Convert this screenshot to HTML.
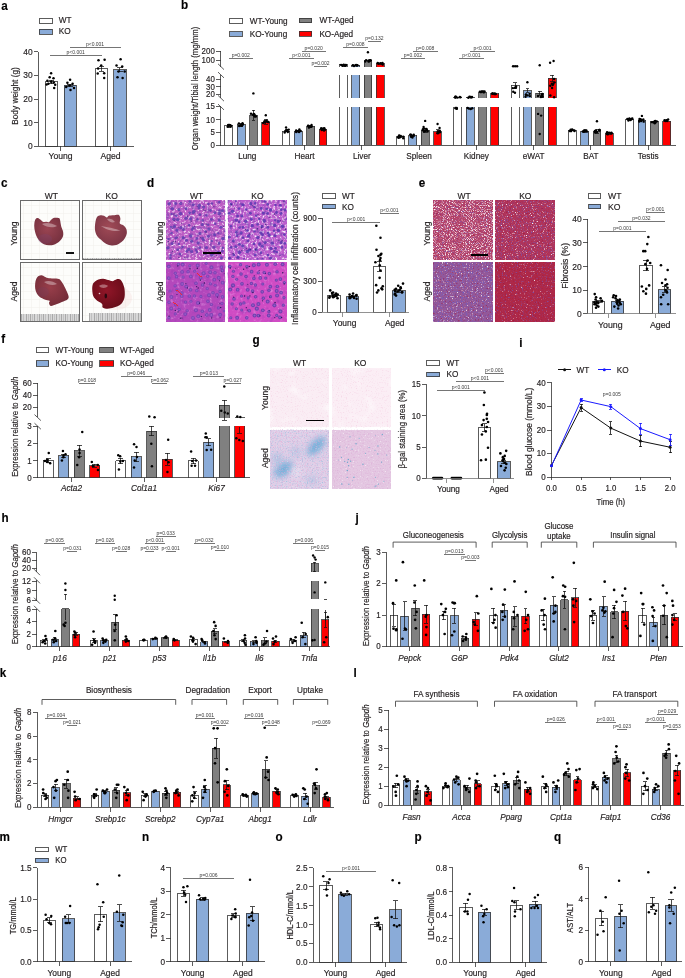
<!DOCTYPE html>
<html><head><meta charset="utf-8"><style>
html,body{margin:0;padding:0;background:#fff;}
svg{display:block;will-change:transform;}
rect,line{shape-rendering:crispEdges;}
line.s{shape-rendering:auto;}
text{font-family:"Liberation Sans", sans-serif;stroke:currentColor;stroke-width:0.18px;}
</style></head><body>
<svg width="685" height="978" viewBox="0 0 685 978">
<defs><radialGradient id="lg1" cx="0.45" cy="0.4" r="0.65"><stop offset="0" stop-color="#9a4452"/><stop offset="1" stop-color="#74303e"/></radialGradient><radialGradient id="lg2" cx="0.45" cy="0.4" r="0.65"><stop offset="0" stop-color="#a04a56"/><stop offset="1" stop-color="#7a3444"/></radialGradient><radialGradient id="lg3" cx="0.45" cy="0.4" r="0.65"><stop offset="0" stop-color="#983e4a"/><stop offset="1" stop-color="#722c38"/></radialGradient><radialGradient id="lg4" cx="0.45" cy="0.4" r="0.65"><stop offset="0" stop-color="#901628"/><stop offset="1" stop-color="#660c18"/></radialGradient><filter id="n1" filterUnits="userSpaceOnUse" x="166.2" y="200.2" width="59" height="59.5" color-interpolation-filters="sRGB"><feTurbulence type="fractalNoise" baseFrequency="0.45" numOctaves="2" seed="11"/><feColorMatrix type="matrix" values="0 0 0 0 0.98 0 0 0 0 0.91 0 0 0 0 0.98 3.32 0 0 0 -1.66"/></filter><filter id="n2" filterUnits="userSpaceOnUse" x="166.2" y="200.2" width="59" height="59.5" color-interpolation-filters="sRGB"><feTurbulence type="fractalNoise" baseFrequency="0.3" numOctaves="2" seed="51"/><feColorMatrix type="matrix" values="0 0 0 0 0.44 0 0 0 0 0.25 0 0 0 0 0.69 0 2.1 0 0 -1.09"/></filter><filter id="n3" filterUnits="userSpaceOnUse" x="227.9" y="200.2" width="59" height="59.5" color-interpolation-filters="sRGB"><feTurbulence type="fractalNoise" baseFrequency="0.45" numOctaves="2" seed="12"/><feColorMatrix type="matrix" values="0 0 0 0 0.98 0 0 0 0 0.91 0 0 0 0 0.98 3.32 0 0 0 -1.6"/></filter><filter id="n4" filterUnits="userSpaceOnUse" x="227.9" y="200.2" width="59" height="59.5" color-interpolation-filters="sRGB"><feTurbulence type="fractalNoise" baseFrequency="0.3" numOctaves="2" seed="52"/><feColorMatrix type="matrix" values="0 0 0 0 0.44 0 0 0 0 0.25 0 0 0 0 0.69 0 2.1 0 0 -1.09"/></filter><filter id="n5" filterUnits="userSpaceOnUse" x="166.2" y="262.1" width="59" height="59.4" color-interpolation-filters="sRGB"><feTurbulence type="fractalNoise" baseFrequency="0.3" numOctaves="2" seed="13"/><feColorMatrix type="matrix" values="0 0 0 0 0.91 0 0 0 0 0.63 0 0 0 0 0.91 1.65 0 0 0 -0.91"/></filter><filter id="n6" filterUnits="userSpaceOnUse" x="166.2" y="262.1" width="59" height="59.4" color-interpolation-filters="sRGB"><feTurbulence type="fractalNoise" baseFrequency="0.2" numOctaves="2" seed="63"/><feColorMatrix type="matrix" values="0 0 0 0 0.54 0 0 0 0 0.19 0 0 0 0 0.69 0 1.2 0 0 -0.66"/></filter><filter id="n7" filterUnits="userSpaceOnUse" x="166.2" y="262.1" width="59" height="59.4" color-interpolation-filters="sRGB"><feTurbulence type="fractalNoise" baseFrequency="0.6" numOctaves="2" seed="83"/><feColorMatrix type="matrix" values="0 0 0 0 1 0 0 0 0 1 0 0 0 0 1 0 0 2.4 0 -1.73"/></filter><filter id="n8" filterUnits="userSpaceOnUse" x="227.9" y="262.1" width="59" height="59.4" color-interpolation-filters="sRGB"><feTurbulence type="fractalNoise" baseFrequency="0.3" numOctaves="2" seed="14"/><feColorMatrix type="matrix" values="0 0 0 0 0.91 0 0 0 0 0.63 0 0 0 0 0.91 1.65 0 0 0 -0.91"/></filter><filter id="n9" filterUnits="userSpaceOnUse" x="227.9" y="262.1" width="59" height="59.4" color-interpolation-filters="sRGB"><feTurbulence type="fractalNoise" baseFrequency="0.2" numOctaves="2" seed="64"/><feColorMatrix type="matrix" values="0 0 0 0 0.54 0 0 0 0 0.19 0 0 0 0 0.69 0 1.2 0 0 -0.66"/></filter><filter id="n10" filterUnits="userSpaceOnUse" x="227.9" y="262.1" width="59" height="59.4" color-interpolation-filters="sRGB"><feTurbulence type="fractalNoise" baseFrequency="0.6" numOctaves="2" seed="84"/><feColorMatrix type="matrix" values="0 0 0 0 1 0 0 0 0 1 0 0 0 0 1 0 0 2.4 0 -1.73"/></filter><filter id="n11" filterUnits="userSpaceOnUse" x="433.4" y="200.2" width="59.4" height="59.5" color-interpolation-filters="sRGB"><feTurbulence type="fractalNoise" baseFrequency="0.8" numOctaves="2" seed="51"/><feColorMatrix type="matrix" values="0 0 0 0 0.42 0 0 0 0 0.36 0 0 0 0 0.78 0 2.8 0 0 -1.57"/></filter><filter id="n12" filterUnits="userSpaceOnUse" x="433.4" y="200.2" width="59.4" height="59.5" color-interpolation-filters="sRGB"><feTurbulence type="fractalNoise" baseFrequency="0.95" numOctaves="2" seed="21"/><feColorMatrix type="matrix" values="0 0 0 0 1 0 0 0 0 0.96 0 0 0 0 0.97 3.8 0 0 0 -1.86"/></filter><filter id="n13" filterUnits="userSpaceOnUse" x="433.4" y="200.2" width="59.4" height="59.5" color-interpolation-filters="sRGB"><feTurbulence type="fractalNoise" baseFrequency="0.6" numOctaves="2" seed="81"/><feColorMatrix type="matrix" values="0 0 0 0 0.63 0 0 0 0 0.06 0 0 0 0 0.19 0 0 2 0 -1.12"/></filter><filter id="n14" filterUnits="userSpaceOnUse" x="495" y="200.2" width="59.5" height="59.5" color-interpolation-filters="sRGB"><feTurbulence type="fractalNoise" baseFrequency="0.8" numOctaves="2" seed="52"/><feColorMatrix type="matrix" values="0 0 0 0 0.42 0 0 0 0 0.36 0 0 0 0 0.78 0 2.8 0 0 -1.51"/></filter><filter id="n15" filterUnits="userSpaceOnUse" x="495" y="200.2" width="59.5" height="59.5" color-interpolation-filters="sRGB"><feTurbulence type="fractalNoise" baseFrequency="0.9" numOctaves="2" seed="22"/><feColorMatrix type="matrix" values="0 0 0 0 1 0 0 0 0 0.96 0 0 0 0 0.97 3.8 0 0 0 -2.28"/></filter><filter id="n16" filterUnits="userSpaceOnUse" x="495" y="200.2" width="59.5" height="59.5" color-interpolation-filters="sRGB"><feTurbulence type="fractalNoise" baseFrequency="0.6" numOctaves="2" seed="82"/><feColorMatrix type="matrix" values="0 0 0 0 0.63 0 0 0 0 0.06 0 0 0 0 0.19 0 0 2 0 -1.12"/></filter><filter id="n17" filterUnits="userSpaceOnUse" x="433.4" y="262.1" width="59.4" height="59.4" color-interpolation-filters="sRGB"><feTurbulence type="fractalNoise" baseFrequency="0.8" numOctaves="2" seed="53"/><feColorMatrix type="matrix" values="0 0 0 0 0.42 0 0 0 0 0.36 0 0 0 0 0.78 0 2.8 0 0 -1.4"/></filter><filter id="n18" filterUnits="userSpaceOnUse" x="433.4" y="262.1" width="59.4" height="59.4" color-interpolation-filters="sRGB"><feTurbulence type="fractalNoise" baseFrequency="0.8" numOctaves="2" seed="23"/><feColorMatrix type="matrix" values="0 0 0 0 1 0 0 0 0 0.96 0 0 0 0 0.97 3.8 0 0 0 -2.36"/></filter><filter id="n19" filterUnits="userSpaceOnUse" x="433.4" y="262.1" width="59.4" height="59.4" color-interpolation-filters="sRGB"><feTurbulence type="fractalNoise" baseFrequency="0.6" numOctaves="2" seed="83"/><feColorMatrix type="matrix" values="0 0 0 0 0.63 0 0 0 0 0.06 0 0 0 0 0.19 0 0 2 0 -1.12"/></filter><filter id="n20" filterUnits="userSpaceOnUse" x="495" y="262.1" width="59.5" height="59.4" color-interpolation-filters="sRGB"><feTurbulence type="fractalNoise" baseFrequency="0.8" numOctaves="2" seed="54"/><feColorMatrix type="matrix" values="0 0 0 0 0.42 0 0 0 0 0.36 0 0 0 0 0.78 0 2.8 0 0 -1.62"/></filter><filter id="n21" filterUnits="userSpaceOnUse" x="495" y="262.1" width="59.5" height="59.4" color-interpolation-filters="sRGB"><feTurbulence type="fractalNoise" baseFrequency="0.7" numOctaves="2" seed="24"/><feColorMatrix type="matrix" values="0 0 0 0 1 0 0 0 0 0.96 0 0 0 0 0.97 3.8 0 0 0 -2.51"/></filter><filter id="n22" filterUnits="userSpaceOnUse" x="495" y="262.1" width="59.5" height="59.4" color-interpolation-filters="sRGB"><feTurbulence type="fractalNoise" baseFrequency="0.6" numOctaves="2" seed="84"/><feColorMatrix type="matrix" values="0 0 0 0 0.63 0 0 0 0 0.06 0 0 0 0 0.19 0 0 2 0 -1.12"/></filter><filter id="n23" filterUnits="userSpaceOnUse" x="270.4" y="368" width="58.4" height="59.1" color-interpolation-filters="sRGB"><feTurbulence type="fractalNoise" baseFrequency="0.8" numOctaves="2" seed="31"/><feColorMatrix type="matrix" values="0 0 0 0 0.94 0 0 0 0 0.72 0 0 0 0 0.83 1.26 0 0 0 -0.69"/></filter><filter id="n24" filterUnits="userSpaceOnUse" x="270.4" y="368" width="58.4" height="59.1" color-interpolation-filters="sRGB"><feTurbulence type="fractalNoise" baseFrequency="0.08" numOctaves="2" seed="36"/><feColorMatrix type="matrix" values="0 0 0 0 1 0 0 0 0 1 0 0 0 0 1 0 1.5 0 0 -0.83"/></filter><filter id="n25" filterUnits="userSpaceOnUse" x="332.1" y="368" width="58.5" height="59.1" color-interpolation-filters="sRGB"><feTurbulence type="fractalNoise" baseFrequency="0.8" numOctaves="2" seed="32"/><feColorMatrix type="matrix" values="0 0 0 0 0.94 0 0 0 0 0.72 0 0 0 0 0.83 1.26 0 0 0 -0.69"/></filter><filter id="n26" filterUnits="userSpaceOnUse" x="332.1" y="368" width="58.5" height="59.1" color-interpolation-filters="sRGB"><feTurbulence type="fractalNoise" baseFrequency="0.08" numOctaves="2" seed="37"/><feColorMatrix type="matrix" values="0 0 0 0 1 0 0 0 0 1 0 0 0 0 1 0 1.5 0 0 -0.83"/></filter><filter id="gb1" filterUnits="userSpaceOnUse" x="270.4" y="429.8" width="58.4" height="59.1"><feGaussianBlur stdDeviation="3.2"/></filter><filter id="n27" filterUnits="userSpaceOnUse" x="270.4" y="429.8" width="58.4" height="59.1" color-interpolation-filters="sRGB"><feTurbulence type="fractalNoise" baseFrequency="0.8" numOctaves="2" seed="33"/><feColorMatrix type="matrix" values="0 0 0 0 0.89 0 0 0 0 0.66 0 0 0 0 0.83 2.1 0 0 0 -1.05"/></filter><filter id="n28" filterUnits="userSpaceOnUse" x="270.4" y="429.8" width="58.4" height="59.1" color-interpolation-filters="sRGB"><feTurbulence type="fractalNoise" baseFrequency="0.8" numOctaves="2" seed="40"/><feColorMatrix type="matrix" values="0 0 0 0 0.55 0 0 0 0 0.75 0 0 0 0 0.88 0 1.95 0 0 -1.05"/></filter><filter id="n29" filterUnits="userSpaceOnUse" x="270.4" y="429.8" width="58.4" height="59.1" color-interpolation-filters="sRGB"><feTurbulence type="fractalNoise" baseFrequency="0.8" numOctaves="2" seed="42"/><feColorMatrix type="matrix" values="0 0 0 0 1 0 0 0 0 1 0 0 0 0 1 0 0 1.35 0 -0.84"/></filter><filter id="n30" filterUnits="userSpaceOnUse" x="332.1" y="429.8" width="58.5" height="59.1" color-interpolation-filters="sRGB"><feTurbulence type="fractalNoise" baseFrequency="0.7" numOctaves="2" seed="34"/><feColorMatrix type="matrix" values="0 0 0 0 0.85 0 0 0 0 0.63 0 0 0 0 0.82 1.5 0 0 0 -0.75"/></filter><filter id="n31" filterUnits="userSpaceOnUse" x="332.1" y="429.8" width="58.5" height="59.1" color-interpolation-filters="sRGB"><feTurbulence type="fractalNoise" baseFrequency="0.6" numOctaves="2" seed="37"/><feColorMatrix type="matrix" values="0 0 0 0 1 0 0 0 0 1 0 0 0 0 1 0 3.5 0 0 -2.31"/></filter></defs>
<rect width="685" height="978" fill="#fff"/><g fill="#231f20" color="#231f20">
<text x="0" y="0" font-size="13" font-weight="bold" fill="#000" transform="translate(1.3 9.6) scale(0.9 1)">a</text>
<rect x="39" y="18" width="13" height="5" fill="#ffffff" stroke="#333333" stroke-width="0.8"/>
<text x="0" y="0" font-size="9.02" transform="translate(58.7 23.45) scale(0.91 1)">WT</text>
<rect x="39" y="29" width="13" height="5" fill="#8aabd8" stroke="#333333" stroke-width="0.8"/>
<text x="0" y="0" font-size="9.02" transform="translate(58.7 34.45) scale(0.91 1)">KO</text>
<line x1="38.4" y1="51.6" x2="38.4" y2="146.3" stroke="#333333" stroke-width="0.8"/>
<line x1="34" y1="146.3" x2="38.4" y2="146.3" stroke="#333333" stroke-width="0.8"/>
<text x="0" y="0" font-size="9.24" text-anchor="end" transform="translate(32.6 149.32) scale(0.91 1)">0</text>
<line x1="34" y1="122.65" x2="38.4" y2="122.65" stroke="#333333" stroke-width="0.8"/>
<text x="0" y="0" font-size="9.24" text-anchor="end" transform="translate(32.6 125.67) scale(0.91 1)">10</text>
<line x1="34" y1="99" x2="38.4" y2="99" stroke="#333333" stroke-width="0.8"/>
<text x="0" y="0" font-size="9.24" text-anchor="end" transform="translate(32.6 102.02) scale(0.91 1)">20</text>
<line x1="34" y1="75.35" x2="38.4" y2="75.35" stroke="#333333" stroke-width="0.8"/>
<text x="0" y="0" font-size="9.24" text-anchor="end" transform="translate(32.6 78.37) scale(0.91 1)">30</text>
<line x1="34" y1="51.7" x2="38.4" y2="51.7" stroke="#333333" stroke-width="0.8"/>
<text x="0" y="0" font-size="9.24" text-anchor="end" transform="translate(32.6 54.72) scale(0.91 1)">40</text>
<rect x="45.4" y="81.97" width="12.2" height="64.33" fill="#ffffff" stroke="#333333" stroke-width="0.8"/>
<rect x="64" y="85.28" width="12.2" height="61.02" fill="#8aabd8" stroke="#333333" stroke-width="0.8"/>
<rect x="95" y="68.96" width="12.7" height="77.34" fill="#ffffff" stroke="#333333" stroke-width="0.8"/>
<rect x="113.8" y="69.67" width="12.3" height="76.63" fill="#8aabd8" stroke="#333333" stroke-width="0.8"/>
<line x1="51.5" y1="80.08" x2="51.5" y2="83.86" stroke="#111" stroke-width="0.75"/>
<line x1="48.82" y1="80.08" x2="54.18" y2="80.08" stroke="#111" stroke-width="0.75"/>
<line x1="48.82" y1="83.86" x2="54.18" y2="83.86" stroke="#111" stroke-width="0.75"/>
<circle cx="51.1" cy="73.2" r="1.25" fill="#000"/>
<circle cx="49.7" cy="77.3" r="1.25" fill="#000"/>
<circle cx="53.5" cy="78.3" r="1.25" fill="#000"/>
<circle cx="47.4" cy="80.7" r="1.25" fill="#000"/>
<circle cx="51.1" cy="81.7" r="1.25" fill="#000"/>
<circle cx="53.8" cy="82.4" r="1.25" fill="#000"/>
<circle cx="48.4" cy="83.8" r="1.25" fill="#000"/>
<circle cx="55.2" cy="84.8" r="1.25" fill="#000"/>
<circle cx="54.2" cy="87.9" r="1.25" fill="#000"/>
<circle cx="46.6" cy="84.6" r="1.25" fill="#000"/>
<line x1="70.1" y1="84.1" x2="70.1" y2="86.47" stroke="#111" stroke-width="0.75"/>
<line x1="67.42" y1="84.1" x2="72.78" y2="84.1" stroke="#111" stroke-width="0.75"/>
<line x1="67.42" y1="86.47" x2="72.78" y2="86.47" stroke="#111" stroke-width="0.75"/>
<circle cx="70.1" cy="79.7" r="1.25" fill="#000"/>
<circle cx="67.4" cy="82.8" r="1.25" fill="#000"/>
<circle cx="72.6" cy="83.8" r="1.25" fill="#000"/>
<circle cx="69.5" cy="85.6" r="1.25" fill="#000"/>
<circle cx="74" cy="87.9" r="1.25" fill="#000"/>
<circle cx="70.5" cy="89.9" r="1.25" fill="#000"/>
<circle cx="66.2" cy="87" r="1.25" fill="#000"/>
<line x1="101.35" y1="66.6" x2="101.35" y2="71.33" stroke="#111" stroke-width="0.75"/>
<line x1="98.56" y1="66.6" x2="104.14" y2="66.6" stroke="#111" stroke-width="0.75"/>
<line x1="98.56" y1="71.33" x2="104.14" y2="71.33" stroke="#111" stroke-width="0.75"/>
<circle cx="98.5" cy="60.3" r="1.25" fill="#000"/>
<circle cx="104.6" cy="59.7" r="1.25" fill="#000"/>
<circle cx="98.1" cy="68.5" r="1.25" fill="#000"/>
<circle cx="101.2" cy="65.4" r="1.25" fill="#000"/>
<circle cx="97.7" cy="73.6" r="1.25" fill="#000"/>
<circle cx="104.2" cy="73.2" r="1.25" fill="#000"/>
<circle cx="104.2" cy="78.1" r="1.25" fill="#000"/>
<line x1="119.95" y1="67.55" x2="119.95" y2="71.8" stroke="#111" stroke-width="0.75"/>
<line x1="117.24" y1="67.55" x2="122.66" y2="67.55" stroke="#111" stroke-width="0.75"/>
<line x1="117.24" y1="71.8" x2="122.66" y2="71.8" stroke="#111" stroke-width="0.75"/>
<circle cx="120.6" cy="59.3" r="1.25" fill="#000"/>
<circle cx="116.5" cy="65.4" r="1.25" fill="#000"/>
<circle cx="122.2" cy="66.4" r="1.25" fill="#000"/>
<circle cx="118.5" cy="71.5" r="1.25" fill="#000"/>
<circle cx="124.7" cy="71.5" r="1.25" fill="#000"/>
<circle cx="117.5" cy="77.3" r="1.25" fill="#000"/>
<circle cx="122.6" cy="78.1" r="1.25" fill="#000"/>
<line x1="38" y1="146.3" x2="134" y2="146.3" stroke="#333333" stroke-width="0.8"/>
<line x1="60.5" y1="146.3" x2="60.5" y2="150.9" stroke="#333333" stroke-width="0.8"/>
<line x1="110.6" y1="146.3" x2="110.6" y2="150.9" stroke="#333333" stroke-width="0.8"/>
<text x="0" y="0" font-size="9.46" text-anchor="middle" transform="translate(60.5 159.4) scale(0.91 1)">Young</text>
<text x="0" y="0" font-size="9.46" text-anchor="middle" transform="translate(110.6 159.4) scale(0.91 1)">Aged</text>
<text x="0" y="0" font-size="9.13" text-anchor="middle" transform="translate(18.2 96) rotate(-90) scale(0.91 1)">Body weight (g)</text>
<line x1="49.7" y1="55.3" x2="101.6" y2="55.3" stroke="#666" stroke-width="0.9"/>
<text x="75.65" y="53.8" font-size="5" text-anchor="middle" fill="#3a3a3a" style="stroke:none">p&lt;0.001</text>
<line x1="69.5" y1="47.6" x2="120.6" y2="47.6" stroke="#666" stroke-width="0.9"/>
<text x="95.05" y="46.1" font-size="5" text-anchor="middle" fill="#3a3a3a" style="stroke:none">p&lt;0.001</text>
<text x="0" y="0" font-size="13" font-weight="bold" fill="#000" transform="translate(-0.4 841) scale(0.9 1)">m</text>
<rect x="35.4" y="847.4" width="13" height="4.5" fill="#ffffff" stroke="#333333" stroke-width="0.8"/>
<text x="0" y="0" font-size="8.58" transform="translate(55.2 852.46) scale(0.91 1)">WT</text>
<rect x="35.4" y="858" width="13" height="4.1" fill="#8aabd8" stroke="#333333" stroke-width="0.8"/>
<text x="0" y="0" font-size="8.58" transform="translate(55.2 862.86) scale(0.91 1)">KO</text>
<line x1="37.4" y1="867.8" x2="37.4" y2="961.8" stroke="#333333" stroke-width="0.8"/>
<line x1="33" y1="961.8" x2="37.4" y2="961.8" stroke="#333333" stroke-width="0.8"/>
<text x="0" y="0" font-size="9.02" text-anchor="end" transform="translate(31.6 964.75) scale(0.91 1)">0.0</text>
<line x1="33" y1="930.5" x2="37.4" y2="930.5" stroke="#333333" stroke-width="0.8"/>
<text x="0" y="0" font-size="9.02" text-anchor="end" transform="translate(31.6 933.45) scale(0.91 1)">0.5</text>
<line x1="33" y1="899.2" x2="37.4" y2="899.2" stroke="#333333" stroke-width="0.8"/>
<text x="0" y="0" font-size="9.02" text-anchor="end" transform="translate(31.6 902.15) scale(0.91 1)">1.0</text>
<line x1="33" y1="867.9" x2="37.4" y2="867.9" stroke="#333333" stroke-width="0.8"/>
<text x="0" y="0" font-size="9.02" text-anchor="end" transform="translate(31.6 870.85) scale(0.91 1)">1.5</text>
<rect x="43.3" y="920.48" width="12.5" height="41.32" fill="#ffffff" stroke="#333333" stroke-width="0.8"/>
<rect x="62.3" y="918.61" width="12.5" height="43.19" fill="#8aabd8" stroke="#333333" stroke-width="0.8"/>
<rect x="94.4" y="914.22" width="12.3" height="47.58" fill="#ffffff" stroke="#333333" stroke-width="0.8"/>
<rect x="113.4" y="912.97" width="11.9" height="48.83" fill="#8aabd8" stroke="#333333" stroke-width="0.8"/>
<line x1="49.55" y1="917.98" x2="49.55" y2="922.99" stroke="#111" stroke-width="0.75"/>
<line x1="46.8" y1="917.98" x2="52.3" y2="917.98" stroke="#111" stroke-width="0.75"/>
<line x1="46.8" y1="922.99" x2="52.3" y2="922.99" stroke="#111" stroke-width="0.75"/>
<circle cx="45.63" cy="914.85" r="1.25" fill="#000"/>
<circle cx="51.22" cy="916.1" r="1.25" fill="#000"/>
<circle cx="46.52" cy="919.23" r="1.25" fill="#000"/>
<circle cx="49.23" cy="922.99" r="1.25" fill="#000"/>
<circle cx="51.01" cy="924.24" r="1.25" fill="#000"/>
<line x1="68.55" y1="914.85" x2="68.55" y2="922.36" stroke="#111" stroke-width="0.75"/>
<line x1="65.8" y1="914.85" x2="71.3" y2="914.85" stroke="#111" stroke-width="0.75"/>
<line x1="65.8" y1="922.36" x2="71.3" y2="922.36" stroke="#111" stroke-width="0.75"/>
<circle cx="70.12" cy="906.09" r="1.25" fill="#000"/>
<circle cx="65.11" cy="916.73" r="1.25" fill="#000"/>
<circle cx="65.72" cy="922.99" r="1.25" fill="#000"/>
<circle cx="69.44" cy="922.99" r="1.25" fill="#000"/>
<circle cx="67.09" cy="922.99" r="1.25" fill="#000"/>
<line x1="100.55" y1="906.71" x2="100.55" y2="921.74" stroke="#111" stroke-width="0.75"/>
<line x1="97.84" y1="906.71" x2="103.26" y2="906.71" stroke="#111" stroke-width="0.75"/>
<line x1="97.84" y1="921.74" x2="103.26" y2="921.74" stroke="#111" stroke-width="0.75"/>
<circle cx="97.46" cy="884.18" r="1.25" fill="#000"/>
<circle cx="103.19" cy="902.33" r="1.25" fill="#000"/>
<circle cx="103.73" cy="916.73" r="1.25" fill="#000"/>
<circle cx="99.59" cy="924.87" r="1.25" fill="#000"/>
<circle cx="98.68" cy="927.37" r="1.25" fill="#000"/>
<circle cx="98.01" cy="929.25" r="1.25" fill="#000"/>
<line x1="119.35" y1="904.83" x2="119.35" y2="921.11" stroke="#111" stroke-width="0.75"/>
<line x1="116.73" y1="904.83" x2="121.97" y2="904.83" stroke="#111" stroke-width="0.75"/>
<line x1="116.73" y1="921.11" x2="121.97" y2="921.11" stroke="#111" stroke-width="0.75"/>
<circle cx="119.22" cy="875.41" r="1.25" fill="#000"/>
<circle cx="116.91" cy="911.72" r="1.25" fill="#000"/>
<circle cx="123.27" cy="914.85" r="1.25" fill="#000"/>
<circle cx="122.68" cy="922.36" r="1.25" fill="#000"/>
<circle cx="121.34" cy="925.49" r="1.25" fill="#000"/>
<circle cx="122.07" cy="926.12" r="1.25" fill="#000"/>
<line x1="37" y1="961.8" x2="131.8" y2="961.8" stroke="#333333" stroke-width="0.8"/>
<line x1="59.3" y1="961.8" x2="59.3" y2="966.4" stroke="#333333" stroke-width="0.8"/>
<line x1="110" y1="961.8" x2="110" y2="966.4" stroke="#333333" stroke-width="0.8"/>
<text x="0" y="0" font-size="9.24" text-anchor="middle" transform="translate(59.3 975.5) scale(0.91 1)">Young</text>
<text x="0" y="0" font-size="9.24" text-anchor="middle" transform="translate(110 975.5) scale(0.91 1)">Aged</text>
<text x="0" y="0" font-size="8.25" text-anchor="middle" transform="translate(16.1 915.8) rotate(-90) scale(0.91 1)">TG/mmol/L</text>
<text x="0" y="0" font-size="13" font-weight="bold" fill="#000" transform="translate(142 841) scale(0.9 1)">n</text>
<line x1="170.8" y1="867.8" x2="170.8" y2="961.8" stroke="#333333" stroke-width="0.8"/>
<line x1="166.4" y1="961.8" x2="170.8" y2="961.8" stroke="#333333" stroke-width="0.8"/>
<text x="0" y="0" font-size="9.02" text-anchor="end" transform="translate(165 964.75) scale(0.91 1)">0</text>
<line x1="166.4" y1="938.3" x2="170.8" y2="938.3" stroke="#333333" stroke-width="0.8"/>
<text x="0" y="0" font-size="9.02" text-anchor="end" transform="translate(165 941.25) scale(0.91 1)">1</text>
<line x1="166.4" y1="914.8" x2="170.8" y2="914.8" stroke="#333333" stroke-width="0.8"/>
<text x="0" y="0" font-size="9.02" text-anchor="end" transform="translate(165 917.75) scale(0.91 1)">2</text>
<line x1="166.4" y1="891.3" x2="170.8" y2="891.3" stroke="#333333" stroke-width="0.8"/>
<text x="0" y="0" font-size="9.02" text-anchor="end" transform="translate(165 894.25) scale(0.91 1)">3</text>
<line x1="166.4" y1="867.8" x2="170.8" y2="867.8" stroke="#333333" stroke-width="0.8"/>
<text x="0" y="0" font-size="9.02" text-anchor="end" transform="translate(165 870.75) scale(0.91 1)">4</text>
<rect x="177.3" y="893.41" width="12.3" height="68.38" fill="#ffffff" stroke="#333333" stroke-width="0.8"/>
<rect x="196.3" y="899.05" width="12.3" height="62.75" fill="#8aabd8" stroke="#333333" stroke-width="0.8"/>
<rect x="227.4" y="915.5" width="12.4" height="46.29" fill="#ffffff" stroke="#333333" stroke-width="0.8"/>
<rect x="246.4" y="913.39" width="12.2" height="48.41" fill="#8aabd8" stroke="#333333" stroke-width="0.8"/>
<line x1="183.45" y1="890.36" x2="183.45" y2="896.47" stroke="#111" stroke-width="0.75"/>
<line x1="180.74" y1="890.36" x2="186.16" y2="890.36" stroke="#111" stroke-width="0.75"/>
<line x1="180.74" y1="896.47" x2="186.16" y2="896.47" stroke="#111" stroke-width="0.75"/>
<circle cx="187.36" cy="886.13" r="1.25" fill="#000"/>
<circle cx="183.44" cy="887.3" r="1.25" fill="#000"/>
<circle cx="184.14" cy="892.47" r="1.25" fill="#000"/>
<circle cx="185.2" cy="894.82" r="1.25" fill="#000"/>
<circle cx="186.03" cy="901.88" r="1.25" fill="#000"/>
<line x1="202.45" y1="897.88" x2="202.45" y2="900.23" stroke="#111" stroke-width="0.75"/>
<line x1="199.74" y1="897.88" x2="205.16" y2="897.88" stroke="#111" stroke-width="0.75"/>
<line x1="199.74" y1="900.23" x2="205.16" y2="900.23" stroke="#111" stroke-width="0.75"/>
<circle cx="199.03" cy="895.29" r="1.25" fill="#000"/>
<circle cx="205.31" cy="897.88" r="1.25" fill="#000"/>
<circle cx="203.29" cy="898.82" r="1.25" fill="#000"/>
<circle cx="200.05" cy="899.29" r="1.25" fill="#000"/>
<circle cx="204.79" cy="899.52" r="1.25" fill="#000"/>
<line x1="233.6" y1="913.62" x2="233.6" y2="917.38" stroke="#111" stroke-width="0.75"/>
<line x1="230.87" y1="913.62" x2="236.33" y2="913.62" stroke="#111" stroke-width="0.75"/>
<line x1="230.87" y1="917.38" x2="236.33" y2="917.38" stroke="#111" stroke-width="0.75"/>
<circle cx="235.19" cy="909.16" r="1.25" fill="#000"/>
<circle cx="235.74" cy="913.62" r="1.25" fill="#000"/>
<circle cx="232.37" cy="915.5" r="1.25" fill="#000"/>
<circle cx="235.3" cy="916.44" r="1.25" fill="#000"/>
<circle cx="235.38" cy="917.15" r="1.25" fill="#000"/>
<circle cx="231.37" cy="919.03" r="1.25" fill="#000"/>
<line x1="252.5" y1="906.57" x2="252.5" y2="920.2" stroke="#111" stroke-width="0.75"/>
<line x1="249.82" y1="906.57" x2="255.18" y2="906.57" stroke="#111" stroke-width="0.75"/>
<line x1="249.82" y1="920.2" x2="255.18" y2="920.2" stroke="#111" stroke-width="0.75"/>
<circle cx="249.99" cy="879.78" r="1.25" fill="#000"/>
<circle cx="252.04" cy="912.45" r="1.25" fill="#000"/>
<circle cx="251.2" cy="915.97" r="1.25" fill="#000"/>
<circle cx="249.21" cy="917.15" r="1.25" fill="#000"/>
<circle cx="252.95" cy="920.67" r="1.25" fill="#000"/>
<circle cx="248.66" cy="925.38" r="1.25" fill="#000"/>
<line x1="170.4" y1="961.8" x2="265.4" y2="961.8" stroke="#333333" stroke-width="0.8"/>
<line x1="192.6" y1="961.8" x2="192.6" y2="966.4" stroke="#333333" stroke-width="0.8"/>
<line x1="242.9" y1="961.8" x2="242.9" y2="966.4" stroke="#333333" stroke-width="0.8"/>
<text x="0" y="0" font-size="9.24" text-anchor="middle" transform="translate(192.6 975.5) scale(0.91 1)">Young</text>
<text x="0" y="0" font-size="9.24" text-anchor="middle" transform="translate(242.9 975.5) scale(0.91 1)">Aged</text>
<line x1="183.4" y1="878.4" x2="233.7" y2="878.4" stroke="#666" stroke-width="0.9"/>
<text x="208.55" y="876.9" font-size="5" text-anchor="middle" fill="#3a3a3a" style="stroke:none">p=0.006</text>
<text x="0" y="0" font-size="8.25" text-anchor="middle" transform="translate(156.6 917.9) rotate(-90) scale(0.91 1)">TCh/mmol/L</text>
<text x="0" y="0" font-size="13" font-weight="bold" fill="#000" transform="translate(275.5 841) scale(0.9 1)">o</text>
<line x1="313.3" y1="867.8" x2="313.3" y2="962.4" stroke="#333333" stroke-width="0.8"/>
<line x1="308.9" y1="962.4" x2="313.3" y2="962.4" stroke="#333333" stroke-width="0.8"/>
<text x="0" y="0" font-size="9.02" text-anchor="end" transform="translate(307.5 965.35) scale(0.91 1)">0.0</text>
<line x1="308.9" y1="943.5" x2="313.3" y2="943.5" stroke="#333333" stroke-width="0.8"/>
<text x="0" y="0" font-size="9.02" text-anchor="end" transform="translate(307.5 946.45) scale(0.91 1)">0.5</text>
<line x1="308.9" y1="924.6" x2="313.3" y2="924.6" stroke="#333333" stroke-width="0.8"/>
<text x="0" y="0" font-size="9.02" text-anchor="end" transform="translate(307.5 927.55) scale(0.91 1)">1.0</text>
<line x1="308.9" y1="905.7" x2="313.3" y2="905.7" stroke="#333333" stroke-width="0.8"/>
<text x="0" y="0" font-size="9.02" text-anchor="end" transform="translate(307.5 908.65) scale(0.91 1)">1.5</text>
<line x1="308.9" y1="886.8" x2="313.3" y2="886.8" stroke="#333333" stroke-width="0.8"/>
<text x="0" y="0" font-size="9.02" text-anchor="end" transform="translate(307.5 889.75) scale(0.91 1)">2.0</text>
<line x1="308.9" y1="867.9" x2="313.3" y2="867.9" stroke="#333333" stroke-width="0.8"/>
<text x="0" y="0" font-size="9.02" text-anchor="end" transform="translate(307.5 870.85) scale(0.91 1)">2.5</text>
<rect x="319.7" y="885.29" width="12.6" height="77.11" fill="#ffffff" stroke="#333333" stroke-width="0.8"/>
<rect x="338.9" y="894.36" width="12.2" height="68.04" fill="#8aabd8" stroke="#333333" stroke-width="0.8"/>
<rect x="370.1" y="924.6" width="12.3" height="37.8" fill="#ffffff" stroke="#333333" stroke-width="0.8"/>
<rect x="389.6" y="909.86" width="11.8" height="52.54" fill="#8aabd8" stroke="#333333" stroke-width="0.8"/>
<line x1="326" y1="881.51" x2="326" y2="889.07" stroke="#111" stroke-width="0.75"/>
<line x1="323.23" y1="881.51" x2="328.77" y2="881.51" stroke="#111" stroke-width="0.75"/>
<line x1="323.23" y1="889.07" x2="328.77" y2="889.07" stroke="#111" stroke-width="0.75"/>
<circle cx="323.24" cy="876.22" r="1.25" fill="#000"/>
<circle cx="329.59" cy="879.24" r="1.25" fill="#000"/>
<circle cx="328.47" cy="883.02" r="1.25" fill="#000"/>
<circle cx="326.33" cy="889.45" r="1.25" fill="#000"/>
<circle cx="326.95" cy="895.49" r="1.25" fill="#000"/>
<line x1="345" y1="893.23" x2="345" y2="895.49" stroke="#111" stroke-width="0.75"/>
<line x1="342.32" y1="893.23" x2="347.68" y2="893.23" stroke="#111" stroke-width="0.75"/>
<line x1="342.32" y1="895.49" x2="347.68" y2="895.49" stroke="#111" stroke-width="0.75"/>
<circle cx="347.25" cy="891.34" r="1.25" fill="#000"/>
<circle cx="340.9" cy="892.85" r="1.25" fill="#000"/>
<circle cx="349.14" cy="894.36" r="1.25" fill="#000"/>
<circle cx="341.7" cy="895.12" r="1.25" fill="#000"/>
<circle cx="343.9" cy="895.87" r="1.25" fill="#000"/>
<line x1="376.25" y1="922.33" x2="376.25" y2="926.87" stroke="#111" stroke-width="0.75"/>
<line x1="373.54" y1="922.33" x2="378.96" y2="922.33" stroke="#111" stroke-width="0.75"/>
<line x1="373.54" y1="926.87" x2="378.96" y2="926.87" stroke="#111" stroke-width="0.75"/>
<circle cx="377.46" cy="917.8" r="1.25" fill="#000"/>
<circle cx="375.28" cy="918.17" r="1.25" fill="#000"/>
<circle cx="378.61" cy="922.71" r="1.25" fill="#000"/>
<circle cx="378.27" cy="925.36" r="1.25" fill="#000"/>
<circle cx="379.9" cy="927.62" r="1.25" fill="#000"/>
<circle cx="380.08" cy="929.14" r="1.25" fill="#000"/>
<line x1="395.5" y1="900.79" x2="395.5" y2="918.93" stroke="#111" stroke-width="0.75"/>
<line x1="392.9" y1="900.79" x2="398.1" y2="900.79" stroke="#111" stroke-width="0.75"/>
<line x1="392.9" y1="918.93" x2="398.1" y2="918.93" stroke="#111" stroke-width="0.75"/>
<circle cx="392.67" cy="880.37" r="1.25" fill="#000"/>
<circle cx="399.16" cy="883.02" r="1.25" fill="#000"/>
<circle cx="391.63" cy="917.04" r="1.25" fill="#000"/>
<circle cx="394.12" cy="925.36" r="1.25" fill="#000"/>
<circle cx="399.42" cy="925.36" r="1.25" fill="#000"/>
<circle cx="396.88" cy="926.49" r="1.25" fill="#000"/>
<line x1="312.9" y1="962.4" x2="407.3" y2="962.4" stroke="#333333" stroke-width="0.8"/>
<line x1="335.4" y1="962.4" x2="335.4" y2="967" stroke="#333333" stroke-width="0.8"/>
<line x1="385.5" y1="962.4" x2="385.5" y2="967" stroke="#333333" stroke-width="0.8"/>
<text x="0" y="0" font-size="9.24" text-anchor="middle" transform="translate(335.4 975.5) scale(0.91 1)">Young</text>
<text x="0" y="0" font-size="9.24" text-anchor="middle" transform="translate(385.5 975.5) scale(0.91 1)">Aged</text>
<line x1="326.2" y1="871.3" x2="375.9" y2="871.3" stroke="#666" stroke-width="0.9"/>
<text x="351.05" y="869.8" font-size="5" text-anchor="middle" fill="#3a3a3a" style="stroke:none">p&lt;0.001</text>
<text x="0" y="0" font-size="8.25" text-anchor="middle" transform="translate(293.2 914.8) rotate(-90) scale(0.91 1)">HDL-C/mmol/L</text>
<text x="0" y="0" font-size="13" font-weight="bold" fill="#000" transform="translate(414.6 841.2) scale(0.9 1)">p</text>
<line x1="452.9" y1="868.1" x2="452.9" y2="962.3" stroke="#333333" stroke-width="0.8"/>
<line x1="448.5" y1="962.3" x2="452.9" y2="962.3" stroke="#333333" stroke-width="0.8"/>
<text x="0" y="0" font-size="9.02" text-anchor="end" transform="translate(447.1 965.25) scale(0.91 1)">0.0</text>
<line x1="448.5" y1="938.72" x2="452.9" y2="938.72" stroke="#333333" stroke-width="0.8"/>
<text x="0" y="0" font-size="9.02" text-anchor="end" transform="translate(447.1 941.67) scale(0.91 1)">0.2</text>
<line x1="448.5" y1="915.14" x2="452.9" y2="915.14" stroke="#333333" stroke-width="0.8"/>
<text x="0" y="0" font-size="9.02" text-anchor="end" transform="translate(447.1 918.09) scale(0.91 1)">0.4</text>
<line x1="448.5" y1="891.56" x2="452.9" y2="891.56" stroke="#333333" stroke-width="0.8"/>
<text x="0" y="0" font-size="9.02" text-anchor="end" transform="translate(447.1 894.51) scale(0.91 1)">0.6</text>
<line x1="448.5" y1="867.98" x2="452.9" y2="867.98" stroke="#333333" stroke-width="0.8"/>
<text x="0" y="0" font-size="9.02" text-anchor="end" transform="translate(447.1 870.93) scale(0.91 1)">0.8</text>
<rect x="459.3" y="907.48" width="12.7" height="54.82" fill="#ffffff" stroke="#333333" stroke-width="0.8"/>
<rect x="478.3" y="912.19" width="12.3" height="50.11" fill="#8aabd8" stroke="#333333" stroke-width="0.8"/>
<rect x="510.1" y="905.12" width="12.7" height="57.18" fill="#ffffff" stroke="#333333" stroke-width="0.8"/>
<rect x="529.1" y="904.06" width="12.1" height="58.24" fill="#8aabd8" stroke="#333333" stroke-width="0.8"/>
<line x1="465.65" y1="903.35" x2="465.65" y2="911.6" stroke="#111" stroke-width="0.75"/>
<line x1="462.86" y1="903.35" x2="468.44" y2="903.35" stroke="#111" stroke-width="0.75"/>
<line x1="462.86" y1="911.6" x2="468.44" y2="911.6" stroke="#111" stroke-width="0.75"/>
<circle cx="469.62" cy="893.92" r="1.25" fill="#000"/>
<circle cx="467.97" cy="899.81" r="1.25" fill="#000"/>
<circle cx="467.39" cy="911.6" r="1.25" fill="#000"/>
<circle cx="464.79" cy="911.6" r="1.25" fill="#000"/>
<circle cx="467.76" cy="913.96" r="1.25" fill="#000"/>
<line x1="484.45" y1="909.24" x2="484.45" y2="915.14" stroke="#111" stroke-width="0.75"/>
<line x1="481.74" y1="909.24" x2="487.16" y2="909.24" stroke="#111" stroke-width="0.75"/>
<line x1="481.74" y1="915.14" x2="487.16" y2="915.14" stroke="#111" stroke-width="0.75"/>
<circle cx="481.44" cy="905.71" r="1.25" fill="#000"/>
<circle cx="486.63" cy="909.24" r="1.25" fill="#000"/>
<circle cx="484.31" cy="913.96" r="1.25" fill="#000"/>
<circle cx="483.13" cy="916.32" r="1.25" fill="#000"/>
<circle cx="483.52" cy="922.21" r="1.25" fill="#000"/>
<line x1="516.45" y1="900.99" x2="516.45" y2="909.25" stroke="#111" stroke-width="0.75"/>
<line x1="513.66" y1="900.99" x2="519.24" y2="900.99" stroke="#111" stroke-width="0.75"/>
<line x1="513.66" y1="909.25" x2="519.24" y2="909.25" stroke="#111" stroke-width="0.75"/>
<circle cx="514.08" cy="888.02" r="1.25" fill="#000"/>
<circle cx="512.23" cy="900.99" r="1.25" fill="#000"/>
<circle cx="514.46" cy="902.17" r="1.25" fill="#000"/>
<circle cx="515.04" cy="911.6" r="1.25" fill="#000"/>
<circle cx="520.48" cy="909.24" r="1.25" fill="#000"/>
<circle cx="514.79" cy="916.32" r="1.25" fill="#000"/>
<line x1="535.15" y1="901.46" x2="535.15" y2="906.65" stroke="#111" stroke-width="0.75"/>
<line x1="532.49" y1="901.46" x2="537.81" y2="901.46" stroke="#111" stroke-width="0.75"/>
<line x1="532.49" y1="906.65" x2="537.81" y2="906.65" stroke="#111" stroke-width="0.75"/>
<circle cx="537.95" cy="895.1" r="1.25" fill="#000"/>
<circle cx="534.91" cy="897.45" r="1.25" fill="#000"/>
<circle cx="536.84" cy="905.71" r="1.25" fill="#000"/>
<circle cx="531.36" cy="908.07" r="1.25" fill="#000"/>
<circle cx="537.97" cy="908.07" r="1.25" fill="#000"/>
<circle cx="534.57" cy="908.07" r="1.25" fill="#000"/>
<line x1="452.5" y1="962.3" x2="546.5" y2="962.3" stroke="#333333" stroke-width="0.8"/>
<line x1="475.1" y1="962.3" x2="475.1" y2="966.9" stroke="#333333" stroke-width="0.8"/>
<line x1="525.5" y1="962.3" x2="525.5" y2="966.9" stroke="#333333" stroke-width="0.8"/>
<text x="0" y="0" font-size="9.24" text-anchor="middle" transform="translate(475.1 975.5) scale(0.91 1)">Young</text>
<text x="0" y="0" font-size="9.24" text-anchor="middle" transform="translate(525.5 975.5) scale(0.91 1)">Aged</text>
<text x="0" y="0" font-size="8.25" text-anchor="middle" transform="translate(433.5 915.7) rotate(-90) scale(0.91 1)">LDL-C/mmol/L</text>
<text x="0" y="0" font-size="13" font-weight="bold" fill="#000" transform="translate(554 841.2) scale(0.9 1)">q</text>
<line x1="588.9" y1="867.4" x2="588.9" y2="961.8" stroke="#333333" stroke-width="0.8"/>
<line x1="584.5" y1="961.8" x2="588.9" y2="961.8" stroke="#333333" stroke-width="0.8"/>
<text x="0" y="0" font-size="9.02" text-anchor="end" transform="translate(583.1 964.75) scale(0.91 1)">0</text>
<line x1="584.5" y1="930.34" x2="588.9" y2="930.34" stroke="#333333" stroke-width="0.8"/>
<text x="0" y="0" font-size="9.02" text-anchor="end" transform="translate(583.1 933.29) scale(0.91 1)">2</text>
<line x1="584.5" y1="898.88" x2="588.9" y2="898.88" stroke="#333333" stroke-width="0.8"/>
<text x="0" y="0" font-size="9.02" text-anchor="end" transform="translate(583.1 901.83) scale(0.91 1)">4</text>
<line x1="584.5" y1="867.42" x2="588.9" y2="867.42" stroke="#333333" stroke-width="0.8"/>
<text x="0" y="0" font-size="9.02" text-anchor="end" transform="translate(583.1 870.37) scale(0.91 1)">6</text>
<rect x="595.5" y="918.86" width="12.2" height="42.94" fill="#ffffff" stroke="#333333" stroke-width="0.8"/>
<rect x="614.5" y="916.18" width="12.2" height="45.62" fill="#8aabd8" stroke="#333333" stroke-width="0.8"/>
<rect x="646.2" y="903.28" width="12.2" height="58.52" fill="#ffffff" stroke="#333333" stroke-width="0.8"/>
<rect x="665.2" y="905.64" width="11.6" height="56.16" fill="#8aabd8" stroke="#333333" stroke-width="0.8"/>
<line x1="601.6" y1="911.78" x2="601.6" y2="925.94" stroke="#111" stroke-width="0.75"/>
<line x1="598.92" y1="911.78" x2="604.28" y2="911.78" stroke="#111" stroke-width="0.75"/>
<line x1="598.92" y1="925.94" x2="604.28" y2="925.94" stroke="#111" stroke-width="0.75"/>
<circle cx="605.7" cy="897.31" r="1.25" fill="#000"/>
<circle cx="600.4" cy="910.68" r="1.25" fill="#000"/>
<circle cx="602.79" cy="921.69" r="1.25" fill="#000"/>
<circle cx="603.52" cy="931.13" r="1.25" fill="#000"/>
<circle cx="597.53" cy="934.74" r="1.25" fill="#000"/>
<line x1="620.6" y1="904.7" x2="620.6" y2="927.67" stroke="#111" stroke-width="0.75"/>
<line x1="617.92" y1="904.7" x2="623.28" y2="904.7" stroke="#111" stroke-width="0.75"/>
<line x1="617.92" y1="927.67" x2="623.28" y2="927.67" stroke="#111" stroke-width="0.75"/>
<circle cx="619.06" cy="880.79" r="1.25" fill="#000"/>
<circle cx="621.63" cy="910.68" r="1.25" fill="#000"/>
<circle cx="619.42" cy="913.82" r="1.25" fill="#000"/>
<circle cx="623.68" cy="923.26" r="1.25" fill="#000"/>
<circle cx="619.71" cy="950.47" r="1.25" fill="#000"/>
<line x1="652.3" y1="897.31" x2="652.3" y2="909.26" stroke="#111" stroke-width="0.75"/>
<line x1="649.62" y1="897.31" x2="654.98" y2="897.31" stroke="#111" stroke-width="0.75"/>
<line x1="649.62" y1="909.26" x2="654.98" y2="909.26" stroke="#111" stroke-width="0.75"/>
<circle cx="648.29" cy="872.14" r="1.25" fill="#000"/>
<circle cx="653.47" cy="905.17" r="1.25" fill="#000"/>
<circle cx="651.3" cy="906.75" r="1.25" fill="#000"/>
<circle cx="656.13" cy="910.68" r="1.25" fill="#000"/>
<circle cx="648.83" cy="912.25" r="1.25" fill="#000"/>
<circle cx="655" cy="913.82" r="1.25" fill="#000"/>
<line x1="671" y1="899.98" x2="671" y2="911.31" stroke="#111" stroke-width="0.75"/>
<line x1="668.45" y1="899.98" x2="673.55" y2="899.98" stroke="#111" stroke-width="0.75"/>
<line x1="668.45" y1="911.31" x2="673.55" y2="911.31" stroke="#111" stroke-width="0.75"/>
<circle cx="674.83" cy="887.87" r="1.25" fill="#000"/>
<circle cx="671.2" cy="892.59" r="1.25" fill="#000"/>
<circle cx="669.37" cy="905.17" r="1.25" fill="#000"/>
<circle cx="669.37" cy="907.53" r="1.25" fill="#000"/>
<circle cx="673.68" cy="913.82" r="1.25" fill="#000"/>
<circle cx="670.07" cy="923.26" r="1.25" fill="#000"/>
<line x1="588.5" y1="961.8" x2="682.3" y2="961.8" stroke="#333333" stroke-width="0.8"/>
<line x1="610.8" y1="961.8" x2="610.8" y2="966.4" stroke="#333333" stroke-width="0.8"/>
<line x1="661.5" y1="961.8" x2="661.5" y2="966.4" stroke="#333333" stroke-width="0.8"/>
<text x="0" y="0" font-size="9.24" text-anchor="middle" transform="translate(610.8 975.5) scale(0.91 1)">Young</text>
<text x="0" y="0" font-size="9.24" text-anchor="middle" transform="translate(661.5 975.5) scale(0.91 1)">Aged</text>
<text x="0" y="0" font-size="8.25" text-anchor="middle" transform="translate(573.3 917.9) rotate(-90) scale(0.91 1)">AST/ALT</text>
<text x="0" y="0" font-size="13" font-weight="bold" fill="#000" transform="translate(181 9.3) scale(0.9 1)">b</text>
<rect x="229.6" y="18.7" width="12.8" height="4.6" fill="#ffffff" stroke="#333333" stroke-width="0.8"/>
<text x="0" y="0" font-size="9.02" transform="translate(249.7 23.95) scale(0.91 1)">WT-Young</text>
<rect x="229.6" y="31.5" width="12.8" height="4.9" fill="#8aabd8" stroke="#333333" stroke-width="0.8"/>
<text x="0" y="0" font-size="9.02" transform="translate(249.7 36.9) scale(0.91 1)">KO-Young</text>
<rect x="299.4" y="18" width="12.3" height="4.8" fill="#808080" stroke="#333333" stroke-width="0.8"/>
<text x="0" y="0" font-size="9.02" transform="translate(319.4 23.35) scale(0.91 1)">WT-Aged</text>
<rect x="299.4" y="31.2" width="12.3" height="5.2" fill="#ff0000" stroke="#333333" stroke-width="0.8"/>
<text x="0" y="0" font-size="9.02" transform="translate(319.4 36.75) scale(0.91 1)">KO-Aged</text>
<line x1="220.6" y1="51.1" x2="220.6" y2="66.7" stroke="#333333" stroke-width="0.8"/>
<line x1="220.6" y1="75" x2="220.6" y2="98.3" stroke="#333333" stroke-width="0.8"/>
<line x1="220.6" y1="107" x2="220.6" y2="145.3" stroke="#333333" stroke-width="0.8"/>
<line x1="216.2" y1="51.1" x2="220.6" y2="51.1" stroke="#333333" stroke-width="0.8"/>
<text x="0" y="0" font-size="8.69" text-anchor="end" transform="translate(214.8 53.9) scale(0.91 1)">200</text>
<line x1="216.2" y1="60.4" x2="220.6" y2="60.4" stroke="#333333" stroke-width="0.8"/>
<text x="0" y="0" font-size="8.69" text-anchor="end" transform="translate(214.8 63.2) scale(0.91 1)">100</text>
<line x1="216.2" y1="79.4" x2="220.6" y2="79.4" stroke="#333333" stroke-width="0.8"/>
<text x="0" y="0" font-size="8.69" text-anchor="end" transform="translate(214.8 82.2) scale(0.91 1)">40</text>
<line x1="216.2" y1="86.9" x2="220.6" y2="86.9" stroke="#333333" stroke-width="0.8"/>
<text x="0" y="0" font-size="8.69" text-anchor="end" transform="translate(214.8 89.7) scale(0.91 1)">30</text>
<line x1="216.2" y1="94.4" x2="220.6" y2="94.4" stroke="#333333" stroke-width="0.8"/>
<text x="0" y="0" font-size="8.69" text-anchor="end" transform="translate(214.8 97.2) scale(0.91 1)">20</text>
<line x1="216.2" y1="106.6" x2="220.6" y2="106.6" stroke="#333333" stroke-width="0.8"/>
<text x="0" y="0" font-size="8.69" text-anchor="end" transform="translate(214.8 109.4) scale(0.91 1)">15</text>
<line x1="216.2" y1="119.7" x2="220.6" y2="119.7" stroke="#333333" stroke-width="0.8"/>
<text x="0" y="0" font-size="8.69" text-anchor="end" transform="translate(214.8 122.5) scale(0.91 1)">10</text>
<line x1="216.2" y1="132.5" x2="220.6" y2="132.5" stroke="#333333" stroke-width="0.8"/>
<text x="0" y="0" font-size="8.69" text-anchor="end" transform="translate(214.8 135.3) scale(0.91 1)">5</text>
<line x1="216.2" y1="145.3" x2="220.6" y2="145.3" stroke="#333333" stroke-width="0.8"/>
<text x="0" y="0" font-size="8.69" text-anchor="end" transform="translate(214.8 148.1) scale(0.91 1)">0</text>
<line x1="218" y1="63.8" x2="224" y2="69.6" stroke="#333333" stroke-width="0.8" class="s"/>
<line x1="218" y1="72.1" x2="224" y2="77.9" stroke="#333333" stroke-width="0.8" class="s"/>
<line x1="218" y1="95.4" x2="224" y2="101.2" stroke="#333333" stroke-width="0.8" class="s"/>
<line x1="218" y1="104.1" x2="224" y2="109.9" stroke="#333333" stroke-width="0.8" class="s"/>
<text x="0" y="0" font-size="8.58" text-anchor="middle" transform="translate(197.8 88.4) rotate(-90) scale(0.91 1)">Organ weight/Tibial length (mg/mm)</text>
<rect x="224.9" y="125.8" width="7.8" height="19.5" fill="#ffffff"/>
<line x1="224.9" y1="125.4" x2="224.9" y2="145.3" stroke="#333333" stroke-width="0.8"/>
<line x1="232.7" y1="125.4" x2="232.7" y2="145.3" stroke="#333333" stroke-width="0.8"/>
<line x1="224.9" y1="125.8" x2="232.7" y2="125.8" stroke="#333333" stroke-width="0.8"/>
<rect x="237.2" y="124.8" width="7.8" height="20.5" fill="#8aabd8"/>
<line x1="237.2" y1="124.4" x2="237.2" y2="145.3" stroke="#333333" stroke-width="0.8"/>
<line x1="245" y1="124.4" x2="245" y2="145.3" stroke="#333333" stroke-width="0.8"/>
<line x1="237.2" y1="124.8" x2="245" y2="124.8" stroke="#333333" stroke-width="0.8"/>
<rect x="249.5" y="115" width="7.8" height="30.3" fill="#808080"/>
<line x1="249.5" y1="114.6" x2="249.5" y2="145.3" stroke="#333333" stroke-width="0.8"/>
<line x1="257.3" y1="114.6" x2="257.3" y2="145.3" stroke="#333333" stroke-width="0.8"/>
<line x1="249.5" y1="115" x2="257.3" y2="115" stroke="#333333" stroke-width="0.8"/>
<rect x="261.9" y="122" width="7.8" height="23.3" fill="#ff0000"/>
<line x1="261.9" y1="121.6" x2="261.9" y2="145.3" stroke="#333333" stroke-width="0.8"/>
<line x1="269.7" y1="121.6" x2="269.7" y2="145.3" stroke="#333333" stroke-width="0.8"/>
<line x1="261.9" y1="122" x2="269.7" y2="122" stroke="#333333" stroke-width="0.8"/>
<rect x="282.16" y="131" width="7.8" height="14.3" fill="#ffffff"/>
<line x1="282.16" y1="130.6" x2="282.16" y2="145.3" stroke="#333333" stroke-width="0.8"/>
<line x1="289.96" y1="130.6" x2="289.96" y2="145.3" stroke="#333333" stroke-width="0.8"/>
<line x1="282.16" y1="131" x2="289.96" y2="131" stroke="#333333" stroke-width="0.8"/>
<rect x="294.46" y="131" width="7.8" height="14.3" fill="#8aabd8"/>
<line x1="294.46" y1="130.6" x2="294.46" y2="145.3" stroke="#333333" stroke-width="0.8"/>
<line x1="302.26" y1="130.6" x2="302.26" y2="145.3" stroke="#333333" stroke-width="0.8"/>
<line x1="294.46" y1="131" x2="302.26" y2="131" stroke="#333333" stroke-width="0.8"/>
<rect x="306.76" y="126.1" width="7.8" height="19.2" fill="#808080"/>
<line x1="306.76" y1="125.7" x2="306.76" y2="145.3" stroke="#333333" stroke-width="0.8"/>
<line x1="314.56" y1="125.7" x2="314.56" y2="145.3" stroke="#333333" stroke-width="0.8"/>
<line x1="306.76" y1="126.1" x2="314.56" y2="126.1" stroke="#333333" stroke-width="0.8"/>
<rect x="319.16" y="129.3" width="7.8" height="16" fill="#ff0000"/>
<line x1="319.16" y1="128.9" x2="319.16" y2="145.3" stroke="#333333" stroke-width="0.8"/>
<line x1="326.96" y1="128.9" x2="326.96" y2="145.3" stroke="#333333" stroke-width="0.8"/>
<line x1="319.16" y1="129.3" x2="326.96" y2="129.3" stroke="#333333" stroke-width="0.8"/>
<rect x="339.42" y="107.2" width="7.8" height="38.1" fill="#ffffff"/>
<line x1="339.42" y1="107.2" x2="339.42" y2="145.3" stroke="#333333" stroke-width="0.8"/>
<line x1="347.22" y1="107.2" x2="347.22" y2="145.3" stroke="#333333" stroke-width="0.8"/>
<rect x="339.42" y="75" width="7.8" height="23.1" fill="#ffffff"/>
<line x1="339.42" y1="75" x2="339.42" y2="98.1" stroke="#333333" stroke-width="0.8"/>
<line x1="347.22" y1="75" x2="347.22" y2="98.1" stroke="#333333" stroke-width="0.8"/>
<rect x="339.42" y="64.8" width="7.8" height="1.9" fill="#ffffff"/>
<line x1="339.42" y1="64.4" x2="339.42" y2="66.7" stroke="#333333" stroke-width="0.8"/>
<line x1="347.22" y1="64.4" x2="347.22" y2="66.7" stroke="#333333" stroke-width="0.8"/>
<line x1="339.42" y1="64.8" x2="347.22" y2="64.8" stroke="#333333" stroke-width="0.8"/>
<rect x="351.72" y="107.2" width="7.8" height="38.1" fill="#8aabd8"/>
<line x1="351.72" y1="107.2" x2="351.72" y2="145.3" stroke="#333333" stroke-width="0.8"/>
<line x1="359.52" y1="107.2" x2="359.52" y2="145.3" stroke="#333333" stroke-width="0.8"/>
<rect x="351.72" y="75" width="7.8" height="23.1" fill="#8aabd8"/>
<line x1="351.72" y1="75" x2="351.72" y2="98.1" stroke="#333333" stroke-width="0.8"/>
<line x1="359.52" y1="75" x2="359.52" y2="98.1" stroke="#333333" stroke-width="0.8"/>
<rect x="351.72" y="65.2" width="7.8" height="1.5" fill="#8aabd8"/>
<line x1="351.72" y1="64.8" x2="351.72" y2="66.7" stroke="#333333" stroke-width="0.8"/>
<line x1="359.52" y1="64.8" x2="359.52" y2="66.7" stroke="#333333" stroke-width="0.8"/>
<line x1="351.72" y1="65.2" x2="359.52" y2="65.2" stroke="#333333" stroke-width="0.8"/>
<rect x="364.02" y="107.2" width="7.8" height="38.1" fill="#808080"/>
<line x1="364.02" y1="107.2" x2="364.02" y2="145.3" stroke="#333333" stroke-width="0.8"/>
<line x1="371.82" y1="107.2" x2="371.82" y2="145.3" stroke="#333333" stroke-width="0.8"/>
<rect x="364.02" y="75" width="7.8" height="23.1" fill="#808080"/>
<line x1="364.02" y1="75" x2="364.02" y2="98.1" stroke="#333333" stroke-width="0.8"/>
<line x1="371.82" y1="75" x2="371.82" y2="98.1" stroke="#333333" stroke-width="0.8"/>
<rect x="364.02" y="60.4" width="7.8" height="6.3" fill="#808080"/>
<line x1="364.02" y1="60" x2="364.02" y2="66.7" stroke="#333333" stroke-width="0.8"/>
<line x1="371.82" y1="60" x2="371.82" y2="66.7" stroke="#333333" stroke-width="0.8"/>
<line x1="364.02" y1="60.4" x2="371.82" y2="60.4" stroke="#333333" stroke-width="0.8"/>
<rect x="376.42" y="107.2" width="7.8" height="38.1" fill="#ff0000"/>
<line x1="376.42" y1="107.2" x2="376.42" y2="145.3" stroke="#333333" stroke-width="0.8"/>
<line x1="384.22" y1="107.2" x2="384.22" y2="145.3" stroke="#333333" stroke-width="0.8"/>
<rect x="376.42" y="75" width="7.8" height="23.1" fill="#ff0000"/>
<line x1="376.42" y1="75" x2="376.42" y2="98.1" stroke="#333333" stroke-width="0.8"/>
<line x1="384.22" y1="75" x2="384.22" y2="98.1" stroke="#333333" stroke-width="0.8"/>
<rect x="376.42" y="63.4" width="7.8" height="3.3" fill="#ff0000"/>
<line x1="376.42" y1="63" x2="376.42" y2="66.7" stroke="#333333" stroke-width="0.8"/>
<line x1="384.22" y1="63" x2="384.22" y2="66.7" stroke="#333333" stroke-width="0.8"/>
<line x1="376.42" y1="63.4" x2="384.22" y2="63.4" stroke="#333333" stroke-width="0.8"/>
<rect x="396.68" y="136.7" width="7.8" height="8.6" fill="#ffffff"/>
<line x1="396.68" y1="136.3" x2="396.68" y2="145.3" stroke="#333333" stroke-width="0.8"/>
<line x1="404.48" y1="136.3" x2="404.48" y2="145.3" stroke="#333333" stroke-width="0.8"/>
<line x1="396.68" y1="136.7" x2="404.48" y2="136.7" stroke="#333333" stroke-width="0.8"/>
<rect x="408.98" y="135.8" width="7.8" height="9.5" fill="#8aabd8"/>
<line x1="408.98" y1="135.4" x2="408.98" y2="145.3" stroke="#333333" stroke-width="0.8"/>
<line x1="416.78" y1="135.4" x2="416.78" y2="145.3" stroke="#333333" stroke-width="0.8"/>
<line x1="408.98" y1="135.8" x2="416.78" y2="135.8" stroke="#333333" stroke-width="0.8"/>
<rect x="421.28" y="130.2" width="7.8" height="15.1" fill="#808080"/>
<line x1="421.28" y1="129.8" x2="421.28" y2="145.3" stroke="#333333" stroke-width="0.8"/>
<line x1="429.08" y1="129.8" x2="429.08" y2="145.3" stroke="#333333" stroke-width="0.8"/>
<line x1="421.28" y1="130.2" x2="429.08" y2="130.2" stroke="#333333" stroke-width="0.8"/>
<rect x="433.68" y="131.7" width="7.8" height="13.6" fill="#ff0000"/>
<line x1="433.68" y1="131.3" x2="433.68" y2="145.3" stroke="#333333" stroke-width="0.8"/>
<line x1="441.48" y1="131.3" x2="441.48" y2="145.3" stroke="#333333" stroke-width="0.8"/>
<line x1="433.68" y1="131.7" x2="441.48" y2="131.7" stroke="#333333" stroke-width="0.8"/>
<rect x="453.94" y="107.2" width="7.8" height="38.1" fill="#ffffff"/>
<line x1="453.94" y1="107.2" x2="453.94" y2="145.3" stroke="#333333" stroke-width="0.8"/>
<line x1="461.74" y1="107.2" x2="461.74" y2="145.3" stroke="#333333" stroke-width="0.8"/>
<rect x="453.94" y="97.2" width="7.8" height="0.9" fill="#ffffff"/>
<line x1="453.94" y1="96.8" x2="453.94" y2="98.1" stroke="#333333" stroke-width="0.8"/>
<line x1="461.74" y1="96.8" x2="461.74" y2="98.1" stroke="#333333" stroke-width="0.8"/>
<line x1="453.94" y1="97.2" x2="461.74" y2="97.2" stroke="#333333" stroke-width="0.8"/>
<rect x="466.24" y="107.2" width="7.8" height="38.1" fill="#8aabd8"/>
<line x1="466.24" y1="107.2" x2="466.24" y2="145.3" stroke="#333333" stroke-width="0.8"/>
<line x1="474.04" y1="107.2" x2="474.04" y2="145.3" stroke="#333333" stroke-width="0.8"/>
<rect x="466.24" y="97.2" width="7.8" height="0.9" fill="#8aabd8"/>
<line x1="466.24" y1="96.8" x2="466.24" y2="98.1" stroke="#333333" stroke-width="0.8"/>
<line x1="474.04" y1="96.8" x2="474.04" y2="98.1" stroke="#333333" stroke-width="0.8"/>
<line x1="466.24" y1="97.2" x2="474.04" y2="97.2" stroke="#333333" stroke-width="0.8"/>
<rect x="478.54" y="107.2" width="7.8" height="38.1" fill="#808080"/>
<line x1="478.54" y1="107.2" x2="478.54" y2="145.3" stroke="#333333" stroke-width="0.8"/>
<line x1="486.34" y1="107.2" x2="486.34" y2="145.3" stroke="#333333" stroke-width="0.8"/>
<rect x="478.54" y="92.3" width="7.8" height="5.8" fill="#808080"/>
<line x1="478.54" y1="91.9" x2="478.54" y2="98.1" stroke="#333333" stroke-width="0.8"/>
<line x1="486.34" y1="91.9" x2="486.34" y2="98.1" stroke="#333333" stroke-width="0.8"/>
<line x1="478.54" y1="92.3" x2="486.34" y2="92.3" stroke="#333333" stroke-width="0.8"/>
<rect x="490.94" y="107.2" width="7.8" height="38.1" fill="#ff0000"/>
<line x1="490.94" y1="107.2" x2="490.94" y2="145.3" stroke="#333333" stroke-width="0.8"/>
<line x1="498.74" y1="107.2" x2="498.74" y2="145.3" stroke="#333333" stroke-width="0.8"/>
<rect x="490.94" y="93.7" width="7.8" height="4.4" fill="#ff0000"/>
<line x1="490.94" y1="93.3" x2="490.94" y2="98.1" stroke="#333333" stroke-width="0.8"/>
<line x1="498.74" y1="93.3" x2="498.74" y2="98.1" stroke="#333333" stroke-width="0.8"/>
<line x1="490.94" y1="93.7" x2="498.74" y2="93.7" stroke="#333333" stroke-width="0.8"/>
<rect x="511.2" y="107.2" width="7.8" height="38.1" fill="#ffffff"/>
<line x1="511.2" y1="107.2" x2="511.2" y2="145.3" stroke="#333333" stroke-width="0.8"/>
<line x1="519" y1="107.2" x2="519" y2="145.3" stroke="#333333" stroke-width="0.8"/>
<rect x="511.2" y="85.5" width="7.8" height="12.6" fill="#ffffff"/>
<line x1="511.2" y1="85.1" x2="511.2" y2="98.1" stroke="#333333" stroke-width="0.8"/>
<line x1="519" y1="85.1" x2="519" y2="98.1" stroke="#333333" stroke-width="0.8"/>
<line x1="511.2" y1="85.5" x2="519" y2="85.5" stroke="#333333" stroke-width="0.8"/>
<rect x="523.5" y="107.2" width="7.8" height="38.1" fill="#8aabd8"/>
<line x1="523.5" y1="107.2" x2="523.5" y2="145.3" stroke="#333333" stroke-width="0.8"/>
<line x1="531.3" y1="107.2" x2="531.3" y2="145.3" stroke="#333333" stroke-width="0.8"/>
<rect x="523.5" y="90.6" width="7.8" height="7.5" fill="#8aabd8"/>
<line x1="523.5" y1="90.2" x2="523.5" y2="98.1" stroke="#333333" stroke-width="0.8"/>
<line x1="531.3" y1="90.2" x2="531.3" y2="98.1" stroke="#333333" stroke-width="0.8"/>
<line x1="523.5" y1="90.6" x2="531.3" y2="90.6" stroke="#333333" stroke-width="0.8"/>
<rect x="535.8" y="107.2" width="7.8" height="38.1" fill="#808080"/>
<line x1="535.8" y1="107.2" x2="535.8" y2="145.3" stroke="#333333" stroke-width="0.8"/>
<line x1="543.6" y1="107.2" x2="543.6" y2="145.3" stroke="#333333" stroke-width="0.8"/>
<rect x="535.8" y="93.2" width="7.8" height="4.9" fill="#808080"/>
<line x1="535.8" y1="92.8" x2="535.8" y2="98.1" stroke="#333333" stroke-width="0.8"/>
<line x1="543.6" y1="92.8" x2="543.6" y2="98.1" stroke="#333333" stroke-width="0.8"/>
<line x1="535.8" y1="93.2" x2="543.6" y2="93.2" stroke="#333333" stroke-width="0.8"/>
<rect x="548.2" y="107.2" width="7.8" height="38.1" fill="#ff0000"/>
<line x1="548.2" y1="107.2" x2="548.2" y2="145.3" stroke="#333333" stroke-width="0.8"/>
<line x1="556" y1="107.2" x2="556" y2="145.3" stroke="#333333" stroke-width="0.8"/>
<rect x="548.2" y="78.3" width="7.8" height="19.8" fill="#ff0000"/>
<line x1="548.2" y1="77.9" x2="548.2" y2="98.1" stroke="#333333" stroke-width="0.8"/>
<line x1="556" y1="77.9" x2="556" y2="98.1" stroke="#333333" stroke-width="0.8"/>
<line x1="548.2" y1="78.3" x2="556" y2="78.3" stroke="#333333" stroke-width="0.8"/>
<rect x="568.46" y="130" width="7.8" height="15.3" fill="#ffffff"/>
<line x1="568.46" y1="129.6" x2="568.46" y2="145.3" stroke="#333333" stroke-width="0.8"/>
<line x1="576.26" y1="129.6" x2="576.26" y2="145.3" stroke="#333333" stroke-width="0.8"/>
<line x1="568.46" y1="130" x2="576.26" y2="130" stroke="#333333" stroke-width="0.8"/>
<rect x="580.76" y="131" width="7.8" height="14.3" fill="#8aabd8"/>
<line x1="580.76" y1="130.6" x2="580.76" y2="145.3" stroke="#333333" stroke-width="0.8"/>
<line x1="588.56" y1="130.6" x2="588.56" y2="145.3" stroke="#333333" stroke-width="0.8"/>
<line x1="580.76" y1="131" x2="588.56" y2="131" stroke="#333333" stroke-width="0.8"/>
<rect x="593.06" y="131" width="7.8" height="14.3" fill="#808080"/>
<line x1="593.06" y1="130.6" x2="593.06" y2="145.3" stroke="#333333" stroke-width="0.8"/>
<line x1="600.86" y1="130.6" x2="600.86" y2="145.3" stroke="#333333" stroke-width="0.8"/>
<line x1="593.06" y1="131" x2="600.86" y2="131" stroke="#333333" stroke-width="0.8"/>
<rect x="605.46" y="133.2" width="7.8" height="12.1" fill="#ff0000"/>
<line x1="605.46" y1="132.8" x2="605.46" y2="145.3" stroke="#333333" stroke-width="0.8"/>
<line x1="613.26" y1="132.8" x2="613.26" y2="145.3" stroke="#333333" stroke-width="0.8"/>
<line x1="605.46" y1="133.2" x2="613.26" y2="133.2" stroke="#333333" stroke-width="0.8"/>
<rect x="625.72" y="119.6" width="7.8" height="25.7" fill="#ffffff"/>
<line x1="625.72" y1="119.2" x2="625.72" y2="145.3" stroke="#333333" stroke-width="0.8"/>
<line x1="633.52" y1="119.2" x2="633.52" y2="145.3" stroke="#333333" stroke-width="0.8"/>
<line x1="625.72" y1="119.6" x2="633.52" y2="119.6" stroke="#333333" stroke-width="0.8"/>
<rect x="638.02" y="120" width="7.8" height="25.3" fill="#8aabd8"/>
<line x1="638.02" y1="119.6" x2="638.02" y2="145.3" stroke="#333333" stroke-width="0.8"/>
<line x1="645.82" y1="119.6" x2="645.82" y2="145.3" stroke="#333333" stroke-width="0.8"/>
<line x1="638.02" y1="120" x2="645.82" y2="120" stroke="#333333" stroke-width="0.8"/>
<rect x="650.32" y="121.8" width="7.8" height="23.5" fill="#808080"/>
<line x1="650.32" y1="121.4" x2="650.32" y2="145.3" stroke="#333333" stroke-width="0.8"/>
<line x1="658.12" y1="121.4" x2="658.12" y2="145.3" stroke="#333333" stroke-width="0.8"/>
<line x1="650.32" y1="121.8" x2="658.12" y2="121.8" stroke="#333333" stroke-width="0.8"/>
<rect x="662.72" y="121" width="7.8" height="24.3" fill="#ff0000"/>
<line x1="662.72" y1="120.6" x2="662.72" y2="145.3" stroke="#333333" stroke-width="0.8"/>
<line x1="670.52" y1="120.6" x2="670.52" y2="145.3" stroke="#333333" stroke-width="0.8"/>
<line x1="662.72" y1="121" x2="670.52" y2="121" stroke="#333333" stroke-width="0.8"/>
<line x1="228.8" y1="124.6" x2="228.8" y2="127" stroke="#111" stroke-width="0.75"/>
<line x1="227" y1="124.6" x2="230.6" y2="124.6" stroke="#111" stroke-width="0.75"/>
<line x1="227" y1="127" x2="230.6" y2="127" stroke="#111" stroke-width="0.75"/>
<circle cx="230.66" cy="126.67" r="1.2" fill="#000"/>
<circle cx="228.37" cy="125.07" r="1.2" fill="#000"/>
<circle cx="228.86" cy="125.54" r="1.2" fill="#000"/>
<circle cx="230.33" cy="125.21" r="1.2" fill="#000"/>
<circle cx="228.67" cy="126.11" r="1.2" fill="#000"/>
<circle cx="231" cy="125.85" r="1.2" fill="#000"/>
<circle cx="227.62" cy="126.66" r="1.2" fill="#000"/>
<circle cx="229.44" cy="125.04" r="1.2" fill="#000"/>
<line x1="241.1" y1="123.6" x2="241.1" y2="126" stroke="#111" stroke-width="0.75"/>
<line x1="239.3" y1="123.6" x2="242.9" y2="123.6" stroke="#111" stroke-width="0.75"/>
<line x1="239.3" y1="126" x2="242.9" y2="126" stroke="#111" stroke-width="0.75"/>
<circle cx="239.13" cy="125.95" r="1.2" fill="#000"/>
<circle cx="242.52" cy="124.06" r="1.2" fill="#000"/>
<circle cx="241.08" cy="124.68" r="1.2" fill="#000"/>
<circle cx="241.92" cy="125.76" r="1.2" fill="#000"/>
<circle cx="238.91" cy="123.33" r="1.2" fill="#000"/>
<circle cx="242.91" cy="124.62" r="1.2" fill="#000"/>
<circle cx="242.52" cy="123.25" r="1.2" fill="#000"/>
<circle cx="240.81" cy="125.55" r="1.2" fill="#000"/>
<line x1="253.4" y1="110" x2="253.4" y2="120" stroke="#111" stroke-width="0.75"/>
<line x1="251.6" y1="110" x2="255.2" y2="110" stroke="#111" stroke-width="0.75"/>
<line x1="251.6" y1="120" x2="255.2" y2="120" stroke="#111" stroke-width="0.75"/>
<circle cx="255.86" cy="116.47" r="1.2" fill="#000"/>
<circle cx="251.01" cy="113.71" r="1.2" fill="#000"/>
<circle cx="255.21" cy="115.8" r="1.2" fill="#000"/>
<circle cx="254.32" cy="114.43" r="1.2" fill="#000"/>
<circle cx="253.97" cy="115.38" r="1.2" fill="#000"/>
<circle cx="253.84" cy="113.95" r="1.2" fill="#000"/>
<circle cx="253.03" cy="114.7" r="1.2" fill="#000"/>
<circle cx="254.6" cy="116.62" r="1.2" fill="#000"/>
<line x1="265.8" y1="119.8" x2="265.8" y2="124.2" stroke="#111" stroke-width="0.75"/>
<line x1="264" y1="119.8" x2="267.6" y2="119.8" stroke="#111" stroke-width="0.75"/>
<line x1="264" y1="124.2" x2="267.6" y2="124.2" stroke="#111" stroke-width="0.75"/>
<circle cx="264.39" cy="122.18" r="1.2" fill="#000"/>
<circle cx="265.1" cy="122.37" r="1.2" fill="#000"/>
<circle cx="266.48" cy="120.65" r="1.2" fill="#000"/>
<circle cx="263.17" cy="123.12" r="1.2" fill="#000"/>
<circle cx="264.5" cy="121.19" r="1.2" fill="#000"/>
<circle cx="268.48" cy="121.94" r="1.2" fill="#000"/>
<circle cx="267.62" cy="121.96" r="1.2" fill="#000"/>
<circle cx="266.55" cy="120.92" r="1.2" fill="#000"/>
<line x1="286.06" y1="130.2" x2="286.06" y2="131.8" stroke="#111" stroke-width="0.75"/>
<line x1="284.26" y1="130.2" x2="287.86" y2="130.2" stroke="#111" stroke-width="0.75"/>
<line x1="284.26" y1="131.8" x2="287.86" y2="131.8" stroke="#111" stroke-width="0.75"/>
<circle cx="286.45" cy="130.81" r="1.2" fill="#000"/>
<circle cx="286.48" cy="130.1" r="1.2" fill="#000"/>
<circle cx="287.75" cy="132.08" r="1.2" fill="#000"/>
<circle cx="286.89" cy="129.95" r="1.2" fill="#000"/>
<circle cx="286.17" cy="130.49" r="1.2" fill="#000"/>
<circle cx="284.71" cy="132.49" r="1.2" fill="#000"/>
<circle cx="288.74" cy="129.58" r="1.2" fill="#000"/>
<circle cx="288" cy="131.37" r="1.2" fill="#000"/>
<line x1="298.36" y1="130.4" x2="298.36" y2="131.6" stroke="#111" stroke-width="0.75"/>
<line x1="296.56" y1="130.4" x2="300.16" y2="130.4" stroke="#111" stroke-width="0.75"/>
<line x1="296.56" y1="131.6" x2="300.16" y2="131.6" stroke="#111" stroke-width="0.75"/>
<circle cx="298.1" cy="131.23" r="1.2" fill="#000"/>
<circle cx="300.65" cy="130.93" r="1.2" fill="#000"/>
<circle cx="298.4" cy="131.32" r="1.2" fill="#000"/>
<circle cx="296.66" cy="131.08" r="1.2" fill="#000"/>
<circle cx="299.06" cy="131.98" r="1.2" fill="#000"/>
<circle cx="296.17" cy="130.41" r="1.2" fill="#000"/>
<circle cx="296.15" cy="132.03" r="1.2" fill="#000"/>
<circle cx="299.4" cy="129.57" r="1.2" fill="#000"/>
<line x1="310.66" y1="125.1" x2="310.66" y2="127.1" stroke="#111" stroke-width="0.75"/>
<line x1="308.86" y1="125.1" x2="312.46" y2="125.1" stroke="#111" stroke-width="0.75"/>
<line x1="308.86" y1="127.1" x2="312.46" y2="127.1" stroke="#111" stroke-width="0.75"/>
<circle cx="310.52" cy="126.64" r="1.2" fill="#000"/>
<circle cx="311.56" cy="125" r="1.2" fill="#000"/>
<circle cx="308.02" cy="125.74" r="1.2" fill="#000"/>
<circle cx="309.44" cy="127.13" r="1.2" fill="#000"/>
<circle cx="311.69" cy="126.46" r="1.2" fill="#000"/>
<circle cx="310.97" cy="126.66" r="1.2" fill="#000"/>
<circle cx="308.74" cy="125.95" r="1.2" fill="#000"/>
<circle cx="308.84" cy="127.44" r="1.2" fill="#000"/>
<line x1="323.06" y1="128.3" x2="323.06" y2="130.3" stroke="#111" stroke-width="0.75"/>
<line x1="321.26" y1="128.3" x2="324.86" y2="128.3" stroke="#111" stroke-width="0.75"/>
<line x1="321.26" y1="130.3" x2="324.86" y2="130.3" stroke="#111" stroke-width="0.75"/>
<circle cx="321.76" cy="129.93" r="1.2" fill="#000"/>
<circle cx="324.05" cy="130.46" r="1.2" fill="#000"/>
<circle cx="321.36" cy="128.48" r="1.2" fill="#000"/>
<circle cx="321.15" cy="128.46" r="1.2" fill="#000"/>
<circle cx="324.32" cy="128.16" r="1.2" fill="#000"/>
<circle cx="323.23" cy="128.42" r="1.2" fill="#000"/>
<circle cx="321.95" cy="129.12" r="1.2" fill="#000"/>
<circle cx="324.88" cy="129.69" r="1.2" fill="#000"/>
<circle cx="345.59" cy="65.42" r="1.2" fill="#000"/>
<circle cx="344.81" cy="65.77" r="1.2" fill="#000"/>
<circle cx="341.98" cy="65.34" r="1.2" fill="#000"/>
<circle cx="345.59" cy="65.72" r="1.2" fill="#000"/>
<circle cx="343.73" cy="64.59" r="1.2" fill="#000"/>
<circle cx="342.82" cy="65.91" r="1.2" fill="#000"/>
<circle cx="341.1" cy="64.83" r="1.2" fill="#000"/>
<circle cx="345.84" cy="65.04" r="1.2" fill="#000"/>
<circle cx="353.74" cy="65.82" r="1.2" fill="#000"/>
<circle cx="356.38" cy="65.49" r="1.2" fill="#000"/>
<circle cx="354.03" cy="65.99" r="1.2" fill="#000"/>
<circle cx="357.34" cy="65.54" r="1.2" fill="#000"/>
<circle cx="355.65" cy="65.1" r="1.2" fill="#000"/>
<circle cx="352.84" cy="65.31" r="1.2" fill="#000"/>
<circle cx="356.1" cy="64.83" r="1.2" fill="#000"/>
<circle cx="357.27" cy="65.09" r="1.2" fill="#000"/>
<circle cx="370.49" cy="60.14" r="1.2" fill="#000"/>
<circle cx="365.25" cy="61.52" r="1.2" fill="#000"/>
<circle cx="366.15" cy="60.11" r="1.2" fill="#000"/>
<circle cx="368.77" cy="60.47" r="1.2" fill="#000"/>
<circle cx="370.1" cy="60.29" r="1.2" fill="#000"/>
<circle cx="370.49" cy="60.43" r="1.2" fill="#000"/>
<circle cx="368.49" cy="61.41" r="1.2" fill="#000"/>
<circle cx="368.96" cy="61.4" r="1.2" fill="#000"/>
<circle cx="382.7" cy="64.44" r="1.2" fill="#000"/>
<circle cx="382.52" cy="63.05" r="1.2" fill="#000"/>
<circle cx="380.84" cy="63.6" r="1.2" fill="#000"/>
<circle cx="380.49" cy="63.13" r="1.2" fill="#000"/>
<circle cx="378.6" cy="63.63" r="1.2" fill="#000"/>
<circle cx="378.76" cy="63.65" r="1.2" fill="#000"/>
<circle cx="377.66" cy="63.06" r="1.2" fill="#000"/>
<circle cx="381.5" cy="63.59" r="1.2" fill="#000"/>
<line x1="400.58" y1="136.1" x2="400.58" y2="137.3" stroke="#111" stroke-width="0.75"/>
<line x1="398.78" y1="136.1" x2="402.38" y2="136.1" stroke="#111" stroke-width="0.75"/>
<line x1="398.78" y1="137.3" x2="402.38" y2="137.3" stroke="#111" stroke-width="0.75"/>
<circle cx="400.79" cy="136.07" r="1.2" fill="#000"/>
<circle cx="398.04" cy="137.23" r="1.2" fill="#000"/>
<circle cx="399.01" cy="135.96" r="1.2" fill="#000"/>
<circle cx="400.02" cy="137.19" r="1.2" fill="#000"/>
<circle cx="403.22" cy="136.62" r="1.2" fill="#000"/>
<circle cx="403.24" cy="138.32" r="1.2" fill="#000"/>
<circle cx="399.19" cy="135.37" r="1.2" fill="#000"/>
<circle cx="398.74" cy="137.83" r="1.2" fill="#000"/>
<line x1="412.88" y1="135.2" x2="412.88" y2="136.4" stroke="#111" stroke-width="0.75"/>
<line x1="411.08" y1="135.2" x2="414.68" y2="135.2" stroke="#111" stroke-width="0.75"/>
<line x1="411.08" y1="136.4" x2="414.68" y2="136.4" stroke="#111" stroke-width="0.75"/>
<circle cx="410.25" cy="134.6" r="1.2" fill="#000"/>
<circle cx="412.3" cy="136.43" r="1.2" fill="#000"/>
<circle cx="410.93" cy="134.6" r="1.2" fill="#000"/>
<circle cx="411.43" cy="136.66" r="1.2" fill="#000"/>
<circle cx="410.98" cy="136.61" r="1.2" fill="#000"/>
<circle cx="413.76" cy="134.68" r="1.2" fill="#000"/>
<circle cx="413.07" cy="135.67" r="1.2" fill="#000"/>
<circle cx="412.41" cy="137.43" r="1.2" fill="#000"/>
<line x1="425.18" y1="128" x2="425.18" y2="132.4" stroke="#111" stroke-width="0.75"/>
<line x1="423.38" y1="128" x2="426.98" y2="128" stroke="#111" stroke-width="0.75"/>
<line x1="423.38" y1="132.4" x2="426.98" y2="132.4" stroke="#111" stroke-width="0.75"/>
<circle cx="422.9" cy="129.32" r="1.2" fill="#000"/>
<circle cx="424.12" cy="131.52" r="1.2" fill="#000"/>
<circle cx="425.16" cy="130.94" r="1.2" fill="#000"/>
<circle cx="423.02" cy="130.27" r="1.2" fill="#000"/>
<circle cx="427.03" cy="130.31" r="1.2" fill="#000"/>
<circle cx="427.58" cy="131.46" r="1.2" fill="#000"/>
<circle cx="424.48" cy="128.64" r="1.2" fill="#000"/>
<circle cx="426.56" cy="129.04" r="1.2" fill="#000"/>
<line x1="437.58" y1="129.9" x2="437.58" y2="133.5" stroke="#111" stroke-width="0.75"/>
<line x1="435.78" y1="129.9" x2="439.38" y2="129.9" stroke="#111" stroke-width="0.75"/>
<line x1="435.78" y1="133.5" x2="439.38" y2="133.5" stroke="#111" stroke-width="0.75"/>
<circle cx="437.96" cy="132.16" r="1.2" fill="#000"/>
<circle cx="439.29" cy="131.03" r="1.2" fill="#000"/>
<circle cx="438.4" cy="132.99" r="1.2" fill="#000"/>
<circle cx="439.79" cy="130.74" r="1.2" fill="#000"/>
<circle cx="438.4" cy="132.11" r="1.2" fill="#000"/>
<circle cx="437.6" cy="133.23" r="1.2" fill="#000"/>
<circle cx="437.73" cy="131.56" r="1.2" fill="#000"/>
<circle cx="439.98" cy="132.17" r="1.2" fill="#000"/>
<circle cx="457.62" cy="97.62" r="1.2" fill="#000"/>
<circle cx="455.31" cy="96.67" r="1.2" fill="#000"/>
<circle cx="460.33" cy="97.28" r="1.2" fill="#000"/>
<circle cx="455.83" cy="96.78" r="1.2" fill="#000"/>
<circle cx="459.89" cy="96.93" r="1.2" fill="#000"/>
<circle cx="455.29" cy="97.65" r="1.2" fill="#000"/>
<circle cx="455.84" cy="97.25" r="1.2" fill="#000"/>
<circle cx="456.61" cy="108.43" r="1.2" fill="#000"/>
<circle cx="455.58" cy="108.25" r="1.2" fill="#000"/>
<circle cx="455.53" cy="107.85" r="1.2" fill="#000"/>
<circle cx="456.67" cy="107.98" r="1.2" fill="#000"/>
<circle cx="456.82" cy="108.73" r="1.2" fill="#000"/>
<circle cx="469.5" cy="96.59" r="1.2" fill="#000"/>
<circle cx="468.34" cy="97.68" r="1.2" fill="#000"/>
<circle cx="470.56" cy="97.32" r="1.2" fill="#000"/>
<circle cx="470.43" cy="96.83" r="1.2" fill="#000"/>
<circle cx="471.39" cy="97.14" r="1.2" fill="#000"/>
<circle cx="471.66" cy="97.28" r="1.2" fill="#000"/>
<circle cx="471.97" cy="96.92" r="1.2" fill="#000"/>
<circle cx="472.24" cy="108.32" r="1.2" fill="#000"/>
<circle cx="470.62" cy="108.87" r="1.2" fill="#000"/>
<circle cx="468.67" cy="108.46" r="1.2" fill="#000"/>
<circle cx="470.59" cy="108.98" r="1.2" fill="#000"/>
<circle cx="467.61" cy="107.92" r="1.2" fill="#000"/>
<circle cx="483.19" cy="91.36" r="1.2" fill="#000"/>
<circle cx="481.23" cy="91.68" r="1.2" fill="#000"/>
<circle cx="483.72" cy="92.4" r="1.2" fill="#000"/>
<circle cx="484.56" cy="91.46" r="1.2" fill="#000"/>
<circle cx="482.02" cy="91.37" r="1.2" fill="#000"/>
<circle cx="480.92" cy="92.13" r="1.2" fill="#000"/>
<circle cx="479.88" cy="91.64" r="1.2" fill="#000"/>
<circle cx="492.35" cy="93.83" r="1.2" fill="#000"/>
<circle cx="492.92" cy="93.46" r="1.2" fill="#000"/>
<circle cx="495.77" cy="93.99" r="1.2" fill="#000"/>
<circle cx="494.59" cy="93.52" r="1.2" fill="#000"/>
<circle cx="492.24" cy="93.41" r="1.2" fill="#000"/>
<circle cx="494.15" cy="94.08" r="1.2" fill="#000"/>
<circle cx="495.09" cy="93.93" r="1.2" fill="#000"/>
<line x1="515.1" y1="82.5" x2="515.1" y2="88.5" stroke="#111" stroke-width="0.75"/>
<line x1="513.3" y1="82.5" x2="516.9" y2="82.5" stroke="#111" stroke-width="0.75"/>
<line x1="513.3" y1="88.5" x2="516.9" y2="88.5" stroke="#111" stroke-width="0.75"/>
<circle cx="515.09" cy="87.76" r="1.2" fill="#000"/>
<circle cx="515.84" cy="87.6" r="1.2" fill="#000"/>
<circle cx="514.96" cy="92.69" r="1.2" fill="#000"/>
<circle cx="512.86" cy="88.12" r="1.2" fill="#000"/>
<circle cx="516.05" cy="86.5" r="1.2" fill="#000"/>
<circle cx="513.23" cy="91.68" r="1.2" fill="#000"/>
<line x1="527.4" y1="88.8" x2="527.4" y2="92.4" stroke="#111" stroke-width="0.75"/>
<line x1="525.6" y1="88.8" x2="529.2" y2="88.8" stroke="#111" stroke-width="0.75"/>
<line x1="525.6" y1="92.4" x2="529.2" y2="92.4" stroke="#111" stroke-width="0.75"/>
<circle cx="526.01" cy="94.52" r="1.2" fill="#000"/>
<circle cx="525.57" cy="96.75" r="1.2" fill="#000"/>
<circle cx="525.95" cy="94.87" r="1.2" fill="#000"/>
<circle cx="529.7" cy="93.78" r="1.2" fill="#000"/>
<circle cx="529.93" cy="96.12" r="1.2" fill="#000"/>
<circle cx="527.66" cy="95.4" r="1.2" fill="#000"/>
<line x1="539.7" y1="91.2" x2="539.7" y2="95.2" stroke="#111" stroke-width="0.75"/>
<line x1="537.9" y1="91.2" x2="541.5" y2="91.2" stroke="#111" stroke-width="0.75"/>
<line x1="537.9" y1="95.2" x2="541.5" y2="95.2" stroke="#111" stroke-width="0.75"/>
<circle cx="542.28" cy="93.98" r="1.2" fill="#000"/>
<circle cx="540.92" cy="96.99" r="1.2" fill="#000"/>
<circle cx="542.09" cy="96.45" r="1.2" fill="#000"/>
<circle cx="541.96" cy="94.71" r="1.2" fill="#000"/>
<circle cx="542.37" cy="96.49" r="1.2" fill="#000"/>
<circle cx="537.99" cy="96.02" r="1.2" fill="#000"/>
<line x1="552.1" y1="75" x2="552.1" y2="81.6" stroke="#111" stroke-width="0.75"/>
<line x1="550.3" y1="75" x2="553.9" y2="75" stroke="#111" stroke-width="0.75"/>
<line x1="550.3" y1="81.6" x2="553.9" y2="81.6" stroke="#111" stroke-width="0.75"/>
<circle cx="552.73" cy="84.93" r="1.2" fill="#000"/>
<circle cx="551.87" cy="83.68" r="1.2" fill="#000"/>
<circle cx="554.46" cy="82.34" r="1.2" fill="#000"/>
<circle cx="553.36" cy="83.8" r="1.2" fill="#000"/>
<circle cx="554.03" cy="78.96" r="1.2" fill="#000"/>
<circle cx="550.31" cy="85.68" r="1.2" fill="#000"/>
<line x1="572.36" y1="129.2" x2="572.36" y2="130.8" stroke="#111" stroke-width="0.75"/>
<line x1="570.56" y1="129.2" x2="574.16" y2="129.2" stroke="#111" stroke-width="0.75"/>
<line x1="570.56" y1="130.8" x2="574.16" y2="130.8" stroke="#111" stroke-width="0.75"/>
<circle cx="571.32" cy="130.29" r="1.2" fill="#000"/>
<circle cx="571.09" cy="131.03" r="1.2" fill="#000"/>
<circle cx="572.18" cy="129.5" r="1.2" fill="#000"/>
<circle cx="574.5" cy="130.98" r="1.2" fill="#000"/>
<circle cx="574.3" cy="130.57" r="1.2" fill="#000"/>
<circle cx="570.66" cy="129.69" r="1.2" fill="#000"/>
<circle cx="570.95" cy="130.98" r="1.2" fill="#000"/>
<circle cx="569.71" cy="130.97" r="1.2" fill="#000"/>
<line x1="584.66" y1="130" x2="584.66" y2="132" stroke="#111" stroke-width="0.75"/>
<line x1="582.86" y1="130" x2="586.46" y2="130" stroke="#111" stroke-width="0.75"/>
<line x1="582.86" y1="132" x2="586.46" y2="132" stroke="#111" stroke-width="0.75"/>
<circle cx="584.63" cy="131.22" r="1.2" fill="#000"/>
<circle cx="586.33" cy="130.47" r="1.2" fill="#000"/>
<circle cx="583.69" cy="131.66" r="1.2" fill="#000"/>
<circle cx="584.59" cy="130.59" r="1.2" fill="#000"/>
<circle cx="584.15" cy="130.5" r="1.2" fill="#000"/>
<circle cx="582.86" cy="131.46" r="1.2" fill="#000"/>
<circle cx="586.79" cy="131.64" r="1.2" fill="#000"/>
<circle cx="585.39" cy="130.52" r="1.2" fill="#000"/>
<line x1="596.96" y1="129" x2="596.96" y2="133" stroke="#111" stroke-width="0.75"/>
<line x1="595.16" y1="129" x2="598.76" y2="129" stroke="#111" stroke-width="0.75"/>
<line x1="595.16" y1="133" x2="598.76" y2="133" stroke="#111" stroke-width="0.75"/>
<circle cx="599.27" cy="129.99" r="1.2" fill="#000"/>
<circle cx="599.5" cy="130.2" r="1.2" fill="#000"/>
<circle cx="596.77" cy="132.31" r="1.2" fill="#000"/>
<circle cx="596.18" cy="131.07" r="1.2" fill="#000"/>
<circle cx="595.13" cy="132.52" r="1.2" fill="#000"/>
<circle cx="599.58" cy="129.99" r="1.2" fill="#000"/>
<circle cx="594.92" cy="130.95" r="1.2" fill="#000"/>
<circle cx="597.06" cy="131.92" r="1.2" fill="#000"/>
<line x1="609.36" y1="132" x2="609.36" y2="134.4" stroke="#111" stroke-width="0.75"/>
<line x1="607.56" y1="132" x2="611.16" y2="132" stroke="#111" stroke-width="0.75"/>
<line x1="607.56" y1="134.4" x2="611.16" y2="134.4" stroke="#111" stroke-width="0.75"/>
<circle cx="609.06" cy="132.58" r="1.2" fill="#000"/>
<circle cx="611.57" cy="133.19" r="1.2" fill="#000"/>
<circle cx="607.13" cy="134.04" r="1.2" fill="#000"/>
<circle cx="607.07" cy="132.29" r="1.2" fill="#000"/>
<circle cx="607.06" cy="133.65" r="1.2" fill="#000"/>
<circle cx="611.21" cy="133.6" r="1.2" fill="#000"/>
<circle cx="607.86" cy="134.34" r="1.2" fill="#000"/>
<circle cx="611.37" cy="132.69" r="1.2" fill="#000"/>
<line x1="629.62" y1="118.8" x2="629.62" y2="120.4" stroke="#111" stroke-width="0.75"/>
<line x1="627.82" y1="118.8" x2="631.42" y2="118.8" stroke="#111" stroke-width="0.75"/>
<line x1="627.82" y1="120.4" x2="631.42" y2="120.4" stroke="#111" stroke-width="0.75"/>
<circle cx="631.83" cy="118.98" r="1.2" fill="#000"/>
<circle cx="629.4" cy="118.48" r="1.2" fill="#000"/>
<circle cx="632.29" cy="118.53" r="1.2" fill="#000"/>
<circle cx="630.56" cy="119.95" r="1.2" fill="#000"/>
<circle cx="630.78" cy="119.35" r="1.2" fill="#000"/>
<circle cx="628.97" cy="119.32" r="1.2" fill="#000"/>
<circle cx="627.31" cy="119.06" r="1.2" fill="#000"/>
<circle cx="628.41" cy="120.54" r="1.2" fill="#000"/>
<line x1="641.92" y1="119.2" x2="641.92" y2="120.8" stroke="#111" stroke-width="0.75"/>
<line x1="640.12" y1="119.2" x2="643.72" y2="119.2" stroke="#111" stroke-width="0.75"/>
<line x1="640.12" y1="120.8" x2="643.72" y2="120.8" stroke="#111" stroke-width="0.75"/>
<circle cx="640.97" cy="120.42" r="1.2" fill="#000"/>
<circle cx="639.27" cy="121.59" r="1.2" fill="#000"/>
<circle cx="643.66" cy="121.64" r="1.2" fill="#000"/>
<circle cx="640.64" cy="119.08" r="1.2" fill="#000"/>
<circle cx="639.52" cy="119.06" r="1.2" fill="#000"/>
<circle cx="639.35" cy="120.65" r="1.2" fill="#000"/>
<circle cx="641.19" cy="121.05" r="1.2" fill="#000"/>
<circle cx="643.33" cy="119.56" r="1.2" fill="#000"/>
<line x1="654.22" y1="121" x2="654.22" y2="122.6" stroke="#111" stroke-width="0.75"/>
<line x1="652.42" y1="121" x2="656.02" y2="121" stroke="#111" stroke-width="0.75"/>
<line x1="652.42" y1="122.6" x2="656.02" y2="122.6" stroke="#111" stroke-width="0.75"/>
<circle cx="651.92" cy="122.14" r="1.2" fill="#000"/>
<circle cx="656.86" cy="121.34" r="1.2" fill="#000"/>
<circle cx="654.46" cy="121.44" r="1.2" fill="#000"/>
<circle cx="655.51" cy="122.43" r="1.2" fill="#000"/>
<circle cx="654.75" cy="123.36" r="1.2" fill="#000"/>
<circle cx="655.32" cy="121.34" r="1.2" fill="#000"/>
<circle cx="653.57" cy="122.27" r="1.2" fill="#000"/>
<circle cx="655.26" cy="120.95" r="1.2" fill="#000"/>
<line x1="666.62" y1="120.2" x2="666.62" y2="121.8" stroke="#111" stroke-width="0.75"/>
<line x1="664.82" y1="120.2" x2="668.42" y2="120.2" stroke="#111" stroke-width="0.75"/>
<line x1="664.82" y1="121.8" x2="668.42" y2="121.8" stroke="#111" stroke-width="0.75"/>
<circle cx="665.43" cy="121.05" r="1.2" fill="#000"/>
<circle cx="666.97" cy="120.92" r="1.2" fill="#000"/>
<circle cx="667.09" cy="121" r="1.2" fill="#000"/>
<circle cx="666.72" cy="120.09" r="1.2" fill="#000"/>
<circle cx="664.52" cy="120.26" r="1.2" fill="#000"/>
<circle cx="668.13" cy="119.52" r="1.2" fill="#000"/>
<circle cx="665.82" cy="120.79" r="1.2" fill="#000"/>
<circle cx="666.91" cy="120.83" r="1.2" fill="#000"/>
<circle cx="253.4" cy="93.4" r="1.2" fill="#000"/>
<circle cx="265.8" cy="115.3" r="1.2" fill="#000"/>
<circle cx="286.06" cy="127.5" r="1.2" fill="#000"/>
<circle cx="367.92" cy="52.2" r="1.2" fill="#000"/>
<circle cx="425.18" cy="120.9" r="1.2" fill="#000"/>
<circle cx="423.58" cy="127" r="1.2" fill="#000"/>
<circle cx="437.58" cy="124" r="1.2" fill="#000"/>
<circle cx="439.58" cy="127.9" r="1.2" fill="#000"/>
<circle cx="513.1" cy="66.2" r="1.2" fill="#000"/>
<circle cx="515.1" cy="66.2" r="1.2" fill="#000"/>
<circle cx="517.1" cy="66.2" r="1.2" fill="#000"/>
<circle cx="527.4" cy="82.3" r="1.2" fill="#000"/>
<circle cx="539.7" cy="65.3" r="1.2" fill="#000"/>
<circle cx="538.1" cy="113.9" r="1.2" fill="#000"/>
<circle cx="541.1" cy="115.6" r="1.2" fill="#000"/>
<circle cx="539.7" cy="134" r="1.2" fill="#000"/>
<circle cx="550.1" cy="62.7" r="1.2" fill="#000"/>
<circle cx="553.6" cy="61" r="1.2" fill="#000"/>
<circle cx="552.1" cy="88" r="1.2" fill="#000"/>
<circle cx="550.4" cy="95.5" r="1.2" fill="#000"/>
<circle cx="554.1" cy="97.3" r="1.2" fill="#000"/>
<circle cx="596.96" cy="121.2" r="1.2" fill="#000"/>
<circle cx="641.92" cy="115.9" r="1.2" fill="#000"/>
<line x1="220.2" y1="145.3" x2="675.8" y2="145.3" stroke="#333333" stroke-width="0.8"/>
<line x1="247.3" y1="145.3" x2="247.3" y2="149.7" stroke="#333333" stroke-width="0.8"/>
<text x="0" y="0" font-size="9.02" text-anchor="middle" transform="translate(247.3 159) scale(0.91 1)">Lung</text>
<line x1="304.56" y1="145.3" x2="304.56" y2="149.7" stroke="#333333" stroke-width="0.8"/>
<text x="0" y="0" font-size="9.02" text-anchor="middle" transform="translate(304.56 159) scale(0.91 1)">Heart</text>
<line x1="361.82" y1="145.3" x2="361.82" y2="149.7" stroke="#333333" stroke-width="0.8"/>
<text x="0" y="0" font-size="9.02" text-anchor="middle" transform="translate(361.82 159) scale(0.91 1)">Liver</text>
<line x1="419.08" y1="145.3" x2="419.08" y2="149.7" stroke="#333333" stroke-width="0.8"/>
<text x="0" y="0" font-size="9.02" text-anchor="middle" transform="translate(419.08 159) scale(0.91 1)">Spleen</text>
<line x1="476.34" y1="145.3" x2="476.34" y2="149.7" stroke="#333333" stroke-width="0.8"/>
<text x="0" y="0" font-size="9.02" text-anchor="middle" transform="translate(476.34 159) scale(0.91 1)">Kidney</text>
<line x1="533.6" y1="145.3" x2="533.6" y2="149.7" stroke="#333333" stroke-width="0.8"/>
<text x="0" y="0" font-size="9.02" text-anchor="middle" transform="translate(533.6 159) scale(0.91 1)">eWAT</text>
<line x1="590.86" y1="145.3" x2="590.86" y2="149.7" stroke="#333333" stroke-width="0.8"/>
<text x="0" y="0" font-size="9.02" text-anchor="middle" transform="translate(590.86 159) scale(0.91 1)">BAT</text>
<line x1="648.12" y1="145.3" x2="648.12" y2="149.7" stroke="#333333" stroke-width="0.8"/>
<text x="0" y="0" font-size="9.02" text-anchor="middle" transform="translate(648.12 159) scale(0.91 1)">Testis</text>
<line x1="228.5" y1="58.4" x2="253" y2="58.4" stroke="#666" stroke-width="0.9"/>
<text x="240.75" y="56.9" font-size="5" text-anchor="middle" fill="#3a3a3a" style="stroke:none">p=0.002</text>
<line x1="288.9" y1="58.7" x2="313.8" y2="58.7" stroke="#666" stroke-width="0.9"/>
<text x="301.35" y="57.2" font-size="5" text-anchor="middle" fill="#3a3a3a" style="stroke:none">p&lt;0.001</text>
<line x1="301.5" y1="51.3" x2="325.7" y2="51.3" stroke="#666" stroke-width="0.9"/>
<text x="313.6" y="49.8" font-size="5" text-anchor="middle" fill="#3a3a3a" style="stroke:none">p=0.020</text>
<line x1="314.1" y1="66.2" x2="327" y2="66.2" stroke="#666" stroke-width="0.9"/>
<text x="320.55" y="64.7" font-size="5" text-anchor="middle" fill="#3a3a3a" style="stroke:none">p=0.002</text>
<line x1="343.2" y1="47.3" x2="367.6" y2="47.3" stroke="#666" stroke-width="0.9"/>
<text x="355.4" y="45.8" font-size="5" text-anchor="middle" fill="#3a3a3a" style="stroke:none">p=0.008</text>
<line x1="368" y1="41.5" x2="380.7" y2="41.5" stroke="#666" stroke-width="0.9"/>
<text x="374.35" y="40" font-size="5" text-anchor="middle" fill="#3a3a3a" style="stroke:none">p=0.132</text>
<line x1="400.7" y1="58.7" x2="425.2" y2="58.7" stroke="#666" stroke-width="0.9"/>
<text x="412.95" y="57.2" font-size="5" text-anchor="middle" fill="#3a3a3a" style="stroke:none">p=0.002</text>
<line x1="412.8" y1="51.3" x2="437.5" y2="51.3" stroke="#666" stroke-width="0.9"/>
<text x="425.15" y="49.8" font-size="5" text-anchor="middle" fill="#3a3a3a" style="stroke:none">p=0.008</text>
<line x1="459.2" y1="58.7" x2="483.7" y2="58.7" stroke="#666" stroke-width="0.9"/>
<text x="471.45" y="57.2" font-size="5" text-anchor="middle" fill="#3a3a3a" style="stroke:none">p&lt;0.001</text>
<line x1="470.2" y1="51.3" x2="494.8" y2="51.3" stroke="#666" stroke-width="0.9"/>
<text x="482.5" y="49.8" font-size="5" text-anchor="middle" fill="#3a3a3a" style="stroke:none">p&lt;0.001</text>
<text x="0" y="0" font-size="13" font-weight="bold" fill="#000" transform="translate(1 187.2) scale(0.9 1)">c</text>
<rect x="20.4" y="200.2" width="59.2" height="59.4" fill="#fdfdfb"/>
<line x1="23.4" y1="200.2" x2="23.4" y2="259.6" stroke="#f1f0ec" stroke-width="0.5"/>
<line x1="31.4" y1="200.2" x2="31.4" y2="259.6" stroke="#f1f0ec" stroke-width="0.5"/>
<line x1="39.4" y1="200.2" x2="39.4" y2="259.6" stroke="#f1f0ec" stroke-width="0.5"/>
<line x1="47.4" y1="200.2" x2="47.4" y2="259.6" stroke="#f1f0ec" stroke-width="0.5"/>
<line x1="55.4" y1="200.2" x2="55.4" y2="259.6" stroke="#f1f0ec" stroke-width="0.5"/>
<line x1="63.4" y1="200.2" x2="63.4" y2="259.6" stroke="#f1f0ec" stroke-width="0.5"/>
<line x1="71.4" y1="200.2" x2="71.4" y2="259.6" stroke="#f1f0ec" stroke-width="0.5"/>
<line x1="79.4" y1="200.2" x2="79.4" y2="259.6" stroke="#f1f0ec" stroke-width="0.5"/>
<line x1="20.4" y1="205.2" x2="79.6" y2="205.2" stroke="#f1f0ec" stroke-width="0.5"/>
<line x1="20.4" y1="213.2" x2="79.6" y2="213.2" stroke="#f1f0ec" stroke-width="0.5"/>
<line x1="20.4" y1="221.2" x2="79.6" y2="221.2" stroke="#f1f0ec" stroke-width="0.5"/>
<line x1="20.4" y1="229.2" x2="79.6" y2="229.2" stroke="#f1f0ec" stroke-width="0.5"/>
<line x1="20.4" y1="237.2" x2="79.6" y2="237.2" stroke="#f1f0ec" stroke-width="0.5"/>
<line x1="20.4" y1="245.2" x2="79.6" y2="245.2" stroke="#f1f0ec" stroke-width="0.5"/>
<line x1="20.4" y1="253.2" x2="79.6" y2="253.2" stroke="#f1f0ec" stroke-width="0.5"/>
<rect x="82.2" y="200.2" width="59.5" height="59.4" fill="#fdfdfb"/>
<line x1="85.2" y1="200.2" x2="85.2" y2="259.6" stroke="#f1f0ec" stroke-width="0.5"/>
<line x1="93.2" y1="200.2" x2="93.2" y2="259.6" stroke="#f1f0ec" stroke-width="0.5"/>
<line x1="101.2" y1="200.2" x2="101.2" y2="259.6" stroke="#f1f0ec" stroke-width="0.5"/>
<line x1="109.2" y1="200.2" x2="109.2" y2="259.6" stroke="#f1f0ec" stroke-width="0.5"/>
<line x1="117.2" y1="200.2" x2="117.2" y2="259.6" stroke="#f1f0ec" stroke-width="0.5"/>
<line x1="125.2" y1="200.2" x2="125.2" y2="259.6" stroke="#f1f0ec" stroke-width="0.5"/>
<line x1="133.2" y1="200.2" x2="133.2" y2="259.6" stroke="#f1f0ec" stroke-width="0.5"/>
<line x1="141.2" y1="200.2" x2="141.2" y2="259.6" stroke="#f1f0ec" stroke-width="0.5"/>
<line x1="82.2" y1="205.2" x2="141.7" y2="205.2" stroke="#f1f0ec" stroke-width="0.5"/>
<line x1="82.2" y1="213.2" x2="141.7" y2="213.2" stroke="#f1f0ec" stroke-width="0.5"/>
<line x1="82.2" y1="221.2" x2="141.7" y2="221.2" stroke="#f1f0ec" stroke-width="0.5"/>
<line x1="82.2" y1="229.2" x2="141.7" y2="229.2" stroke="#f1f0ec" stroke-width="0.5"/>
<line x1="82.2" y1="237.2" x2="141.7" y2="237.2" stroke="#f1f0ec" stroke-width="0.5"/>
<line x1="82.2" y1="245.2" x2="141.7" y2="245.2" stroke="#f1f0ec" stroke-width="0.5"/>
<line x1="82.2" y1="253.2" x2="141.7" y2="253.2" stroke="#f1f0ec" stroke-width="0.5"/>
<rect x="20.4" y="262.2" width="59.2" height="59.1" fill="#fdfdfb"/>
<line x1="23.4" y1="262.2" x2="23.4" y2="321.3" stroke="#f1f0ec" stroke-width="0.5"/>
<line x1="31.4" y1="262.2" x2="31.4" y2="321.3" stroke="#f1f0ec" stroke-width="0.5"/>
<line x1="39.4" y1="262.2" x2="39.4" y2="321.3" stroke="#f1f0ec" stroke-width="0.5"/>
<line x1="47.4" y1="262.2" x2="47.4" y2="321.3" stroke="#f1f0ec" stroke-width="0.5"/>
<line x1="55.4" y1="262.2" x2="55.4" y2="321.3" stroke="#f1f0ec" stroke-width="0.5"/>
<line x1="63.4" y1="262.2" x2="63.4" y2="321.3" stroke="#f1f0ec" stroke-width="0.5"/>
<line x1="71.4" y1="262.2" x2="71.4" y2="321.3" stroke="#f1f0ec" stroke-width="0.5"/>
<line x1="79.4" y1="262.2" x2="79.4" y2="321.3" stroke="#f1f0ec" stroke-width="0.5"/>
<line x1="20.4" y1="267.2" x2="79.6" y2="267.2" stroke="#f1f0ec" stroke-width="0.5"/>
<line x1="20.4" y1="275.2" x2="79.6" y2="275.2" stroke="#f1f0ec" stroke-width="0.5"/>
<line x1="20.4" y1="283.2" x2="79.6" y2="283.2" stroke="#f1f0ec" stroke-width="0.5"/>
<line x1="20.4" y1="291.2" x2="79.6" y2="291.2" stroke="#f1f0ec" stroke-width="0.5"/>
<line x1="20.4" y1="299.2" x2="79.6" y2="299.2" stroke="#f1f0ec" stroke-width="0.5"/>
<line x1="20.4" y1="307.2" x2="79.6" y2="307.2" stroke="#f1f0ec" stroke-width="0.5"/>
<line x1="20.4" y1="315.2" x2="79.6" y2="315.2" stroke="#f1f0ec" stroke-width="0.5"/>
<rect x="82.2" y="262.2" width="59.5" height="59.1" fill="#fdfdfb"/>
<line x1="85.2" y1="262.2" x2="85.2" y2="321.3" stroke="#f1f0ec" stroke-width="0.5"/>
<line x1="93.2" y1="262.2" x2="93.2" y2="321.3" stroke="#f1f0ec" stroke-width="0.5"/>
<line x1="101.2" y1="262.2" x2="101.2" y2="321.3" stroke="#f1f0ec" stroke-width="0.5"/>
<line x1="109.2" y1="262.2" x2="109.2" y2="321.3" stroke="#f1f0ec" stroke-width="0.5"/>
<line x1="117.2" y1="262.2" x2="117.2" y2="321.3" stroke="#f1f0ec" stroke-width="0.5"/>
<line x1="125.2" y1="262.2" x2="125.2" y2="321.3" stroke="#f1f0ec" stroke-width="0.5"/>
<line x1="133.2" y1="262.2" x2="133.2" y2="321.3" stroke="#f1f0ec" stroke-width="0.5"/>
<line x1="141.2" y1="262.2" x2="141.2" y2="321.3" stroke="#f1f0ec" stroke-width="0.5"/>
<line x1="82.2" y1="267.2" x2="141.7" y2="267.2" stroke="#f1f0ec" stroke-width="0.5"/>
<line x1="82.2" y1="275.2" x2="141.7" y2="275.2" stroke="#f1f0ec" stroke-width="0.5"/>
<line x1="82.2" y1="283.2" x2="141.7" y2="283.2" stroke="#f1f0ec" stroke-width="0.5"/>
<line x1="82.2" y1="291.2" x2="141.7" y2="291.2" stroke="#f1f0ec" stroke-width="0.5"/>
<line x1="82.2" y1="299.2" x2="141.7" y2="299.2" stroke="#f1f0ec" stroke-width="0.5"/>
<line x1="82.2" y1="307.2" x2="141.7" y2="307.2" stroke="#f1f0ec" stroke-width="0.5"/>
<line x1="82.2" y1="315.2" x2="141.7" y2="315.2" stroke="#f1f0ec" stroke-width="0.5"/>
<rect x="20.9" y="314.2" width="58.2" height="6.6" fill="#d8d8d8"/>
<line x1="21.7" y1="314.2" x2="21.7" y2="320.8" stroke="#8a8a8a" stroke-width="0.6"/>
<line x1="23.9" y1="314.2" x2="23.9" y2="320.8" stroke="#b0b0b0" stroke-width="0.6"/>
<line x1="26.1" y1="314.2" x2="26.1" y2="320.8" stroke="#8a8a8a" stroke-width="0.6"/>
<line x1="28.3" y1="314.2" x2="28.3" y2="320.8" stroke="#b0b0b0" stroke-width="0.6"/>
<line x1="30.5" y1="314.2" x2="30.5" y2="320.8" stroke="#8a8a8a" stroke-width="0.6"/>
<line x1="32.7" y1="314.2" x2="32.7" y2="320.8" stroke="#b0b0b0" stroke-width="0.6"/>
<line x1="34.9" y1="314.2" x2="34.9" y2="320.8" stroke="#8a8a8a" stroke-width="0.6"/>
<line x1="37.1" y1="314.2" x2="37.1" y2="320.8" stroke="#b0b0b0" stroke-width="0.6"/>
<line x1="39.3" y1="314.2" x2="39.3" y2="320.8" stroke="#8a8a8a" stroke-width="0.6"/>
<line x1="41.5" y1="314.2" x2="41.5" y2="320.8" stroke="#b0b0b0" stroke-width="0.6"/>
<line x1="43.7" y1="314.2" x2="43.7" y2="320.8" stroke="#8a8a8a" stroke-width="0.6"/>
<line x1="45.9" y1="314.2" x2="45.9" y2="320.8" stroke="#b0b0b0" stroke-width="0.6"/>
<line x1="48.1" y1="314.2" x2="48.1" y2="320.8" stroke="#8a8a8a" stroke-width="0.6"/>
<line x1="50.3" y1="314.2" x2="50.3" y2="320.8" stroke="#b0b0b0" stroke-width="0.6"/>
<line x1="52.5" y1="314.2" x2="52.5" y2="320.8" stroke="#8a8a8a" stroke-width="0.6"/>
<line x1="54.7" y1="314.2" x2="54.7" y2="320.8" stroke="#b0b0b0" stroke-width="0.6"/>
<line x1="56.9" y1="314.2" x2="56.9" y2="320.8" stroke="#8a8a8a" stroke-width="0.6"/>
<line x1="59.1" y1="314.2" x2="59.1" y2="320.8" stroke="#b0b0b0" stroke-width="0.6"/>
<line x1="61.3" y1="314.2" x2="61.3" y2="320.8" stroke="#8a8a8a" stroke-width="0.6"/>
<line x1="63.5" y1="314.2" x2="63.5" y2="320.8" stroke="#b0b0b0" stroke-width="0.6"/>
<line x1="65.7" y1="314.2" x2="65.7" y2="320.8" stroke="#8a8a8a" stroke-width="0.6"/>
<line x1="67.9" y1="314.2" x2="67.9" y2="320.8" stroke="#b0b0b0" stroke-width="0.6"/>
<line x1="70.1" y1="314.2" x2="70.1" y2="320.8" stroke="#8a8a8a" stroke-width="0.6"/>
<line x1="72.3" y1="314.2" x2="72.3" y2="320.8" stroke="#b0b0b0" stroke-width="0.6"/>
<line x1="74.5" y1="314.2" x2="74.5" y2="320.8" stroke="#8a8a8a" stroke-width="0.6"/>
<line x1="76.7" y1="314.2" x2="76.7" y2="320.8" stroke="#b0b0b0" stroke-width="0.6"/>
<line x1="78.9" y1="314.2" x2="78.9" y2="320.8" stroke="#8a8a8a" stroke-width="0.6"/>
<rect x="88.9" y="313.4" width="52.3" height="7.4" fill="#d8d8d8"/>
<line x1="89.7" y1="313.4" x2="89.7" y2="320.8" stroke="#8a8a8a" stroke-width="0.6"/>
<line x1="91.9" y1="313.4" x2="91.9" y2="320.8" stroke="#b0b0b0" stroke-width="0.6"/>
<line x1="94.1" y1="313.4" x2="94.1" y2="320.8" stroke="#8a8a8a" stroke-width="0.6"/>
<line x1="96.3" y1="313.4" x2="96.3" y2="320.8" stroke="#b0b0b0" stroke-width="0.6"/>
<line x1="98.5" y1="313.4" x2="98.5" y2="320.8" stroke="#8a8a8a" stroke-width="0.6"/>
<line x1="100.7" y1="313.4" x2="100.7" y2="320.8" stroke="#b0b0b0" stroke-width="0.6"/>
<line x1="102.9" y1="313.4" x2="102.9" y2="320.8" stroke="#8a8a8a" stroke-width="0.6"/>
<line x1="105.1" y1="313.4" x2="105.1" y2="320.8" stroke="#b0b0b0" stroke-width="0.6"/>
<line x1="107.3" y1="313.4" x2="107.3" y2="320.8" stroke="#8a8a8a" stroke-width="0.6"/>
<line x1="109.5" y1="313.4" x2="109.5" y2="320.8" stroke="#b0b0b0" stroke-width="0.6"/>
<line x1="111.7" y1="313.4" x2="111.7" y2="320.8" stroke="#8a8a8a" stroke-width="0.6"/>
<line x1="113.9" y1="313.4" x2="113.9" y2="320.8" stroke="#b0b0b0" stroke-width="0.6"/>
<line x1="116.1" y1="313.4" x2="116.1" y2="320.8" stroke="#8a8a8a" stroke-width="0.6"/>
<line x1="118.3" y1="313.4" x2="118.3" y2="320.8" stroke="#b0b0b0" stroke-width="0.6"/>
<line x1="120.5" y1="313.4" x2="120.5" y2="320.8" stroke="#8a8a8a" stroke-width="0.6"/>
<line x1="122.7" y1="313.4" x2="122.7" y2="320.8" stroke="#b0b0b0" stroke-width="0.6"/>
<line x1="124.9" y1="313.4" x2="124.9" y2="320.8" stroke="#8a8a8a" stroke-width="0.6"/>
<line x1="127.1" y1="313.4" x2="127.1" y2="320.8" stroke="#b0b0b0" stroke-width="0.6"/>
<line x1="129.3" y1="313.4" x2="129.3" y2="320.8" stroke="#8a8a8a" stroke-width="0.6"/>
<line x1="131.5" y1="313.4" x2="131.5" y2="320.8" stroke="#b0b0b0" stroke-width="0.6"/>
<line x1="133.7" y1="313.4" x2="133.7" y2="320.8" stroke="#8a8a8a" stroke-width="0.6"/>
<line x1="135.9" y1="313.4" x2="135.9" y2="320.8" stroke="#b0b0b0" stroke-width="0.6"/>
<line x1="138.1" y1="313.4" x2="138.1" y2="320.8" stroke="#8a8a8a" stroke-width="0.6"/>
<line x1="140.3" y1="313.4" x2="140.3" y2="320.8" stroke="#b0b0b0" stroke-width="0.6"/>
<rect x="82.7" y="258" width="58.5" height="1.2" fill="#d8d8d8"/>
<line x1="83.5" y1="258" x2="83.5" y2="259.2" stroke="#8a8a8a" stroke-width="0.6"/>
<line x1="85.7" y1="258" x2="85.7" y2="259.2" stroke="#b0b0b0" stroke-width="0.6"/>
<line x1="87.9" y1="258" x2="87.9" y2="259.2" stroke="#8a8a8a" stroke-width="0.6"/>
<line x1="90.1" y1="258" x2="90.1" y2="259.2" stroke="#b0b0b0" stroke-width="0.6"/>
<line x1="92.3" y1="258" x2="92.3" y2="259.2" stroke="#8a8a8a" stroke-width="0.6"/>
<line x1="94.5" y1="258" x2="94.5" y2="259.2" stroke="#b0b0b0" stroke-width="0.6"/>
<line x1="96.7" y1="258" x2="96.7" y2="259.2" stroke="#8a8a8a" stroke-width="0.6"/>
<line x1="98.9" y1="258" x2="98.9" y2="259.2" stroke="#b0b0b0" stroke-width="0.6"/>
<line x1="101.1" y1="258" x2="101.1" y2="259.2" stroke="#8a8a8a" stroke-width="0.6"/>
<line x1="103.3" y1="258" x2="103.3" y2="259.2" stroke="#b0b0b0" stroke-width="0.6"/>
<line x1="105.5" y1="258" x2="105.5" y2="259.2" stroke="#8a8a8a" stroke-width="0.6"/>
<line x1="107.7" y1="258" x2="107.7" y2="259.2" stroke="#b0b0b0" stroke-width="0.6"/>
<line x1="109.9" y1="258" x2="109.9" y2="259.2" stroke="#8a8a8a" stroke-width="0.6"/>
<line x1="112.1" y1="258" x2="112.1" y2="259.2" stroke="#b0b0b0" stroke-width="0.6"/>
<line x1="114.3" y1="258" x2="114.3" y2="259.2" stroke="#8a8a8a" stroke-width="0.6"/>
<line x1="116.5" y1="258" x2="116.5" y2="259.2" stroke="#b0b0b0" stroke-width="0.6"/>
<line x1="118.7" y1="258" x2="118.7" y2="259.2" stroke="#8a8a8a" stroke-width="0.6"/>
<line x1="120.9" y1="258" x2="120.9" y2="259.2" stroke="#b0b0b0" stroke-width="0.6"/>
<line x1="123.1" y1="258" x2="123.1" y2="259.2" stroke="#8a8a8a" stroke-width="0.6"/>
<line x1="125.3" y1="258" x2="125.3" y2="259.2" stroke="#b0b0b0" stroke-width="0.6"/>
<line x1="127.5" y1="258" x2="127.5" y2="259.2" stroke="#8a8a8a" stroke-width="0.6"/>
<line x1="129.7" y1="258" x2="129.7" y2="259.2" stroke="#b0b0b0" stroke-width="0.6"/>
<line x1="131.9" y1="258" x2="131.9" y2="259.2" stroke="#8a8a8a" stroke-width="0.6"/>
<line x1="134.1" y1="258" x2="134.1" y2="259.2" stroke="#b0b0b0" stroke-width="0.6"/>
<line x1="136.3" y1="258" x2="136.3" y2="259.2" stroke="#8a8a8a" stroke-width="0.6"/>
<line x1="138.5" y1="258" x2="138.5" y2="259.2" stroke="#b0b0b0" stroke-width="0.6"/>
<line x1="140.7" y1="258" x2="140.7" y2="259.2" stroke="#8a8a8a" stroke-width="0.6"/>
<ellipse cx="116" cy="298" rx="16" ry="12" fill="#e8b0b0" fill-opacity="0.15"/>
<path d="M35.5,219.2 C36.07,218.37 36.87,217.92 37.8,218.1 C38.73,218.28 40.18,219.65 41.1,220.3 C42.02,220.95 42.47,221.77 43.3,222 C44.13,222.23 45.17,221.65 46.1,221.7 C47.03,221.75 48.07,222.62 48.9,222.3 C49.73,221.98 50.18,220.55 51.1,219.8 C52.02,219.05 53.12,218.08 54.4,217.8 C55.68,217.52 57.87,217.77 58.8,218.1 C59.73,218.43 59.62,218.5 60,219.8 C60.38,221.1 60.65,224.15 61.1,225.9 C61.55,227.65 62.33,228.92 62.7,230.3 C63.07,231.68 63.38,232.9 63.3,234.2 C63.22,235.5 62.95,236.8 62.2,238.1 C61.45,239.4 60.2,240.9 58.8,242 C57.4,243.1 55.45,244.15 53.8,244.7 C52.15,245.25 50.55,245.38 48.9,245.3 C47.25,245.22 45.48,244.95 43.9,244.2 C42.32,243.45 40.7,242.28 39.4,240.8 C38.1,239.32 36.93,237.33 36.1,235.3 C35.27,233.27 34.68,230.63 34.4,228.6 C34.12,226.57 34.22,224.67 34.4,223.1 C34.58,221.53 34.93,220.03 35.5,219.2 Z" fill="url(#lg1)"/>
<path d="M42,224 C46,222 52,223 57,226 C54,228 47,228 42,224 Z" fill="#ffffff" fill-opacity="0.35"/>
<ellipse cx="45" cy="239" rx="7" ry="5" fill="#7a4a80" fill-opacity="0.22"/>
<path d="M97,217 C97.87,215.75 99.33,215.5 100.5,215.3 C101.67,215.1 102.93,215.42 104,215.8 C105.07,216.18 106.12,217.6 106.9,217.6 C107.68,217.6 107.62,216.18 108.7,215.8 C109.78,215.42 111.95,215.48 113.4,215.3 C114.85,215.12 116.43,214.7 117.4,214.7 C118.37,214.7 118.7,214.62 119.2,215.3 C119.7,215.98 120.3,217.45 120.4,218.8 C120.5,220.15 119.32,222.33 119.8,223.4 C120.28,224.47 122.23,224.32 123.3,225.2 C124.37,226.08 125.62,227.33 126.2,228.7 C126.78,230.07 127,231.85 126.8,233.4 C126.6,234.95 125.88,236.55 125,238 C124.12,239.45 122.95,240.93 121.5,242.1 C120.05,243.27 118.15,244.47 116.3,245 C114.45,245.53 112.25,245.58 110.4,245.3 C108.55,245.02 106.75,244.22 105.2,243.3 C103.65,242.38 102.47,241.07 101.1,239.8 C99.73,238.53 98.02,237.35 97,235.7 C95.98,234.05 95.28,232.05 95,229.9 C94.72,227.75 94.97,224.95 95.3,222.8 C95.63,220.65 96.13,218.25 97,217 Z" fill="url(#lg2)"/>
<path d="M101,226 C108,227 116,229 120.5,230.5 C115,232 106,230 101,226 Z" fill="#ffffff" fill-opacity="0.35"/>
<path d="M107,219 C110,218 113,219 115,222 C112,223 109,222 107,219 Z" fill="#ffffff" fill-opacity="0.35"/>
<path d="M36.1,279.2 C36.67,277.97 37.68,276.77 38.6,276.1 C39.52,275.43 40.58,275.1 41.6,275.2 C42.62,275.3 43.67,276.23 44.7,276.7 C45.73,277.17 46.37,277.68 47.8,278 C49.23,278.32 51.47,278.45 53.3,278.6 C55.13,278.75 57.57,278.6 58.8,278.9 C60.03,279.2 59.98,279.53 60.7,280.4 C61.42,281.27 62.18,282.47 63.1,284.1 C64.02,285.73 65.28,288.15 66.2,290.2 C67.12,292.25 68.4,294.87 68.6,296.4 C68.8,297.93 68.52,298.48 67.4,299.4 C66.28,300.32 63.73,301.08 61.9,301.9 C60.07,302.72 58.25,303.63 56.4,304.3 C54.55,304.97 52.03,306.1 50.8,305.9 C49.57,305.7 49.2,303.97 49,303.1 C48.8,302.23 50.32,301.32 49.6,300.7 C48.88,300.08 46.33,300.02 44.7,299.4 C43.07,298.78 41.13,298.02 39.8,297 C38.47,295.98 37.47,294.73 36.7,293.3 C35.93,291.87 35.45,290.03 35.2,288.4 C34.95,286.77 35.05,285.03 35.2,283.5 C35.35,281.97 35.53,280.43 36.1,279.2 Z" fill="url(#lg3)"/>
<path d="M44,282 C48,280 53,281 57,284 C53,286 48,285 44,282 Z" fill="#ffffff" fill-opacity="0.35"/>
<ellipse cx="43" cy="292" rx="6" ry="5" fill="#70406a" fill-opacity="0.2"/>
<path d="M94.7,281.8 C95.67,280.88 96.97,279.92 98.4,279.4 C99.83,278.88 101.67,278.6 103.3,278.7 C104.93,278.8 106.67,279.58 108.2,280 C109.73,280.42 111.37,281.2 112.5,281.2 C113.63,281.2 113.97,280.35 115,280 C116.03,279.65 117.58,278.9 118.7,279.1 C119.82,279.3 120.78,279.83 121.7,281.2 C122.62,282.57 123.68,285.05 124.2,287.3 C124.72,289.55 124.9,292.55 124.8,294.7 C124.7,296.85 124.42,298.47 123.6,300.2 C122.78,301.93 121.53,303.87 119.9,305.1 C118.27,306.33 115.85,306.98 113.8,307.6 C111.75,308.22 109.45,308.8 107.6,308.8 C105.75,308.8 103.62,308.42 102.7,307.6 C101.78,306.78 103.02,305.03 102.1,303.9 C101.18,302.77 98.63,302.03 97.2,300.8 C95.77,299.57 94.32,298.23 93.5,296.5 C92.68,294.77 92.45,292.33 92.3,290.4 C92.15,288.47 92.2,286.33 92.6,284.9 C93,283.47 93.73,282.72 94.7,281.8 Z" fill="url(#lg4)"/>
<path d="M99,286 C101,284 106,284 108,286 C106,288.5 101,288.5 99,286 Z" fill="#ffffff" fill-opacity="0.35"/>
<ellipse cx="105.8" cy="296" rx="1.3" ry="2.4" fill="#2a0810"/>
<circle cx="99.5" cy="293.5" r="0.8" fill="#fff" fill-opacity="0.8"/>
<rect x="20.4" y="200.2" width="59.2" height="59.4" fill="none" stroke="#5a5a5a" stroke-width="0.9"/>
<rect x="82.2" y="200.2" width="59.5" height="59.4" fill="none" stroke="#5a5a5a" stroke-width="0.9"/>
<rect x="20.4" y="262.2" width="59.2" height="59.1" fill="none" stroke="#5a5a5a" stroke-width="0.9"/>
<rect x="82.2" y="262.2" width="59.5" height="59.1" fill="none" stroke="#5a5a5a" stroke-width="0.9"/>
<line x1="66" y1="252.8" x2="74.1" y2="252.8" stroke="#111" stroke-width="1.7"/>
<text x="0" y="0" font-size="9.35" text-anchor="middle" transform="translate(51.3 198.9) scale(0.91 1)">WT</text>
<text x="0" y="0" font-size="9.35" text-anchor="middle" transform="translate(111.6 198.9) scale(0.91 1)">KO</text>
<text x="0" y="0" font-size="9.35" text-anchor="middle" transform="translate(17.2 233.5) rotate(-90) scale(0.91 1)">Young</text>
<text x="0" y="0" font-size="9.35" text-anchor="middle" transform="translate(17.2 291.5) rotate(-90) scale(0.91 1)">Aged</text>
<text x="0" y="0" font-size="13" font-weight="bold" fill="#000" transform="translate(147 186.9) scale(0.9 1)">d</text>
<rect x="166.2" y="200.2" width="59" height="59.5" fill="#bc5cc4"/>
<rect x="166.2" y="200.2" width="59" height="59.5" filter="url(#n1)"/>
<rect x="166.2" y="200.2" width="59" height="59.5" filter="url(#n2)"/>
<circle cx="169.19" cy="203.67" r="1.75" fill="#6040b0" fill-opacity="0.85"/>
<circle cx="175.65" cy="203.44" r="1.55" fill="#6040b0" fill-opacity="0.85"/>
<circle cx="180.79" cy="203.45" r="1.58" fill="#6040b0" fill-opacity="0.85"/>
<circle cx="189.91" cy="201.58" r="1.38" fill="#6040b0" fill-opacity="0.85"/>
<circle cx="193.17" cy="204.79" r="1.62" fill="#6040b0" fill-opacity="0.85"/>
<circle cx="199.35" cy="205.56" r="1.78" fill="#6040b0" fill-opacity="0.85"/>
<circle cx="208.49" cy="203.92" r="1.29" fill="#6040b0" fill-opacity="0.85"/>
<circle cx="212.03" cy="203.53" r="1.24" fill="#6040b0" fill-opacity="0.85"/>
<circle cx="219.21" cy="202.24" r="1.22" fill="#6040b0" fill-opacity="0.85"/>
<circle cx="172.44" cy="208.7" r="1.71" fill="#6040b0" fill-opacity="0.85"/>
<circle cx="179.09" cy="209.6" r="1.5" fill="#6040b0" fill-opacity="0.85"/>
<circle cx="186.13" cy="208.78" r="1.37" fill="#6040b0" fill-opacity="0.85"/>
<circle cx="194.03" cy="211.19" r="1.7" fill="#6040b0" fill-opacity="0.85"/>
<circle cx="199.13" cy="208.14" r="1.34" fill="#6040b0" fill-opacity="0.85"/>
<circle cx="203.65" cy="207.04" r="1.66" fill="#6040b0" fill-opacity="0.85"/>
<circle cx="210.55" cy="210.52" r="1.43" fill="#6040b0" fill-opacity="0.85"/>
<circle cx="219.45" cy="210.52" r="1.2" fill="#6040b0" fill-opacity="0.85"/>
<circle cx="222.5" cy="210.81" r="1.48" fill="#6040b0" fill-opacity="0.85"/>
<circle cx="171.55" cy="214.08" r="1.24" fill="#6040b0" fill-opacity="0.85"/>
<circle cx="176.38" cy="215.78" r="1.36" fill="#6040b0" fill-opacity="0.85"/>
<circle cx="180.35" cy="213.79" r="1.78" fill="#6040b0" fill-opacity="0.85"/>
<circle cx="189.76" cy="212.82" r="1.35" fill="#6040b0" fill-opacity="0.85"/>
<circle cx="193.21" cy="212.56" r="1.68" fill="#6040b0" fill-opacity="0.85"/>
<circle cx="199.96" cy="214.8" r="1.47" fill="#6040b0" fill-opacity="0.85"/>
<circle cx="206.41" cy="215.57" r="1.28" fill="#6040b0" fill-opacity="0.85"/>
<circle cx="214.84" cy="212.82" r="1.45" fill="#6040b0" fill-opacity="0.85"/>
<circle cx="219.31" cy="213.5" r="1.78" fill="#6040b0" fill-opacity="0.85"/>
<circle cx="173.96" cy="219.23" r="1.73" fill="#6040b0" fill-opacity="0.85"/>
<circle cx="177.7" cy="219.63" r="1.71" fill="#6040b0" fill-opacity="0.85"/>
<circle cx="186.04" cy="218.31" r="1.79" fill="#6040b0" fill-opacity="0.85"/>
<circle cx="190.52" cy="219.02" r="1.66" fill="#6040b0" fill-opacity="0.85"/>
<circle cx="197.43" cy="219.19" r="1.24" fill="#6040b0" fill-opacity="0.85"/>
<circle cx="202.76" cy="220.47" r="1.35" fill="#6040b0" fill-opacity="0.85"/>
<circle cx="211.45" cy="219.53" r="1.47" fill="#6040b0" fill-opacity="0.85"/>
<circle cx="219.46" cy="220.03" r="1.54" fill="#6040b0" fill-opacity="0.85"/>
<circle cx="171.23" cy="227.1" r="1.35" fill="#6040b0" fill-opacity="0.85"/>
<circle cx="174.41" cy="226.74" r="1.76" fill="#6040b0" fill-opacity="0.85"/>
<circle cx="180.84" cy="227.69" r="1.73" fill="#6040b0" fill-opacity="0.85"/>
<circle cx="189.06" cy="225.32" r="1.26" fill="#6040b0" fill-opacity="0.85"/>
<circle cx="192.93" cy="227.74" r="1.34" fill="#6040b0" fill-opacity="0.85"/>
<circle cx="202.32" cy="224.58" r="1.69" fill="#6040b0" fill-opacity="0.85"/>
<circle cx="208.23" cy="224.75" r="1.31" fill="#6040b0" fill-opacity="0.85"/>
<circle cx="215.19" cy="223.74" r="1.34" fill="#6040b0" fill-opacity="0.85"/>
<circle cx="220.87" cy="227.25" r="1.57" fill="#6040b0" fill-opacity="0.85"/>
<circle cx="171.62" cy="233.11" r="1.32" fill="#6040b0" fill-opacity="0.85"/>
<circle cx="176.83" cy="230.21" r="1.47" fill="#6040b0" fill-opacity="0.85"/>
<circle cx="183.43" cy="229.79" r="1.42" fill="#6040b0" fill-opacity="0.85"/>
<circle cx="192.12" cy="229.59" r="1.42" fill="#6040b0" fill-opacity="0.85"/>
<circle cx="199.95" cy="233.39" r="1.59" fill="#6040b0" fill-opacity="0.85"/>
<circle cx="205.46" cy="231.62" r="1.28" fill="#6040b0" fill-opacity="0.85"/>
<circle cx="208.92" cy="229.08" r="1.75" fill="#6040b0" fill-opacity="0.85"/>
<circle cx="218.3" cy="233.31" r="1.21" fill="#6040b0" fill-opacity="0.85"/>
<circle cx="224.41" cy="231.16" r="0.79" fill="#6040b0" fill-opacity="0.85"/>
<circle cx="168.59" cy="239.05" r="1.25" fill="#6040b0" fill-opacity="0.85"/>
<circle cx="176.01" cy="237.87" r="1.74" fill="#6040b0" fill-opacity="0.85"/>
<circle cx="183.26" cy="237.72" r="1.68" fill="#6040b0" fill-opacity="0.85"/>
<circle cx="190.46" cy="236.14" r="1.61" fill="#6040b0" fill-opacity="0.85"/>
<circle cx="196.8" cy="238.47" r="1.45" fill="#6040b0" fill-opacity="0.85"/>
<circle cx="202.7" cy="238.44" r="1.54" fill="#6040b0" fill-opacity="0.85"/>
<circle cx="208.36" cy="236.28" r="1.55" fill="#6040b0" fill-opacity="0.85"/>
<circle cx="214.69" cy="234.93" r="1.58" fill="#6040b0" fill-opacity="0.85"/>
<circle cx="222.81" cy="238.51" r="1.64" fill="#6040b0" fill-opacity="0.85"/>
<circle cx="172.1" cy="243.43" r="1.55" fill="#6040b0" fill-opacity="0.85"/>
<circle cx="178.73" cy="243.89" r="1.25" fill="#6040b0" fill-opacity="0.85"/>
<circle cx="186.52" cy="240.27" r="1.56" fill="#6040b0" fill-opacity="0.85"/>
<circle cx="191.71" cy="241.17" r="1.62" fill="#6040b0" fill-opacity="0.85"/>
<circle cx="198.19" cy="242.89" r="1.75" fill="#6040b0" fill-opacity="0.85"/>
<circle cx="203.51" cy="240.19" r="1.38" fill="#6040b0" fill-opacity="0.85"/>
<circle cx="211.8" cy="241.04" r="1.3" fill="#6040b0" fill-opacity="0.85"/>
<circle cx="219.22" cy="243.09" r="1.47" fill="#6040b0" fill-opacity="0.85"/>
<circle cx="168.05" cy="247.63" r="1.68" fill="#6040b0" fill-opacity="0.85"/>
<circle cx="177.66" cy="249.65" r="1.43" fill="#6040b0" fill-opacity="0.85"/>
<circle cx="182.57" cy="247.12" r="1.28" fill="#6040b0" fill-opacity="0.85"/>
<circle cx="188.58" cy="249.45" r="1.71" fill="#6040b0" fill-opacity="0.85"/>
<circle cx="195.95" cy="249.96" r="1.37" fill="#6040b0" fill-opacity="0.85"/>
<circle cx="199.92" cy="247.72" r="1.37" fill="#6040b0" fill-opacity="0.85"/>
<circle cx="206.52" cy="247.56" r="1.58" fill="#6040b0" fill-opacity="0.85"/>
<circle cx="214.17" cy="247.12" r="1.7" fill="#6040b0" fill-opacity="0.85"/>
<circle cx="222.76" cy="247.73" r="1.24" fill="#6040b0" fill-opacity="0.85"/>
<circle cx="170.5" cy="255.18" r="1.22" fill="#6040b0" fill-opacity="0.85"/>
<circle cx="179.93" cy="253.83" r="1.39" fill="#6040b0" fill-opacity="0.85"/>
<circle cx="186.71" cy="251.36" r="1.28" fill="#6040b0" fill-opacity="0.85"/>
<circle cx="191.6" cy="251.38" r="1.7" fill="#6040b0" fill-opacity="0.85"/>
<circle cx="197.02" cy="251.9" r="1.23" fill="#6040b0" fill-opacity="0.85"/>
<circle cx="205.18" cy="253.27" r="1.58" fill="#6040b0" fill-opacity="0.85"/>
<circle cx="211.69" cy="254.89" r="1.78" fill="#6040b0" fill-opacity="0.85"/>
<circle cx="218.23" cy="252.17" r="1.49" fill="#6040b0" fill-opacity="0.85"/>
<circle cx="222.36" cy="251.32" r="1.48" fill="#6040b0" fill-opacity="0.85"/>
<circle cx="170.36" cy="257.64" r="1.36" fill="#6040b0" fill-opacity="0.85"/>
<circle cx="207.25" cy="259.39" r="0.31" fill="#6040b0" fill-opacity="0.85"/>
<circle cx="221.28" cy="257.76" r="1.63" fill="#6040b0" fill-opacity="0.85"/>
<circle cx="173.29" cy="241.6" r="0.7" fill="#3a2480" fill-opacity="0.8"/>
<circle cx="220.8" cy="216.79" r="0.58" fill="#3a2480" fill-opacity="0.8"/>
<circle cx="209.04" cy="239.06" r="0.59" fill="#3a2480" fill-opacity="0.8"/>
<circle cx="206.2" cy="224.01" r="0.73" fill="#3a2480" fill-opacity="0.8"/>
<circle cx="173.95" cy="214.04" r="0.77" fill="#3a2480" fill-opacity="0.8"/>
<circle cx="187.61" cy="216.17" r="0.74" fill="#3a2480" fill-opacity="0.8"/>
<circle cx="203.2" cy="209.81" r="0.67" fill="#3a2480" fill-opacity="0.8"/>
<circle cx="205.05" cy="210.68" r="0.7" fill="#3a2480" fill-opacity="0.8"/>
<circle cx="174.21" cy="220.58" r="0.52" fill="#3a2480" fill-opacity="0.8"/>
<circle cx="178.85" cy="257.43" r="0.62" fill="#3a2480" fill-opacity="0.8"/>
<circle cx="223.65" cy="226.42" r="0.68" fill="#3a2480" fill-opacity="0.8"/>
<circle cx="216.94" cy="240.7" r="0.53" fill="#3a2480" fill-opacity="0.8"/>
<circle cx="200.78" cy="237.64" r="0.55" fill="#3a2480" fill-opacity="0.8"/>
<circle cx="172.6" cy="251.5" r="0.65" fill="#3a2480" fill-opacity="0.8"/>
<circle cx="178.25" cy="227.22" r="0.57" fill="#3a2480" fill-opacity="0.8"/>
<circle cx="212.7" cy="229.98" r="0.53" fill="#3a2480" fill-opacity="0.8"/>
<circle cx="213.83" cy="206.35" r="0.58" fill="#3a2480" fill-opacity="0.8"/>
<circle cx="168.8" cy="243.77" r="0.53" fill="#3a2480" fill-opacity="0.8"/>
<circle cx="197.17" cy="206.55" r="0.64" fill="#3a2480" fill-opacity="0.8"/>
<circle cx="206.27" cy="231.95" r="0.64" fill="#3a2480" fill-opacity="0.8"/>
<circle cx="194.84" cy="226.33" r="0.68" fill="#3a2480" fill-opacity="0.8"/>
<circle cx="172.61" cy="228.48" r="0.57" fill="#3a2480" fill-opacity="0.8"/>
<circle cx="216.53" cy="255.19" r="0.52" fill="#3a2480" fill-opacity="0.8"/>
<circle cx="175.37" cy="241.65" r="0.67" fill="#3a2480" fill-opacity="0.8"/>
<circle cx="168.29" cy="241.73" r="0.78" fill="#3a2480" fill-opacity="0.8"/>
<circle cx="191.32" cy="221.18" r="0.67" fill="#3a2480" fill-opacity="0.8"/>
<circle cx="220.73" cy="216.35" r="0.59" fill="#3a2480" fill-opacity="0.8"/>
<circle cx="177.96" cy="237.33" r="0.64" fill="#3a2480" fill-opacity="0.8"/>
<circle cx="181.8" cy="223.5" r="0.51" fill="#3a2480" fill-opacity="0.8"/>
<circle cx="185.01" cy="257.72" r="0.68" fill="#3a2480" fill-opacity="0.8"/>
<rect x="227.9" y="200.2" width="59" height="59.5" fill="#bc5ccc"/>
<rect x="227.9" y="200.2" width="59" height="59.5" filter="url(#n3)"/>
<rect x="227.9" y="200.2" width="59" height="59.5" filter="url(#n4)"/>
<circle cx="230.99" cy="204.11" r="1.6" fill="#5838b0" fill-opacity="0.85"/>
<circle cx="235.9" cy="201.21" r="1.01" fill="#5838b0" fill-opacity="0.85"/>
<circle cx="242.89" cy="204.79" r="1.61" fill="#5838b0" fill-opacity="0.85"/>
<circle cx="250.75" cy="203.66" r="1.6" fill="#5838b0" fill-opacity="0.85"/>
<circle cx="255.11" cy="203.13" r="1.3" fill="#5838b0" fill-opacity="0.85"/>
<circle cx="264.92" cy="201.42" r="1.22" fill="#5838b0" fill-opacity="0.85"/>
<circle cx="267.59" cy="204.24" r="1.4" fill="#5838b0" fill-opacity="0.85"/>
<circle cx="275.47" cy="204.93" r="1.21" fill="#5838b0" fill-opacity="0.85"/>
<circle cx="280.33" cy="205.26" r="1.51" fill="#5838b0" fill-opacity="0.85"/>
<circle cx="232.47" cy="211.15" r="1.77" fill="#5838b0" fill-opacity="0.85"/>
<circle cx="238.96" cy="208.62" r="1.28" fill="#5838b0" fill-opacity="0.85"/>
<circle cx="246.26" cy="209.51" r="1.3" fill="#5838b0" fill-opacity="0.85"/>
<circle cx="254.38" cy="206.96" r="1.3" fill="#5838b0" fill-opacity="0.85"/>
<circle cx="261.31" cy="208.52" r="1.45" fill="#5838b0" fill-opacity="0.85"/>
<circle cx="266.73" cy="208.86" r="1.43" fill="#5838b0" fill-opacity="0.85"/>
<circle cx="270.6" cy="209.98" r="1.78" fill="#5838b0" fill-opacity="0.85"/>
<circle cx="281.23" cy="209.7" r="1.41" fill="#5838b0" fill-opacity="0.85"/>
<circle cx="284.89" cy="209.82" r="1.6" fill="#5838b0" fill-opacity="0.85"/>
<circle cx="229.37" cy="213.35" r="1.42" fill="#5838b0" fill-opacity="0.85"/>
<circle cx="237.55" cy="215.93" r="1.5" fill="#5838b0" fill-opacity="0.85"/>
<circle cx="241.79" cy="215.98" r="1.46" fill="#5838b0" fill-opacity="0.85"/>
<circle cx="250.39" cy="213.29" r="1.46" fill="#5838b0" fill-opacity="0.85"/>
<circle cx="256.2" cy="215.75" r="1.26" fill="#5838b0" fill-opacity="0.85"/>
<circle cx="263.32" cy="213.09" r="1.62" fill="#5838b0" fill-opacity="0.85"/>
<circle cx="267.43" cy="213.53" r="1.41" fill="#5838b0" fill-opacity="0.85"/>
<circle cx="276.51" cy="212.53" r="1.48" fill="#5838b0" fill-opacity="0.85"/>
<circle cx="281" cy="213.56" r="1.49" fill="#5838b0" fill-opacity="0.85"/>
<circle cx="236.36" cy="220.02" r="1.77" fill="#5838b0" fill-opacity="0.85"/>
<circle cx="239.21" cy="222" r="1.42" fill="#5838b0" fill-opacity="0.85"/>
<circle cx="245.71" cy="221.22" r="1.75" fill="#5838b0" fill-opacity="0.85"/>
<circle cx="251.29" cy="219.07" r="1.66" fill="#5838b0" fill-opacity="0.85"/>
<circle cx="259.19" cy="218.95" r="1.21" fill="#5838b0" fill-opacity="0.85"/>
<circle cx="264.24" cy="220.64" r="1.79" fill="#5838b0" fill-opacity="0.85"/>
<circle cx="274.93" cy="220.12" r="1.21" fill="#5838b0" fill-opacity="0.85"/>
<circle cx="278.3" cy="221.39" r="1.7" fill="#5838b0" fill-opacity="0.85"/>
<circle cx="286.12" cy="218.89" r="0.78" fill="#5838b0" fill-opacity="0.85"/>
<circle cx="231" cy="226.24" r="1.36" fill="#5838b0" fill-opacity="0.85"/>
<circle cx="239.5" cy="227.44" r="1.3" fill="#5838b0" fill-opacity="0.85"/>
<circle cx="242.97" cy="227.34" r="1.37" fill="#5838b0" fill-opacity="0.85"/>
<circle cx="252.29" cy="225.74" r="1.62" fill="#5838b0" fill-opacity="0.85"/>
<circle cx="257.62" cy="224.39" r="1.37" fill="#5838b0" fill-opacity="0.85"/>
<circle cx="262" cy="226.49" r="1.62" fill="#5838b0" fill-opacity="0.85"/>
<circle cx="267.85" cy="227.4" r="1.45" fill="#5838b0" fill-opacity="0.85"/>
<circle cx="274.74" cy="225.38" r="1.79" fill="#5838b0" fill-opacity="0.85"/>
<circle cx="282.57" cy="226.23" r="1.75" fill="#5838b0" fill-opacity="0.85"/>
<circle cx="236.37" cy="232.41" r="1.45" fill="#5838b0" fill-opacity="0.85"/>
<circle cx="241.1" cy="233.04" r="1.67" fill="#5838b0" fill-opacity="0.85"/>
<circle cx="247.46" cy="230.56" r="1.42" fill="#5838b0" fill-opacity="0.85"/>
<circle cx="254.56" cy="231.52" r="1.21" fill="#5838b0" fill-opacity="0.85"/>
<circle cx="260.84" cy="233.05" r="1.68" fill="#5838b0" fill-opacity="0.85"/>
<circle cx="268.08" cy="233.08" r="1.52" fill="#5838b0" fill-opacity="0.85"/>
<circle cx="274" cy="230.7" r="1.26" fill="#5838b0" fill-opacity="0.85"/>
<circle cx="278.44" cy="230.4" r="1.76" fill="#5838b0" fill-opacity="0.85"/>
<circle cx="286.35" cy="231.43" r="0.55" fill="#5838b0" fill-opacity="0.85"/>
<circle cx="229.42" cy="236.96" r="1.52" fill="#5838b0" fill-opacity="0.85"/>
<circle cx="237.03" cy="235.67" r="1.44" fill="#5838b0" fill-opacity="0.85"/>
<circle cx="243.11" cy="237.64" r="1.29" fill="#5838b0" fill-opacity="0.85"/>
<circle cx="248.47" cy="235.97" r="1.62" fill="#5838b0" fill-opacity="0.85"/>
<circle cx="257.86" cy="237.52" r="1.76" fill="#5838b0" fill-opacity="0.85"/>
<circle cx="262.5" cy="234.7" r="1.49" fill="#5838b0" fill-opacity="0.85"/>
<circle cx="269.25" cy="235.37" r="1.6" fill="#5838b0" fill-opacity="0.85"/>
<circle cx="275.19" cy="235.64" r="1.4" fill="#5838b0" fill-opacity="0.85"/>
<circle cx="284.29" cy="234.6" r="1.42" fill="#5838b0" fill-opacity="0.85"/>
<circle cx="233.31" cy="241.04" r="1.46" fill="#5838b0" fill-opacity="0.85"/>
<circle cx="239.45" cy="244.25" r="1.5" fill="#5838b0" fill-opacity="0.85"/>
<circle cx="247.99" cy="240.86" r="1.48" fill="#5838b0" fill-opacity="0.85"/>
<circle cx="253.98" cy="243.91" r="1.35" fill="#5838b0" fill-opacity="0.85"/>
<circle cx="259.72" cy="243.97" r="1.7" fill="#5838b0" fill-opacity="0.85"/>
<circle cx="265.08" cy="242.55" r="1.66" fill="#5838b0" fill-opacity="0.85"/>
<circle cx="272.23" cy="243.15" r="1.6" fill="#5838b0" fill-opacity="0.85"/>
<circle cx="281.22" cy="242.62" r="1.61" fill="#5838b0" fill-opacity="0.85"/>
<circle cx="284.83" cy="243.42" r="1.39" fill="#5838b0" fill-opacity="0.85"/>
<circle cx="231.1" cy="247.32" r="1.38" fill="#5838b0" fill-opacity="0.85"/>
<circle cx="235.87" cy="246.72" r="1.53" fill="#5838b0" fill-opacity="0.85"/>
<circle cx="242.79" cy="245.91" r="1.68" fill="#5838b0" fill-opacity="0.85"/>
<circle cx="249.34" cy="249.9" r="1.56" fill="#5838b0" fill-opacity="0.85"/>
<circle cx="256.2" cy="249.62" r="1.74" fill="#5838b0" fill-opacity="0.85"/>
<circle cx="262.3" cy="246.27" r="1.58" fill="#5838b0" fill-opacity="0.85"/>
<circle cx="271.04" cy="248.43" r="1.67" fill="#5838b0" fill-opacity="0.85"/>
<circle cx="275.51" cy="248.47" r="1.36" fill="#5838b0" fill-opacity="0.85"/>
<circle cx="281.88" cy="247.41" r="1.43" fill="#5838b0" fill-opacity="0.85"/>
<circle cx="233.85" cy="254.89" r="1.3" fill="#5838b0" fill-opacity="0.85"/>
<circle cx="239.38" cy="252.41" r="1.78" fill="#5838b0" fill-opacity="0.85"/>
<circle cx="247.2" cy="251.51" r="1.7" fill="#5838b0" fill-opacity="0.85"/>
<circle cx="255.17" cy="254.95" r="1.42" fill="#5838b0" fill-opacity="0.85"/>
<circle cx="260.95" cy="252.64" r="1.28" fill="#5838b0" fill-opacity="0.85"/>
<circle cx="267.94" cy="255" r="1.33" fill="#5838b0" fill-opacity="0.85"/>
<circle cx="274.4" cy="251.38" r="1.39" fill="#5838b0" fill-opacity="0.85"/>
<circle cx="276.92" cy="252.04" r="1.3" fill="#5838b0" fill-opacity="0.85"/>
<circle cx="286.47" cy="252.6" r="0.43" fill="#5838b0" fill-opacity="0.85"/>
<circle cx="229.68" cy="258.24" r="1.46" fill="#5838b0" fill-opacity="0.85"/>
<circle cx="237.98" cy="257.3" r="1.61" fill="#5838b0" fill-opacity="0.85"/>
<circle cx="244.06" cy="258.85" r="0.85" fill="#5838b0" fill-opacity="0.85"/>
<circle cx="257.31" cy="258.93" r="0.77" fill="#5838b0" fill-opacity="0.85"/>
<circle cx="262.6" cy="258.7" r="1" fill="#5838b0" fill-opacity="0.85"/>
<circle cx="270.46" cy="258.09" r="1.61" fill="#5838b0" fill-opacity="0.85"/>
<circle cx="283.92" cy="201.87" r="0.72" fill="#3a2480" fill-opacity="0.8"/>
<circle cx="237.91" cy="257.91" r="0.51" fill="#3a2480" fill-opacity="0.8"/>
<circle cx="279.03" cy="240.38" r="0.76" fill="#3a2480" fill-opacity="0.8"/>
<circle cx="285.89" cy="214.98" r="0.6" fill="#3a2480" fill-opacity="0.8"/>
<circle cx="269.27" cy="217.33" r="0.58" fill="#3a2480" fill-opacity="0.8"/>
<circle cx="241.93" cy="250.53" r="0.76" fill="#3a2480" fill-opacity="0.8"/>
<circle cx="274.36" cy="214.04" r="0.78" fill="#3a2480" fill-opacity="0.8"/>
<circle cx="258.05" cy="214.5" r="0.64" fill="#3a2480" fill-opacity="0.8"/>
<circle cx="252.83" cy="205.74" r="0.67" fill="#3a2480" fill-opacity="0.8"/>
<circle cx="249.42" cy="233.95" r="0.78" fill="#3a2480" fill-opacity="0.8"/>
<circle cx="265.7" cy="224.49" r="0.76" fill="#3a2480" fill-opacity="0.8"/>
<circle cx="285.62" cy="229.39" r="0.78" fill="#3a2480" fill-opacity="0.8"/>
<circle cx="229.97" cy="209.27" r="0.55" fill="#3a2480" fill-opacity="0.8"/>
<circle cx="282.37" cy="240.9" r="0.72" fill="#3a2480" fill-opacity="0.8"/>
<circle cx="245.24" cy="229.66" r="0.77" fill="#3a2480" fill-opacity="0.8"/>
<circle cx="234.59" cy="207.88" r="0.51" fill="#3a2480" fill-opacity="0.8"/>
<circle cx="255.61" cy="249.53" r="0.67" fill="#3a2480" fill-opacity="0.8"/>
<circle cx="251.78" cy="230.07" r="0.55" fill="#3a2480" fill-opacity="0.8"/>
<circle cx="282.94" cy="221.54" r="0.57" fill="#3a2480" fill-opacity="0.8"/>
<circle cx="246.64" cy="248.63" r="0.6" fill="#3a2480" fill-opacity="0.8"/>
<circle cx="280.47" cy="220.53" r="0.63" fill="#3a2480" fill-opacity="0.8"/>
<circle cx="233.13" cy="253.38" r="0.74" fill="#3a2480" fill-opacity="0.8"/>
<circle cx="255.94" cy="207.84" r="0.65" fill="#3a2480" fill-opacity="0.8"/>
<circle cx="250.34" cy="249.5" r="0.78" fill="#3a2480" fill-opacity="0.8"/>
<circle cx="271.14" cy="217.71" r="0.51" fill="#3a2480" fill-opacity="0.8"/>
<circle cx="279.85" cy="255.51" r="0.55" fill="#3a2480" fill-opacity="0.8"/>
<circle cx="257.4" cy="228.86" r="0.79" fill="#3a2480" fill-opacity="0.8"/>
<circle cx="231.35" cy="204.75" r="0.75" fill="#3a2480" fill-opacity="0.8"/>
<circle cx="261.37" cy="227.78" r="0.73" fill="#3a2480" fill-opacity="0.8"/>
<circle cx="262.72" cy="241.01" r="0.58" fill="#3a2480" fill-opacity="0.8"/>
<rect x="166.2" y="262.1" width="59" height="59.4" fill="#b448bc"/>
<rect x="166.2" y="262.1" width="59" height="59.4" filter="url(#n5)"/>
<rect x="166.2" y="262.1" width="59" height="59.4" filter="url(#n6)"/>
<rect x="166.2" y="262.1" width="59" height="59.4" filter="url(#n7)"/>
<circle cx="168.76" cy="266.5" r="1.91" fill="#7444b4" fill-opacity="0.85"/>
<circle cx="168.76" cy="266.5" r="0.86" fill="#a868d0" fill-opacity="0.7"/>
<circle cx="178.51" cy="264.34" r="1.64" fill="#7444b4" fill-opacity="0.85"/>
<circle cx="178.51" cy="264.34" r="0.74" fill="#a868d0" fill-opacity="0.7"/>
<circle cx="182.68" cy="264.51" r="1.94" fill="#7444b4" fill-opacity="0.85"/>
<circle cx="182.68" cy="264.51" r="0.87" fill="#a868d0" fill-opacity="0.7"/>
<circle cx="189.8" cy="265.84" r="1.63" fill="#7444b4" fill-opacity="0.85"/>
<circle cx="189.8" cy="265.84" r="0.73" fill="#a868d0" fill-opacity="0.7"/>
<circle cx="197.71" cy="265.4" r="2" fill="#7444b4" fill-opacity="0.85"/>
<circle cx="197.71" cy="265.4" r="0.9" fill="#a868d0" fill-opacity="0.7"/>
<circle cx="206.27" cy="263.6" r="1.5" fill="#7444b4" fill-opacity="0.85"/>
<circle cx="206.27" cy="263.6" r="0.68" fill="#a868d0" fill-opacity="0.7"/>
<circle cx="211.47" cy="267.3" r="1.99" fill="#7444b4" fill-opacity="0.85"/>
<circle cx="211.47" cy="267.3" r="0.89" fill="#a868d0" fill-opacity="0.7"/>
<circle cx="221.52" cy="267.11" r="1.95" fill="#7444b4" fill-opacity="0.85"/>
<circle cx="221.52" cy="267.11" r="0.88" fill="#a868d0" fill-opacity="0.7"/>
<circle cx="175.34" cy="273.23" r="1.65" fill="#7444b4" fill-opacity="0.85"/>
<circle cx="175.34" cy="273.23" r="0.74" fill="#a868d0" fill-opacity="0.7"/>
<circle cx="182.11" cy="271.91" r="1.95" fill="#7444b4" fill-opacity="0.85"/>
<circle cx="182.11" cy="271.91" r="0.88" fill="#a868d0" fill-opacity="0.7"/>
<circle cx="188.08" cy="271.66" r="1.72" fill="#7444b4" fill-opacity="0.85"/>
<circle cx="188.08" cy="271.66" r="0.77" fill="#a868d0" fill-opacity="0.7"/>
<circle cx="194.7" cy="271.16" r="1.57" fill="#7444b4" fill-opacity="0.85"/>
<circle cx="194.7" cy="271.16" r="0.71" fill="#a868d0" fill-opacity="0.7"/>
<circle cx="203.58" cy="273.25" r="2.09" fill="#7444b4" fill-opacity="0.85"/>
<circle cx="203.58" cy="273.25" r="0.94" fill="#a868d0" fill-opacity="0.7"/>
<circle cx="210.22" cy="272.2" r="1.95" fill="#7444b4" fill-opacity="0.85"/>
<circle cx="210.22" cy="272.2" r="0.88" fill="#a868d0" fill-opacity="0.7"/>
<circle cx="215.02" cy="272.73" r="1.77" fill="#7444b4" fill-opacity="0.85"/>
<circle cx="215.02" cy="272.73" r="0.79" fill="#a868d0" fill-opacity="0.7"/>
<circle cx="222.4" cy="270.68" r="1.81" fill="#7444b4" fill-opacity="0.85"/>
<circle cx="222.4" cy="270.68" r="0.82" fill="#a868d0" fill-opacity="0.7"/>
<circle cx="168.73" cy="278.05" r="1.86" fill="#7444b4" fill-opacity="0.85"/>
<circle cx="168.73" cy="278.05" r="0.84" fill="#a868d0" fill-opacity="0.7"/>
<circle cx="176.55" cy="276.63" r="1.79" fill="#7444b4" fill-opacity="0.85"/>
<circle cx="176.55" cy="276.63" r="0.81" fill="#a868d0" fill-opacity="0.7"/>
<circle cx="183.06" cy="277.09" r="1.62" fill="#7444b4" fill-opacity="0.85"/>
<circle cx="183.06" cy="277.09" r="0.73" fill="#a868d0" fill-opacity="0.7"/>
<circle cx="190.82" cy="276.38" r="1.89" fill="#7444b4" fill-opacity="0.85"/>
<circle cx="190.82" cy="276.38" r="0.85" fill="#a868d0" fill-opacity="0.7"/>
<circle cx="200.56" cy="277.75" r="1.93" fill="#7444b4" fill-opacity="0.85"/>
<circle cx="200.56" cy="277.75" r="0.87" fill="#a868d0" fill-opacity="0.7"/>
<circle cx="207.67" cy="276.25" r="1.59" fill="#7444b4" fill-opacity="0.85"/>
<circle cx="207.67" cy="276.25" r="0.71" fill="#a868d0" fill-opacity="0.7"/>
<circle cx="214.32" cy="279.69" r="1.88" fill="#7444b4" fill-opacity="0.85"/>
<circle cx="214.32" cy="279.69" r="0.85" fill="#a868d0" fill-opacity="0.7"/>
<circle cx="218.73" cy="277.85" r="2.02" fill="#7444b4" fill-opacity="0.85"/>
<circle cx="218.73" cy="277.85" r="0.91" fill="#a868d0" fill-opacity="0.7"/>
<circle cx="175.07" cy="285.8" r="1.62" fill="#7444b4" fill-opacity="0.85"/>
<circle cx="175.07" cy="285.8" r="0.73" fill="#a868d0" fill-opacity="0.7"/>
<circle cx="182.13" cy="283.95" r="1.93" fill="#7444b4" fill-opacity="0.85"/>
<circle cx="182.13" cy="283.95" r="0.87" fill="#a868d0" fill-opacity="0.7"/>
<circle cx="186.23" cy="286.53" r="1.86" fill="#7444b4" fill-opacity="0.85"/>
<circle cx="186.23" cy="286.53" r="0.84" fill="#a868d0" fill-opacity="0.7"/>
<circle cx="195.96" cy="283.25" r="1.87" fill="#7444b4" fill-opacity="0.85"/>
<circle cx="195.96" cy="283.25" r="0.84" fill="#a868d0" fill-opacity="0.7"/>
<circle cx="202.55" cy="284.89" r="1.72" fill="#7444b4" fill-opacity="0.85"/>
<circle cx="202.55" cy="284.89" r="0.77" fill="#a868d0" fill-opacity="0.7"/>
<circle cx="210.38" cy="283.81" r="1.68" fill="#7444b4" fill-opacity="0.85"/>
<circle cx="210.38" cy="283.81" r="0.75" fill="#a868d0" fill-opacity="0.7"/>
<circle cx="215.15" cy="285.29" r="1.57" fill="#7444b4" fill-opacity="0.85"/>
<circle cx="215.15" cy="285.29" r="0.71" fill="#a868d0" fill-opacity="0.7"/>
<circle cx="222.61" cy="282.63" r="1.89" fill="#7444b4" fill-opacity="0.85"/>
<circle cx="222.61" cy="282.63" r="0.85" fill="#a868d0" fill-opacity="0.7"/>
<circle cx="170.04" cy="290.94" r="1.52" fill="#7444b4" fill-opacity="0.85"/>
<circle cx="170.04" cy="290.94" r="0.69" fill="#a868d0" fill-opacity="0.7"/>
<circle cx="176.74" cy="290.08" r="1.56" fill="#7444b4" fill-opacity="0.85"/>
<circle cx="176.74" cy="290.08" r="0.7" fill="#a868d0" fill-opacity="0.7"/>
<circle cx="182.05" cy="292.91" r="1.57" fill="#7444b4" fill-opacity="0.85"/>
<circle cx="182.05" cy="292.91" r="0.71" fill="#a868d0" fill-opacity="0.7"/>
<circle cx="190.54" cy="289.76" r="1.86" fill="#7444b4" fill-opacity="0.85"/>
<circle cx="190.54" cy="289.76" r="0.84" fill="#a868d0" fill-opacity="0.7"/>
<circle cx="196.77" cy="290.63" r="1.72" fill="#7444b4" fill-opacity="0.85"/>
<circle cx="196.77" cy="290.63" r="0.77" fill="#a868d0" fill-opacity="0.7"/>
<circle cx="207.25" cy="288.62" r="1.7" fill="#7444b4" fill-opacity="0.85"/>
<circle cx="207.25" cy="288.62" r="0.77" fill="#a868d0" fill-opacity="0.7"/>
<circle cx="212.99" cy="292.79" r="1.81" fill="#7444b4" fill-opacity="0.85"/>
<circle cx="212.99" cy="292.79" r="0.81" fill="#a868d0" fill-opacity="0.7"/>
<circle cx="220.09" cy="291.49" r="1.68" fill="#7444b4" fill-opacity="0.85"/>
<circle cx="220.09" cy="291.49" r="0.76" fill="#a868d0" fill-opacity="0.7"/>
<circle cx="171.38" cy="297.03" r="2.05" fill="#7444b4" fill-opacity="0.85"/>
<circle cx="171.38" cy="297.03" r="0.92" fill="#a868d0" fill-opacity="0.7"/>
<circle cx="181.63" cy="295.98" r="1.91" fill="#7444b4" fill-opacity="0.85"/>
<circle cx="181.63" cy="295.98" r="0.86" fill="#a868d0" fill-opacity="0.7"/>
<circle cx="189.31" cy="295.98" r="1.85" fill="#7444b4" fill-opacity="0.85"/>
<circle cx="189.31" cy="295.98" r="0.83" fill="#a868d0" fill-opacity="0.7"/>
<circle cx="194.38" cy="295.92" r="1.67" fill="#7444b4" fill-opacity="0.85"/>
<circle cx="194.38" cy="295.92" r="0.75" fill="#a868d0" fill-opacity="0.7"/>
<circle cx="200.92" cy="296.38" r="1.52" fill="#7444b4" fill-opacity="0.85"/>
<circle cx="200.92" cy="296.38" r="0.69" fill="#a868d0" fill-opacity="0.7"/>
<circle cx="208.96" cy="295.23" r="1.95" fill="#7444b4" fill-opacity="0.85"/>
<circle cx="208.96" cy="295.23" r="0.88" fill="#a868d0" fill-opacity="0.7"/>
<circle cx="217.03" cy="294.88" r="1.96" fill="#7444b4" fill-opacity="0.85"/>
<circle cx="217.03" cy="294.88" r="0.88" fill="#a868d0" fill-opacity="0.7"/>
<circle cx="222.46" cy="296.94" r="1.83" fill="#7444b4" fill-opacity="0.85"/>
<circle cx="222.46" cy="296.94" r="0.82" fill="#a868d0" fill-opacity="0.7"/>
<circle cx="169.08" cy="302.37" r="1.76" fill="#7444b4" fill-opacity="0.85"/>
<circle cx="169.08" cy="302.37" r="0.79" fill="#a868d0" fill-opacity="0.7"/>
<circle cx="175.43" cy="304.85" r="1.57" fill="#7444b4" fill-opacity="0.85"/>
<circle cx="175.43" cy="304.85" r="0.71" fill="#a868d0" fill-opacity="0.7"/>
<circle cx="185.6" cy="302.07" r="1.68" fill="#7444b4" fill-opacity="0.85"/>
<circle cx="185.6" cy="302.07" r="0.76" fill="#a868d0" fill-opacity="0.7"/>
<circle cx="190.92" cy="301.27" r="1.58" fill="#7444b4" fill-opacity="0.85"/>
<circle cx="190.92" cy="301.27" r="0.71" fill="#a868d0" fill-opacity="0.7"/>
<circle cx="198" cy="303.03" r="2.03" fill="#7444b4" fill-opacity="0.85"/>
<circle cx="198" cy="303.03" r="0.91" fill="#a868d0" fill-opacity="0.7"/>
<circle cx="207.92" cy="301.31" r="1.82" fill="#7444b4" fill-opacity="0.85"/>
<circle cx="207.92" cy="301.31" r="0.82" fill="#a868d0" fill-opacity="0.7"/>
<circle cx="211.4" cy="304.6" r="1.69" fill="#7444b4" fill-opacity="0.85"/>
<circle cx="211.4" cy="304.6" r="0.76" fill="#a868d0" fill-opacity="0.7"/>
<circle cx="221.9" cy="303.48" r="1.58" fill="#7444b4" fill-opacity="0.85"/>
<circle cx="221.9" cy="303.48" r="0.71" fill="#a868d0" fill-opacity="0.7"/>
<circle cx="171.26" cy="308.46" r="2.02" fill="#7444b4" fill-opacity="0.85"/>
<circle cx="171.26" cy="308.46" r="0.91" fill="#a868d0" fill-opacity="0.7"/>
<circle cx="179.09" cy="309.46" r="1.72" fill="#7444b4" fill-opacity="0.85"/>
<circle cx="179.09" cy="309.46" r="0.78" fill="#a868d0" fill-opacity="0.7"/>
<circle cx="187.13" cy="310.85" r="1.63" fill="#7444b4" fill-opacity="0.85"/>
<circle cx="187.13" cy="310.85" r="0.73" fill="#a868d0" fill-opacity="0.7"/>
<circle cx="195.94" cy="310.27" r="2.06" fill="#7444b4" fill-opacity="0.85"/>
<circle cx="195.94" cy="310.27" r="0.93" fill="#a868d0" fill-opacity="0.7"/>
<circle cx="202.29" cy="311.36" r="1.76" fill="#7444b4" fill-opacity="0.85"/>
<circle cx="202.29" cy="311.36" r="0.79" fill="#a868d0" fill-opacity="0.7"/>
<circle cx="209.72" cy="310.07" r="2" fill="#7444b4" fill-opacity="0.85"/>
<circle cx="209.72" cy="310.07" r="0.9" fill="#a868d0" fill-opacity="0.7"/>
<circle cx="218.32" cy="307.89" r="1.58" fill="#7444b4" fill-opacity="0.85"/>
<circle cx="218.32" cy="307.89" r="0.71" fill="#a868d0" fill-opacity="0.7"/>
<circle cx="223.95" cy="310.9" r="1.25" fill="#7444b4" fill-opacity="0.85"/>
<circle cx="223.95" cy="310.9" r="0.56" fill="#a868d0" fill-opacity="0.7"/>
<circle cx="168.93" cy="317.81" r="1.68" fill="#7444b4" fill-opacity="0.85"/>
<circle cx="168.93" cy="317.81" r="0.76" fill="#a868d0" fill-opacity="0.7"/>
<circle cx="175.22" cy="313.88" r="1.52" fill="#7444b4" fill-opacity="0.85"/>
<circle cx="175.22" cy="313.88" r="0.68" fill="#a868d0" fill-opacity="0.7"/>
<circle cx="185.18" cy="314.11" r="1.93" fill="#7444b4" fill-opacity="0.85"/>
<circle cx="185.18" cy="314.11" r="0.87" fill="#a868d0" fill-opacity="0.7"/>
<circle cx="192.98" cy="317.97" r="1.99" fill="#7444b4" fill-opacity="0.85"/>
<circle cx="192.98" cy="317.97" r="0.89" fill="#a868d0" fill-opacity="0.7"/>
<circle cx="198.27" cy="316.34" r="2" fill="#7444b4" fill-opacity="0.85"/>
<circle cx="198.27" cy="316.34" r="0.9" fill="#a868d0" fill-opacity="0.7"/>
<circle cx="206.73" cy="314.91" r="1.96" fill="#7444b4" fill-opacity="0.85"/>
<circle cx="206.73" cy="314.91" r="0.88" fill="#a868d0" fill-opacity="0.7"/>
<circle cx="211.31" cy="314.98" r="2.1" fill="#7444b4" fill-opacity="0.85"/>
<circle cx="211.31" cy="314.98" r="0.94" fill="#a868d0" fill-opacity="0.7"/>
<circle cx="220.08" cy="314.81" r="1.97" fill="#7444b4" fill-opacity="0.85"/>
<circle cx="220.08" cy="314.81" r="0.89" fill="#a868d0" fill-opacity="0.7"/>
<circle cx="221.82" cy="271.16" r="0.46" fill="#2a1860" fill-opacity="1.0"/>
<circle cx="224.12" cy="273.68" r="0.49" fill="#2a1860" fill-opacity="1.0"/>
<circle cx="204.33" cy="282.94" r="0.72" fill="#2a1860" fill-opacity="1.0"/>
<circle cx="180.41" cy="318.17" r="0.55" fill="#2a1860" fill-opacity="1.0"/>
<circle cx="201.47" cy="316.6" r="0.66" fill="#2a1860" fill-opacity="1.0"/>
<circle cx="219.86" cy="303.75" r="0.46" fill="#2a1860" fill-opacity="1.0"/>
<circle cx="217.44" cy="296.94" r="0.54" fill="#2a1860" fill-opacity="1.0"/>
<circle cx="178.04" cy="311.88" r="0.62" fill="#2a1860" fill-opacity="1.0"/>
<circle cx="220.67" cy="307.52" r="0.74" fill="#2a1860" fill-opacity="1.0"/>
<circle cx="199.48" cy="303.19" r="0.63" fill="#2a1860" fill-opacity="1.0"/>
<circle cx="181.93" cy="318.02" r="0.54" fill="#2a1860" fill-opacity="1.0"/>
<circle cx="211.72" cy="317.9" r="0.65" fill="#2a1860" fill-opacity="1.0"/>
<circle cx="175.31" cy="310.47" r="0.65" fill="#2a1860" fill-opacity="1.0"/>
<circle cx="177.75" cy="265.92" r="0.61" fill="#2a1860" fill-opacity="1.0"/>
<circle cx="169.04" cy="316.2" r="0.6" fill="#2a1860" fill-opacity="1.0"/>
<circle cx="196.69" cy="286.6" r="0.65" fill="#2a1860" fill-opacity="1.0"/>
<circle cx="219.44" cy="280.74" r="0.56" fill="#2a1860" fill-opacity="1.0"/>
<circle cx="200.41" cy="280.17" r="0.63" fill="#2a1860" fill-opacity="1.0"/>
<circle cx="198.16" cy="287.98" r="0.65" fill="#2a1860" fill-opacity="1.0"/>
<circle cx="197.31" cy="268.16" r="0.75" fill="#2a1860" fill-opacity="1.0"/>
<circle cx="187.47" cy="287.88" r="0.57" fill="#2a1860" fill-opacity="1.0"/>
<circle cx="220.18" cy="317.75" r="0.6" fill="#2a1860" fill-opacity="1.0"/>
<circle cx="190.04" cy="268.64" r="0.72" fill="#2a1860" fill-opacity="1.0"/>
<circle cx="176.97" cy="294.48" r="0.55" fill="#2a1860" fill-opacity="1.0"/>
<circle cx="185.91" cy="283.6" r="0.51" fill="#2a1860" fill-opacity="1.0"/>
<rect x="227.9" y="262.1" width="59" height="59.4" fill="#d04cc4"/>
<rect x="227.9" y="262.1" width="59" height="59.4" filter="url(#n8)"/>
<rect x="227.9" y="262.1" width="59" height="59.4" filter="url(#n9)"/>
<rect x="227.9" y="262.1" width="59" height="59.4" filter="url(#n10)"/>
<circle cx="229.8" cy="266.58" r="1.89" fill="#6040ac" fill-opacity="0.85"/>
<circle cx="229.8" cy="266.58" r="0.85" fill="#a868d0" fill-opacity="0.7"/>
<circle cx="240.6" cy="264.71" r="1.65" fill="#6040ac" fill-opacity="0.85"/>
<circle cx="240.6" cy="264.71" r="0.74" fill="#a868d0" fill-opacity="0.7"/>
<circle cx="246.91" cy="266.38" r="1.68" fill="#6040ac" fill-opacity="0.85"/>
<circle cx="246.91" cy="266.38" r="0.76" fill="#a868d0" fill-opacity="0.7"/>
<circle cx="253.9" cy="265.25" r="1.97" fill="#6040ac" fill-opacity="0.85"/>
<circle cx="253.9" cy="265.25" r="0.88" fill="#a868d0" fill-opacity="0.7"/>
<circle cx="258.65" cy="264.5" r="2.04" fill="#6040ac" fill-opacity="0.85"/>
<circle cx="258.65" cy="264.5" r="0.92" fill="#a868d0" fill-opacity="0.7"/>
<circle cx="266.89" cy="264.66" r="1.98" fill="#6040ac" fill-opacity="0.85"/>
<circle cx="266.89" cy="264.66" r="0.89" fill="#a868d0" fill-opacity="0.7"/>
<circle cx="275.27" cy="264.19" r="1.83" fill="#6040ac" fill-opacity="0.85"/>
<circle cx="275.27" cy="264.19" r="0.82" fill="#a868d0" fill-opacity="0.7"/>
<circle cx="282.61" cy="264.25" r="1.89" fill="#6040ac" fill-opacity="0.85"/>
<circle cx="282.61" cy="264.25" r="0.85" fill="#a868d0" fill-opacity="0.7"/>
<circle cx="233.47" cy="271.26" r="1.55" fill="#6040ac" fill-opacity="0.85"/>
<circle cx="233.47" cy="271.26" r="0.7" fill="#a868d0" fill-opacity="0.7"/>
<circle cx="241.02" cy="274.03" r="1.74" fill="#6040ac" fill-opacity="0.85"/>
<circle cx="241.02" cy="274.03" r="0.78" fill="#a868d0" fill-opacity="0.7"/>
<circle cx="251.62" cy="271.7" r="1.86" fill="#6040ac" fill-opacity="0.85"/>
<circle cx="251.62" cy="271.7" r="0.84" fill="#a868d0" fill-opacity="0.7"/>
<circle cx="258.31" cy="272.77" r="1.57" fill="#6040ac" fill-opacity="0.85"/>
<circle cx="258.31" cy="272.77" r="0.71" fill="#a868d0" fill-opacity="0.7"/>
<circle cx="264.28" cy="272.54" r="1.61" fill="#6040ac" fill-opacity="0.85"/>
<circle cx="264.28" cy="272.54" r="0.72" fill="#a868d0" fill-opacity="0.7"/>
<circle cx="269.35" cy="273.58" r="1.81" fill="#6040ac" fill-opacity="0.85"/>
<circle cx="269.35" cy="273.58" r="0.81" fill="#a868d0" fill-opacity="0.7"/>
<circle cx="276.98" cy="271.76" r="1.63" fill="#6040ac" fill-opacity="0.85"/>
<circle cx="276.98" cy="271.76" r="0.73" fill="#a868d0" fill-opacity="0.7"/>
<circle cx="232.87" cy="276.45" r="1.67" fill="#6040ac" fill-opacity="0.85"/>
<circle cx="232.87" cy="276.45" r="0.75" fill="#a868d0" fill-opacity="0.7"/>
<circle cx="236.66" cy="279.27" r="1.57" fill="#6040ac" fill-opacity="0.85"/>
<circle cx="236.66" cy="279.27" r="0.71" fill="#a868d0" fill-opacity="0.7"/>
<circle cx="246.01" cy="276.47" r="1.79" fill="#6040ac" fill-opacity="0.85"/>
<circle cx="246.01" cy="276.47" r="0.8" fill="#a868d0" fill-opacity="0.7"/>
<circle cx="253.9" cy="278.38" r="1.77" fill="#6040ac" fill-opacity="0.85"/>
<circle cx="253.9" cy="278.38" r="0.8" fill="#a868d0" fill-opacity="0.7"/>
<circle cx="260.23" cy="277.96" r="1.86" fill="#6040ac" fill-opacity="0.85"/>
<circle cx="260.23" cy="277.96" r="0.84" fill="#a868d0" fill-opacity="0.7"/>
<circle cx="265.75" cy="278.12" r="1.64" fill="#6040ac" fill-opacity="0.85"/>
<circle cx="265.75" cy="278.12" r="0.74" fill="#a868d0" fill-opacity="0.7"/>
<circle cx="276.28" cy="280.12" r="1.54" fill="#6040ac" fill-opacity="0.85"/>
<circle cx="276.28" cy="280.12" r="0.69" fill="#a868d0" fill-opacity="0.7"/>
<circle cx="280.36" cy="279.11" r="1.84" fill="#6040ac" fill-opacity="0.85"/>
<circle cx="280.36" cy="279.11" r="0.83" fill="#a868d0" fill-opacity="0.7"/>
<circle cx="233.02" cy="285.38" r="2.07" fill="#6040ac" fill-opacity="0.85"/>
<circle cx="233.02" cy="285.38" r="0.93" fill="#a868d0" fill-opacity="0.7"/>
<circle cx="241.97" cy="283.83" r="1.84" fill="#6040ac" fill-opacity="0.85"/>
<circle cx="241.97" cy="283.83" r="0.83" fill="#a868d0" fill-opacity="0.7"/>
<circle cx="251.4" cy="283.47" r="1.68" fill="#6040ac" fill-opacity="0.85"/>
<circle cx="251.4" cy="283.47" r="0.76" fill="#a868d0" fill-opacity="0.7"/>
<circle cx="255.36" cy="285.05" r="1.78" fill="#6040ac" fill-opacity="0.85"/>
<circle cx="255.36" cy="285.05" r="0.8" fill="#a868d0" fill-opacity="0.7"/>
<circle cx="262.85" cy="284.01" r="1.52" fill="#6040ac" fill-opacity="0.85"/>
<circle cx="262.85" cy="284.01" r="0.68" fill="#a868d0" fill-opacity="0.7"/>
<circle cx="270.29" cy="286.58" r="1.85" fill="#6040ac" fill-opacity="0.85"/>
<circle cx="270.29" cy="286.58" r="0.83" fill="#a868d0" fill-opacity="0.7"/>
<circle cx="277.36" cy="286.38" r="1.71" fill="#6040ac" fill-opacity="0.85"/>
<circle cx="277.36" cy="286.38" r="0.77" fill="#a868d0" fill-opacity="0.7"/>
<circle cx="284.43" cy="282.48" r="1.59" fill="#6040ac" fill-opacity="0.85"/>
<circle cx="284.43" cy="282.48" r="0.71" fill="#a868d0" fill-opacity="0.7"/>
<circle cx="230.2" cy="289.59" r="2.02" fill="#6040ac" fill-opacity="0.85"/>
<circle cx="230.2" cy="289.59" r="0.91" fill="#a868d0" fill-opacity="0.7"/>
<circle cx="237.68" cy="289.67" r="1.86" fill="#6040ac" fill-opacity="0.85"/>
<circle cx="237.68" cy="289.67" r="0.84" fill="#a868d0" fill-opacity="0.7"/>
<circle cx="247.7" cy="289.85" r="1.96" fill="#6040ac" fill-opacity="0.85"/>
<circle cx="247.7" cy="289.85" r="0.88" fill="#a868d0" fill-opacity="0.7"/>
<circle cx="252.53" cy="291.02" r="1.86" fill="#6040ac" fill-opacity="0.85"/>
<circle cx="252.53" cy="291.02" r="0.84" fill="#a868d0" fill-opacity="0.7"/>
<circle cx="262.21" cy="291.87" r="1.8" fill="#6040ac" fill-opacity="0.85"/>
<circle cx="262.21" cy="291.87" r="0.81" fill="#a868d0" fill-opacity="0.7"/>
<circle cx="268.97" cy="290.18" r="1.73" fill="#6040ac" fill-opacity="0.85"/>
<circle cx="268.97" cy="290.18" r="0.78" fill="#a868d0" fill-opacity="0.7"/>
<circle cx="276.69" cy="290.95" r="1.96" fill="#6040ac" fill-opacity="0.85"/>
<circle cx="276.69" cy="290.95" r="0.88" fill="#a868d0" fill-opacity="0.7"/>
<circle cx="281.1" cy="292.55" r="1.87" fill="#6040ac" fill-opacity="0.85"/>
<circle cx="281.1" cy="292.55" r="0.84" fill="#a868d0" fill-opacity="0.7"/>
<circle cx="234.01" cy="298.89" r="1.78" fill="#6040ac" fill-opacity="0.85"/>
<circle cx="234.01" cy="298.89" r="0.8" fill="#a868d0" fill-opacity="0.7"/>
<circle cx="241.61" cy="296" r="1.56" fill="#6040ac" fill-opacity="0.85"/>
<circle cx="241.61" cy="296" r="0.7" fill="#a868d0" fill-opacity="0.7"/>
<circle cx="248.21" cy="297.85" r="1.58" fill="#6040ac" fill-opacity="0.85"/>
<circle cx="248.21" cy="297.85" r="0.71" fill="#a868d0" fill-opacity="0.7"/>
<circle cx="255.66" cy="296.79" r="1.83" fill="#6040ac" fill-opacity="0.85"/>
<circle cx="255.66" cy="296.79" r="0.82" fill="#a868d0" fill-opacity="0.7"/>
<circle cx="263.38" cy="298.25" r="1.65" fill="#6040ac" fill-opacity="0.85"/>
<circle cx="263.38" cy="298.25" r="0.74" fill="#a868d0" fill-opacity="0.7"/>
<circle cx="270.53" cy="296.7" r="1.58" fill="#6040ac" fill-opacity="0.85"/>
<circle cx="270.53" cy="296.7" r="0.71" fill="#a868d0" fill-opacity="0.7"/>
<circle cx="277.1" cy="295.49" r="1.94" fill="#6040ac" fill-opacity="0.85"/>
<circle cx="277.1" cy="295.49" r="0.87" fill="#a868d0" fill-opacity="0.7"/>
<circle cx="283.97" cy="297.75" r="1.63" fill="#6040ac" fill-opacity="0.85"/>
<circle cx="283.97" cy="297.75" r="0.73" fill="#a868d0" fill-opacity="0.7"/>
<circle cx="232.13" cy="303.96" r="1.71" fill="#6040ac" fill-opacity="0.85"/>
<circle cx="232.13" cy="303.96" r="0.77" fill="#a868d0" fill-opacity="0.7"/>
<circle cx="240.57" cy="303.96" r="1.83" fill="#6040ac" fill-opacity="0.85"/>
<circle cx="240.57" cy="303.96" r="0.83" fill="#a868d0" fill-opacity="0.7"/>
<circle cx="243.94" cy="302.88" r="1.66" fill="#6040ac" fill-opacity="0.85"/>
<circle cx="243.94" cy="302.88" r="0.75" fill="#a868d0" fill-opacity="0.7"/>
<circle cx="252.97" cy="305.16" r="2.02" fill="#6040ac" fill-opacity="0.85"/>
<circle cx="252.97" cy="305.16" r="0.91" fill="#a868d0" fill-opacity="0.7"/>
<circle cx="258.41" cy="304.06" r="2.06" fill="#6040ac" fill-opacity="0.85"/>
<circle cx="258.41" cy="304.06" r="0.93" fill="#a868d0" fill-opacity="0.7"/>
<circle cx="267.68" cy="301.54" r="2.02" fill="#6040ac" fill-opacity="0.85"/>
<circle cx="267.68" cy="301.54" r="0.91" fill="#a868d0" fill-opacity="0.7"/>
<circle cx="274.38" cy="305.36" r="2.02" fill="#6040ac" fill-opacity="0.85"/>
<circle cx="274.38" cy="305.36" r="0.91" fill="#a868d0" fill-opacity="0.7"/>
<circle cx="283.32" cy="305.15" r="1.54" fill="#6040ac" fill-opacity="0.85"/>
<circle cx="283.32" cy="305.15" r="0.69" fill="#a868d0" fill-opacity="0.7"/>
<circle cx="236.37" cy="308.71" r="1.58" fill="#6040ac" fill-opacity="0.85"/>
<circle cx="236.37" cy="308.71" r="0.71" fill="#a868d0" fill-opacity="0.7"/>
<circle cx="241.78" cy="309.93" r="1.5" fill="#6040ac" fill-opacity="0.85"/>
<circle cx="241.78" cy="309.93" r="0.68" fill="#a868d0" fill-opacity="0.7"/>
<circle cx="249.28" cy="310.78" r="1.8" fill="#6040ac" fill-opacity="0.85"/>
<circle cx="249.28" cy="310.78" r="0.81" fill="#a868d0" fill-opacity="0.7"/>
<circle cx="256.82" cy="308.67" r="2.08" fill="#6040ac" fill-opacity="0.85"/>
<circle cx="256.82" cy="308.67" r="0.94" fill="#a868d0" fill-opacity="0.7"/>
<circle cx="262.81" cy="310.33" r="1.89" fill="#6040ac" fill-opacity="0.85"/>
<circle cx="262.81" cy="310.33" r="0.85" fill="#a868d0" fill-opacity="0.7"/>
<circle cx="268.94" cy="311.69" r="1.64" fill="#6040ac" fill-opacity="0.85"/>
<circle cx="268.94" cy="311.69" r="0.74" fill="#a868d0" fill-opacity="0.7"/>
<circle cx="280.41" cy="311.4" r="2.04" fill="#6040ac" fill-opacity="0.85"/>
<circle cx="280.41" cy="311.4" r="0.92" fill="#a868d0" fill-opacity="0.7"/>
<circle cx="230.83" cy="317.7" r="1.52" fill="#6040ac" fill-opacity="0.85"/>
<circle cx="230.83" cy="317.7" r="0.68" fill="#a868d0" fill-opacity="0.7"/>
<circle cx="237.13" cy="317.78" r="1.98" fill="#6040ac" fill-opacity="0.85"/>
<circle cx="237.13" cy="317.78" r="0.89" fill="#a868d0" fill-opacity="0.7"/>
<circle cx="246.79" cy="317.83" r="1.81" fill="#6040ac" fill-opacity="0.85"/>
<circle cx="246.79" cy="317.83" r="0.82" fill="#a868d0" fill-opacity="0.7"/>
<circle cx="254.55" cy="315.57" r="2.04" fill="#6040ac" fill-opacity="0.85"/>
<circle cx="254.55" cy="315.57" r="0.92" fill="#a868d0" fill-opacity="0.7"/>
<circle cx="258.44" cy="315.55" r="1.85" fill="#6040ac" fill-opacity="0.85"/>
<circle cx="258.44" cy="315.55" r="0.83" fill="#a868d0" fill-opacity="0.7"/>
<circle cx="268.77" cy="315.48" r="1.91" fill="#6040ac" fill-opacity="0.85"/>
<circle cx="268.77" cy="315.48" r="0.86" fill="#a868d0" fill-opacity="0.7"/>
<circle cx="276.72" cy="315.46" r="1.62" fill="#6040ac" fill-opacity="0.85"/>
<circle cx="276.72" cy="315.46" r="0.73" fill="#a868d0" fill-opacity="0.7"/>
<circle cx="279.87" cy="317.38" r="1.79" fill="#6040ac" fill-opacity="0.85"/>
<circle cx="279.87" cy="317.38" r="0.8" fill="#a868d0" fill-opacity="0.7"/>
<circle cx="281.62" cy="317.55" r="0.72" fill="#2a1860" fill-opacity="1.0"/>
<circle cx="233.66" cy="297.08" r="0.58" fill="#2a1860" fill-opacity="1.0"/>
<circle cx="259.12" cy="270.58" r="0.51" fill="#2a1860" fill-opacity="1.0"/>
<circle cx="254.24" cy="275.79" r="0.59" fill="#2a1860" fill-opacity="1.0"/>
<circle cx="230.31" cy="268.02" r="0.66" fill="#2a1860" fill-opacity="1.0"/>
<circle cx="252.91" cy="292.53" r="0.67" fill="#2a1860" fill-opacity="1.0"/>
<circle cx="249.36" cy="266.4" r="0.68" fill="#2a1860" fill-opacity="1.0"/>
<circle cx="262.48" cy="300.86" r="0.64" fill="#2a1860" fill-opacity="1.0"/>
<circle cx="284.23" cy="283.92" r="0.68" fill="#2a1860" fill-opacity="1.0"/>
<circle cx="249.91" cy="295.94" r="0.65" fill="#2a1860" fill-opacity="1.0"/>
<circle cx="246.82" cy="268.02" r="0.59" fill="#2a1860" fill-opacity="1.0"/>
<circle cx="269.82" cy="297" r="0.58" fill="#2a1860" fill-opacity="1.0"/>
<circle cx="265.52" cy="273.55" r="0.5" fill="#2a1860" fill-opacity="1.0"/>
<circle cx="247.33" cy="309.93" r="0.51" fill="#2a1860" fill-opacity="1.0"/>
<circle cx="235.42" cy="268.76" r="0.46" fill="#2a1860" fill-opacity="1.0"/>
<circle cx="244.61" cy="295.98" r="0.7" fill="#2a1860" fill-opacity="1.0"/>
<circle cx="247.76" cy="284.32" r="0.54" fill="#2a1860" fill-opacity="1.0"/>
<circle cx="246.27" cy="307.73" r="0.61" fill="#2a1860" fill-opacity="1.0"/>
<circle cx="243.63" cy="269.25" r="0.69" fill="#2a1860" fill-opacity="1.0"/>
<circle cx="269.21" cy="310.66" r="0.52" fill="#2a1860" fill-opacity="1.0"/>
<circle cx="259.99" cy="315.84" r="0.63" fill="#2a1860" fill-opacity="1.0"/>
<circle cx="282.79" cy="272.7" r="0.74" fill="#2a1860" fill-opacity="1.0"/>
<circle cx="232.09" cy="286.99" r="0.46" fill="#2a1860" fill-opacity="1.0"/>
<circle cx="275.05" cy="302.55" r="0.74" fill="#2a1860" fill-opacity="1.0"/>
<circle cx="274.78" cy="317.56" r="0.61" fill="#2a1860" fill-opacity="1.0"/>
<line x1="197" y1="273" x2="201.5" y2="277" stroke="#ff2020" stroke-width="0.9"/>
<line x1="176.2" y1="289.8" x2="182" y2="295" stroke="#ff2020" stroke-width="0.9"/>
<line x1="173" y1="302" x2="178" y2="306" stroke="#ff2020" stroke-width="0.9"/>
<line x1="202.8" y1="252.7" x2="221" y2="252.7" stroke="#000" stroke-width="1.7"/>
<text x="0" y="0" font-size="9.35" text-anchor="middle" transform="translate(196.5 198.9) scale(0.91 1)">WT</text>
<text x="0" y="0" font-size="9.35" text-anchor="middle" transform="translate(257.4 198.9) scale(0.91 1)">KO</text>
<text x="0" y="0" font-size="9.35" text-anchor="middle" transform="translate(162.6 233.5) rotate(-90) scale(0.91 1)">Young</text>
<text x="0" y="0" font-size="9.35" text-anchor="middle" transform="translate(162.6 291.5) rotate(-90) scale(0.91 1)">Aged</text>
<rect x="322" y="193.3" width="13" height="4.8" fill="#ffffff" stroke="#333333" stroke-width="0.8"/>
<text x="0" y="0" font-size="9.02" transform="translate(342 198.65) scale(0.91 1)">WT</text>
<rect x="322" y="204.2" width="13" height="4.7" fill="#8aabd8" stroke="#333333" stroke-width="0.8"/>
<text x="0" y="0" font-size="9.02" transform="translate(342 209.5) scale(0.91 1)">KO</text>
<line x1="322.4" y1="218.4" x2="322.4" y2="312.3" stroke="#333333" stroke-width="0.8"/>
<line x1="318" y1="312.3" x2="322.4" y2="312.3" stroke="#333333" stroke-width="0.8"/>
<text x="0" y="0" font-size="8.8" text-anchor="end" transform="translate(316.6 315.18) scale(0.91 1)">0</text>
<line x1="318" y1="281" x2="322.4" y2="281" stroke="#333333" stroke-width="0.8"/>
<text x="0" y="0" font-size="8.8" text-anchor="end" transform="translate(316.6 283.88) scale(0.91 1)">300</text>
<line x1="318" y1="249.7" x2="322.4" y2="249.7" stroke="#333333" stroke-width="0.8"/>
<text x="0" y="0" font-size="8.8" text-anchor="end" transform="translate(316.6 252.58) scale(0.91 1)">600</text>
<line x1="318" y1="218.4" x2="322.4" y2="218.4" stroke="#333333" stroke-width="0.8"/>
<text x="0" y="0" font-size="8.8" text-anchor="end" transform="translate(316.6 221.28) scale(0.91 1)">900</text>
<rect x="327.1" y="295.61" width="12.9" height="16.69" fill="#ffffff" stroke="#333333" stroke-width="0.8"/>
<rect x="346.1" y="296.86" width="12.5" height="15.44" fill="#8aabd8" stroke="#333333" stroke-width="0.8"/>
<rect x="373.3" y="266.18" width="12.3" height="46.12" fill="#ffffff" stroke="#333333" stroke-width="0.8"/>
<rect x="392.2" y="290.91" width="12.8" height="21.39" fill="#8aabd8" stroke="#333333" stroke-width="0.8"/>
<line x1="333.55" y1="294.56" x2="333.55" y2="296.65" stroke="#111" stroke-width="0.75"/>
<line x1="330.95" y1="294.56" x2="336.15" y2="294.56" stroke="#111" stroke-width="0.75"/>
<line x1="330.95" y1="296.65" x2="336.15" y2="296.65" stroke="#111" stroke-width="0.75"/>
<circle cx="330.26" cy="290.39" r="1.3" fill="#000"/>
<circle cx="333.13" cy="292.48" r="1.3" fill="#000"/>
<circle cx="336.07" cy="293.52" r="1.3" fill="#000"/>
<circle cx="335.46" cy="294.56" r="1.3" fill="#000"/>
<circle cx="335.7" cy="295.09" r="1.3" fill="#000"/>
<circle cx="332.93" cy="295.61" r="1.3" fill="#000"/>
<circle cx="336.34" cy="296.13" r="1.3" fill="#000"/>
<circle cx="333.86" cy="296.65" r="1.3" fill="#000"/>
<circle cx="329.65" cy="296.65" r="1.3" fill="#000"/>
<circle cx="333.14" cy="297.17" r="1.3" fill="#000"/>
<circle cx="329.35" cy="297.69" r="1.3" fill="#000"/>
<circle cx="337.57" cy="298.22" r="1.3" fill="#000"/>
<circle cx="337.7" cy="294.56" r="1.3" fill="#000"/>
<circle cx="332.02" cy="293" r="1.3" fill="#000"/>
<line x1="352.35" y1="296.23" x2="352.35" y2="297.48" stroke="#111" stroke-width="0.75"/>
<line x1="349.75" y1="296.23" x2="354.95" y2="296.23" stroke="#111" stroke-width="0.75"/>
<line x1="349.75" y1="297.48" x2="354.95" y2="297.48" stroke="#111" stroke-width="0.75"/>
<circle cx="353.08" cy="293.52" r="1.3" fill="#000"/>
<circle cx="349.6" cy="294.56" r="1.3" fill="#000"/>
<circle cx="356.54" cy="295.09" r="1.3" fill="#000"/>
<circle cx="356.17" cy="295.61" r="1.3" fill="#000"/>
<circle cx="352.05" cy="296.13" r="1.3" fill="#000"/>
<circle cx="353.82" cy="296.65" r="1.3" fill="#000"/>
<circle cx="349.78" cy="296.86" r="1.3" fill="#000"/>
<circle cx="349.85" cy="297.17" r="1.3" fill="#000"/>
<circle cx="350.45" cy="297.69" r="1.3" fill="#000"/>
<circle cx="354.08" cy="297.9" r="1.3" fill="#000"/>
<circle cx="349.76" cy="298.22" r="1.3" fill="#000"/>
<circle cx="356.59" cy="298.74" r="1.3" fill="#000"/>
<line x1="379.45" y1="261.18" x2="379.45" y2="271.19" stroke="#111" stroke-width="0.75"/>
<line x1="376.85" y1="261.18" x2="382.05" y2="261.18" stroke="#111" stroke-width="0.75"/>
<line x1="376.85" y1="271.19" x2="382.05" y2="271.19" stroke="#111" stroke-width="0.75"/>
<circle cx="376.33" cy="225.7" r="1.3" fill="#000"/>
<circle cx="380.48" cy="237.7" r="1.3" fill="#000"/>
<circle cx="376.52" cy="249.7" r="1.3" fill="#000"/>
<circle cx="381.33" cy="253.87" r="1.3" fill="#000"/>
<circle cx="380.4" cy="254.92" r="1.3" fill="#000"/>
<circle cx="378.43" cy="255.96" r="1.3" fill="#000"/>
<circle cx="380.49" cy="258.05" r="1.3" fill="#000"/>
<circle cx="380.04" cy="260.13" r="1.3" fill="#000"/>
<circle cx="375.4" cy="262.22" r="1.3" fill="#000"/>
<circle cx="379.72" cy="265.35" r="1.3" fill="#000"/>
<circle cx="380.51" cy="270.57" r="1.3" fill="#000"/>
<circle cx="379.62" cy="277.87" r="1.3" fill="#000"/>
<circle cx="382.81" cy="286.22" r="1.3" fill="#000"/>
<circle cx="381.53" cy="288.3" r="1.3" fill="#000"/>
<circle cx="378.36" cy="290.39" r="1.3" fill="#000"/>
<circle cx="377.03" cy="292.48" r="1.3" fill="#000"/>
<circle cx="376.16" cy="285.17" r="1.3" fill="#000"/>
<circle cx="382.2" cy="289.35" r="1.3" fill="#000"/>
<line x1="398.6" y1="289.66" x2="398.6" y2="292.16" stroke="#111" stroke-width="0.75"/>
<line x1="396" y1="289.66" x2="401.2" y2="289.66" stroke="#111" stroke-width="0.75"/>
<line x1="396" y1="292.16" x2="401.2" y2="292.16" stroke="#111" stroke-width="0.75"/>
<circle cx="403.01" cy="283.61" r="1.3" fill="#000"/>
<circle cx="398.2" cy="285.69" r="1.3" fill="#000"/>
<circle cx="400.62" cy="287.26" r="1.3" fill="#000"/>
<circle cx="400.76" cy="288.3" r="1.3" fill="#000"/>
<circle cx="395.97" cy="288.82" r="1.3" fill="#000"/>
<circle cx="394.71" cy="289.87" r="1.3" fill="#000"/>
<circle cx="399.55" cy="290.39" r="1.3" fill="#000"/>
<circle cx="395.12" cy="290.91" r="1.3" fill="#000"/>
<circle cx="397.51" cy="291.43" r="1.3" fill="#000"/>
<circle cx="402.19" cy="291.96" r="1.3" fill="#000"/>
<circle cx="402.03" cy="292.48" r="1.3" fill="#000"/>
<circle cx="395.09" cy="293.52" r="1.3" fill="#000"/>
<circle cx="394.75" cy="294.56" r="1.3" fill="#000"/>
<circle cx="396.04" cy="295.61" r="1.3" fill="#000"/>
<line x1="322" y1="312.3" x2="409.3" y2="312.3" stroke="#777" stroke-width="0.8"/>
<line x1="342.9" y1="312.3" x2="342.9" y2="316.9" stroke="#777" stroke-width="0.8"/>
<line x1="389" y1="312.3" x2="389" y2="316.9" stroke="#777" stroke-width="0.8"/>
<text x="0" y="0" font-size="9.24" text-anchor="middle" transform="translate(344.6 326.2) scale(0.91 1)">Young</text>
<text x="0" y="0" font-size="9.24" text-anchor="middle" transform="translate(394.7 326.2) scale(0.91 1)">Aged</text>
<text x="0" y="0" font-size="9.13" text-anchor="middle" transform="translate(298.3 258.5) rotate(-90) scale(0.91 1)">Inflammatory cell infiltration (counts)</text>
<line x1="332.4" y1="222.2" x2="379.9" y2="222.2" stroke="#666" stroke-width="0.9"/>
<text x="356.15" y="220.7" font-size="5" text-anchor="middle" fill="#3a3a3a" style="stroke:none">p&lt;0.001</text>
<line x1="379.9" y1="213.3" x2="398.9" y2="213.3" stroke="#666" stroke-width="0.9"/>
<text x="389.4" y="211.8" font-size="5" text-anchor="middle" fill="#3a3a3a" style="stroke:none">p&lt;0.001</text>
<text x="0" y="0" font-size="13" font-weight="bold" fill="#000" transform="translate(418.8 187.2) scale(0.9 1)">e</text>
<rect x="433.4" y="200.2" width="59.4" height="59.5" fill="#b4426a"/>
<rect x="433.4" y="200.2" width="59.4" height="59.5" filter="url(#n11)"/>
<rect x="433.4" y="200.2" width="59.4" height="59.5" filter="url(#n12)"/>
<rect x="433.4" y="200.2" width="59.4" height="59.5" filter="url(#n13)"/>
<rect x="495" y="200.2" width="59.5" height="59.5" fill="#b0345a"/>
<rect x="495" y="200.2" width="59.5" height="59.5" filter="url(#n14)"/>
<rect x="495" y="200.2" width="59.5" height="59.5" filter="url(#n15)"/>
<rect x="495" y="200.2" width="59.5" height="59.5" filter="url(#n16)"/>
<rect x="433.4" y="262.1" width="59.4" height="59.4" fill="#945898"/>
<rect x="433.4" y="262.1" width="59.4" height="59.4" filter="url(#n17)"/>
<rect x="433.4" y="262.1" width="59.4" height="59.4" filter="url(#n18)"/>
<rect x="433.4" y="262.1" width="59.4" height="59.4" filter="url(#n19)"/>
<rect x="495" y="262.1" width="59.5" height="59.4" fill="#ae2848"/>
<rect x="495" y="262.1" width="59.5" height="59.4" filter="url(#n20)"/>
<rect x="495" y="262.1" width="59.5" height="59.4" filter="url(#n21)"/>
<rect x="495" y="262.1" width="59.5" height="59.4" filter="url(#n22)"/>
<line x1="470.7" y1="255" x2="488.2" y2="255" stroke="#000" stroke-width="1.7"/>
<text x="0" y="0" font-size="9.35" text-anchor="middle" transform="translate(464.2 198.9) scale(0.91 1)">WT</text>
<text x="0" y="0" font-size="9.35" text-anchor="middle" transform="translate(525.3 198.9) scale(0.91 1)">KO</text>
<text x="0" y="0" font-size="9.35" text-anchor="middle" transform="translate(430.3 233.5) rotate(-90) scale(0.91 1)">Young</text>
<text x="0" y="0" font-size="9.35" text-anchor="middle" transform="translate(430.3 291.5) rotate(-90) scale(0.91 1)">Aged</text>
<rect x="588.6" y="193.3" width="11.9" height="4.8" fill="#ffffff" stroke="#333333" stroke-width="0.8"/>
<text x="0" y="0" font-size="9.46" transform="translate(608.1 198.8) scale(0.91 1)">WT</text>
<rect x="588.6" y="204.2" width="11.9" height="4.7" fill="#8aabd8" stroke="#333333" stroke-width="0.8"/>
<text x="0" y="0" font-size="9.46" transform="translate(608.1 209.65) scale(0.91 1)">KO</text>
<line x1="587.6" y1="219.3" x2="587.6" y2="313.7" stroke="#333333" stroke-width="0.8"/>
<line x1="583.2" y1="313.7" x2="587.6" y2="313.7" stroke="#333333" stroke-width="0.8"/>
<text x="0" y="0" font-size="9.35" text-anchor="end" transform="translate(581.8 316.76) scale(0.91 1)">0</text>
<line x1="583.2" y1="290.1" x2="587.6" y2="290.1" stroke="#333333" stroke-width="0.8"/>
<text x="0" y="0" font-size="9.35" text-anchor="end" transform="translate(581.8 293.16) scale(0.91 1)">10</text>
<line x1="583.2" y1="266.5" x2="587.6" y2="266.5" stroke="#333333" stroke-width="0.8"/>
<text x="0" y="0" font-size="9.35" text-anchor="end" transform="translate(581.8 269.56) scale(0.91 1)">20</text>
<line x1="583.2" y1="242.9" x2="587.6" y2="242.9" stroke="#333333" stroke-width="0.8"/>
<text x="0" y="0" font-size="9.35" text-anchor="end" transform="translate(581.8 245.96) scale(0.91 1)">30</text>
<line x1="583.2" y1="219.3" x2="587.6" y2="219.3" stroke="#333333" stroke-width="0.8"/>
<text x="0" y="0" font-size="9.35" text-anchor="end" transform="translate(581.8 222.36) scale(0.91 1)">40</text>
<rect x="592.6" y="301.9" width="12.3" height="11.8" fill="#ffffff" stroke="#333333" stroke-width="0.8"/>
<rect x="611.4" y="301.43" width="12.3" height="12.27" fill="#8aabd8" stroke="#333333" stroke-width="0.8"/>
<rect x="639.8" y="265.32" width="12.4" height="48.38" fill="#ffffff" stroke="#333333" stroke-width="0.8"/>
<rect x="658.4" y="289.63" width="12.4" height="24.07" fill="#8aabd8" stroke="#333333" stroke-width="0.8"/>
<line x1="598.75" y1="300.96" x2="598.75" y2="302.84" stroke="#111" stroke-width="0.75"/>
<line x1="596.15" y1="300.96" x2="601.35" y2="300.96" stroke="#111" stroke-width="0.75"/>
<line x1="596.15" y1="302.84" x2="601.35" y2="302.84" stroke="#111" stroke-width="0.75"/>
<circle cx="594.73" cy="294.11" r="1.3" fill="#000"/>
<circle cx="596.12" cy="297.18" r="1.3" fill="#000"/>
<circle cx="600.6" cy="298.36" r="1.3" fill="#000"/>
<circle cx="595.59" cy="299.54" r="1.3" fill="#000"/>
<circle cx="601.94" cy="300.72" r="1.3" fill="#000"/>
<circle cx="596.68" cy="301.9" r="1.3" fill="#000"/>
<circle cx="594.42" cy="302.37" r="1.3" fill="#000"/>
<circle cx="598.22" cy="303.08" r="1.3" fill="#000"/>
<circle cx="595.8" cy="303.79" r="1.3" fill="#000"/>
<circle cx="594.47" cy="304.26" r="1.3" fill="#000"/>
<circle cx="596.79" cy="305.44" r="1.3" fill="#000"/>
<circle cx="598.39" cy="306.62" r="1.3" fill="#000"/>
<circle cx="596.03" cy="307.8" r="1.3" fill="#000"/>
<circle cx="601.87" cy="301.43" r="1.3" fill="#000"/>
<line x1="617.55" y1="300.48" x2="617.55" y2="302.37" stroke="#111" stroke-width="0.75"/>
<line x1="614.95" y1="300.48" x2="620.15" y2="300.48" stroke="#111" stroke-width="0.75"/>
<line x1="614.95" y1="302.37" x2="620.15" y2="302.37" stroke="#111" stroke-width="0.75"/>
<circle cx="613.72" cy="295.29" r="1.3" fill="#000"/>
<circle cx="616.01" cy="296" r="1.3" fill="#000"/>
<circle cx="613.15" cy="297.18" r="1.3" fill="#000"/>
<circle cx="615.63" cy="298.36" r="1.3" fill="#000"/>
<circle cx="619.79" cy="299.54" r="1.3" fill="#000"/>
<circle cx="619.27" cy="300.72" r="1.3" fill="#000"/>
<circle cx="617.28" cy="301.9" r="1.3" fill="#000"/>
<circle cx="619.8" cy="303.08" r="1.3" fill="#000"/>
<circle cx="617.12" cy="303.79" r="1.3" fill="#000"/>
<circle cx="620.78" cy="304.26" r="1.3" fill="#000"/>
<circle cx="618.52" cy="305.44" r="1.3" fill="#000"/>
<circle cx="614.36" cy="306.62" r="1.3" fill="#000"/>
<circle cx="618.14" cy="308.51" r="1.3" fill="#000"/>
<circle cx="617.34" cy="300.01" r="1.3" fill="#000"/>
<line x1="646" y1="260.13" x2="646" y2="270.51" stroke="#111" stroke-width="0.75"/>
<line x1="643.4" y1="260.13" x2="648.6" y2="260.13" stroke="#111" stroke-width="0.75"/>
<line x1="643.4" y1="270.51" x2="648.6" y2="270.51" stroke="#111" stroke-width="0.75"/>
<circle cx="648.36" cy="237" r="1.3" fill="#000"/>
<circle cx="647.29" cy="244.08" r="1.3" fill="#000"/>
<circle cx="645.19" cy="251.16" r="1.3" fill="#000"/>
<circle cx="643.3" cy="251.16" r="1.3" fill="#000"/>
<circle cx="647.58" cy="260.6" r="1.3" fill="#000"/>
<circle cx="650.19" cy="262.96" r="1.3" fill="#000"/>
<circle cx="645.35" cy="264.14" r="1.3" fill="#000"/>
<circle cx="649.13" cy="285.38" r="1.3" fill="#000"/>
<circle cx="641.86" cy="286.56" r="1.3" fill="#000"/>
<circle cx="646.25" cy="288.92" r="1.3" fill="#000"/>
<circle cx="643.34" cy="291.28" r="1.3" fill="#000"/>
<circle cx="645.95" cy="293.64" r="1.3" fill="#000"/>
<circle cx="646.99" cy="268.86" r="1.3" fill="#000"/>
<line x1="664.6" y1="286.8" x2="664.6" y2="292.46" stroke="#111" stroke-width="0.75"/>
<line x1="662" y1="286.8" x2="667.2" y2="286.8" stroke="#111" stroke-width="0.75"/>
<line x1="662" y1="292.46" x2="667.2" y2="292.46" stroke="#111" stroke-width="0.75"/>
<circle cx="660.95" cy="265.32" r="1.3" fill="#000"/>
<circle cx="667.65" cy="270.04" r="1.3" fill="#000"/>
<circle cx="665.5" cy="279.48" r="1.3" fill="#000"/>
<circle cx="662.03" cy="283.02" r="1.3" fill="#000"/>
<circle cx="667.1" cy="284.2" r="1.3" fill="#000"/>
<circle cx="665.44" cy="285.38" r="1.3" fill="#000"/>
<circle cx="667.53" cy="287.74" r="1.3" fill="#000"/>
<circle cx="665.6" cy="290.1" r="1.3" fill="#000"/>
<circle cx="666.59" cy="291.28" r="1.3" fill="#000"/>
<circle cx="667.06" cy="292.46" r="1.3" fill="#000"/>
<circle cx="663.21" cy="294.82" r="1.3" fill="#000"/>
<circle cx="660.99" cy="297.18" r="1.3" fill="#000"/>
<circle cx="668.15" cy="304.26" r="1.3" fill="#000"/>
<circle cx="661.18" cy="304.26" r="1.3" fill="#000"/>
<line x1="587.2" y1="313.7" x2="675.9" y2="313.7" stroke="#777" stroke-width="0.8"/>
<line x1="608.5" y1="313.7" x2="608.5" y2="318.3" stroke="#777" stroke-width="0.8"/>
<line x1="655" y1="313.7" x2="655" y2="318.3" stroke="#777" stroke-width="0.8"/>
<text x="0" y="0" font-size="9.68" text-anchor="middle" transform="translate(610.3 327.5) scale(0.91 1)">Young</text>
<text x="0" y="0" font-size="9.68" text-anchor="middle" transform="translate(660.2 327.5) scale(0.91 1)">Aged</text>
<text x="0" y="0" font-size="9.46" text-anchor="middle" transform="translate(567.5 265.8) rotate(-90) scale(0.91 1)">Fibrosis (%)</text>
<line x1="599.2" y1="231.1" x2="645.7" y2="231.1" stroke="#666" stroke-width="0.9"/>
<text x="622.45" y="229.6" font-size="5" text-anchor="middle" fill="#3a3a3a" style="stroke:none">p=0.001</text>
<line x1="618.2" y1="221.6" x2="664.7" y2="221.6" stroke="#666" stroke-width="0.9"/>
<text x="641.45" y="220.1" font-size="5" text-anchor="middle" fill="#3a3a3a" style="stroke:none">p=0.032</text>
<line x1="645.7" y1="212.1" x2="664.7" y2="212.1" stroke="#666" stroke-width="0.9"/>
<text x="655.2" y="210.6" font-size="5" text-anchor="middle" fill="#3a3a3a" style="stroke:none">p&lt;0.001</text>
<text x="0" y="0" font-size="13" font-weight="bold" fill="#000" transform="translate(1.3 343) scale(0.9 1)">f</text>
<rect x="36.4" y="347.1" width="12.4" height="5.3" fill="#ffffff" stroke="#333333" stroke-width="0.8"/>
<text x="0" y="0" font-size="9.02" transform="translate(55.6 352.7) scale(0.91 1)">WT-Young</text>
<rect x="36.4" y="360.7" width="12.4" height="5.4" fill="#8aabd8" stroke="#333333" stroke-width="0.8"/>
<text x="0" y="0" font-size="9.02" transform="translate(55.6 366.35) scale(0.91 1)">KO-Young</text>
<rect x="99.6" y="347.1" width="13.9" height="5.3" fill="#808080" stroke="#333333" stroke-width="0.8"/>
<text x="0" y="0" font-size="9.02" transform="translate(120 352.7) scale(0.91 1)">WT-Aged</text>
<rect x="99.6" y="360.7" width="13.9" height="5.4" fill="#ff0000" stroke="#333333" stroke-width="0.8"/>
<text x="0" y="0" font-size="9.02" transform="translate(120 366.35) scale(0.91 1)">KO-Aged</text>
<line x1="37.5" y1="383" x2="37.5" y2="417.3" stroke="#333333" stroke-width="0.8"/>
<line x1="37.5" y1="426.2" x2="37.5" y2="477.7" stroke="#333333" stroke-width="0.8"/>
<line x1="33.1" y1="383" x2="37.5" y2="383" stroke="#333333" stroke-width="0.8"/>
<text x="0" y="0" font-size="8.8" text-anchor="end" transform="translate(31.7 385.9) scale(0.91 1)">60</text>
<line x1="33.1" y1="395.2" x2="37.5" y2="395.2" stroke="#333333" stroke-width="0.8"/>
<text x="0" y="0" font-size="8.8" text-anchor="end" transform="translate(31.7 398.1) scale(0.91 1)">40</text>
<line x1="33.1" y1="407.2" x2="37.5" y2="407.2" stroke="#333333" stroke-width="0.8"/>
<text x="0" y="0" font-size="8.8" text-anchor="end" transform="translate(31.7 410.1) scale(0.91 1)">20</text>
<line x1="33.1" y1="426.4" x2="37.5" y2="426.4" stroke="#333333" stroke-width="0.8"/>
<text x="0" y="0" font-size="8.8" text-anchor="end" transform="translate(31.7 429.3) scale(0.91 1)">3</text>
<line x1="33.1" y1="443.5" x2="37.5" y2="443.5" stroke="#333333" stroke-width="0.8"/>
<text x="0" y="0" font-size="8.8" text-anchor="end" transform="translate(31.7 446.4) scale(0.91 1)">2</text>
<line x1="33.1" y1="460.6" x2="37.5" y2="460.6" stroke="#333333" stroke-width="0.8"/>
<text x="0" y="0" font-size="8.8" text-anchor="end" transform="translate(31.7 463.5) scale(0.91 1)">1</text>
<line x1="33.1" y1="477.7" x2="37.5" y2="477.7" stroke="#333333" stroke-width="0.8"/>
<text x="0" y="0" font-size="8.8" text-anchor="end" transform="translate(31.7 480.6) scale(0.91 1)">0</text>
<line x1="34.5" y1="414.6" x2="40.9" y2="420.6" stroke="#333333" stroke-width="0.8" class="s"/>
<line x1="34.5" y1="423.2" x2="40.9" y2="429.2" stroke="#333333" stroke-width="0.8" class="s"/>
<text x="0" y="0" font-size="8.58" text-anchor="middle" transform="translate(18.1 426.8) rotate(-90) scale(0.91 1)">Expression relative to <tspan font-style="italic">Gapdh</tspan></text>
<rect x="43" y="460.6" width="10.2" height="17.1" fill="#ffffff"/>
<line x1="43" y1="460.2" x2="43" y2="477.7" stroke="#333333" stroke-width="0.8"/>
<line x1="53.2" y1="460.2" x2="53.2" y2="477.7" stroke="#333333" stroke-width="0.8"/>
<line x1="43" y1="460.6" x2="53.2" y2="460.6" stroke="#333333" stroke-width="0.8"/>
<rect x="58.5" y="455.81" width="10.2" height="21.89" fill="#8aabd8"/>
<line x1="58.5" y1="455.41" x2="58.5" y2="477.7" stroke="#333333" stroke-width="0.8"/>
<line x1="68.7" y1="455.41" x2="68.7" y2="477.7" stroke="#333333" stroke-width="0.8"/>
<line x1="58.5" y1="455.81" x2="68.7" y2="455.81" stroke="#333333" stroke-width="0.8"/>
<rect x="74.15" y="450.68" width="10.2" height="27.02" fill="#808080"/>
<line x1="74.15" y1="450.28" x2="74.15" y2="477.7" stroke="#333333" stroke-width="0.8"/>
<line x1="84.35" y1="450.28" x2="84.35" y2="477.7" stroke="#333333" stroke-width="0.8"/>
<line x1="74.15" y1="450.68" x2="84.35" y2="450.68" stroke="#333333" stroke-width="0.8"/>
<rect x="89.7" y="465.73" width="10.2" height="11.97" fill="#ff0000"/>
<line x1="89.7" y1="465.33" x2="89.7" y2="477.7" stroke="#333333" stroke-width="0.8"/>
<line x1="99.9" y1="465.33" x2="99.9" y2="477.7" stroke="#333333" stroke-width="0.8"/>
<line x1="89.7" y1="465.73" x2="99.9" y2="465.73" stroke="#333333" stroke-width="0.8"/>
<rect x="115.5" y="460.94" width="10.2" height="16.76" fill="#ffffff"/>
<line x1="115.5" y1="460.54" x2="115.5" y2="477.7" stroke="#333333" stroke-width="0.8"/>
<line x1="125.7" y1="460.54" x2="125.7" y2="477.7" stroke="#333333" stroke-width="0.8"/>
<line x1="115.5" y1="460.94" x2="125.7" y2="460.94" stroke="#333333" stroke-width="0.8"/>
<rect x="131" y="456.84" width="10.2" height="20.86" fill="#8aabd8"/>
<line x1="131" y1="456.44" x2="131" y2="477.7" stroke="#333333" stroke-width="0.8"/>
<line x1="141.2" y1="456.44" x2="141.2" y2="477.7" stroke="#333333" stroke-width="0.8"/>
<line x1="131" y1="456.84" x2="141.2" y2="456.84" stroke="#333333" stroke-width="0.8"/>
<rect x="146.65" y="431.02" width="10.2" height="46.68" fill="#808080"/>
<line x1="146.65" y1="430.62" x2="146.65" y2="477.7" stroke="#333333" stroke-width="0.8"/>
<line x1="156.85" y1="430.62" x2="156.85" y2="477.7" stroke="#333333" stroke-width="0.8"/>
<line x1="146.65" y1="431.02" x2="156.85" y2="431.02" stroke="#333333" stroke-width="0.8"/>
<rect x="162.2" y="459.4" width="10.2" height="18.3" fill="#ff0000"/>
<line x1="162.2" y1="459" x2="162.2" y2="477.7" stroke="#333333" stroke-width="0.8"/>
<line x1="172.4" y1="459" x2="172.4" y2="477.7" stroke="#333333" stroke-width="0.8"/>
<line x1="162.2" y1="459.4" x2="172.4" y2="459.4" stroke="#333333" stroke-width="0.8"/>
<rect x="188" y="460.94" width="10.2" height="16.76" fill="#ffffff"/>
<line x1="188" y1="460.54" x2="188" y2="477.7" stroke="#333333" stroke-width="0.8"/>
<line x1="198.2" y1="460.54" x2="198.2" y2="477.7" stroke="#333333" stroke-width="0.8"/>
<line x1="188" y1="460.94" x2="198.2" y2="460.94" stroke="#333333" stroke-width="0.8"/>
<rect x="203.5" y="442.13" width="10.2" height="35.57" fill="#8aabd8"/>
<line x1="203.5" y1="441.73" x2="203.5" y2="477.7" stroke="#333333" stroke-width="0.8"/>
<line x1="213.7" y1="441.73" x2="213.7" y2="477.7" stroke="#333333" stroke-width="0.8"/>
<line x1="203.5" y1="442.13" x2="213.7" y2="442.13" stroke="#333333" stroke-width="0.8"/>
<rect x="219.15" y="426.4" width="10.2" height="51.3" fill="#808080"/>
<line x1="219.15" y1="426.4" x2="219.15" y2="477.7" stroke="#333333" stroke-width="0.8"/>
<line x1="229.35" y1="426.4" x2="229.35" y2="477.7" stroke="#333333" stroke-width="0.8"/>
<rect x="219.15" y="405.3" width="10.2" height="12.4" fill="#808080"/>
<line x1="219.15" y1="404.9" x2="219.15" y2="417.7" stroke="#333333" stroke-width="0.8"/>
<line x1="229.35" y1="404.9" x2="229.35" y2="417.7" stroke="#333333" stroke-width="0.8"/>
<line x1="219.15" y1="405.3" x2="229.35" y2="405.3" stroke="#333333" stroke-width="0.8"/>
<rect x="234.7" y="426.4" width="10.2" height="51.3" fill="#ff0000"/>
<line x1="234.7" y1="426.4" x2="234.7" y2="477.7" stroke="#333333" stroke-width="0.8"/>
<line x1="244.9" y1="426.4" x2="244.9" y2="477.7" stroke="#333333" stroke-width="0.8"/>
<line x1="234.7" y1="417.7" x2="244.9" y2="417.7" stroke="#333333" stroke-width="0.8"/>
<line x1="48.1" y1="458.55" x2="48.1" y2="462.65" stroke="#111" stroke-width="0.75"/>
<line x1="45.7" y1="458.55" x2="50.5" y2="458.55" stroke="#111" stroke-width="0.75"/>
<line x1="45.7" y1="462.65" x2="50.5" y2="462.65" stroke="#111" stroke-width="0.75"/>
<circle cx="48.73" cy="453.08" r="1.25" fill="#000"/>
<circle cx="47.11" cy="459.75" r="1.25" fill="#000"/>
<circle cx="44.91" cy="460.94" r="1.25" fill="#000"/>
<circle cx="47.12" cy="461.97" r="1.25" fill="#000"/>
<circle cx="50.17" cy="463.16" r="1.25" fill="#000"/>
<line x1="63.6" y1="454.44" x2="63.6" y2="457.18" stroke="#111" stroke-width="0.75"/>
<line x1="61.2" y1="454.44" x2="66" y2="454.44" stroke="#111" stroke-width="0.75"/>
<line x1="61.2" y1="457.18" x2="66" y2="457.18" stroke="#111" stroke-width="0.75"/>
<circle cx="62.95" cy="451.02" r="1.25" fill="#000"/>
<circle cx="65.52" cy="454.27" r="1.25" fill="#000"/>
<circle cx="63.56" cy="455.47" r="1.25" fill="#000"/>
<circle cx="63.34" cy="457.18" r="1.25" fill="#000"/>
<circle cx="61.91" cy="460.6" r="1.25" fill="#000"/>
<line x1="79.25" y1="445.21" x2="79.25" y2="456.15" stroke="#111" stroke-width="0.75"/>
<line x1="76.85" y1="445.21" x2="81.65" y2="445.21" stroke="#111" stroke-width="0.75"/>
<line x1="76.85" y1="456.15" x2="81.65" y2="456.15" stroke="#111" stroke-width="0.75"/>
<circle cx="82.23" cy="432.04" r="1.25" fill="#000"/>
<circle cx="79.5" cy="449.49" r="1.25" fill="#000"/>
<circle cx="79.59" cy="452.9" r="1.25" fill="#000"/>
<circle cx="79.09" cy="457.18" r="1.25" fill="#000"/>
<circle cx="77.26" cy="464.88" r="1.25" fill="#000"/>
<line x1="94.8" y1="464.36" x2="94.8" y2="467.1" stroke="#111" stroke-width="0.75"/>
<line x1="92.4" y1="464.36" x2="97.2" y2="464.36" stroke="#111" stroke-width="0.75"/>
<line x1="92.4" y1="467.1" x2="97.2" y2="467.1" stroke="#111" stroke-width="0.75"/>
<circle cx="91.8" cy="461.97" r="1.25" fill="#000"/>
<circle cx="97.8" cy="464.88" r="1.25" fill="#000"/>
<circle cx="92.85" cy="466.07" r="1.25" fill="#000"/>
<circle cx="97.96" cy="470" r="1.25" fill="#000"/>
<line x1="120.6" y1="458.38" x2="120.6" y2="463.51" stroke="#111" stroke-width="0.75"/>
<line x1="118.2" y1="458.38" x2="123" y2="458.38" stroke="#111" stroke-width="0.75"/>
<line x1="118.2" y1="463.51" x2="123" y2="463.51" stroke="#111" stroke-width="0.75"/>
<circle cx="118.26" cy="455.3" r="1.25" fill="#000"/>
<circle cx="120.13" cy="456.15" r="1.25" fill="#000"/>
<circle cx="122.85" cy="460.94" r="1.25" fill="#000"/>
<circle cx="120.29" cy="461.45" r="1.25" fill="#000"/>
<circle cx="118.89" cy="469.49" r="1.25" fill="#000"/>
<line x1="136.1" y1="452.05" x2="136.1" y2="461.63" stroke="#111" stroke-width="0.75"/>
<line x1="133.7" y1="452.05" x2="138.5" y2="452.05" stroke="#111" stroke-width="0.75"/>
<line x1="133.7" y1="461.63" x2="138.5" y2="461.63" stroke="#111" stroke-width="0.75"/>
<circle cx="134.07" cy="444.36" r="1.25" fill="#000"/>
<circle cx="136.53" cy="447.09" r="1.25" fill="#000"/>
<circle cx="136.94" cy="457.01" r="1.25" fill="#000"/>
<circle cx="134.71" cy="460.6" r="1.25" fill="#000"/>
<circle cx="134.01" cy="467.61" r="1.25" fill="#000"/>
<line x1="151.75" y1="426.4" x2="151.75" y2="435.63" stroke="#111" stroke-width="0.75"/>
<line x1="149.35" y1="426.4" x2="154.15" y2="426.4" stroke="#111" stroke-width="0.75"/>
<line x1="149.35" y1="435.63" x2="154.15" y2="435.63" stroke="#111" stroke-width="0.75"/>
<circle cx="151.3" cy="443.84" r="1.25" fill="#000"/>
<circle cx="151.91" cy="466.24" r="1.25" fill="#000"/>
<line x1="167.3" y1="453.42" x2="167.3" y2="465.39" stroke="#111" stroke-width="0.75"/>
<line x1="164.9" y1="453.42" x2="169.7" y2="453.42" stroke="#111" stroke-width="0.75"/>
<line x1="164.9" y1="465.39" x2="169.7" y2="465.39" stroke="#111" stroke-width="0.75"/>
<circle cx="168.18" cy="439.74" r="1.25" fill="#000"/>
<circle cx="166.02" cy="460.09" r="1.25" fill="#000"/>
<circle cx="168.53" cy="462.31" r="1.25" fill="#000"/>
<circle cx="167.43" cy="472.06" r="1.25" fill="#000"/>
<line x1="193.1" y1="458.03" x2="193.1" y2="463.85" stroke="#111" stroke-width="0.75"/>
<line x1="190.7" y1="458.03" x2="195.5" y2="458.03" stroke="#111" stroke-width="0.75"/>
<line x1="190.7" y1="463.85" x2="195.5" y2="463.85" stroke="#111" stroke-width="0.75"/>
<circle cx="191.1" cy="451.54" r="1.25" fill="#000"/>
<circle cx="196.09" cy="460.6" r="1.25" fill="#000"/>
<circle cx="192.17" cy="460.94" r="1.25" fill="#000"/>
<circle cx="195.03" cy="465.73" r="1.25" fill="#000"/>
<circle cx="191.61" cy="465.73" r="1.25" fill="#000"/>
<line x1="208.6" y1="438.71" x2="208.6" y2="445.55" stroke="#111" stroke-width="0.75"/>
<line x1="206.2" y1="438.71" x2="211" y2="438.71" stroke="#111" stroke-width="0.75"/>
<line x1="206.2" y1="445.55" x2="211" y2="445.55" stroke="#111" stroke-width="0.75"/>
<circle cx="205.81" cy="433.41" r="1.25" fill="#000"/>
<circle cx="205.4" cy="437.17" r="1.25" fill="#000"/>
<circle cx="206.66" cy="437.17" r="1.25" fill="#000"/>
<circle cx="211.13" cy="449.66" r="1.25" fill="#000"/>
<circle cx="206.7" cy="450" r="1.25" fill="#000"/>
<circle cx="149.25" cy="416.4" r="1.25" fill="#000"/>
<circle cx="154.55" cy="417.2" r="1.25" fill="#000"/>
<circle cx="224.25" cy="386.4" r="1.25" fill="#000"/>
<circle cx="221.25" cy="410.7" r="1.25" fill="#000"/>
<circle cx="224.75" cy="412.6" r="1.25" fill="#000"/>
<circle cx="227.75" cy="413.5" r="1.25" fill="#000"/>
<circle cx="237.3" cy="416.4" r="1.25" fill="#000"/>
<circle cx="240.3" cy="417" r="1.25" fill="#000"/>
<circle cx="236.3" cy="438.2" r="1.25" fill="#000"/>
<circle cx="239.3" cy="440.1" r="1.25" fill="#000"/>
<circle cx="242.8" cy="441" r="1.25" fill="#000"/>
<line x1="224.25" y1="400.2" x2="224.25" y2="420" stroke="#111" stroke-width="0.75"/>
<line x1="221.85" y1="400.2" x2="226.65" y2="400.2" stroke="#111" stroke-width="0.75"/>
<line x1="221.85" y1="420" x2="226.65" y2="420" stroke="#111" stroke-width="0.75"/>
<line x1="239.8" y1="426.8" x2="239.8" y2="433.4" stroke="#111" stroke-width="0.75"/>
<line x1="237.4" y1="433.4" x2="242.2" y2="433.4" stroke="#111" stroke-width="0.75"/>
<line x1="37.1" y1="477.7" x2="250.4" y2="477.7" stroke="#333333" stroke-width="0.8"/>
<line x1="71.5" y1="477.7" x2="71.5" y2="482.3" stroke="#333333" stroke-width="0.8"/>
<line x1="144" y1="477.7" x2="144" y2="482.3" stroke="#333333" stroke-width="0.8"/>
<line x1="216.5" y1="477.7" x2="216.5" y2="482.3" stroke="#333333" stroke-width="0.8"/>
<text x="0" y="0" font-size="9.02" text-anchor="middle" font-style="italic" transform="translate(71.5 491.2) scale(0.91 1)">Acta2</text>
<text x="0" y="0" font-size="9.02" text-anchor="middle" font-style="italic" transform="translate(144 491.2) scale(0.91 1)">Col1a1</text>
<text x="0" y="0" font-size="9.02" text-anchor="middle" font-style="italic" transform="translate(216.5 491.2) scale(0.91 1)">Ki67</text>
<line x1="79.3" y1="383.5" x2="94.5" y2="383.5" stroke="#666" stroke-width="0.9"/>
<text x="86.9" y="382" font-size="5" text-anchor="middle" fill="#3a3a3a" style="stroke:none">p=0.018</text>
<line x1="120.9" y1="376.1" x2="151.6" y2="376.1" stroke="#666" stroke-width="0.9"/>
<text x="136.25" y="374.6" font-size="5" text-anchor="middle" fill="#3a3a3a" style="stroke:none">p=0.046</text>
<line x1="152.2" y1="383.1" x2="167.4" y2="383.1" stroke="#666" stroke-width="0.9"/>
<text x="159.8" y="381.6" font-size="5" text-anchor="middle" fill="#3a3a3a" style="stroke:none">p=0.062</text>
<line x1="193.4" y1="376.1" x2="224.3" y2="376.1" stroke="#666" stroke-width="0.9"/>
<text x="208.85" y="374.6" font-size="5" text-anchor="middle" fill="#3a3a3a" style="stroke:none">p=0.013</text>
<line x1="224.8" y1="383.1" x2="240.5" y2="383.1" stroke="#666" stroke-width="0.9"/>
<text x="232.65" y="381.6" font-size="5" text-anchor="middle" fill="#3a3a3a" style="stroke:none">p=0.027</text>
<text x="0" y="0" font-size="13" font-weight="bold" fill="#000" transform="translate(252.6 343.5) scale(0.9 1)">g</text>
<rect x="270.4" y="368" width="58.4" height="59.1" fill="#faedf4"/>
<rect x="270.4" y="368" width="58.4" height="59.1" filter="url(#n23)"/>
<rect x="270.4" y="368" width="58.4" height="59.1" filter="url(#n24)"/>
<rect x="332.1" y="368" width="58.5" height="59.1" fill="#fbeef5"/>
<rect x="332.1" y="368" width="58.5" height="59.1" filter="url(#n25)"/>
<rect x="332.1" y="368" width="58.5" height="59.1" filter="url(#n26)"/>
<rect x="270.4" y="429.8" width="58.4" height="59.1" fill="#e0d0e8"/>
<g filter="url(#gb1)" fill="#5fa8d6"><ellipse cx="316.5" cy="446" rx="12" ry="5.5" transform="rotate(-45 316.5 446)" fill-opacity="0.85"/><ellipse cx="283.5" cy="469.5" rx="11" ry="6" transform="rotate(-35 283.5 469.5)" fill-opacity="0.85"/><ellipse cx="277" cy="458" rx="5" ry="4" fill-opacity="0.5"/><ellipse cx="296" cy="452" rx="5" ry="4" fill-opacity="0.35"/><ellipse cx="312" cy="480" rx="6" ry="4" fill-opacity="0.3"/><ellipse cx="295.6" cy="471.2" rx="4" ry="3" fill="#f4f4fa" fill-opacity="0.9"/></g>
<rect x="270.4" y="429.8" width="58.4" height="59.1" filter="url(#n27)"/>
<rect x="270.4" y="429.8" width="58.4" height="59.1" filter="url(#n28)"/>
<rect x="270.4" y="429.8" width="58.4" height="59.1" filter="url(#n29)"/>
<rect x="332.1" y="429.8" width="58.5" height="59.1" fill="#e4c8e2"/>
<rect x="332.1" y="429.8" width="58.5" height="59.1" filter="url(#n30)"/>
<rect x="332.1" y="429.8" width="58.5" height="59.1" filter="url(#n31)"/>
<circle cx="362.98" cy="464.25" r="0.7" fill="#5aa0c8" fill-opacity="0.85"/>
<circle cx="383.87" cy="481.17" r="0.53" fill="#5aa0c8" fill-opacity="0.85"/>
<circle cx="386.71" cy="455.01" r="0.51" fill="#5aa0c8" fill-opacity="0.85"/>
<circle cx="338.44" cy="460.02" r="0.45" fill="#5aa0c8" fill-opacity="0.85"/>
<circle cx="348.59" cy="465.66" r="0.67" fill="#5aa0c8" fill-opacity="0.85"/>
<circle cx="375.63" cy="435.73" r="0.42" fill="#5aa0c8" fill-opacity="0.85"/>
<circle cx="347.52" cy="462.32" r="0.69" fill="#5aa0c8" fill-opacity="0.85"/>
<circle cx="378.33" cy="484.12" r="0.61" fill="#5aa0c8" fill-opacity="0.85"/>
<circle cx="369.07" cy="447.47" r="0.51" fill="#5aa0c8" fill-opacity="0.85"/>
<circle cx="344.74" cy="461.36" r="0.61" fill="#5aa0c8" fill-opacity="0.85"/>
<circle cx="365.49" cy="453.18" r="0.55" fill="#5aa0c8" fill-opacity="0.85"/>
<circle cx="347.14" cy="477.35" r="0.6" fill="#5aa0c8" fill-opacity="0.85"/>
<circle cx="375.4" cy="477.14" r="0.5" fill="#5aa0c8" fill-opacity="0.85"/>
<circle cx="339.71" cy="446.95" r="0.72" fill="#5aa0c8" fill-opacity="0.85"/>
<circle cx="377.83" cy="453.95" r="0.67" fill="#5aa0c8" fill-opacity="0.85"/>
<circle cx="352.42" cy="480.21" r="0.43" fill="#5aa0c8" fill-opacity="0.85"/>
<circle cx="374.96" cy="486.78" r="0.55" fill="#5aa0c8" fill-opacity="0.85"/>
<circle cx="359.2" cy="438.27" r="0.5" fill="#5aa0c8" fill-opacity="0.85"/>
<circle cx="346.31" cy="447.71" r="0.42" fill="#5aa0c8" fill-opacity="0.85"/>
<circle cx="350.02" cy="436.76" r="0.58" fill="#5aa0c8" fill-opacity="0.85"/>
<circle cx="356.06" cy="443.79" r="0.73" fill="#5aa0c8" fill-opacity="0.85"/>
<circle cx="350.58" cy="461.15" r="0.71" fill="#5aa0c8" fill-opacity="0.85"/>
<circle cx="375.95" cy="485.94" r="0.61" fill="#5aa0c8" fill-opacity="0.85"/>
<circle cx="382.3" cy="434.52" r="0.66" fill="#5aa0c8" fill-opacity="0.85"/>
<circle cx="352.09" cy="449.12" r="0.67" fill="#5aa0c8" fill-opacity="0.85"/>
<circle cx="375.01" cy="450.32" r="0.53" fill="#5aa0c8" fill-opacity="0.85"/>
<circle cx="348.84" cy="484.13" r="0.62" fill="#5aa0c8" fill-opacity="0.85"/>
<circle cx="347.79" cy="461.19" r="0.42" fill="#5aa0c8" fill-opacity="0.85"/>
<circle cx="348.33" cy="459.43" r="0.74" fill="#5aa0c8" fill-opacity="0.85"/>
<circle cx="381.59" cy="462.06" r="0.67" fill="#5aa0c8" fill-opacity="0.85"/>
<circle cx="347.33" cy="470.44" r="0.75" fill="#5aa0c8" fill-opacity="0.85"/>
<circle cx="341.8" cy="484.05" r="0.74" fill="#5aa0c8" fill-opacity="0.85"/>
<circle cx="353.89" cy="477.28" r="0.75" fill="#5aa0c8" fill-opacity="0.85"/>
<circle cx="341.45" cy="457.34" r="0.61" fill="#5aa0c8" fill-opacity="0.85"/>
<circle cx="377.95" cy="445.99" r="0.66" fill="#5aa0c8" fill-opacity="0.85"/>
<line x1="305.8" y1="420.6" x2="323.8" y2="420.6" stroke="#000" stroke-width="1.7"/>
<text x="0" y="0" font-size="9.35" text-anchor="middle" transform="translate(299.7 366.4) scale(0.91 1)">WT</text>
<text x="0" y="0" font-size="9.35" text-anchor="middle" transform="translate(360.3 366.4) scale(0.91 1)">KO</text>
<text x="0" y="0" font-size="9.35" text-anchor="middle" transform="translate(267.8 398) rotate(-90) scale(0.91 1)">Young</text>
<text x="0" y="0" font-size="9.35" text-anchor="middle" transform="translate(267.8 458.2) rotate(-90) scale(0.91 1)">Aged</text>
<rect x="426.6" y="360.9" width="13.1" height="4.7" fill="#ffffff" stroke="#333333" stroke-width="0.8"/>
<text x="0" y="0" font-size="9.02" transform="translate(446.6 366.2) scale(0.91 1)">WT</text>
<rect x="426.6" y="372.3" width="13.1" height="4.3" fill="#8aabd8" stroke="#333333" stroke-width="0.8"/>
<text x="0" y="0" font-size="9.02" transform="translate(446.6 377.4) scale(0.91 1)">KO</text>
<line x1="426.4" y1="384.3" x2="426.4" y2="478.5" stroke="#333333" stroke-width="0.8"/>
<line x1="422" y1="478.5" x2="426.4" y2="478.5" stroke="#333333" stroke-width="0.8"/>
<text x="0" y="0" font-size="8.8" text-anchor="end" transform="translate(420.6 481.38) scale(0.91 1)">0</text>
<line x1="422" y1="447.1" x2="426.4" y2="447.1" stroke="#333333" stroke-width="0.8"/>
<text x="0" y="0" font-size="8.8" text-anchor="end" transform="translate(420.6 449.98) scale(0.91 1)">5</text>
<line x1="422" y1="415.7" x2="426.4" y2="415.7" stroke="#333333" stroke-width="0.8"/>
<text x="0" y="0" font-size="8.8" text-anchor="end" transform="translate(420.6 418.58) scale(0.91 1)">10</text>
<line x1="422" y1="384.3" x2="426.4" y2="384.3" stroke="#333333" stroke-width="0.8"/>
<text x="0" y="0" font-size="8.8" text-anchor="end" transform="translate(420.6 387.18) scale(0.91 1)">15</text>
<rect x="478.3" y="427.32" width="12.3" height="51.18" fill="#ffffff" stroke="#333333" stroke-width="0.8"/>
<rect x="497.2" y="461.98" width="12.8" height="16.52" fill="#8aabd8" stroke="#333333" stroke-width="0.8"/>
<circle cx="433.3" cy="478.2" r="1.35" fill="#000"/>
<circle cx="434.38" cy="478.2" r="1.35" fill="#000"/>
<circle cx="435.45" cy="478.2" r="1.35" fill="#000"/>
<circle cx="436.53" cy="478.2" r="1.35" fill="#000"/>
<circle cx="437.6" cy="478.2" r="1.35" fill="#000"/>
<circle cx="438.68" cy="478.2" r="1.35" fill="#000"/>
<circle cx="439.75" cy="478.2" r="1.35" fill="#000"/>
<circle cx="440.82" cy="478.2" r="1.35" fill="#000"/>
<circle cx="441.9" cy="478.2" r="1.35" fill="#000"/>
<circle cx="451.9" cy="478.2" r="1.35" fill="#000"/>
<circle cx="453.02" cy="478.2" r="1.35" fill="#000"/>
<circle cx="454.15" cy="478.2" r="1.35" fill="#000"/>
<circle cx="455.27" cy="478.2" r="1.35" fill="#000"/>
<circle cx="456.4" cy="478.2" r="1.35" fill="#000"/>
<circle cx="457.52" cy="478.2" r="1.35" fill="#000"/>
<circle cx="458.65" cy="478.2" r="1.35" fill="#000"/>
<circle cx="459.78" cy="478.2" r="1.35" fill="#000"/>
<circle cx="460.9" cy="478.2" r="1.35" fill="#000"/>
<line x1="484.45" y1="423.55" x2="484.45" y2="431.09" stroke="#111" stroke-width="0.75"/>
<line x1="481.85" y1="423.55" x2="487.05" y2="423.55" stroke="#111" stroke-width="0.75"/>
<line x1="481.85" y1="431.09" x2="487.05" y2="431.09" stroke="#111" stroke-width="0.75"/>
<line x1="503.6" y1="460.41" x2="503.6" y2="463.55" stroke="#111" stroke-width="0.75"/>
<line x1="501" y1="460.41" x2="506.2" y2="460.41" stroke="#111" stroke-width="0.75"/>
<line x1="501" y1="463.55" x2="506.2" y2="463.55" stroke="#111" stroke-width="0.75"/>
<circle cx="484.43" cy="392.46" r="1.3" fill="#000"/>
<circle cx="483.87" cy="405.02" r="1.3" fill="#000"/>
<circle cx="487.04" cy="413.82" r="1.3" fill="#000"/>
<circle cx="486.81" cy="415.07" r="1.3" fill="#000"/>
<circle cx="486.8" cy="418.84" r="1.3" fill="#000"/>
<circle cx="483.59" cy="420.1" r="1.3" fill="#000"/>
<circle cx="488.08" cy="421.98" r="1.3" fill="#000"/>
<circle cx="481.95" cy="425.12" r="1.3" fill="#000"/>
<circle cx="486.78" cy="427" r="1.3" fill="#000"/>
<circle cx="485.8" cy="431.4" r="1.3" fill="#000"/>
<circle cx="481.95" cy="434.54" r="1.3" fill="#000"/>
<circle cx="488" cy="447.73" r="1.3" fill="#000"/>
<circle cx="485.86" cy="459.66" r="1.3" fill="#000"/>
<circle cx="481.04" cy="460.29" r="1.3" fill="#000"/>
<circle cx="506.18" cy="450.87" r="1.3" fill="#000"/>
<circle cx="500.38" cy="453.38" r="1.3" fill="#000"/>
<circle cx="504.74" cy="455.89" r="1.3" fill="#000"/>
<circle cx="502.85" cy="457.15" r="1.3" fill="#000"/>
<circle cx="504" cy="459.03" r="1.3" fill="#000"/>
<circle cx="502.87" cy="459.66" r="1.3" fill="#000"/>
<circle cx="502.84" cy="460.92" r="1.3" fill="#000"/>
<circle cx="505.06" cy="462.8" r="1.3" fill="#000"/>
<circle cx="506.32" cy="464.06" r="1.3" fill="#000"/>
<circle cx="500.97" cy="465.94" r="1.3" fill="#000"/>
<circle cx="505.74" cy="467.82" r="1.3" fill="#000"/>
<circle cx="504.58" cy="470.34" r="1.3" fill="#000"/>
<line x1="426" y1="478.5" x2="514.3" y2="478.5" stroke="#777" stroke-width="0.8"/>
<line x1="446.6" y1="478.5" x2="446.6" y2="483.1" stroke="#777" stroke-width="0.8"/>
<line x1="493.4" y1="478.5" x2="493.4" y2="483.1" stroke="#777" stroke-width="0.8"/>
<text x="0" y="0" font-size="9.02" text-anchor="middle" transform="translate(448.4 492) scale(0.91 1)">Young</text>
<text x="0" y="0" font-size="9.02" text-anchor="middle" transform="translate(499 492) scale(0.91 1)">Aged</text>
<text x="0" y="0" font-size="8.58" text-anchor="middle" transform="translate(405.2 429.2) rotate(-90) scale(0.91 1)">β-gal staining area (%)</text>
<line x1="437.1" y1="390.3" x2="484.5" y2="390.3" stroke="#666" stroke-width="0.9"/>
<text x="460.8" y="388.8" font-size="5" text-anchor="middle" fill="#3a3a3a" style="stroke:none">p&lt;0.001</text>
<line x1="456.4" y1="381.4" x2="503.5" y2="381.4" stroke="#666" stroke-width="0.9"/>
<text x="479.95" y="379.9" font-size="5" text-anchor="middle" fill="#3a3a3a" style="stroke:none">p&lt;0.001</text>
<line x1="484.9" y1="373.2" x2="503.5" y2="373.2" stroke="#666" stroke-width="0.9"/>
<text x="494.2" y="371.7" font-size="5" text-anchor="middle" fill="#3a3a3a" style="stroke:none">p&lt;0.001</text>
<text x="0" y="0" font-size="13" font-weight="bold" fill="#000" transform="translate(1.6 522.2) scale(0.9 1)">h</text>
<line x1="36.8" y1="552.5" x2="36.8" y2="572.2" stroke="#333333" stroke-width="0.8"/>
<line x1="36.8" y1="580.3" x2="36.8" y2="600.7" stroke="#333333" stroke-width="0.8"/>
<line x1="36.8" y1="608.8" x2="36.8" y2="646.6" stroke="#333333" stroke-width="0.8"/>
<line x1="32.4" y1="552.5" x2="36.8" y2="552.5" stroke="#333333" stroke-width="0.8"/>
<text x="0" y="0" font-size="8.8" text-anchor="end" transform="translate(31 555.4) scale(0.91 1)">60</text>
<line x1="32.4" y1="560.3" x2="36.8" y2="560.3" stroke="#333333" stroke-width="0.8"/>
<text x="0" y="0" font-size="8.8" text-anchor="end" transform="translate(31 563.2) scale(0.91 1)">40</text>
<line x1="32.4" y1="568.1" x2="36.8" y2="568.1" stroke="#333333" stroke-width="0.8"/>
<text x="0" y="0" font-size="8.8" text-anchor="end" transform="translate(31 571) scale(0.91 1)">20</text>
<line x1="32.4" y1="581" x2="36.8" y2="581" stroke="#333333" stroke-width="0.8"/>
<text x="0" y="0" font-size="8.8" text-anchor="end" transform="translate(31 583.9) scale(0.91 1)">12</text>
<line x1="32.4" y1="590.7" x2="36.8" y2="590.7" stroke="#333333" stroke-width="0.8"/>
<text x="0" y="0" font-size="8.8" text-anchor="end" transform="translate(31 593.6) scale(0.91 1)">9</text>
<line x1="32.4" y1="600.4" x2="36.8" y2="600.4" stroke="#333333" stroke-width="0.8"/>
<text x="0" y="0" font-size="8.8" text-anchor="end" transform="translate(31 603.3) scale(0.91 1)">6</text>
<line x1="32.4" y1="609" x2="36.8" y2="609" stroke="#333333" stroke-width="0.8"/>
<text x="0" y="0" font-size="8.8" text-anchor="end" transform="translate(31 611.9) scale(0.91 1)">6</text>
<line x1="32.4" y1="621.5" x2="36.8" y2="621.5" stroke="#333333" stroke-width="0.8"/>
<text x="0" y="0" font-size="8.8" text-anchor="end" transform="translate(31 624.4) scale(0.91 1)">4</text>
<line x1="32.4" y1="634.1" x2="36.8" y2="634.1" stroke="#333333" stroke-width="0.8"/>
<text x="0" y="0" font-size="8.8" text-anchor="end" transform="translate(31 637) scale(0.91 1)">2</text>
<line x1="32.4" y1="646.6" x2="36.8" y2="646.6" stroke="#333333" stroke-width="0.8"/>
<text x="0" y="0" font-size="8.8" text-anchor="end" transform="translate(31 649.5) scale(0.91 1)">0</text>
<line x1="34" y1="569.2" x2="40" y2="575.2" stroke="#333333" stroke-width="0.8" class="s"/>
<line x1="34" y1="577.3" x2="40" y2="583.3" stroke="#333333" stroke-width="0.8" class="s"/>
<line x1="34" y1="597.7" x2="40" y2="603.7" stroke="#333333" stroke-width="0.8" class="s"/>
<line x1="34" y1="605.8" x2="40" y2="611.8" stroke="#333333" stroke-width="0.8" class="s"/>
<text x="0" y="0" font-size="8.58" text-anchor="middle" transform="translate(17.8 594.3) rotate(-90) scale(0.91 1)">Expression relative to <tspan font-style="italic">Gapdh</tspan></text>
<rect x="40.3" y="640.52" width="7.2" height="6.08" fill="#ffffff"/>
<line x1="40.3" y1="640.12" x2="40.3" y2="646.6" stroke="#333333" stroke-width="0.8"/>
<line x1="47.5" y1="640.12" x2="47.5" y2="646.6" stroke="#333333" stroke-width="0.8"/>
<line x1="40.3" y1="640.52" x2="47.5" y2="640.52" stroke="#333333" stroke-width="0.8"/>
<rect x="51" y="639.2" width="7.2" height="7.4" fill="#8aabd8"/>
<line x1="51" y1="638.8" x2="51" y2="646.6" stroke="#333333" stroke-width="0.8"/>
<line x1="58.2" y1="638.8" x2="58.2" y2="646.6" stroke="#333333" stroke-width="0.8"/>
<line x1="51" y1="639.2" x2="58.2" y2="639.2" stroke="#333333" stroke-width="0.8"/>
<rect x="61.8" y="608.98" width="7.2" height="37.62" fill="#808080"/>
<line x1="61.8" y1="608.58" x2="61.8" y2="646.6" stroke="#333333" stroke-width="0.8"/>
<line x1="69" y1="608.58" x2="69" y2="646.6" stroke="#333333" stroke-width="0.8"/>
<line x1="61.8" y1="608.98" x2="69" y2="608.98" stroke="#333333" stroke-width="0.8"/>
<rect x="72.5" y="634.06" width="7.2" height="12.54" fill="#ff0000"/>
<line x1="72.5" y1="633.66" x2="72.5" y2="646.6" stroke="#333333" stroke-width="0.8"/>
<line x1="79.7" y1="633.66" x2="79.7" y2="646.6" stroke="#333333" stroke-width="0.8"/>
<line x1="72.5" y1="634.06" x2="79.7" y2="634.06" stroke="#333333" stroke-width="0.8"/>
<rect x="90.14" y="640.52" width="7.2" height="6.08" fill="#ffffff"/>
<line x1="90.14" y1="640.12" x2="90.14" y2="646.6" stroke="#333333" stroke-width="0.8"/>
<line x1="97.34" y1="640.12" x2="97.34" y2="646.6" stroke="#333333" stroke-width="0.8"/>
<line x1="90.14" y1="640.52" x2="97.34" y2="640.52" stroke="#333333" stroke-width="0.8"/>
<rect x="100.84" y="640.64" width="7.2" height="5.96" fill="#8aabd8"/>
<line x1="100.84" y1="640.24" x2="100.84" y2="646.6" stroke="#333333" stroke-width="0.8"/>
<line x1="108.04" y1="640.24" x2="108.04" y2="646.6" stroke="#333333" stroke-width="0.8"/>
<line x1="100.84" y1="640.64" x2="108.04" y2="640.64" stroke="#333333" stroke-width="0.8"/>
<rect x="111.64" y="622.46" width="7.2" height="24.14" fill="#808080"/>
<line x1="111.64" y1="622.06" x2="111.64" y2="646.6" stroke="#333333" stroke-width="0.8"/>
<line x1="118.84" y1="622.06" x2="118.84" y2="646.6" stroke="#333333" stroke-width="0.8"/>
<line x1="111.64" y1="622.46" x2="118.84" y2="622.46" stroke="#333333" stroke-width="0.8"/>
<rect x="122.34" y="640.2" width="7.2" height="6.4" fill="#ff0000"/>
<line x1="122.34" y1="639.8" x2="122.34" y2="646.6" stroke="#333333" stroke-width="0.8"/>
<line x1="129.54" y1="639.8" x2="129.54" y2="646.6" stroke="#333333" stroke-width="0.8"/>
<line x1="122.34" y1="640.2" x2="129.54" y2="640.2" stroke="#333333" stroke-width="0.8"/>
<rect x="139.98" y="640.08" width="7.2" height="6.52" fill="#ffffff"/>
<line x1="139.98" y1="639.68" x2="139.98" y2="646.6" stroke="#333333" stroke-width="0.8"/>
<line x1="147.18" y1="639.68" x2="147.18" y2="646.6" stroke="#333333" stroke-width="0.8"/>
<line x1="139.98" y1="640.08" x2="147.18" y2="640.08" stroke="#333333" stroke-width="0.8"/>
<rect x="150.68" y="638.83" width="7.2" height="7.77" fill="#8aabd8"/>
<line x1="150.68" y1="638.43" x2="150.68" y2="646.6" stroke="#333333" stroke-width="0.8"/>
<line x1="157.88" y1="638.43" x2="157.88" y2="646.6" stroke="#333333" stroke-width="0.8"/>
<line x1="150.68" y1="638.83" x2="157.88" y2="638.83" stroke="#333333" stroke-width="0.8"/>
<rect x="161.48" y="637.95" width="7.2" height="8.65" fill="#808080"/>
<line x1="161.48" y1="637.55" x2="161.48" y2="646.6" stroke="#333333" stroke-width="0.8"/>
<line x1="168.68" y1="637.55" x2="168.68" y2="646.6" stroke="#333333" stroke-width="0.8"/>
<line x1="161.48" y1="637.95" x2="168.68" y2="637.95" stroke="#333333" stroke-width="0.8"/>
<rect x="172.18" y="640.08" width="7.2" height="6.52" fill="#ff0000"/>
<line x1="172.18" y1="639.68" x2="172.18" y2="646.6" stroke="#333333" stroke-width="0.8"/>
<line x1="179.38" y1="639.68" x2="179.38" y2="646.6" stroke="#333333" stroke-width="0.8"/>
<line x1="172.18" y1="640.08" x2="179.38" y2="640.08" stroke="#333333" stroke-width="0.8"/>
<rect x="189.82" y="639.7" width="7.2" height="6.9" fill="#ffffff"/>
<line x1="189.82" y1="639.3" x2="189.82" y2="646.6" stroke="#333333" stroke-width="0.8"/>
<line x1="197.02" y1="639.3" x2="197.02" y2="646.6" stroke="#333333" stroke-width="0.8"/>
<line x1="189.82" y1="639.7" x2="197.02" y2="639.7" stroke="#333333" stroke-width="0.8"/>
<rect x="200.52" y="641.96" width="7.2" height="4.64" fill="#8aabd8"/>
<line x1="200.52" y1="641.56" x2="200.52" y2="646.6" stroke="#333333" stroke-width="0.8"/>
<line x1="207.72" y1="641.56" x2="207.72" y2="646.6" stroke="#333333" stroke-width="0.8"/>
<line x1="200.52" y1="641.96" x2="207.72" y2="641.96" stroke="#333333" stroke-width="0.8"/>
<rect x="211.32" y="631.43" width="7.2" height="15.17" fill="#808080"/>
<line x1="211.32" y1="631.03" x2="211.32" y2="646.6" stroke="#333333" stroke-width="0.8"/>
<line x1="218.52" y1="631.03" x2="218.52" y2="646.6" stroke="#333333" stroke-width="0.8"/>
<line x1="211.32" y1="631.43" x2="218.52" y2="631.43" stroke="#333333" stroke-width="0.8"/>
<rect x="222.02" y="641.71" width="7.2" height="4.89" fill="#ff0000"/>
<line x1="222.02" y1="641.31" x2="222.02" y2="646.6" stroke="#333333" stroke-width="0.8"/>
<line x1="229.22" y1="641.31" x2="229.22" y2="646.6" stroke="#333333" stroke-width="0.8"/>
<line x1="222.02" y1="641.71" x2="229.22" y2="641.71" stroke="#333333" stroke-width="0.8"/>
<rect x="239.66" y="640.52" width="7.2" height="6.08" fill="#ffffff"/>
<line x1="239.66" y1="640.12" x2="239.66" y2="646.6" stroke="#333333" stroke-width="0.8"/>
<line x1="246.86" y1="640.12" x2="246.86" y2="646.6" stroke="#333333" stroke-width="0.8"/>
<line x1="239.66" y1="640.52" x2="246.86" y2="640.52" stroke="#333333" stroke-width="0.8"/>
<rect x="250.36" y="641.77" width="7.2" height="4.83" fill="#8aabd8"/>
<line x1="250.36" y1="641.37" x2="250.36" y2="646.6" stroke="#333333" stroke-width="0.8"/>
<line x1="257.56" y1="641.37" x2="257.56" y2="646.6" stroke="#333333" stroke-width="0.8"/>
<line x1="250.36" y1="641.77" x2="257.56" y2="641.77" stroke="#333333" stroke-width="0.8"/>
<rect x="261.16" y="640.52" width="7.2" height="6.08" fill="#808080"/>
<line x1="261.16" y1="640.12" x2="261.16" y2="646.6" stroke="#333333" stroke-width="0.8"/>
<line x1="268.36" y1="640.12" x2="268.36" y2="646.6" stroke="#333333" stroke-width="0.8"/>
<line x1="261.16" y1="640.52" x2="268.36" y2="640.52" stroke="#333333" stroke-width="0.8"/>
<rect x="271.86" y="641.33" width="7.2" height="5.27" fill="#ff0000"/>
<line x1="271.86" y1="640.93" x2="271.86" y2="646.6" stroke="#333333" stroke-width="0.8"/>
<line x1="279.06" y1="640.93" x2="279.06" y2="646.6" stroke="#333333" stroke-width="0.8"/>
<line x1="271.86" y1="641.33" x2="279.06" y2="641.33" stroke="#333333" stroke-width="0.8"/>
<rect x="289.5" y="640.52" width="7.2" height="6.08" fill="#ffffff"/>
<line x1="289.5" y1="640.12" x2="289.5" y2="646.6" stroke="#333333" stroke-width="0.8"/>
<line x1="296.7" y1="640.12" x2="296.7" y2="646.6" stroke="#333333" stroke-width="0.8"/>
<line x1="289.5" y1="640.52" x2="296.7" y2="640.52" stroke="#333333" stroke-width="0.8"/>
<rect x="300.2" y="635" width="7.2" height="11.6" fill="#8aabd8"/>
<line x1="300.2" y1="634.6" x2="300.2" y2="646.6" stroke="#333333" stroke-width="0.8"/>
<line x1="307.4" y1="634.6" x2="307.4" y2="646.6" stroke="#333333" stroke-width="0.8"/>
<line x1="300.2" y1="635" x2="307.4" y2="635" stroke="#333333" stroke-width="0.8"/>
<rect x="311" y="609" width="7.2" height="37.6" fill="#808080"/>
<line x1="311" y1="609" x2="311" y2="646.6" stroke="#333333" stroke-width="0.8"/>
<line x1="318.2" y1="609" x2="318.2" y2="646.6" stroke="#333333" stroke-width="0.8"/>
<rect x="311" y="580.5" width="7.2" height="18.8" fill="#808080"/>
<line x1="311" y1="580.5" x2="311" y2="599.3" stroke="#333333" stroke-width="0.8"/>
<line x1="318.2" y1="580.5" x2="318.2" y2="599.3" stroke="#333333" stroke-width="0.8"/>
<rect x="311" y="563.8" width="7.2" height="8" fill="#808080"/>
<line x1="311" y1="563.4" x2="311" y2="571.8" stroke="#333333" stroke-width="0.8"/>
<line x1="318.2" y1="563.4" x2="318.2" y2="571.8" stroke="#333333" stroke-width="0.8"/>
<line x1="311" y1="563.8" x2="318.2" y2="563.8" stroke="#333333" stroke-width="0.8"/>
<rect x="321.7" y="619.83" width="7.2" height="26.77" fill="#ff0000"/>
<line x1="321.7" y1="619.43" x2="321.7" y2="646.6" stroke="#333333" stroke-width="0.8"/>
<line x1="328.9" y1="619.43" x2="328.9" y2="646.6" stroke="#333333" stroke-width="0.8"/>
<line x1="321.7" y1="619.83" x2="328.9" y2="619.83" stroke="#333333" stroke-width="0.8"/>
<line x1="43.9" y1="639.58" x2="43.9" y2="641.46" stroke="#111" stroke-width="0.75"/>
<line x1="42.1" y1="639.58" x2="45.7" y2="639.58" stroke="#111" stroke-width="0.75"/>
<line x1="42.1" y1="641.46" x2="45.7" y2="641.46" stroke="#111" stroke-width="0.75"/>
<circle cx="45.45" cy="635.94" r="1.3" fill="#000"/>
<circle cx="46.24" cy="639.08" r="1.3" fill="#000"/>
<circle cx="44.31" cy="640.96" r="1.3" fill="#000"/>
<circle cx="42.63" cy="642.21" r="1.3" fill="#000"/>
<circle cx="45.23" cy="643.47" r="1.3" fill="#000"/>
<line x1="54.6" y1="637.32" x2="54.6" y2="641.08" stroke="#111" stroke-width="0.75"/>
<line x1="52.8" y1="637.32" x2="56.4" y2="637.32" stroke="#111" stroke-width="0.75"/>
<line x1="52.8" y1="641.08" x2="56.4" y2="641.08" stroke="#111" stroke-width="0.75"/>
<circle cx="55.32" cy="630.93" r="1.3" fill="#000"/>
<circle cx="55.27" cy="638.45" r="1.3" fill="#000"/>
<circle cx="53.25" cy="639.7" r="1.3" fill="#000"/>
<circle cx="56.2" cy="640.96" r="1.3" fill="#000"/>
<circle cx="53.75" cy="642.21" r="1.3" fill="#000"/>
<circle cx="65.43" cy="622.77" r="1.3" fill="#000"/>
<circle cx="63.68" cy="624.65" r="1.3" fill="#000"/>
<circle cx="64.63" cy="625.91" r="1.3" fill="#000"/>
<line x1="76.1" y1="632.81" x2="76.1" y2="635.31" stroke="#111" stroke-width="0.75"/>
<line x1="74.3" y1="632.81" x2="77.9" y2="632.81" stroke="#111" stroke-width="0.75"/>
<line x1="74.3" y1="635.31" x2="77.9" y2="635.31" stroke="#111" stroke-width="0.75"/>
<circle cx="74.39" cy="631.55" r="1.3" fill="#000"/>
<circle cx="75.34" cy="632.81" r="1.3" fill="#000"/>
<circle cx="74.5" cy="634.69" r="1.3" fill="#000"/>
<circle cx="75.12" cy="637.2" r="1.3" fill="#000"/>
<line x1="93.74" y1="638.32" x2="93.74" y2="642.71" stroke="#111" stroke-width="0.75"/>
<line x1="91.94" y1="638.32" x2="95.54" y2="638.32" stroke="#111" stroke-width="0.75"/>
<line x1="91.94" y1="642.71" x2="95.54" y2="642.71" stroke="#111" stroke-width="0.75"/>
<circle cx="93.55" cy="631.55" r="1.3" fill="#000"/>
<circle cx="94.11" cy="640.33" r="1.3" fill="#000"/>
<circle cx="95.33" cy="641.58" r="1.3" fill="#000"/>
<circle cx="95.05" cy="642.84" r="1.3" fill="#000"/>
<circle cx="92.14" cy="644.72" r="1.3" fill="#000"/>
<line x1="104.44" y1="639.89" x2="104.44" y2="641.4" stroke="#111" stroke-width="0.75"/>
<line x1="102.64" y1="639.89" x2="106.24" y2="639.89" stroke="#111" stroke-width="0.75"/>
<line x1="102.64" y1="641.4" x2="106.24" y2="641.4" stroke="#111" stroke-width="0.75"/>
<circle cx="102.62" cy="638.45" r="1.3" fill="#000"/>
<circle cx="106.23" cy="639.7" r="1.3" fill="#000"/>
<circle cx="103.3" cy="640.33" r="1.3" fill="#000"/>
<circle cx="105.49" cy="641.58" r="1.3" fill="#000"/>
<circle cx="103.37" cy="642.84" r="1.3" fill="#000"/>
<line x1="115.24" y1="614.94" x2="115.24" y2="629.98" stroke="#111" stroke-width="0.75"/>
<line x1="113.44" y1="614.94" x2="117.04" y2="614.94" stroke="#111" stroke-width="0.75"/>
<line x1="113.44" y1="629.98" x2="117.04" y2="629.98" stroke="#111" stroke-width="0.75"/>
<circle cx="116.58" cy="615.25" r="1.3" fill="#000"/>
<circle cx="115.19" cy="624.65" r="1.3" fill="#000"/>
<circle cx="114.63" cy="630.93" r="1.3" fill="#000"/>
<circle cx="114.8" cy="640.33" r="1.3" fill="#000"/>
<line x1="125.94" y1="639.45" x2="125.94" y2="640.96" stroke="#111" stroke-width="0.75"/>
<line x1="124.14" y1="639.45" x2="127.74" y2="639.45" stroke="#111" stroke-width="0.75"/>
<line x1="124.14" y1="640.96" x2="127.74" y2="640.96" stroke="#111" stroke-width="0.75"/>
<circle cx="125.85" cy="636.57" r="1.3" fill="#000"/>
<circle cx="126.55" cy="639.08" r="1.3" fill="#000"/>
<circle cx="128.26" cy="640.96" r="1.3" fill="#000"/>
<circle cx="125.86" cy="641.58" r="1.3" fill="#000"/>
<line x1="143.58" y1="639.77" x2="143.58" y2="640.39" stroke="#111" stroke-width="0.75"/>
<line x1="141.78" y1="639.77" x2="145.38" y2="639.77" stroke="#111" stroke-width="0.75"/>
<line x1="141.78" y1="640.39" x2="145.38" y2="640.39" stroke="#111" stroke-width="0.75"/>
<circle cx="143.8" cy="639.7" r="1.3" fill="#000"/>
<circle cx="144.43" cy="640.02" r="1.3" fill="#000"/>
<circle cx="143.55" cy="640.33" r="1.3" fill="#000"/>
<line x1="154.28" y1="638.45" x2="154.28" y2="639.2" stroke="#111" stroke-width="0.75"/>
<line x1="152.48" y1="638.45" x2="156.08" y2="638.45" stroke="#111" stroke-width="0.75"/>
<line x1="152.48" y1="639.2" x2="156.08" y2="639.2" stroke="#111" stroke-width="0.75"/>
<circle cx="155.34" cy="637.82" r="1.3" fill="#000"/>
<circle cx="156.44" cy="638.45" r="1.3" fill="#000"/>
<circle cx="152.77" cy="639.08" r="1.3" fill="#000"/>
<line x1="165.08" y1="637.45" x2="165.08" y2="638.45" stroke="#111" stroke-width="0.75"/>
<line x1="163.28" y1="637.45" x2="166.88" y2="637.45" stroke="#111" stroke-width="0.75"/>
<line x1="163.28" y1="638.45" x2="166.88" y2="638.45" stroke="#111" stroke-width="0.75"/>
<circle cx="166.04" cy="636.57" r="1.3" fill="#000"/>
<circle cx="165.35" cy="637.2" r="1.3" fill="#000"/>
<circle cx="166.45" cy="637.82" r="1.3" fill="#000"/>
<line x1="175.78" y1="639.7" x2="175.78" y2="640.46" stroke="#111" stroke-width="0.75"/>
<line x1="173.98" y1="639.7" x2="177.58" y2="639.7" stroke="#111" stroke-width="0.75"/>
<line x1="173.98" y1="640.46" x2="177.58" y2="640.46" stroke="#111" stroke-width="0.75"/>
<circle cx="173.74" cy="639.08" r="1.3" fill="#000"/>
<circle cx="173.81" cy="639.7" r="1.3" fill="#000"/>
<circle cx="174.45" cy="640.33" r="1.3" fill="#000"/>
<line x1="193.42" y1="638.45" x2="193.42" y2="640.96" stroke="#111" stroke-width="0.75"/>
<line x1="191.62" y1="638.45" x2="195.22" y2="638.45" stroke="#111" stroke-width="0.75"/>
<line x1="191.62" y1="640.96" x2="195.22" y2="640.96" stroke="#111" stroke-width="0.75"/>
<circle cx="190.92" cy="636.57" r="1.3" fill="#000"/>
<circle cx="193.1" cy="637.82" r="1.3" fill="#000"/>
<circle cx="192.54" cy="640.33" r="1.3" fill="#000"/>
<circle cx="192.96" cy="641.58" r="1.3" fill="#000"/>
<circle cx="195.64" cy="644.09" r="1.3" fill="#000"/>
<line x1="204.12" y1="641.02" x2="204.12" y2="642.9" stroke="#111" stroke-width="0.75"/>
<line x1="202.32" y1="641.02" x2="205.92" y2="641.02" stroke="#111" stroke-width="0.75"/>
<line x1="202.32" y1="642.9" x2="205.92" y2="642.9" stroke="#111" stroke-width="0.75"/>
<circle cx="201.61" cy="639.08" r="1.3" fill="#000"/>
<circle cx="202.21" cy="640.33" r="1.3" fill="#000"/>
<circle cx="204.73" cy="642.21" r="1.3" fill="#000"/>
<circle cx="204.98" cy="643.47" r="1.3" fill="#000"/>
<line x1="214.92" y1="628.92" x2="214.92" y2="633.93" stroke="#111" stroke-width="0.75"/>
<line x1="213.12" y1="628.92" x2="216.72" y2="628.92" stroke="#111" stroke-width="0.75"/>
<line x1="213.12" y1="633.93" x2="216.72" y2="633.93" stroke="#111" stroke-width="0.75"/>
<circle cx="214.18" cy="622.15" r="1.3" fill="#000"/>
<circle cx="215.61" cy="625.91" r="1.3" fill="#000"/>
<circle cx="213.4" cy="630.93" r="1.3" fill="#000"/>
<circle cx="214.47" cy="635.31" r="1.3" fill="#000"/>
<circle cx="215.68" cy="639.08" r="1.3" fill="#000"/>
<line x1="225.62" y1="641.08" x2="225.62" y2="642.34" stroke="#111" stroke-width="0.75"/>
<line x1="223.82" y1="641.08" x2="227.42" y2="641.08" stroke="#111" stroke-width="0.75"/>
<line x1="223.82" y1="642.34" x2="227.42" y2="642.34" stroke="#111" stroke-width="0.75"/>
<circle cx="223.88" cy="638.45" r="1.3" fill="#000"/>
<circle cx="227.99" cy="640.96" r="1.3" fill="#000"/>
<circle cx="227.79" cy="642.84" r="1.3" fill="#000"/>
<line x1="243.26" y1="639.26" x2="243.26" y2="641.77" stroke="#111" stroke-width="0.75"/>
<line x1="241.46" y1="639.26" x2="245.06" y2="639.26" stroke="#111" stroke-width="0.75"/>
<line x1="241.46" y1="641.77" x2="245.06" y2="641.77" stroke="#111" stroke-width="0.75"/>
<circle cx="244.9" cy="635.31" r="1.3" fill="#000"/>
<circle cx="245.08" cy="638.45" r="1.3" fill="#000"/>
<circle cx="243.47" cy="640.96" r="1.3" fill="#000"/>
<circle cx="244.66" cy="642.84" r="1.3" fill="#000"/>
<circle cx="245.43" cy="644.72" r="1.3" fill="#000"/>
<line x1="253.96" y1="640.83" x2="253.96" y2="642.71" stroke="#111" stroke-width="0.75"/>
<line x1="252.16" y1="640.83" x2="255.76" y2="640.83" stroke="#111" stroke-width="0.75"/>
<line x1="252.16" y1="642.71" x2="255.76" y2="642.71" stroke="#111" stroke-width="0.75"/>
<circle cx="255.58" cy="637.2" r="1.3" fill="#000"/>
<circle cx="256.35" cy="640.96" r="1.3" fill="#000"/>
<circle cx="256.49" cy="642.84" r="1.3" fill="#000"/>
<circle cx="253.45" cy="644.09" r="1.3" fill="#000"/>
<line x1="264.76" y1="637.7" x2="264.76" y2="643.34" stroke="#111" stroke-width="0.75"/>
<line x1="262.96" y1="637.7" x2="266.56" y2="637.7" stroke="#111" stroke-width="0.75"/>
<line x1="262.96" y1="643.34" x2="266.56" y2="643.34" stroke="#111" stroke-width="0.75"/>
<circle cx="267.04" cy="630.93" r="1.3" fill="#000"/>
<circle cx="266.45" cy="641.58" r="1.3" fill="#000"/>
<circle cx="264.87" cy="643.47" r="1.3" fill="#000"/>
<circle cx="263.49" cy="644.72" r="1.3" fill="#000"/>
<line x1="275.46" y1="640.39" x2="275.46" y2="642.27" stroke="#111" stroke-width="0.75"/>
<line x1="273.66" y1="640.39" x2="277.26" y2="640.39" stroke="#111" stroke-width="0.75"/>
<line x1="273.66" y1="642.27" x2="277.26" y2="642.27" stroke="#111" stroke-width="0.75"/>
<circle cx="276" cy="636.57" r="1.3" fill="#000"/>
<circle cx="273.01" cy="638.45" r="1.3" fill="#000"/>
<circle cx="274.58" cy="641.58" r="1.3" fill="#000"/>
<circle cx="273.53" cy="644.09" r="1.3" fill="#000"/>
<line x1="293.1" y1="639.26" x2="293.1" y2="641.77" stroke="#111" stroke-width="0.75"/>
<line x1="291.3" y1="639.26" x2="294.9" y2="639.26" stroke="#111" stroke-width="0.75"/>
<line x1="291.3" y1="641.77" x2="294.9" y2="641.77" stroke="#111" stroke-width="0.75"/>
<circle cx="295.61" cy="637.2" r="1.3" fill="#000"/>
<circle cx="290.81" cy="639.08" r="1.3" fill="#000"/>
<circle cx="294.99" cy="640.96" r="1.3" fill="#000"/>
<circle cx="292.59" cy="642.84" r="1.3" fill="#000"/>
<line x1="303.8" y1="632.18" x2="303.8" y2="637.82" stroke="#111" stroke-width="0.75"/>
<line x1="302" y1="632.18" x2="305.6" y2="632.18" stroke="#111" stroke-width="0.75"/>
<line x1="302" y1="637.82" x2="305.6" y2="637.82" stroke="#111" stroke-width="0.75"/>
<circle cx="301.72" cy="622.77" r="1.3" fill="#000"/>
<circle cx="305.66" cy="634.06" r="1.3" fill="#000"/>
<circle cx="302.51" cy="637.2" r="1.3" fill="#000"/>
<circle cx="305.34" cy="644.09" r="1.3" fill="#000"/>
<circle cx="312.4" cy="640.33" r="1.3" fill="#000"/>
<line x1="325.3" y1="612.3" x2="325.3" y2="627.35" stroke="#111" stroke-width="0.75"/>
<line x1="323.5" y1="612.3" x2="327.1" y2="612.3" stroke="#111" stroke-width="0.75"/>
<line x1="323.5" y1="627.35" x2="327.1" y2="627.35" stroke="#111" stroke-width="0.75"/>
<circle cx="327.78" cy="617.13" r="1.3" fill="#000"/>
<circle cx="326.24" cy="637.2" r="1.3" fill="#000"/>
<circle cx="324.19" cy="642.21" r="1.3" fill="#000"/>
<line x1="65.4" y1="594.4" x2="65.4" y2="600.4" stroke="#111" stroke-width="0.75"/>
<line x1="63.6" y1="594.4" x2="67.2" y2="594.4" stroke="#111" stroke-width="0.75"/>
<line x1="65.4" y1="609.2" x2="65.4" y2="619.5" stroke="#111" stroke-width="0.75"/>
<circle cx="65.4" cy="583.5" r="1.2" fill="#000"/>
<circle cx="65.4" cy="590" r="1.2" fill="#000"/>
<circle cx="114.74" cy="595.8" r="1.2" fill="#000"/>
<circle cx="114.74" cy="599.8" r="1.2" fill="#000"/>
<circle cx="313.1" cy="555.5" r="1.2" fill="#000"/>
<circle cx="314.6" cy="557.5" r="1.2" fill="#000"/>
<circle cx="315.6" cy="559.6" r="1.2" fill="#000"/>
<circle cx="314.6" cy="592.4" r="1.2" fill="#000"/>
<circle cx="314.6" cy="640" r="1.2" fill="#000"/>
<line x1="314.6" y1="562" x2="314.6" y2="571.5" stroke="#111" stroke-width="0.75"/>
<line x1="312.8" y1="562" x2="316.4" y2="562" stroke="#111" stroke-width="0.75"/>
<line x1="312.8" y1="571.5" x2="316.4" y2="571.5" stroke="#111" stroke-width="0.75"/>
<circle cx="325.3" cy="582.4" r="1.2" fill="#000"/>
<line x1="324.1" y1="599.3" x2="326.5" y2="599.3" stroke="#111" stroke-width="0.75"/>
<line x1="325.3" y1="609.5" x2="325.3" y2="621" stroke="#111" stroke-width="0.75"/>
<line x1="36.4" y1="646.6" x2="330" y2="646.6" stroke="#333333" stroke-width="0.8"/>
<line x1="59.9" y1="646.6" x2="59.9" y2="651.2" stroke="#333333" stroke-width="0.8"/>
<line x1="109.74" y1="646.6" x2="109.74" y2="651.2" stroke="#333333" stroke-width="0.8"/>
<line x1="159.58" y1="646.6" x2="159.58" y2="651.2" stroke="#333333" stroke-width="0.8"/>
<line x1="209.42" y1="646.6" x2="209.42" y2="651.2" stroke="#333333" stroke-width="0.8"/>
<line x1="259.26" y1="646.6" x2="259.26" y2="651.2" stroke="#333333" stroke-width="0.8"/>
<line x1="309.1" y1="646.6" x2="309.1" y2="651.2" stroke="#333333" stroke-width="0.8"/>
<text x="0" y="0" font-size="9.02" text-anchor="middle" font-style="italic" transform="translate(59.9 661) scale(0.91 1)">p16</text>
<text x="0" y="0" font-size="9.02" text-anchor="middle" font-style="italic" transform="translate(109.74 661) scale(0.91 1)">p21</text>
<text x="0" y="0" font-size="9.02" text-anchor="middle" font-style="italic" transform="translate(159.58 661) scale(0.91 1)">p53</text>
<text x="0" y="0" font-size="9.02" text-anchor="middle" font-style="italic" transform="translate(209.42 661) scale(0.91 1)">Il1b</text>
<text x="0" y="0" font-size="9.02" text-anchor="middle" font-style="italic" transform="translate(259.26 661) scale(0.91 1)">Il6</text>
<text x="0" y="0" font-size="9.02" text-anchor="middle" font-style="italic" transform="translate(309.1 661) scale(0.91 1)">Tnfa</text>
<line x1="44.1" y1="543.9" x2="65.2" y2="543.9" stroke="#666" stroke-width="0.9"/>
<text x="54.65" y="542.4" font-size="5" text-anchor="middle" fill="#3a3a3a" style="stroke:none">p=0.005</text>
<line x1="67.4" y1="551.4" x2="77.4" y2="551.4" stroke="#666" stroke-width="0.9"/>
<text x="72.4" y="549.9" font-size="5" text-anchor="middle" fill="#3a3a3a" style="stroke:none">p=0.031</text>
<line x1="94.6" y1="543.9" x2="115.3" y2="543.9" stroke="#666" stroke-width="0.9"/>
<text x="104.95" y="542.4" font-size="5" text-anchor="middle" fill="#3a3a3a" style="stroke:none">p=0.026</text>
<line x1="115.8" y1="551.4" x2="126.6" y2="551.4" stroke="#666" stroke-width="0.9"/>
<text x="121.2" y="549.9" font-size="5" text-anchor="middle" fill="#3a3a3a" style="stroke:none">p=0.028</text>
<line x1="155.7" y1="536.5" x2="175.7" y2="536.5" stroke="#666" stroke-width="0.9"/>
<text x="165.7" y="535" font-size="5" text-anchor="middle" fill="#3a3a3a" style="stroke:none">p=0.033</text>
<line x1="144.7" y1="543.9" x2="164.8" y2="543.9" stroke="#666" stroke-width="0.9"/>
<text x="154.75" y="542.4" font-size="5" text-anchor="middle" fill="#3a3a3a" style="stroke:none">p&lt;0.001</text>
<line x1="144.7" y1="551.4" x2="154.3" y2="551.4" stroke="#666" stroke-width="0.9"/>
<text x="149.5" y="549.9" font-size="5" text-anchor="middle" fill="#3a3a3a" style="stroke:none">p=0.033</text>
<line x1="165.7" y1="551.4" x2="175.7" y2="551.4" stroke="#666" stroke-width="0.9"/>
<text x="170.7" y="549.9" font-size="5" text-anchor="middle" fill="#3a3a3a" style="stroke:none">p&lt;0.001</text>
<line x1="194.1" y1="543.9" x2="214.8" y2="543.9" stroke="#666" stroke-width="0.9"/>
<text x="204.45" y="542.4" font-size="5" text-anchor="middle" fill="#3a3a3a" style="stroke:none">p=0.032</text>
<line x1="214.6" y1="550.9" x2="225.2" y2="550.9" stroke="#666" stroke-width="0.9"/>
<text x="219.9" y="549.4" font-size="5" text-anchor="middle" fill="#3a3a3a" style="stroke:none">p=0.010</text>
<line x1="293.4" y1="543.5" x2="314.3" y2="543.5" stroke="#666" stroke-width="0.9"/>
<text x="303.85" y="542" font-size="5" text-anchor="middle" fill="#3a3a3a" style="stroke:none">p=0.006</text>
<line x1="314.8" y1="550.9" x2="325.3" y2="550.9" stroke="#666" stroke-width="0.9"/>
<text x="320.05" y="549.4" font-size="5" text-anchor="middle" fill="#3a3a3a" style="stroke:none">p=0.015</text>
<text x="0" y="0" font-size="13" font-weight="bold" fill="#000" transform="translate(519.2 346.6) scale(0.9 1)">i</text>
<line x1="551.5" y1="382.8" x2="551.5" y2="477.2" stroke="#333333" stroke-width="0.8"/>
<line x1="547.1" y1="477.2" x2="551.5" y2="477.2" stroke="#333333" stroke-width="0.8"/>
<text x="0" y="0" font-size="8.8" text-anchor="end" transform="translate(545.7 480.08) scale(0.91 1)">0</text>
<line x1="547.1" y1="453.6" x2="551.5" y2="453.6" stroke="#333333" stroke-width="0.8"/>
<text x="0" y="0" font-size="8.8" text-anchor="end" transform="translate(545.7 456.48) scale(0.91 1)">10</text>
<line x1="547.1" y1="430" x2="551.5" y2="430" stroke="#333333" stroke-width="0.8"/>
<text x="0" y="0" font-size="8.8" text-anchor="end" transform="translate(545.7 432.88) scale(0.91 1)">20</text>
<line x1="547.1" y1="406.4" x2="551.5" y2="406.4" stroke="#333333" stroke-width="0.8"/>
<text x="0" y="0" font-size="8.8" text-anchor="end" transform="translate(545.7 409.28) scale(0.91 1)">30</text>
<line x1="547.1" y1="382.8" x2="551.5" y2="382.8" stroke="#333333" stroke-width="0.8"/>
<text x="0" y="0" font-size="8.8" text-anchor="end" transform="translate(545.7 385.68) scale(0.91 1)">40</text>
<line x1="551.1" y1="477.2" x2="670.1" y2="477.2" stroke="#333333" stroke-width="0.8"/>
<line x1="551.5" y1="477.2" x2="551.5" y2="480.4" stroke="#333333" stroke-width="0.8"/>
<text x="0" y="0" font-size="8.58" text-anchor="middle" transform="translate(551.5 490.5) scale(0.91 1)">0.0</text>
<line x1="581.15" y1="477.2" x2="581.15" y2="480.4" stroke="#333333" stroke-width="0.8"/>
<text x="0" y="0" font-size="8.58" text-anchor="middle" transform="translate(581.15 490.5) scale(0.91 1)">0.5</text>
<line x1="610.8" y1="477.2" x2="610.8" y2="480.4" stroke="#333333" stroke-width="0.8"/>
<text x="0" y="0" font-size="8.58" text-anchor="middle" transform="translate(610.8 490.5) scale(0.91 1)">1.0</text>
<line x1="640.45" y1="477.2" x2="640.45" y2="480.4" stroke="#333333" stroke-width="0.8"/>
<text x="0" y="0" font-size="8.58" text-anchor="middle" transform="translate(640.45 490.5) scale(0.91 1)">1.5</text>
<line x1="670.1" y1="477.2" x2="670.1" y2="480.4" stroke="#333333" stroke-width="0.8"/>
<text x="0" y="0" font-size="8.58" text-anchor="middle" transform="translate(670.1 490.5) scale(0.91 1)">2.0</text>
<text x="0" y="0" font-size="8.58" text-anchor="middle" transform="translate(610.8 505.3) scale(0.91 1)">Time (h)</text>
<text x="0" y="0" font-size="9.24" text-anchor="middle" transform="translate(531.7 431.8) rotate(-90) scale(0.91 1)">Blood glucose (mmol/L)</text>
<polyline points="551.5,465.4 581.15,407.58 610.8,428.11 640.45,441.09 670.1,447.23" fill="none" stroke="#111111" stroke-width="1"/>
<circle cx="551.5" cy="465.4" r="1.5" fill="#111111"/>
<line x1="581.15" y1="411.12" x2="581.15" y2="404.04" stroke="#111111" stroke-width="0.8"/>
<line x1="579.55" y1="404.04" x2="582.75" y2="404.04" stroke="#111111" stroke-width="0.8"/>
<line x1="579.55" y1="411.12" x2="582.75" y2="411.12" stroke="#111111" stroke-width="0.8"/>
<circle cx="581.15" cy="407.58" r="1.5" fill="#111111"/>
<line x1="610.8" y1="434.25" x2="610.8" y2="421.98" stroke="#111111" stroke-width="0.8"/>
<line x1="609.2" y1="421.98" x2="612.4" y2="421.98" stroke="#111111" stroke-width="0.8"/>
<line x1="609.2" y1="434.25" x2="612.4" y2="434.25" stroke="#111111" stroke-width="0.8"/>
<circle cx="610.8" cy="428.11" r="1.5" fill="#111111"/>
<line x1="640.45" y1="446.99" x2="640.45" y2="435.19" stroke="#111111" stroke-width="0.8"/>
<line x1="638.85" y1="435.19" x2="642.05" y2="435.19" stroke="#111111" stroke-width="0.8"/>
<line x1="638.85" y1="446.99" x2="642.05" y2="446.99" stroke="#111111" stroke-width="0.8"/>
<circle cx="640.45" cy="441.09" r="1.5" fill="#111111"/>
<line x1="670.1" y1="452.89" x2="670.1" y2="441.56" stroke="#111111" stroke-width="0.8"/>
<line x1="668.5" y1="441.56" x2="671.7" y2="441.56" stroke="#111111" stroke-width="0.8"/>
<line x1="668.5" y1="452.89" x2="671.7" y2="452.89" stroke="#111111" stroke-width="0.8"/>
<circle cx="670.1" cy="447.23" r="1.5" fill="#111111"/>
<polyline points="551.5,465.87 581.15,400.03 610.8,406.64 640.45,428.58 670.1,439.68" fill="none" stroke="#1a1aff" stroke-width="1"/>
<circle cx="551.5" cy="465.87" r="1.5" fill="#1a1aff"/>
<line x1="581.15" y1="401.44" x2="581.15" y2="398.61" stroke="#1a1aff" stroke-width="0.8"/>
<line x1="579.55" y1="398.61" x2="582.75" y2="398.61" stroke="#1a1aff" stroke-width="0.8"/>
<line x1="579.55" y1="401.44" x2="582.75" y2="401.44" stroke="#1a1aff" stroke-width="0.8"/>
<circle cx="581.15" cy="400.03" r="1.5" fill="#1a1aff"/>
<line x1="610.8" y1="409.23" x2="610.8" y2="404.04" stroke="#1a1aff" stroke-width="0.8"/>
<line x1="609.2" y1="404.04" x2="612.4" y2="404.04" stroke="#1a1aff" stroke-width="0.8"/>
<line x1="609.2" y1="409.23" x2="612.4" y2="409.23" stroke="#1a1aff" stroke-width="0.8"/>
<circle cx="610.8" cy="406.64" r="1.5" fill="#1a1aff"/>
<line x1="640.45" y1="434.01" x2="640.45" y2="423.16" stroke="#1a1aff" stroke-width="0.8"/>
<line x1="638.85" y1="423.16" x2="642.05" y2="423.16" stroke="#1a1aff" stroke-width="0.8"/>
<line x1="638.85" y1="434.01" x2="642.05" y2="434.01" stroke="#1a1aff" stroke-width="0.8"/>
<circle cx="640.45" cy="428.58" r="1.5" fill="#1a1aff"/>
<line x1="670.1" y1="445.34" x2="670.1" y2="434.01" stroke="#1a1aff" stroke-width="0.8"/>
<line x1="668.5" y1="434.01" x2="671.7" y2="434.01" stroke="#1a1aff" stroke-width="0.8"/>
<line x1="668.5" y1="445.34" x2="671.7" y2="445.34" stroke="#1a1aff" stroke-width="0.8"/>
<circle cx="670.1" cy="439.68" r="1.5" fill="#1a1aff"/>
<line x1="558.4" y1="369.7" x2="570.8" y2="369.7" stroke="#111" stroke-width="1"/>
<circle cx="564.6" cy="369.7" r="1.5" fill="#111"/>
<text x="0" y="0" font-size="9.02" transform="translate(576.6 372.6) scale(0.91 1)">WT</text>
<line x1="598.1" y1="369.7" x2="610.6" y2="369.7" stroke="#1a1aff" stroke-width="1"/>
<circle cx="604.3" cy="369.7" r="1.5" fill="#1a1aff"/>
<text x="0" y="0" font-size="9.02" transform="translate(616.8 372.6) scale(0.91 1)">KO</text>
<text x="611.8" y="395.8" font-size="5" text-anchor="middle" fill="#3a3a3a" style="stroke:none">p=0.005</text>
<text x="0" y="0" font-size="13" font-weight="bold" fill="#000" transform="translate(355.4 522) scale(0.9 1)">j</text>
<line x1="386.4" y1="552" x2="386.4" y2="646.6" stroke="#333333" stroke-width="0.8"/>
<line x1="382" y1="646.6" x2="386.4" y2="646.6" stroke="#333333" stroke-width="0.8"/>
<text x="0" y="0" font-size="8.8" text-anchor="end" transform="translate(380.6 649.48) scale(0.91 1)">0</text>
<line x1="382" y1="615.1" x2="386.4" y2="615.1" stroke="#333333" stroke-width="0.8"/>
<text x="0" y="0" font-size="8.8" text-anchor="end" transform="translate(380.6 617.98) scale(0.91 1)">1</text>
<line x1="382" y1="583.6" x2="386.4" y2="583.6" stroke="#333333" stroke-width="0.8"/>
<text x="0" y="0" font-size="8.8" text-anchor="end" transform="translate(380.6 586.48) scale(0.91 1)">2</text>
<line x1="382" y1="552.1" x2="386.4" y2="552.1" stroke="#333333" stroke-width="0.8"/>
<text x="0" y="0" font-size="8.8" text-anchor="end" transform="translate(380.6 554.98) scale(0.91 1)">3</text>
<rect x="390.15" y="615.1" width="7.4" height="31.5" fill="#ffffff"/>
<line x1="390.15" y1="614.7" x2="390.15" y2="646.6" stroke="#333333" stroke-width="0.8"/>
<line x1="397.55" y1="614.7" x2="397.55" y2="646.6" stroke="#333333" stroke-width="0.8"/>
<line x1="390.15" y1="615.1" x2="397.55" y2="615.1" stroke="#333333" stroke-width="0.8"/>
<rect x="400.9" y="616.05" width="7.4" height="30.55" fill="#8aabd8"/>
<line x1="400.9" y1="615.65" x2="400.9" y2="646.6" stroke="#333333" stroke-width="0.8"/>
<line x1="408.3" y1="615.65" x2="408.3" y2="646.6" stroke="#333333" stroke-width="0.8"/>
<line x1="400.9" y1="616.05" x2="408.3" y2="616.05" stroke="#333333" stroke-width="0.8"/>
<rect x="411.6" y="608.17" width="7.4" height="38.43" fill="#808080"/>
<line x1="411.6" y1="607.77" x2="411.6" y2="646.6" stroke="#333333" stroke-width="0.8"/>
<line x1="419" y1="607.77" x2="419" y2="646.6" stroke="#333333" stroke-width="0.8"/>
<line x1="411.6" y1="608.17" x2="419" y2="608.17" stroke="#333333" stroke-width="0.8"/>
<rect x="422.3" y="614.15" width="7.4" height="32.45" fill="#ff0000"/>
<line x1="422.3" y1="613.75" x2="422.3" y2="646.6" stroke="#333333" stroke-width="0.8"/>
<line x1="429.7" y1="613.75" x2="429.7" y2="646.6" stroke="#333333" stroke-width="0.8"/>
<line x1="422.3" y1="614.15" x2="429.7" y2="614.15" stroke="#333333" stroke-width="0.8"/>
<rect x="439.91" y="615.42" width="7.4" height="31.18" fill="#ffffff"/>
<line x1="439.91" y1="615.02" x2="439.91" y2="646.6" stroke="#333333" stroke-width="0.8"/>
<line x1="447.31" y1="615.02" x2="447.31" y2="646.6" stroke="#333333" stroke-width="0.8"/>
<line x1="439.91" y1="615.42" x2="447.31" y2="615.42" stroke="#333333" stroke-width="0.8"/>
<rect x="450.66" y="615.73" width="7.4" height="30.87" fill="#8aabd8"/>
<line x1="450.66" y1="615.33" x2="450.66" y2="646.6" stroke="#333333" stroke-width="0.8"/>
<line x1="458.06" y1="615.33" x2="458.06" y2="646.6" stroke="#333333" stroke-width="0.8"/>
<line x1="450.66" y1="615.73" x2="458.06" y2="615.73" stroke="#333333" stroke-width="0.8"/>
<rect x="461.36" y="638.1" width="7.4" height="8.5" fill="#808080"/>
<line x1="461.36" y1="637.7" x2="461.36" y2="646.6" stroke="#333333" stroke-width="0.8"/>
<line x1="468.76" y1="637.7" x2="468.76" y2="646.6" stroke="#333333" stroke-width="0.8"/>
<line x1="461.36" y1="638.1" x2="468.76" y2="638.1" stroke="#333333" stroke-width="0.8"/>
<rect x="472.06" y="619.2" width="7.4" height="27.4" fill="#ff0000"/>
<line x1="472.06" y1="618.8" x2="472.06" y2="646.6" stroke="#333333" stroke-width="0.8"/>
<line x1="479.46" y1="618.8" x2="479.46" y2="646.6" stroke="#333333" stroke-width="0.8"/>
<line x1="472.06" y1="619.2" x2="479.46" y2="619.2" stroke="#333333" stroke-width="0.8"/>
<rect x="489.67" y="615.1" width="7.4" height="31.5" fill="#ffffff"/>
<line x1="489.67" y1="614.7" x2="489.67" y2="646.6" stroke="#333333" stroke-width="0.8"/>
<line x1="497.07" y1="614.7" x2="497.07" y2="646.6" stroke="#333333" stroke-width="0.8"/>
<line x1="489.67" y1="615.1" x2="497.07" y2="615.1" stroke="#333333" stroke-width="0.8"/>
<rect x="500.42" y="610.38" width="7.4" height="36.23" fill="#8aabd8"/>
<line x1="500.42" y1="609.98" x2="500.42" y2="646.6" stroke="#333333" stroke-width="0.8"/>
<line x1="507.82" y1="609.98" x2="507.82" y2="646.6" stroke="#333333" stroke-width="0.8"/>
<line x1="500.42" y1="610.38" x2="507.82" y2="610.38" stroke="#333333" stroke-width="0.8"/>
<rect x="511.12" y="616.36" width="7.4" height="30.24" fill="#808080"/>
<line x1="511.12" y1="615.96" x2="511.12" y2="646.6" stroke="#333333" stroke-width="0.8"/>
<line x1="518.52" y1="615.96" x2="518.52" y2="646.6" stroke="#333333" stroke-width="0.8"/>
<line x1="511.12" y1="616.36" x2="518.52" y2="616.36" stroke="#333333" stroke-width="0.8"/>
<rect x="521.82" y="616.36" width="7.4" height="30.24" fill="#ff0000"/>
<line x1="521.82" y1="615.96" x2="521.82" y2="646.6" stroke="#333333" stroke-width="0.8"/>
<line x1="529.22" y1="615.96" x2="529.22" y2="646.6" stroke="#333333" stroke-width="0.8"/>
<line x1="521.82" y1="616.36" x2="529.22" y2="616.36" stroke="#333333" stroke-width="0.8"/>
<rect x="539.43" y="615.1" width="7.4" height="31.5" fill="#ffffff"/>
<line x1="539.43" y1="614.7" x2="539.43" y2="646.6" stroke="#333333" stroke-width="0.8"/>
<line x1="546.83" y1="614.7" x2="546.83" y2="646.6" stroke="#333333" stroke-width="0.8"/>
<line x1="539.43" y1="615.1" x2="546.83" y2="615.1" stroke="#333333" stroke-width="0.8"/>
<rect x="550.18" y="605.02" width="7.4" height="41.58" fill="#8aabd8"/>
<line x1="550.18" y1="604.62" x2="550.18" y2="646.6" stroke="#333333" stroke-width="0.8"/>
<line x1="557.58" y1="604.62" x2="557.58" y2="646.6" stroke="#333333" stroke-width="0.8"/>
<line x1="550.18" y1="605.02" x2="557.58" y2="605.02" stroke="#333333" stroke-width="0.8"/>
<rect x="560.88" y="599.98" width="7.4" height="46.62" fill="#808080"/>
<line x1="560.88" y1="599.58" x2="560.88" y2="646.6" stroke="#333333" stroke-width="0.8"/>
<line x1="568.28" y1="599.58" x2="568.28" y2="646.6" stroke="#333333" stroke-width="0.8"/>
<line x1="560.88" y1="599.98" x2="568.28" y2="599.98" stroke="#333333" stroke-width="0.8"/>
<rect x="571.58" y="597.77" width="7.4" height="48.83" fill="#ff0000"/>
<line x1="571.58" y1="597.38" x2="571.58" y2="646.6" stroke="#333333" stroke-width="0.8"/>
<line x1="578.98" y1="597.38" x2="578.98" y2="646.6" stroke="#333333" stroke-width="0.8"/>
<line x1="571.58" y1="597.77" x2="578.98" y2="597.77" stroke="#333333" stroke-width="0.8"/>
<rect x="589.19" y="615.1" width="7.4" height="31.5" fill="#ffffff"/>
<line x1="589.19" y1="614.7" x2="589.19" y2="646.6" stroke="#333333" stroke-width="0.8"/>
<line x1="596.59" y1="614.7" x2="596.59" y2="646.6" stroke="#333333" stroke-width="0.8"/>
<line x1="589.19" y1="615.1" x2="596.59" y2="615.1" stroke="#333333" stroke-width="0.8"/>
<rect x="599.94" y="606.28" width="7.4" height="40.32" fill="#8aabd8"/>
<line x1="599.94" y1="605.88" x2="599.94" y2="646.6" stroke="#333333" stroke-width="0.8"/>
<line x1="607.34" y1="605.88" x2="607.34" y2="646.6" stroke="#333333" stroke-width="0.8"/>
<line x1="599.94" y1="606.28" x2="607.34" y2="606.28" stroke="#333333" stroke-width="0.8"/>
<rect x="610.64" y="611.95" width="7.4" height="34.65" fill="#808080"/>
<line x1="610.64" y1="611.55" x2="610.64" y2="646.6" stroke="#333333" stroke-width="0.8"/>
<line x1="618.04" y1="611.55" x2="618.04" y2="646.6" stroke="#333333" stroke-width="0.8"/>
<line x1="610.64" y1="611.95" x2="618.04" y2="611.95" stroke="#333333" stroke-width="0.8"/>
<rect x="621.34" y="611" width="7.4" height="35.6" fill="#ff0000"/>
<line x1="621.34" y1="610.61" x2="621.34" y2="646.6" stroke="#333333" stroke-width="0.8"/>
<line x1="628.74" y1="610.61" x2="628.74" y2="646.6" stroke="#333333" stroke-width="0.8"/>
<line x1="621.34" y1="611" x2="628.74" y2="611" stroke="#333333" stroke-width="0.8"/>
<rect x="638.95" y="615.1" width="7.4" height="31.5" fill="#ffffff"/>
<line x1="638.95" y1="614.7" x2="638.95" y2="646.6" stroke="#333333" stroke-width="0.8"/>
<line x1="646.35" y1="614.7" x2="646.35" y2="646.6" stroke="#333333" stroke-width="0.8"/>
<line x1="638.95" y1="615.1" x2="646.35" y2="615.1" stroke="#333333" stroke-width="0.8"/>
<rect x="649.7" y="622.03" width="7.4" height="24.57" fill="#8aabd8"/>
<line x1="649.7" y1="621.63" x2="649.7" y2="646.6" stroke="#333333" stroke-width="0.8"/>
<line x1="657.1" y1="621.63" x2="657.1" y2="646.6" stroke="#333333" stroke-width="0.8"/>
<line x1="649.7" y1="622.03" x2="657.1" y2="622.03" stroke="#333333" stroke-width="0.8"/>
<rect x="660.4" y="615.1" width="7.4" height="31.5" fill="#808080"/>
<line x1="660.4" y1="614.7" x2="660.4" y2="646.6" stroke="#333333" stroke-width="0.8"/>
<line x1="667.8" y1="614.7" x2="667.8" y2="646.6" stroke="#333333" stroke-width="0.8"/>
<line x1="660.4" y1="615.1" x2="667.8" y2="615.1" stroke="#333333" stroke-width="0.8"/>
<rect x="671.1" y="617.31" width="7.4" height="29.29" fill="#ff0000"/>
<line x1="671.1" y1="616.91" x2="671.1" y2="646.6" stroke="#333333" stroke-width="0.8"/>
<line x1="678.5" y1="616.91" x2="678.5" y2="646.6" stroke="#333333" stroke-width="0.8"/>
<line x1="671.1" y1="617.31" x2="678.5" y2="617.31" stroke="#333333" stroke-width="0.8"/>
<line x1="393.85" y1="604.08" x2="393.85" y2="626.12" stroke="#111" stroke-width="0.75"/>
<line x1="391.95" y1="604.08" x2="395.75" y2="604.08" stroke="#111" stroke-width="0.75"/>
<line x1="391.95" y1="626.12" x2="395.75" y2="626.12" stroke="#111" stroke-width="0.75"/>
<circle cx="396.23" cy="580.45" r="1.35" fill="#000"/>
<circle cx="393.01" cy="603.13" r="1.35" fill="#000"/>
<circle cx="393.52" cy="628.64" r="1.35" fill="#000"/>
<circle cx="396.32" cy="629.27" r="1.35" fill="#000"/>
<circle cx="396.17" cy="630.22" r="1.35" fill="#000"/>
<line x1="404.6" y1="601.87" x2="404.6" y2="630.22" stroke="#111" stroke-width="0.75"/>
<line x1="402.7" y1="601.87" x2="406.5" y2="601.87" stroke="#111" stroke-width="0.75"/>
<line x1="402.7" y1="630.22" x2="406.5" y2="630.22" stroke="#111" stroke-width="0.75"/>
<circle cx="402.94" cy="562.18" r="1.35" fill="#000"/>
<circle cx="404.96" cy="628.64" r="1.35" fill="#000"/>
<circle cx="405.87" cy="629.27" r="1.35" fill="#000"/>
<circle cx="402.49" cy="638.73" r="1.35" fill="#000"/>
<line x1="415.3" y1="600.61" x2="415.3" y2="615.73" stroke="#111" stroke-width="0.75"/>
<line x1="413.4" y1="600.61" x2="417.2" y2="600.61" stroke="#111" stroke-width="0.75"/>
<line x1="413.4" y1="615.73" x2="417.2" y2="615.73" stroke="#111" stroke-width="0.75"/>
<circle cx="414.77" cy="585.49" r="1.35" fill="#000"/>
<circle cx="414.41" cy="602.5" r="1.35" fill="#000"/>
<circle cx="416.57" cy="611.95" r="1.35" fill="#000"/>
<circle cx="415.1" cy="619.83" r="1.35" fill="#000"/>
<circle cx="415.85" cy="628.33" r="1.35" fill="#000"/>
<line x1="426" y1="605.02" x2="426" y2="623.29" stroke="#111" stroke-width="0.75"/>
<line x1="424.1" y1="605.02" x2="427.9" y2="605.02" stroke="#111" stroke-width="0.75"/>
<line x1="424.1" y1="623.29" x2="427.9" y2="623.29" stroke="#111" stroke-width="0.75"/>
<circle cx="424.19" cy="580.45" r="1.35" fill="#000"/>
<circle cx="426.37" cy="615.1" r="1.35" fill="#000"/>
<circle cx="425.71" cy="616.68" r="1.35" fill="#000"/>
<circle cx="426.42" cy="627.07" r="1.35" fill="#000"/>
<circle cx="426.11" cy="634.95" r="1.35" fill="#000"/>
<line x1="443.61" y1="611.32" x2="443.61" y2="619.51" stroke="#111" stroke-width="0.75"/>
<line x1="441.71" y1="611.32" x2="445.51" y2="611.32" stroke="#111" stroke-width="0.75"/>
<line x1="441.71" y1="619.51" x2="445.51" y2="619.51" stroke="#111" stroke-width="0.75"/>
<circle cx="441.26" cy="604.08" r="1.35" fill="#000"/>
<circle cx="445.83" cy="608.8" r="1.35" fill="#000"/>
<circle cx="445.07" cy="611.95" r="1.35" fill="#000"/>
<circle cx="442.89" cy="615.1" r="1.35" fill="#000"/>
<circle cx="444.62" cy="634" r="1.35" fill="#000"/>
<line x1="454.36" y1="608.17" x2="454.36" y2="623.29" stroke="#111" stroke-width="0.75"/>
<line x1="452.46" y1="608.17" x2="456.26" y2="608.17" stroke="#111" stroke-width="0.75"/>
<line x1="452.46" y1="623.29" x2="456.26" y2="623.29" stroke="#111" stroke-width="0.75"/>
<circle cx="452.59" cy="602.5" r="1.35" fill="#000"/>
<circle cx="454.76" cy="603.13" r="1.35" fill="#000"/>
<circle cx="454.01" cy="603.13" r="1.35" fill="#000"/>
<circle cx="454.33" cy="631.48" r="1.35" fill="#000"/>
<circle cx="451.98" cy="635.26" r="1.35" fill="#000"/>
<line x1="465.06" y1="636.21" x2="465.06" y2="639.99" stroke="#111" stroke-width="0.75"/>
<line x1="463.16" y1="636.21" x2="466.96" y2="636.21" stroke="#111" stroke-width="0.75"/>
<line x1="463.16" y1="639.99" x2="466.96" y2="639.99" stroke="#111" stroke-width="0.75"/>
<circle cx="466.33" cy="634" r="1.35" fill="#000"/>
<circle cx="462.66" cy="636.52" r="1.35" fill="#000"/>
<circle cx="465.96" cy="637.78" r="1.35" fill="#000"/>
<circle cx="465.92" cy="639.67" r="1.35" fill="#000"/>
<circle cx="463.08" cy="640.93" r="1.35" fill="#000"/>
<line x1="475.76" y1="612.58" x2="475.76" y2="625.81" stroke="#111" stroke-width="0.75"/>
<line x1="473.86" y1="612.58" x2="477.66" y2="612.58" stroke="#111" stroke-width="0.75"/>
<line x1="473.86" y1="625.81" x2="477.66" y2="625.81" stroke="#111" stroke-width="0.75"/>
<circle cx="476.83" cy="596.2" r="1.35" fill="#000"/>
<circle cx="478.34" cy="613.52" r="1.35" fill="#000"/>
<circle cx="473.66" cy="622.03" r="1.35" fill="#000"/>
<circle cx="474.75" cy="624.55" r="1.35" fill="#000"/>
<circle cx="477.92" cy="630.85" r="1.35" fill="#000"/>
<line x1="493.37" y1="608.17" x2="493.37" y2="622.03" stroke="#111" stroke-width="0.75"/>
<line x1="491.47" y1="608.17" x2="495.27" y2="608.17" stroke="#111" stroke-width="0.75"/>
<line x1="491.47" y1="622.03" x2="495.27" y2="622.03" stroke="#111" stroke-width="0.75"/>
<circle cx="491.38" cy="588.96" r="1.35" fill="#000"/>
<circle cx="495.45" cy="615.1" r="1.35" fill="#000"/>
<circle cx="494.48" cy="619.83" r="1.35" fill="#000"/>
<circle cx="493.29" cy="622.98" r="1.35" fill="#000"/>
<circle cx="495.64" cy="627.7" r="1.35" fill="#000"/>
<line x1="504.12" y1="604.71" x2="504.12" y2="616.05" stroke="#111" stroke-width="0.75"/>
<line x1="502.22" y1="604.71" x2="506.02" y2="604.71" stroke="#111" stroke-width="0.75"/>
<line x1="502.22" y1="616.05" x2="506.02" y2="616.05" stroke="#111" stroke-width="0.75"/>
<circle cx="504.82" cy="589.59" r="1.35" fill="#000"/>
<circle cx="503.09" cy="604.71" r="1.35" fill="#000"/>
<circle cx="502.36" cy="611.95" r="1.35" fill="#000"/>
<circle cx="504.92" cy="616.68" r="1.35" fill="#000"/>
<circle cx="502.68" cy="619.83" r="1.35" fill="#000"/>
<line x1="514.82" y1="606.6" x2="514.82" y2="626.12" stroke="#111" stroke-width="0.75"/>
<line x1="512.92" y1="606.6" x2="516.72" y2="606.6" stroke="#111" stroke-width="0.75"/>
<line x1="512.92" y1="626.12" x2="516.72" y2="626.12" stroke="#111" stroke-width="0.75"/>
<circle cx="514.52" cy="581.39" r="1.35" fill="#000"/>
<circle cx="513.78" cy="611.95" r="1.35" fill="#000"/>
<circle cx="517.47" cy="615.1" r="1.35" fill="#000"/>
<circle cx="514.06" cy="618.25" r="1.35" fill="#000"/>
<circle cx="513.17" cy="629.27" r="1.35" fill="#000"/>
<line x1="525.52" y1="608.8" x2="525.52" y2="623.92" stroke="#111" stroke-width="0.75"/>
<line x1="523.62" y1="608.8" x2="527.42" y2="608.8" stroke="#111" stroke-width="0.75"/>
<line x1="523.62" y1="623.92" x2="527.42" y2="623.92" stroke="#111" stroke-width="0.75"/>
<circle cx="525.76" cy="591.79" r="1.35" fill="#000"/>
<circle cx="528.04" cy="615.1" r="1.35" fill="#000"/>
<circle cx="526.22" cy="619.83" r="1.35" fill="#000"/>
<circle cx="527.97" cy="629.27" r="1.35" fill="#000"/>
<circle cx="524.65" cy="630.85" r="1.35" fill="#000"/>
<line x1="543.13" y1="609.43" x2="543.13" y2="620.77" stroke="#111" stroke-width="0.75"/>
<line x1="541.23" y1="609.43" x2="545.03" y2="609.43" stroke="#111" stroke-width="0.75"/>
<line x1="541.23" y1="620.77" x2="545.03" y2="620.77" stroke="#111" stroke-width="0.75"/>
<circle cx="544.89" cy="598.72" r="1.35" fill="#000"/>
<circle cx="541.65" cy="610.38" r="1.35" fill="#000"/>
<circle cx="544.61" cy="615.1" r="1.35" fill="#000"/>
<circle cx="543.69" cy="624.55" r="1.35" fill="#000"/>
<circle cx="545" cy="629.27" r="1.35" fill="#000"/>
<line x1="553.88" y1="596.83" x2="553.88" y2="613.21" stroke="#111" stroke-width="0.75"/>
<line x1="551.98" y1="596.83" x2="555.78" y2="596.83" stroke="#111" stroke-width="0.75"/>
<line x1="551.98" y1="613.21" x2="555.78" y2="613.21" stroke="#111" stroke-width="0.75"/>
<circle cx="552.68" cy="577.3" r="1.35" fill="#000"/>
<circle cx="555.44" cy="605.65" r="1.35" fill="#000"/>
<circle cx="555.38" cy="611.95" r="1.35" fill="#000"/>
<circle cx="553.65" cy="613.52" r="1.35" fill="#000"/>
<circle cx="553.7" cy="621.4" r="1.35" fill="#000"/>
<line x1="564.58" y1="591.48" x2="564.58" y2="608.49" stroke="#111" stroke-width="0.75"/>
<line x1="562.68" y1="591.48" x2="566.48" y2="591.48" stroke="#111" stroke-width="0.75"/>
<line x1="562.68" y1="608.49" x2="566.48" y2="608.49" stroke="#111" stroke-width="0.75"/>
<circle cx="563.25" cy="585.49" r="1.35" fill="#000"/>
<circle cx="565.13" cy="586.75" r="1.35" fill="#000"/>
<circle cx="562.93" cy="596.2" r="1.35" fill="#000"/>
<circle cx="565.03" cy="596.83" r="1.35" fill="#000"/>
<circle cx="564.93" cy="629.27" r="1.35" fill="#000"/>
<line x1="575.28" y1="588.33" x2="575.28" y2="607.23" stroke="#111" stroke-width="0.75"/>
<line x1="573.38" y1="588.33" x2="577.18" y2="588.33" stroke="#111" stroke-width="0.75"/>
<line x1="573.38" y1="607.23" x2="577.18" y2="607.23" stroke="#111" stroke-width="0.75"/>
<circle cx="573.83" cy="562.81" r="1.35" fill="#000"/>
<circle cx="572.99" cy="599.35" r="1.35" fill="#000"/>
<circle cx="576.12" cy="600.93" r="1.35" fill="#000"/>
<circle cx="573.36" cy="605.65" r="1.35" fill="#000"/>
<circle cx="574.14" cy="622.03" r="1.35" fill="#000"/>
<line x1="592.89" y1="610.06" x2="592.89" y2="620.14" stroke="#111" stroke-width="0.75"/>
<line x1="590.99" y1="610.06" x2="594.79" y2="610.06" stroke="#111" stroke-width="0.75"/>
<line x1="590.99" y1="620.14" x2="594.79" y2="620.14" stroke="#111" stroke-width="0.75"/>
<circle cx="590.33" cy="599.35" r="1.35" fill="#000"/>
<circle cx="592.61" cy="611.32" r="1.35" fill="#000"/>
<circle cx="594.6" cy="613.52" r="1.35" fill="#000"/>
<circle cx="591.15" cy="616.05" r="1.35" fill="#000"/>
<circle cx="593" cy="622.98" r="1.35" fill="#000"/>
<line x1="603.64" y1="596.51" x2="603.64" y2="616.05" stroke="#111" stroke-width="0.75"/>
<line x1="601.74" y1="596.51" x2="605.54" y2="596.51" stroke="#111" stroke-width="0.75"/>
<line x1="601.74" y1="616.05" x2="605.54" y2="616.05" stroke="#111" stroke-width="0.75"/>
<circle cx="604.68" cy="581.71" r="1.35" fill="#000"/>
<circle cx="603.39" cy="607.86" r="1.35" fill="#000"/>
<circle cx="602.38" cy="610.38" r="1.35" fill="#000"/>
<circle cx="605.36" cy="611.32" r="1.35" fill="#000"/>
<circle cx="604.41" cy="612.58" r="1.35" fill="#000"/>
<line x1="614.34" y1="605.02" x2="614.34" y2="618.88" stroke="#111" stroke-width="0.75"/>
<line x1="612.44" y1="605.02" x2="616.24" y2="605.02" stroke="#111" stroke-width="0.75"/>
<line x1="612.44" y1="618.88" x2="616.24" y2="618.88" stroke="#111" stroke-width="0.75"/>
<circle cx="614.12" cy="589.9" r="1.35" fill="#000"/>
<circle cx="616.45" cy="601.87" r="1.35" fill="#000"/>
<circle cx="614.02" cy="608.17" r="1.35" fill="#000"/>
<circle cx="613.34" cy="613.52" r="1.35" fill="#000"/>
<circle cx="612.58" cy="637.15" r="1.35" fill="#000"/>
<line x1="625.04" y1="601.24" x2="625.04" y2="620.77" stroke="#111" stroke-width="0.75"/>
<line x1="623.14" y1="601.24" x2="626.94" y2="601.24" stroke="#111" stroke-width="0.75"/>
<line x1="623.14" y1="620.77" x2="626.94" y2="620.77" stroke="#111" stroke-width="0.75"/>
<circle cx="625.09" cy="588.64" r="1.35" fill="#000"/>
<circle cx="622.38" cy="595.57" r="1.35" fill="#000"/>
<circle cx="623.14" cy="611.95" r="1.35" fill="#000"/>
<circle cx="625.82" cy="626.12" r="1.35" fill="#000"/>
<circle cx="627.36" cy="628.33" r="1.35" fill="#000"/>
<line x1="642.65" y1="608.17" x2="642.65" y2="622.03" stroke="#111" stroke-width="0.75"/>
<line x1="640.75" y1="608.17" x2="644.55" y2="608.17" stroke="#111" stroke-width="0.75"/>
<line x1="640.75" y1="622.03" x2="644.55" y2="622.03" stroke="#111" stroke-width="0.75"/>
<circle cx="641.16" cy="593.05" r="1.35" fill="#000"/>
<circle cx="642.69" cy="604.08" r="1.35" fill="#000"/>
<circle cx="643.23" cy="604.08" r="1.35" fill="#000"/>
<circle cx="644.2" cy="624.55" r="1.35" fill="#000"/>
<circle cx="640.41" cy="635.89" r="1.35" fill="#000"/>
<line x1="653.4" y1="617.31" x2="653.4" y2="626.75" stroke="#111" stroke-width="0.75"/>
<line x1="651.5" y1="617.31" x2="655.3" y2="617.31" stroke="#111" stroke-width="0.75"/>
<line x1="651.5" y1="626.75" x2="655.3" y2="626.75" stroke="#111" stroke-width="0.75"/>
<circle cx="652.4" cy="607.23" r="1.35" fill="#000"/>
<circle cx="654.07" cy="610.38" r="1.35" fill="#000"/>
<circle cx="652.63" cy="616.05" r="1.35" fill="#000"/>
<circle cx="655.4" cy="626.12" r="1.35" fill="#000"/>
<circle cx="652.82" cy="640.93" r="1.35" fill="#000"/>
<line x1="664.1" y1="605.65" x2="664.1" y2="624.55" stroke="#111" stroke-width="0.75"/>
<line x1="662.2" y1="605.65" x2="666" y2="605.65" stroke="#111" stroke-width="0.75"/>
<line x1="662.2" y1="624.55" x2="666" y2="624.55" stroke="#111" stroke-width="0.75"/>
<circle cx="663" cy="585.49" r="1.35" fill="#000"/>
<circle cx="666.7" cy="593.05" r="1.35" fill="#000"/>
<circle cx="664.08" cy="605.65" r="1.35" fill="#000"/>
<circle cx="663.08" cy="615.73" r="1.35" fill="#000"/>
<circle cx="666.77" cy="637.15" r="1.35" fill="#000"/>
<line x1="674.8" y1="613.84" x2="674.8" y2="620.77" stroke="#111" stroke-width="0.75"/>
<line x1="672.9" y1="613.84" x2="676.7" y2="613.84" stroke="#111" stroke-width="0.75"/>
<line x1="672.9" y1="620.77" x2="676.7" y2="620.77" stroke="#111" stroke-width="0.75"/>
<circle cx="672.34" cy="600.93" r="1.35" fill="#000"/>
<circle cx="673.02" cy="605.65" r="1.35" fill="#000"/>
<circle cx="672.44" cy="615.1" r="1.35" fill="#000"/>
<circle cx="674.13" cy="619.83" r="1.35" fill="#000"/>
<circle cx="672.35" cy="624.55" r="1.35" fill="#000"/>
<line x1="386" y1="646.6" x2="682.7" y2="646.6" stroke="#333333" stroke-width="0.8"/>
<line x1="409.7" y1="646.6" x2="409.7" y2="651.2" stroke="#333333" stroke-width="0.8"/>
<line x1="459.46" y1="646.6" x2="459.46" y2="651.2" stroke="#333333" stroke-width="0.8"/>
<line x1="509.22" y1="646.6" x2="509.22" y2="651.2" stroke="#333333" stroke-width="0.8"/>
<line x1="558.98" y1="646.6" x2="558.98" y2="651.2" stroke="#333333" stroke-width="0.8"/>
<line x1="608.74" y1="646.6" x2="608.74" y2="651.2" stroke="#333333" stroke-width="0.8"/>
<line x1="658.5" y1="646.6" x2="658.5" y2="651.2" stroke="#333333" stroke-width="0.8"/>
<text x="0" y="0" font-size="9.02" text-anchor="middle" font-style="italic" transform="translate(409.7 661) scale(0.91 1)">Pepck</text>
<text x="0" y="0" font-size="9.02" text-anchor="middle" font-style="italic" transform="translate(459.46 661) scale(0.91 1)">G6P</text>
<text x="0" y="0" font-size="9.02" text-anchor="middle" font-style="italic" transform="translate(509.22 661) scale(0.91 1)">Pdk4</text>
<text x="0" y="0" font-size="9.02" text-anchor="middle" font-style="italic" transform="translate(558.98 661) scale(0.91 1)">Glut2</text>
<text x="0" y="0" font-size="9.02" text-anchor="middle" font-style="italic" transform="translate(608.74 661) scale(0.91 1)">Irs1</text>
<text x="0" y="0" font-size="9.02" text-anchor="middle" font-style="italic" transform="translate(658.5 661) scale(0.91 1)">Pten</text>
<text x="0" y="0" font-size="8.58" text-anchor="middle" transform="translate(368.8 596.1) rotate(-90) scale(0.91 1)">Expression relative to <tspan font-style="italic">Gapdh</tspan></text>
<polyline points="393.1,547.7 393.1,542.1 476.1,542.1 476.1,547.7" fill="none" stroke="#333333" stroke-width="0.8"/>
<text x="0" y="0" font-size="8.69" text-anchor="middle" transform="translate(433.3 538.3) scale(0.91 1)">Gluconeogenesis</text>
<polyline points="492.2,547.7 492.2,542.1 527.2,542.1 527.2,547.7" fill="none" stroke="#333333" stroke-width="0.8"/>
<text x="0" y="0" font-size="8.69" text-anchor="middle" transform="translate(509.7 538.3) scale(0.91 1)">Glycolysis</text>
<polyline points="541.3,547.7 541.3,542.1 576.8,542.1 576.8,547.7" fill="none" stroke="#333333" stroke-width="0.8"/>
<text x="0" y="0" font-size="8.69" text-anchor="middle" transform="translate(558.9 529.4) scale(0.91 1)">Glucose</text>
<text x="0" y="0" font-size="8.69" text-anchor="middle" transform="translate(558.9 538.6) scale(0.91 1)">uptake</text>
<polyline points="593.4,547.7 593.4,542.1 676,542.1 676,547.7" fill="none" stroke="#333333" stroke-width="0.8"/>
<text x="0" y="0" font-size="8.58" text-anchor="middle" transform="translate(632.9 538.3) scale(0.91 1)">Insulin signal</text>
<line x1="444" y1="554.1" x2="464.7" y2="554.1" stroke="#666" stroke-width="0.9"/>
<text x="454.35" y="552.6" font-size="5" text-anchor="middle" fill="#3a3a3a" style="stroke:none">p=0.013</text>
<line x1="465.2" y1="560.7" x2="475.7" y2="560.7" stroke="#666" stroke-width="0.9"/>
<text x="470.45" y="559.2" font-size="5" text-anchor="middle" fill="#3a3a3a" style="stroke:none">p=0.003</text>
<text x="0" y="0" font-size="13" font-weight="bold" fill="#000" transform="translate(-0.2 677) scale(0.9 1)">k</text>
<line x1="37.3" y1="712.3" x2="37.3" y2="807.3" stroke="#333333" stroke-width="0.8"/>
<line x1="32.9" y1="807.3" x2="37.3" y2="807.3" stroke="#333333" stroke-width="0.8"/>
<text x="0" y="0" font-size="8.8" text-anchor="end" transform="translate(31.5 810.18) scale(0.91 1)">0</text>
<line x1="32.9" y1="783.55" x2="37.3" y2="783.55" stroke="#333333" stroke-width="0.8"/>
<text x="0" y="0" font-size="8.8" text-anchor="end" transform="translate(31.5 786.43) scale(0.91 1)">2</text>
<line x1="32.9" y1="759.8" x2="37.3" y2="759.8" stroke="#333333" stroke-width="0.8"/>
<text x="0" y="0" font-size="8.8" text-anchor="end" transform="translate(31.5 762.68) scale(0.91 1)">4</text>
<line x1="32.9" y1="736.05" x2="37.3" y2="736.05" stroke="#333333" stroke-width="0.8"/>
<text x="0" y="0" font-size="8.8" text-anchor="end" transform="translate(31.5 738.93) scale(0.91 1)">6</text>
<line x1="32.9" y1="712.3" x2="37.3" y2="712.3" stroke="#333333" stroke-width="0.8"/>
<text x="0" y="0" font-size="8.8" text-anchor="end" transform="translate(31.5 715.18) scale(0.91 1)">8</text>
<rect x="41.2" y="795.19" width="7.4" height="12.11" fill="#ffffff"/>
<line x1="41.2" y1="794.79" x2="41.2" y2="807.3" stroke="#333333" stroke-width="0.8"/>
<line x1="48.6" y1="794.79" x2="48.6" y2="807.3" stroke="#333333" stroke-width="0.8"/>
<line x1="41.2" y1="795.19" x2="48.6" y2="795.19" stroke="#333333" stroke-width="0.8"/>
<rect x="51.9" y="787.59" width="7.4" height="19.71" fill="#8aabd8"/>
<line x1="51.9" y1="787.19" x2="51.9" y2="807.3" stroke="#333333" stroke-width="0.8"/>
<line x1="59.3" y1="787.19" x2="59.3" y2="807.3" stroke="#333333" stroke-width="0.8"/>
<line x1="51.9" y1="787.59" x2="59.3" y2="787.59" stroke="#333333" stroke-width="0.8"/>
<rect x="62.6" y="783.79" width="7.4" height="23.51" fill="#808080"/>
<line x1="62.6" y1="783.39" x2="62.6" y2="807.3" stroke="#333333" stroke-width="0.8"/>
<line x1="70" y1="783.39" x2="70" y2="807.3" stroke="#333333" stroke-width="0.8"/>
<line x1="62.6" y1="783.79" x2="70" y2="783.79" stroke="#333333" stroke-width="0.8"/>
<rect x="73.3" y="798.04" width="7.4" height="9.26" fill="#ff0000"/>
<line x1="73.3" y1="797.64" x2="73.3" y2="807.3" stroke="#333333" stroke-width="0.8"/>
<line x1="80.7" y1="797.64" x2="80.7" y2="807.3" stroke="#333333" stroke-width="0.8"/>
<line x1="73.3" y1="798.04" x2="80.7" y2="798.04" stroke="#333333" stroke-width="0.8"/>
<rect x="91.12" y="795.07" width="7.4" height="12.23" fill="#ffffff"/>
<line x1="91.12" y1="794.67" x2="91.12" y2="807.3" stroke="#333333" stroke-width="0.8"/>
<line x1="98.52" y1="794.67" x2="98.52" y2="807.3" stroke="#333333" stroke-width="0.8"/>
<line x1="91.12" y1="795.07" x2="98.52" y2="795.07" stroke="#333333" stroke-width="0.8"/>
<rect x="101.82" y="791.15" width="7.4" height="16.15" fill="#8aabd8"/>
<line x1="101.82" y1="790.75" x2="101.82" y2="807.3" stroke="#333333" stroke-width="0.8"/>
<line x1="109.22" y1="790.75" x2="109.22" y2="807.3" stroke="#333333" stroke-width="0.8"/>
<line x1="101.82" y1="791.15" x2="109.22" y2="791.15" stroke="#333333" stroke-width="0.8"/>
<rect x="112.52" y="790.32" width="7.4" height="16.98" fill="#808080"/>
<line x1="112.52" y1="789.92" x2="112.52" y2="807.3" stroke="#333333" stroke-width="0.8"/>
<line x1="119.92" y1="789.92" x2="119.92" y2="807.3" stroke="#333333" stroke-width="0.8"/>
<line x1="112.52" y1="790.32" x2="119.92" y2="790.32" stroke="#333333" stroke-width="0.8"/>
<rect x="123.22" y="792.93" width="7.4" height="14.37" fill="#ff0000"/>
<line x1="123.22" y1="792.53" x2="123.22" y2="807.3" stroke="#333333" stroke-width="0.8"/>
<line x1="130.62" y1="792.53" x2="130.62" y2="807.3" stroke="#333333" stroke-width="0.8"/>
<line x1="123.22" y1="792.93" x2="130.62" y2="792.93" stroke="#333333" stroke-width="0.8"/>
<rect x="141.04" y="795.07" width="7.4" height="12.23" fill="#ffffff"/>
<line x1="141.04" y1="794.67" x2="141.04" y2="807.3" stroke="#333333" stroke-width="0.8"/>
<line x1="148.44" y1="794.67" x2="148.44" y2="807.3" stroke="#333333" stroke-width="0.8"/>
<line x1="141.04" y1="795.07" x2="148.44" y2="795.07" stroke="#333333" stroke-width="0.8"/>
<rect x="151.74" y="791.15" width="7.4" height="16.15" fill="#8aabd8"/>
<line x1="151.74" y1="790.75" x2="151.74" y2="807.3" stroke="#333333" stroke-width="0.8"/>
<line x1="159.14" y1="790.75" x2="159.14" y2="807.3" stroke="#333333" stroke-width="0.8"/>
<line x1="151.74" y1="791.15" x2="159.14" y2="791.15" stroke="#333333" stroke-width="0.8"/>
<rect x="162.44" y="793.17" width="7.4" height="14.13" fill="#808080"/>
<line x1="162.44" y1="792.77" x2="162.44" y2="807.3" stroke="#333333" stroke-width="0.8"/>
<line x1="169.84" y1="792.77" x2="169.84" y2="807.3" stroke="#333333" stroke-width="0.8"/>
<line x1="162.44" y1="793.17" x2="169.84" y2="793.17" stroke="#333333" stroke-width="0.8"/>
<rect x="173.14" y="792.34" width="7.4" height="14.96" fill="#ff0000"/>
<line x1="173.14" y1="791.94" x2="173.14" y2="807.3" stroke="#333333" stroke-width="0.8"/>
<line x1="180.54" y1="791.94" x2="180.54" y2="807.3" stroke="#333333" stroke-width="0.8"/>
<line x1="173.14" y1="792.34" x2="180.54" y2="792.34" stroke="#333333" stroke-width="0.8"/>
<rect x="190.96" y="795.07" width="7.4" height="12.23" fill="#ffffff"/>
<line x1="190.96" y1="794.67" x2="190.96" y2="807.3" stroke="#333333" stroke-width="0.8"/>
<line x1="198.36" y1="794.67" x2="198.36" y2="807.3" stroke="#333333" stroke-width="0.8"/>
<line x1="190.96" y1="795.07" x2="198.36" y2="795.07" stroke="#333333" stroke-width="0.8"/>
<rect x="201.66" y="789.01" width="7.4" height="18.29" fill="#8aabd8"/>
<line x1="201.66" y1="788.61" x2="201.66" y2="807.3" stroke="#333333" stroke-width="0.8"/>
<line x1="209.06" y1="788.61" x2="209.06" y2="807.3" stroke="#333333" stroke-width="0.8"/>
<line x1="201.66" y1="789.01" x2="209.06" y2="789.01" stroke="#333333" stroke-width="0.8"/>
<rect x="212.36" y="748.16" width="7.4" height="59.14" fill="#808080"/>
<line x1="212.36" y1="747.76" x2="212.36" y2="807.3" stroke="#333333" stroke-width="0.8"/>
<line x1="219.76" y1="747.76" x2="219.76" y2="807.3" stroke="#333333" stroke-width="0.8"/>
<line x1="212.36" y1="748.16" x2="219.76" y2="748.16" stroke="#333333" stroke-width="0.8"/>
<rect x="223.06" y="784.97" width="7.4" height="22.33" fill="#ff0000"/>
<line x1="223.06" y1="784.57" x2="223.06" y2="807.3" stroke="#333333" stroke-width="0.8"/>
<line x1="230.46" y1="784.57" x2="230.46" y2="807.3" stroke="#333333" stroke-width="0.8"/>
<line x1="223.06" y1="784.97" x2="230.46" y2="784.97" stroke="#333333" stroke-width="0.8"/>
<rect x="240.88" y="795.42" width="7.4" height="11.88" fill="#ffffff"/>
<line x1="240.88" y1="795.02" x2="240.88" y2="807.3" stroke="#333333" stroke-width="0.8"/>
<line x1="248.28" y1="795.02" x2="248.28" y2="807.3" stroke="#333333" stroke-width="0.8"/>
<line x1="240.88" y1="795.42" x2="248.28" y2="795.42" stroke="#333333" stroke-width="0.8"/>
<rect x="251.58" y="793.29" width="7.4" height="14.01" fill="#8aabd8"/>
<line x1="251.58" y1="792.89" x2="251.58" y2="807.3" stroke="#333333" stroke-width="0.8"/>
<line x1="258.98" y1="792.89" x2="258.98" y2="807.3" stroke="#333333" stroke-width="0.8"/>
<line x1="251.58" y1="793.29" x2="258.98" y2="793.29" stroke="#333333" stroke-width="0.8"/>
<rect x="262.28" y="769.18" width="7.4" height="38.12" fill="#808080"/>
<line x1="262.28" y1="768.78" x2="262.28" y2="807.3" stroke="#333333" stroke-width="0.8"/>
<line x1="269.68" y1="768.78" x2="269.68" y2="807.3" stroke="#333333" stroke-width="0.8"/>
<line x1="262.28" y1="769.18" x2="269.68" y2="769.18" stroke="#333333" stroke-width="0.8"/>
<rect x="272.98" y="791.15" width="7.4" height="16.15" fill="#ff0000"/>
<line x1="272.98" y1="790.75" x2="272.98" y2="807.3" stroke="#333333" stroke-width="0.8"/>
<line x1="280.38" y1="790.75" x2="280.38" y2="807.3" stroke="#333333" stroke-width="0.8"/>
<line x1="272.98" y1="791.15" x2="280.38" y2="791.15" stroke="#333333" stroke-width="0.8"/>
<rect x="290.8" y="795.42" width="7.4" height="11.88" fill="#ffffff"/>
<line x1="290.8" y1="795.02" x2="290.8" y2="807.3" stroke="#333333" stroke-width="0.8"/>
<line x1="298.2" y1="795.02" x2="298.2" y2="807.3" stroke="#333333" stroke-width="0.8"/>
<line x1="290.8" y1="795.42" x2="298.2" y2="795.42" stroke="#333333" stroke-width="0.8"/>
<rect x="301.5" y="796.26" width="7.4" height="11.04" fill="#8aabd8"/>
<line x1="301.5" y1="795.86" x2="301.5" y2="807.3" stroke="#333333" stroke-width="0.8"/>
<line x1="308.9" y1="795.86" x2="308.9" y2="807.3" stroke="#333333" stroke-width="0.8"/>
<line x1="301.5" y1="796.26" x2="308.9" y2="796.26" stroke="#333333" stroke-width="0.8"/>
<rect x="312.2" y="785.57" width="7.4" height="21.73" fill="#808080"/>
<line x1="312.2" y1="785.17" x2="312.2" y2="807.3" stroke="#333333" stroke-width="0.8"/>
<line x1="319.6" y1="785.17" x2="319.6" y2="807.3" stroke="#333333" stroke-width="0.8"/>
<line x1="312.2" y1="785.57" x2="319.6" y2="785.57" stroke="#333333" stroke-width="0.8"/>
<rect x="322.9" y="797.21" width="7.4" height="10.09" fill="#ff0000"/>
<line x1="322.9" y1="796.81" x2="322.9" y2="807.3" stroke="#333333" stroke-width="0.8"/>
<line x1="330.3" y1="796.81" x2="330.3" y2="807.3" stroke="#333333" stroke-width="0.8"/>
<line x1="322.9" y1="797.21" x2="330.3" y2="797.21" stroke="#333333" stroke-width="0.8"/>
<line x1="44.9" y1="793.41" x2="44.9" y2="796.97" stroke="#111" stroke-width="0.75"/>
<line x1="43" y1="793.41" x2="46.8" y2="793.41" stroke="#111" stroke-width="0.75"/>
<line x1="43" y1="796.97" x2="46.8" y2="796.97" stroke="#111" stroke-width="0.75"/>
<circle cx="43.1" cy="789.49" r="1.35" fill="#000"/>
<circle cx="43.24" cy="793.05" r="1.35" fill="#000"/>
<circle cx="45.98" cy="795.42" r="1.35" fill="#000"/>
<circle cx="46.71" cy="797.8" r="1.35" fill="#000"/>
<circle cx="45.52" cy="798.99" r="1.35" fill="#000"/>
<line x1="55.6" y1="784.26" x2="55.6" y2="790.91" stroke="#111" stroke-width="0.75"/>
<line x1="53.7" y1="784.26" x2="57.5" y2="784.26" stroke="#111" stroke-width="0.75"/>
<line x1="53.7" y1="790.91" x2="57.5" y2="790.91" stroke="#111" stroke-width="0.75"/>
<circle cx="56.93" cy="779.99" r="1.35" fill="#000"/>
<circle cx="55.6" cy="781.17" r="1.35" fill="#000"/>
<circle cx="53.5" cy="787.11" r="1.35" fill="#000"/>
<circle cx="55.87" cy="790.67" r="1.35" fill="#000"/>
<circle cx="54.21" cy="797.8" r="1.35" fill="#000"/>
<line x1="66.3" y1="779.27" x2="66.3" y2="788.3" stroke="#111" stroke-width="0.75"/>
<line x1="64.4" y1="779.27" x2="68.2" y2="779.27" stroke="#111" stroke-width="0.75"/>
<line x1="64.4" y1="788.3" x2="68.2" y2="788.3" stroke="#111" stroke-width="0.75"/>
<circle cx="67.73" cy="771.67" r="1.35" fill="#000"/>
<circle cx="67.88" cy="779.99" r="1.35" fill="#000"/>
<circle cx="64.34" cy="784.74" r="1.35" fill="#000"/>
<circle cx="68.42" cy="790.67" r="1.35" fill="#000"/>
<circle cx="68.1" cy="797.8" r="1.35" fill="#000"/>
<line x1="77" y1="796.85" x2="77" y2="799.22" stroke="#111" stroke-width="0.75"/>
<line x1="75.1" y1="796.85" x2="78.9" y2="796.85" stroke="#111" stroke-width="0.75"/>
<line x1="75.1" y1="799.22" x2="78.9" y2="799.22" stroke="#111" stroke-width="0.75"/>
<circle cx="74.57" cy="791.86" r="1.35" fill="#000"/>
<circle cx="75.14" cy="796.61" r="1.35" fill="#000"/>
<circle cx="79.55" cy="798.99" r="1.35" fill="#000"/>
<circle cx="75.65" cy="800.17" r="1.35" fill="#000"/>
<line x1="94.82" y1="793.88" x2="94.82" y2="796.26" stroke="#111" stroke-width="0.75"/>
<line x1="92.92" y1="793.88" x2="96.72" y2="793.88" stroke="#111" stroke-width="0.75"/>
<line x1="92.92" y1="796.26" x2="96.72" y2="796.26" stroke="#111" stroke-width="0.75"/>
<circle cx="96.66" cy="789.49" r="1.35" fill="#000"/>
<circle cx="94.13" cy="794.24" r="1.35" fill="#000"/>
<circle cx="96.12" cy="795.42" r="1.35" fill="#000"/>
<circle cx="93.77" cy="796.61" r="1.35" fill="#000"/>
<circle cx="94.19" cy="797.8" r="1.35" fill="#000"/>
<line x1="105.52" y1="790.2" x2="105.52" y2="792.1" stroke="#111" stroke-width="0.75"/>
<line x1="103.62" y1="790.2" x2="107.42" y2="790.2" stroke="#111" stroke-width="0.75"/>
<line x1="103.62" y1="792.1" x2="107.42" y2="792.1" stroke="#111" stroke-width="0.75"/>
<circle cx="107.03" cy="789.49" r="1.35" fill="#000"/>
<circle cx="102.86" cy="790.67" r="1.35" fill="#000"/>
<circle cx="104.48" cy="791.86" r="1.35" fill="#000"/>
<circle cx="105.15" cy="793.05" r="1.35" fill="#000"/>
<circle cx="104.44" cy="793.05" r="1.35" fill="#000"/>
<line x1="116.22" y1="787.94" x2="116.22" y2="792.69" stroke="#111" stroke-width="0.75"/>
<line x1="114.32" y1="787.94" x2="118.12" y2="787.94" stroke="#111" stroke-width="0.75"/>
<line x1="114.32" y1="792.69" x2="118.12" y2="792.69" stroke="#111" stroke-width="0.75"/>
<circle cx="116.89" cy="784.74" r="1.35" fill="#000"/>
<circle cx="118.3" cy="784.74" r="1.35" fill="#000"/>
<circle cx="114.95" cy="789.49" r="1.35" fill="#000"/>
<circle cx="117.12" cy="793.05" r="1.35" fill="#000"/>
<circle cx="116.23" cy="797.8" r="1.35" fill="#000"/>
<line x1="126.92" y1="790.08" x2="126.92" y2="795.78" stroke="#111" stroke-width="0.75"/>
<line x1="125.02" y1="790.08" x2="128.82" y2="790.08" stroke="#111" stroke-width="0.75"/>
<line x1="125.02" y1="795.78" x2="128.82" y2="795.78" stroke="#111" stroke-width="0.75"/>
<circle cx="124.32" cy="787.11" r="1.35" fill="#000"/>
<circle cx="127.64" cy="789.49" r="1.35" fill="#000"/>
<circle cx="126.03" cy="793.05" r="1.35" fill="#000"/>
<circle cx="128.26" cy="795.42" r="1.35" fill="#000"/>
<circle cx="126.72" cy="800.17" r="1.35" fill="#000"/>
<line x1="144.74" y1="793.88" x2="144.74" y2="796.26" stroke="#111" stroke-width="0.75"/>
<line x1="142.84" y1="793.88" x2="146.64" y2="793.88" stroke="#111" stroke-width="0.75"/>
<line x1="142.84" y1="796.26" x2="146.64" y2="796.26" stroke="#111" stroke-width="0.75"/>
<circle cx="142.71" cy="791.86" r="1.35" fill="#000"/>
<circle cx="146.6" cy="794.24" r="1.35" fill="#000"/>
<circle cx="146.53" cy="795.42" r="1.35" fill="#000"/>
<circle cx="145.52" cy="796.61" r="1.35" fill="#000"/>
<circle cx="143.61" cy="800.17" r="1.35" fill="#000"/>
<line x1="155.44" y1="790.56" x2="155.44" y2="791.74" stroke="#111" stroke-width="0.75"/>
<line x1="153.54" y1="790.56" x2="157.34" y2="790.56" stroke="#111" stroke-width="0.75"/>
<line x1="153.54" y1="791.74" x2="157.34" y2="791.74" stroke="#111" stroke-width="0.75"/>
<circle cx="155.62" cy="790.67" r="1.35" fill="#000"/>
<circle cx="154.19" cy="790.91" r="1.35" fill="#000"/>
<circle cx="154.08" cy="791.27" r="1.35" fill="#000"/>
<circle cx="153.67" cy="791.86" r="1.35" fill="#000"/>
<line x1="166.14" y1="791.03" x2="166.14" y2="795.31" stroke="#111" stroke-width="0.75"/>
<line x1="164.24" y1="791.03" x2="168.04" y2="791.03" stroke="#111" stroke-width="0.75"/>
<line x1="164.24" y1="795.31" x2="168.04" y2="795.31" stroke="#111" stroke-width="0.75"/>
<circle cx="165.5" cy="788.3" r="1.35" fill="#000"/>
<circle cx="166.44" cy="790.67" r="1.35" fill="#000"/>
<circle cx="167.17" cy="793.05" r="1.35" fill="#000"/>
<circle cx="165.81" cy="794.24" r="1.35" fill="#000"/>
<circle cx="166.31" cy="797.8" r="1.35" fill="#000"/>
<line x1="176.84" y1="791.15" x2="176.84" y2="793.52" stroke="#111" stroke-width="0.75"/>
<line x1="174.94" y1="791.15" x2="178.74" y2="791.15" stroke="#111" stroke-width="0.75"/>
<line x1="174.94" y1="793.52" x2="178.74" y2="793.52" stroke="#111" stroke-width="0.75"/>
<circle cx="177.46" cy="789.49" r="1.35" fill="#000"/>
<circle cx="176.26" cy="790.67" r="1.35" fill="#000"/>
<circle cx="176.43" cy="792.46" r="1.35" fill="#000"/>
<circle cx="175.36" cy="793.05" r="1.35" fill="#000"/>
<circle cx="178.59" cy="795.42" r="1.35" fill="#000"/>
<line x1="194.66" y1="791.51" x2="194.66" y2="798.63" stroke="#111" stroke-width="0.75"/>
<line x1="192.76" y1="791.51" x2="196.56" y2="791.51" stroke="#111" stroke-width="0.75"/>
<line x1="192.76" y1="798.63" x2="196.56" y2="798.63" stroke="#111" stroke-width="0.75"/>
<circle cx="193.53" cy="787.11" r="1.35" fill="#000"/>
<circle cx="194.66" cy="793.05" r="1.35" fill="#000"/>
<circle cx="192.42" cy="795.42" r="1.35" fill="#000"/>
<circle cx="194.26" cy="797.8" r="1.35" fill="#000"/>
<circle cx="192.27" cy="801.36" r="1.35" fill="#000"/>
<line x1="205.36" y1="785.45" x2="205.36" y2="792.57" stroke="#111" stroke-width="0.75"/>
<line x1="203.46" y1="785.45" x2="207.26" y2="785.45" stroke="#111" stroke-width="0.75"/>
<line x1="203.46" y1="792.57" x2="207.26" y2="792.57" stroke="#111" stroke-width="0.75"/>
<circle cx="204.77" cy="779.99" r="1.35" fill="#000"/>
<circle cx="204.19" cy="787.11" r="1.35" fill="#000"/>
<circle cx="205.25" cy="789.49" r="1.35" fill="#000"/>
<circle cx="204.84" cy="791.86" r="1.35" fill="#000"/>
<circle cx="203.01" cy="797.8" r="1.35" fill="#000"/>
<line x1="216.06" y1="738.07" x2="216.06" y2="758.26" stroke="#111" stroke-width="0.75"/>
<line x1="214.16" y1="738.07" x2="217.96" y2="738.07" stroke="#111" stroke-width="0.75"/>
<line x1="214.16" y1="758.26" x2="217.96" y2="758.26" stroke="#111" stroke-width="0.75"/>
<circle cx="217.54" cy="728.33" r="1.35" fill="#000"/>
<circle cx="213.74" cy="728.33" r="1.35" fill="#000"/>
<circle cx="215.09" cy="748.16" r="1.35" fill="#000"/>
<circle cx="215" cy="763.36" r="1.35" fill="#000"/>
<circle cx="217.67" cy="782.36" r="1.35" fill="#000"/>
<line x1="226.76" y1="780.22" x2="226.76" y2="789.72" stroke="#111" stroke-width="0.75"/>
<line x1="224.86" y1="780.22" x2="228.66" y2="780.22" stroke="#111" stroke-width="0.75"/>
<line x1="224.86" y1="789.72" x2="228.66" y2="789.72" stroke="#111" stroke-width="0.75"/>
<circle cx="226.83" cy="769.3" r="1.35" fill="#000"/>
<circle cx="224.87" cy="781.17" r="1.35" fill="#000"/>
<circle cx="228.29" cy="785.92" r="1.35" fill="#000"/>
<circle cx="224.55" cy="791.86" r="1.35" fill="#000"/>
<circle cx="227.34" cy="795.42" r="1.35" fill="#000"/>
<line x1="244.58" y1="794.83" x2="244.58" y2="796.02" stroke="#111" stroke-width="0.75"/>
<line x1="242.68" y1="794.83" x2="246.48" y2="794.83" stroke="#111" stroke-width="0.75"/>
<line x1="242.68" y1="796.02" x2="246.48" y2="796.02" stroke="#111" stroke-width="0.75"/>
<circle cx="242.76" cy="794.24" r="1.35" fill="#000"/>
<circle cx="245.89" cy="794.83" r="1.35" fill="#000"/>
<circle cx="243.23" cy="795.42" r="1.35" fill="#000"/>
<circle cx="246.65" cy="796.02" r="1.35" fill="#000"/>
<circle cx="246.81" cy="796.61" r="1.35" fill="#000"/>
<line x1="255.28" y1="792.57" x2="255.28" y2="794" stroke="#111" stroke-width="0.75"/>
<line x1="253.38" y1="792.57" x2="257.18" y2="792.57" stroke="#111" stroke-width="0.75"/>
<line x1="253.38" y1="794" x2="257.18" y2="794" stroke="#111" stroke-width="0.75"/>
<circle cx="253.87" cy="792.46" r="1.35" fill="#000"/>
<circle cx="253.41" cy="793.05" r="1.35" fill="#000"/>
<circle cx="256.74" cy="793.64" r="1.35" fill="#000"/>
<circle cx="253.81" cy="794" r="1.35" fill="#000"/>
<circle cx="255.23" cy="794.24" r="1.35" fill="#000"/>
<line x1="265.98" y1="760.63" x2="265.98" y2="777.73" stroke="#111" stroke-width="0.75"/>
<line x1="264.08" y1="760.63" x2="267.88" y2="760.63" stroke="#111" stroke-width="0.75"/>
<line x1="264.08" y1="777.73" x2="267.88" y2="777.73" stroke="#111" stroke-width="0.75"/>
<circle cx="264.69" cy="727.74" r="1.35" fill="#000"/>
<circle cx="266.68" cy="757.42" r="1.35" fill="#000"/>
<circle cx="268.04" cy="771.67" r="1.35" fill="#000"/>
<circle cx="265.64" cy="777.61" r="1.35" fill="#000"/>
<circle cx="268.55" cy="779.99" r="1.35" fill="#000"/>
<line x1="276.68" y1="789.72" x2="276.68" y2="792.57" stroke="#111" stroke-width="0.75"/>
<line x1="274.78" y1="789.72" x2="278.58" y2="789.72" stroke="#111" stroke-width="0.75"/>
<line x1="274.78" y1="792.57" x2="278.58" y2="792.57" stroke="#111" stroke-width="0.75"/>
<circle cx="275.47" cy="788.3" r="1.35" fill="#000"/>
<circle cx="277.75" cy="789.49" r="1.35" fill="#000"/>
<circle cx="277.64" cy="791.86" r="1.35" fill="#000"/>
<circle cx="276.72" cy="793.05" r="1.35" fill="#000"/>
<circle cx="278.39" cy="794.24" r="1.35" fill="#000"/>
<line x1="294.5" y1="794.83" x2="294.5" y2="796.02" stroke="#111" stroke-width="0.75"/>
<line x1="292.6" y1="794.83" x2="296.4" y2="794.83" stroke="#111" stroke-width="0.75"/>
<line x1="292.6" y1="796.02" x2="296.4" y2="796.02" stroke="#111" stroke-width="0.75"/>
<circle cx="295.84" cy="794.24" r="1.35" fill="#000"/>
<circle cx="292.64" cy="794.83" r="1.35" fill="#000"/>
<circle cx="295.84" cy="795.42" r="1.35" fill="#000"/>
<circle cx="296.46" cy="796.02" r="1.35" fill="#000"/>
<circle cx="294.18" cy="796.61" r="1.35" fill="#000"/>
<line x1="305.2" y1="793.17" x2="305.2" y2="799.34" stroke="#111" stroke-width="0.75"/>
<line x1="303.3" y1="793.17" x2="307.1" y2="793.17" stroke="#111" stroke-width="0.75"/>
<line x1="303.3" y1="799.34" x2="307.1" y2="799.34" stroke="#111" stroke-width="0.75"/>
<circle cx="303.33" cy="788.3" r="1.35" fill="#000"/>
<circle cx="304.73" cy="789.49" r="1.35" fill="#000"/>
<circle cx="306.61" cy="796.61" r="1.35" fill="#000"/>
<circle cx="304.36" cy="798.99" r="1.35" fill="#000"/>
<circle cx="307.7" cy="803.74" r="1.35" fill="#000"/>
<line x1="315.9" y1="782.01" x2="315.9" y2="789.13" stroke="#111" stroke-width="0.75"/>
<line x1="314" y1="782.01" x2="317.8" y2="782.01" stroke="#111" stroke-width="0.75"/>
<line x1="314" y1="789.13" x2="317.8" y2="789.13" stroke="#111" stroke-width="0.75"/>
<circle cx="316.5" cy="769.3" r="1.35" fill="#000"/>
<circle cx="314.02" cy="783.55" r="1.35" fill="#000"/>
<circle cx="314.84" cy="784.74" r="1.35" fill="#000"/>
<circle cx="316.08" cy="788.3" r="1.35" fill="#000"/>
<circle cx="314.7" cy="793.05" r="1.35" fill="#000"/>
<line x1="326.6" y1="796.02" x2="326.6" y2="798.39" stroke="#111" stroke-width="0.75"/>
<line x1="324.7" y1="796.02" x2="328.5" y2="796.02" stroke="#111" stroke-width="0.75"/>
<line x1="324.7" y1="798.39" x2="328.5" y2="798.39" stroke="#111" stroke-width="0.75"/>
<circle cx="326.83" cy="793.05" r="1.35" fill="#000"/>
<circle cx="325" cy="794.24" r="1.35" fill="#000"/>
<circle cx="324.95" cy="796.61" r="1.35" fill="#000"/>
<circle cx="325.28" cy="798.99" r="1.35" fill="#000"/>
<circle cx="328.02" cy="800.17" r="1.35" fill="#000"/>
<line x1="36.9" y1="807.3" x2="333.9" y2="807.3" stroke="#333333" stroke-width="0.8"/>
<line x1="60.4" y1="807.3" x2="60.4" y2="811.9" stroke="#333333" stroke-width="0.8"/>
<line x1="110.32" y1="807.3" x2="110.32" y2="811.9" stroke="#333333" stroke-width="0.8"/>
<line x1="160.24" y1="807.3" x2="160.24" y2="811.9" stroke="#333333" stroke-width="0.8"/>
<line x1="210.16" y1="807.3" x2="210.16" y2="811.9" stroke="#333333" stroke-width="0.8"/>
<line x1="260.08" y1="807.3" x2="260.08" y2="811.9" stroke="#333333" stroke-width="0.8"/>
<line x1="310" y1="807.3" x2="310" y2="811.9" stroke="#333333" stroke-width="0.8"/>
<text x="0" y="0" font-size="9.02" text-anchor="middle" font-style="italic" transform="translate(60.4 822) scale(0.91 1)">Hmgcr</text>
<text x="0" y="0" font-size="9.02" text-anchor="middle" font-style="italic" transform="translate(110.32 822) scale(0.91 1)">Srebp1c</text>
<text x="0" y="0" font-size="9.02" text-anchor="middle" font-style="italic" transform="translate(160.24 822) scale(0.91 1)">Screbp2</text>
<text x="0" y="0" font-size="9.02" text-anchor="middle" font-style="italic" transform="translate(210.16 822) scale(0.91 1)">Cyp7a1</text>
<text x="0" y="0" font-size="9.02" text-anchor="middle" font-style="italic" transform="translate(260.08 822) scale(0.91 1)">Abcg1</text>
<text x="0" y="0" font-size="9.02" text-anchor="middle" font-style="italic" transform="translate(310 822) scale(0.91 1)">Ldlr</text>
<text x="0" y="0" font-size="8.58" text-anchor="middle" transform="translate(20.6 758) rotate(-90) scale(0.91 1)">Expression relative to <tspan font-style="italic">Gapdh</tspan></text>
<polyline points="42,704.8 42,699.5 175.7,699.5 175.7,704.8" fill="none" stroke="#333333" stroke-width="0.8"/>
<text x="0" y="0" font-size="9.02" text-anchor="middle" transform="translate(108.9 693) scale(0.91 1)">Biosynthesis</text>
<polyline points="192,704.8 192,699.5 226.6,699.5 226.6,704.8" fill="none" stroke="#333333" stroke-width="0.8"/>
<text x="0" y="0" font-size="9.02" text-anchor="middle" transform="translate(207.8 693) scale(0.91 1)">Degradation</text>
<polyline points="243.3,704.8 243.3,699.5 277.7,699.5 277.7,704.8" fill="none" stroke="#333333" stroke-width="0.8"/>
<text x="0" y="0" font-size="9.02" text-anchor="middle" transform="translate(260 693) scale(0.91 1)">Export</text>
<polyline points="293.4,704.8 293.4,699.5 327.7,699.5 327.7,704.8" fill="none" stroke="#333333" stroke-width="0.8"/>
<text x="0" y="0" font-size="9.02" text-anchor="middle" transform="translate(310.1 693) scale(0.91 1)">Uptake</text>
<line x1="45.2" y1="718.1" x2="66.6" y2="718.1" stroke="#666" stroke-width="0.9"/>
<text x="55.9" y="716.6" font-size="5" text-anchor="middle" fill="#3a3a3a" style="stroke:none">p=0.004</text>
<line x1="66.6" y1="725.4" x2="77.4" y2="725.4" stroke="#666" stroke-width="0.9"/>
<text x="72" y="723.9" font-size="5" text-anchor="middle" fill="#3a3a3a" style="stroke:none">p=0.021</text>
<line x1="194.6" y1="718.1" x2="215.3" y2="718.1" stroke="#666" stroke-width="0.9"/>
<text x="204.95" y="716.6" font-size="5" text-anchor="middle" fill="#3a3a3a" style="stroke:none">p=0.001</text>
<line x1="213.3" y1="725.3" x2="226.2" y2="725.3" stroke="#666" stroke-width="0.9"/>
<text x="219.75" y="723.8" font-size="5" text-anchor="middle" fill="#3a3a3a" style="stroke:none">p=0.002</text>
<line x1="243.9" y1="718.5" x2="264.4" y2="718.5" stroke="#666" stroke-width="0.9"/>
<text x="254.15" y="717" font-size="5" text-anchor="middle" fill="#3a3a3a" style="stroke:none">p=0.016</text>
<line x1="265" y1="725.3" x2="276.6" y2="725.3" stroke="#666" stroke-width="0.9"/>
<text x="270.8" y="723.8" font-size="5" text-anchor="middle" fill="#3a3a3a" style="stroke:none">p=0.048</text>
<line x1="316.1" y1="725.3" x2="326.7" y2="725.3" stroke="#666" stroke-width="0.9"/>
<text x="321.4" y="723.8" font-size="5" text-anchor="middle" fill="#3a3a3a" style="stroke:none">p=0.069</text>
<text x="0" y="0" font-size="13" font-weight="bold" fill="#000" transform="translate(353.6 676.6) scale(0.9 1)">l</text>
<line x1="388.5" y1="710.2" x2="388.5" y2="805.2" stroke="#333333" stroke-width="0.8"/>
<line x1="384.1" y1="805.2" x2="388.5" y2="805.2" stroke="#333333" stroke-width="0.8"/>
<text x="0" y="0" font-size="8.8" text-anchor="end" transform="translate(382.7 808.08) scale(0.91 1)">0</text>
<line x1="384.1" y1="786.2" x2="388.5" y2="786.2" stroke="#333333" stroke-width="0.8"/>
<text x="0" y="0" font-size="8.8" text-anchor="end" transform="translate(382.7 789.08) scale(0.91 1)">1</text>
<line x1="384.1" y1="767.2" x2="388.5" y2="767.2" stroke="#333333" stroke-width="0.8"/>
<text x="0" y="0" font-size="8.8" text-anchor="end" transform="translate(382.7 770.08) scale(0.91 1)">2</text>
<line x1="384.1" y1="748.2" x2="388.5" y2="748.2" stroke="#333333" stroke-width="0.8"/>
<text x="0" y="0" font-size="8.8" text-anchor="end" transform="translate(382.7 751.08) scale(0.91 1)">3</text>
<line x1="384.1" y1="729.2" x2="388.5" y2="729.2" stroke="#333333" stroke-width="0.8"/>
<text x="0" y="0" font-size="8.8" text-anchor="end" transform="translate(382.7 732.08) scale(0.91 1)">4</text>
<line x1="384.1" y1="710.2" x2="388.5" y2="710.2" stroke="#333333" stroke-width="0.8"/>
<text x="0" y="0" font-size="8.8" text-anchor="end" transform="translate(382.7 713.08) scale(0.91 1)">5</text>
<rect x="392.3" y="785.63" width="7.2" height="19.57" fill="#ffffff"/>
<line x1="392.3" y1="785.23" x2="392.3" y2="805.2" stroke="#333333" stroke-width="0.8"/>
<line x1="399.5" y1="785.23" x2="399.5" y2="805.2" stroke="#333333" stroke-width="0.8"/>
<line x1="392.3" y1="785.63" x2="399.5" y2="785.63" stroke="#333333" stroke-width="0.8"/>
<rect x="403" y="780.31" width="7.2" height="24.89" fill="#8aabd8"/>
<line x1="403" y1="779.91" x2="403" y2="805.2" stroke="#333333" stroke-width="0.8"/>
<line x1="410.2" y1="779.91" x2="410.2" y2="805.2" stroke="#333333" stroke-width="0.8"/>
<line x1="403" y1="780.31" x2="410.2" y2="780.31" stroke="#333333" stroke-width="0.8"/>
<rect x="413.7" y="790.57" width="7.2" height="14.63" fill="#808080"/>
<line x1="413.7" y1="790.17" x2="413.7" y2="805.2" stroke="#333333" stroke-width="0.8"/>
<line x1="420.9" y1="790.17" x2="420.9" y2="805.2" stroke="#333333" stroke-width="0.8"/>
<line x1="413.7" y1="790.57" x2="420.9" y2="790.57" stroke="#333333" stroke-width="0.8"/>
<rect x="424.4" y="791.9" width="7.2" height="13.3" fill="#ff0000"/>
<line x1="424.4" y1="791.5" x2="424.4" y2="805.2" stroke="#333333" stroke-width="0.8"/>
<line x1="431.6" y1="791.5" x2="431.6" y2="805.2" stroke="#333333" stroke-width="0.8"/>
<line x1="424.4" y1="791.9" x2="431.6" y2="791.9" stroke="#333333" stroke-width="0.8"/>
<rect x="442.12" y="786.2" width="7.2" height="19" fill="#ffffff"/>
<line x1="442.12" y1="785.8" x2="442.12" y2="805.2" stroke="#333333" stroke-width="0.8"/>
<line x1="449.32" y1="785.8" x2="449.32" y2="805.2" stroke="#333333" stroke-width="0.8"/>
<line x1="442.12" y1="786.2" x2="449.32" y2="786.2" stroke="#333333" stroke-width="0.8"/>
<rect x="452.82" y="779.93" width="7.2" height="25.27" fill="#8aabd8"/>
<line x1="452.82" y1="779.53" x2="452.82" y2="805.2" stroke="#333333" stroke-width="0.8"/>
<line x1="460.02" y1="779.53" x2="460.02" y2="805.2" stroke="#333333" stroke-width="0.8"/>
<line x1="452.82" y1="779.93" x2="460.02" y2="779.93" stroke="#333333" stroke-width="0.8"/>
<rect x="463.52" y="787.34" width="7.2" height="17.86" fill="#808080"/>
<line x1="463.52" y1="786.94" x2="463.52" y2="805.2" stroke="#333333" stroke-width="0.8"/>
<line x1="470.72" y1="786.94" x2="470.72" y2="805.2" stroke="#333333" stroke-width="0.8"/>
<line x1="463.52" y1="787.34" x2="470.72" y2="787.34" stroke="#333333" stroke-width="0.8"/>
<rect x="474.22" y="783.92" width="7.2" height="21.28" fill="#ff0000"/>
<line x1="474.22" y1="783.52" x2="474.22" y2="805.2" stroke="#333333" stroke-width="0.8"/>
<line x1="481.42" y1="783.52" x2="481.42" y2="805.2" stroke="#333333" stroke-width="0.8"/>
<line x1="474.22" y1="783.92" x2="481.42" y2="783.92" stroke="#333333" stroke-width="0.8"/>
<rect x="491.94" y="786.58" width="7.2" height="18.62" fill="#ffffff"/>
<line x1="491.94" y1="786.18" x2="491.94" y2="805.2" stroke="#333333" stroke-width="0.8"/>
<line x1="499.14" y1="786.18" x2="499.14" y2="805.2" stroke="#333333" stroke-width="0.8"/>
<line x1="491.94" y1="786.58" x2="499.14" y2="786.58" stroke="#333333" stroke-width="0.8"/>
<rect x="502.64" y="783.54" width="7.2" height="21.66" fill="#8aabd8"/>
<line x1="502.64" y1="783.14" x2="502.64" y2="805.2" stroke="#333333" stroke-width="0.8"/>
<line x1="509.84" y1="783.14" x2="509.84" y2="805.2" stroke="#333333" stroke-width="0.8"/>
<line x1="502.64" y1="783.54" x2="509.84" y2="783.54" stroke="#333333" stroke-width="0.8"/>
<rect x="513.34" y="780.5" width="7.2" height="24.7" fill="#808080"/>
<line x1="513.34" y1="780.1" x2="513.34" y2="805.2" stroke="#333333" stroke-width="0.8"/>
<line x1="520.54" y1="780.1" x2="520.54" y2="805.2" stroke="#333333" stroke-width="0.8"/>
<line x1="513.34" y1="780.5" x2="520.54" y2="780.5" stroke="#333333" stroke-width="0.8"/>
<rect x="524.04" y="789.24" width="7.2" height="15.96" fill="#ff0000"/>
<line x1="524.04" y1="788.84" x2="524.04" y2="805.2" stroke="#333333" stroke-width="0.8"/>
<line x1="531.24" y1="788.84" x2="531.24" y2="805.2" stroke="#333333" stroke-width="0.8"/>
<line x1="524.04" y1="789.24" x2="531.24" y2="789.24" stroke="#333333" stroke-width="0.8"/>
<rect x="541.76" y="786.2" width="7.2" height="19" fill="#ffffff"/>
<line x1="541.76" y1="785.8" x2="541.76" y2="805.2" stroke="#333333" stroke-width="0.8"/>
<line x1="548.96" y1="785.8" x2="548.96" y2="805.2" stroke="#333333" stroke-width="0.8"/>
<line x1="541.76" y1="786.2" x2="548.96" y2="786.2" stroke="#333333" stroke-width="0.8"/>
<rect x="552.46" y="787.34" width="7.2" height="17.86" fill="#8aabd8"/>
<line x1="552.46" y1="786.94" x2="552.46" y2="805.2" stroke="#333333" stroke-width="0.8"/>
<line x1="559.66" y1="786.94" x2="559.66" y2="805.2" stroke="#333333" stroke-width="0.8"/>
<line x1="552.46" y1="787.34" x2="559.66" y2="787.34" stroke="#333333" stroke-width="0.8"/>
<rect x="563.16" y="773.66" width="7.2" height="31.54" fill="#808080"/>
<line x1="563.16" y1="773.26" x2="563.16" y2="805.2" stroke="#333333" stroke-width="0.8"/>
<line x1="570.36" y1="773.26" x2="570.36" y2="805.2" stroke="#333333" stroke-width="0.8"/>
<line x1="563.16" y1="773.66" x2="570.36" y2="773.66" stroke="#333333" stroke-width="0.8"/>
<rect x="573.86" y="779.93" width="7.2" height="25.27" fill="#ff0000"/>
<line x1="573.86" y1="779.53" x2="573.86" y2="805.2" stroke="#333333" stroke-width="0.8"/>
<line x1="581.06" y1="779.53" x2="581.06" y2="805.2" stroke="#333333" stroke-width="0.8"/>
<line x1="573.86" y1="779.93" x2="581.06" y2="779.93" stroke="#333333" stroke-width="0.8"/>
<rect x="591.58" y="786.2" width="7.2" height="19" fill="#ffffff"/>
<line x1="591.58" y1="785.8" x2="591.58" y2="805.2" stroke="#333333" stroke-width="0.8"/>
<line x1="598.78" y1="785.8" x2="598.78" y2="805.2" stroke="#333333" stroke-width="0.8"/>
<line x1="591.58" y1="786.2" x2="598.78" y2="786.2" stroke="#333333" stroke-width="0.8"/>
<rect x="602.28" y="777.46" width="7.2" height="27.74" fill="#8aabd8"/>
<line x1="602.28" y1="777.06" x2="602.28" y2="805.2" stroke="#333333" stroke-width="0.8"/>
<line x1="609.48" y1="777.06" x2="609.48" y2="805.2" stroke="#333333" stroke-width="0.8"/>
<line x1="602.28" y1="777.46" x2="609.48" y2="777.46" stroke="#333333" stroke-width="0.8"/>
<rect x="612.98" y="758.84" width="7.2" height="46.36" fill="#808080"/>
<line x1="612.98" y1="758.44" x2="612.98" y2="805.2" stroke="#333333" stroke-width="0.8"/>
<line x1="620.18" y1="758.44" x2="620.18" y2="805.2" stroke="#333333" stroke-width="0.8"/>
<line x1="612.98" y1="758.84" x2="620.18" y2="758.84" stroke="#333333" stroke-width="0.8"/>
<rect x="623.68" y="772.9" width="7.2" height="32.3" fill="#ff0000"/>
<line x1="623.68" y1="772.5" x2="623.68" y2="805.2" stroke="#333333" stroke-width="0.8"/>
<line x1="630.88" y1="772.5" x2="630.88" y2="805.2" stroke="#333333" stroke-width="0.8"/>
<line x1="623.68" y1="772.9" x2="630.88" y2="772.9" stroke="#333333" stroke-width="0.8"/>
<rect x="641.4" y="786.2" width="7.2" height="19" fill="#ffffff"/>
<line x1="641.4" y1="785.8" x2="641.4" y2="805.2" stroke="#333333" stroke-width="0.8"/>
<line x1="648.6" y1="785.8" x2="648.6" y2="805.2" stroke="#333333" stroke-width="0.8"/>
<line x1="641.4" y1="786.2" x2="648.6" y2="786.2" stroke="#333333" stroke-width="0.8"/>
<rect x="652.1" y="789.05" width="7.2" height="16.15" fill="#8aabd8"/>
<line x1="652.1" y1="788.65" x2="652.1" y2="805.2" stroke="#333333" stroke-width="0.8"/>
<line x1="659.3" y1="788.65" x2="659.3" y2="805.2" stroke="#333333" stroke-width="0.8"/>
<line x1="652.1" y1="789.05" x2="659.3" y2="789.05" stroke="#333333" stroke-width="0.8"/>
<rect x="662.8" y="753.14" width="7.2" height="52.06" fill="#808080"/>
<line x1="662.8" y1="752.74" x2="662.8" y2="805.2" stroke="#333333" stroke-width="0.8"/>
<line x1="670" y1="752.74" x2="670" y2="805.2" stroke="#333333" stroke-width="0.8"/>
<line x1="662.8" y1="753.14" x2="670" y2="753.14" stroke="#333333" stroke-width="0.8"/>
<rect x="673.5" y="770.62" width="7.2" height="34.58" fill="#ff0000"/>
<line x1="673.5" y1="770.22" x2="673.5" y2="805.2" stroke="#333333" stroke-width="0.8"/>
<line x1="680.7" y1="770.22" x2="680.7" y2="805.2" stroke="#333333" stroke-width="0.8"/>
<line x1="673.5" y1="770.62" x2="680.7" y2="770.62" stroke="#333333" stroke-width="0.8"/>
<line x1="395.9" y1="783.35" x2="395.9" y2="787.91" stroke="#111" stroke-width="0.75"/>
<line x1="394" y1="783.35" x2="397.8" y2="783.35" stroke="#111" stroke-width="0.75"/>
<line x1="394" y1="787.91" x2="397.8" y2="787.91" stroke="#111" stroke-width="0.75"/>
<circle cx="396.83" cy="775.75" r="1.35" fill="#000"/>
<circle cx="398.33" cy="784.3" r="1.35" fill="#000"/>
<circle cx="393.46" cy="786.58" r="1.35" fill="#000"/>
<circle cx="395.65" cy="791.9" r="1.35" fill="#000"/>
<circle cx="395.96" cy="795.7" r="1.35" fill="#000"/>
<line x1="406.6" y1="778.79" x2="406.6" y2="781.83" stroke="#111" stroke-width="0.75"/>
<line x1="404.7" y1="778.79" x2="408.5" y2="778.79" stroke="#111" stroke-width="0.75"/>
<line x1="404.7" y1="781.83" x2="408.5" y2="781.83" stroke="#111" stroke-width="0.75"/>
<circle cx="404.47" cy="776.7" r="1.35" fill="#000"/>
<circle cx="405.82" cy="779.55" r="1.35" fill="#000"/>
<circle cx="408.22" cy="780.5" r="1.35" fill="#000"/>
<circle cx="406.57" cy="781.45" r="1.35" fill="#000"/>
<circle cx="406.58" cy="786.2" r="1.35" fill="#000"/>
<line x1="417.3" y1="787.72" x2="417.3" y2="793.42" stroke="#111" stroke-width="0.75"/>
<line x1="415.4" y1="787.72" x2="419.2" y2="787.72" stroke="#111" stroke-width="0.75"/>
<line x1="415.4" y1="793.42" x2="419.2" y2="793.42" stroke="#111" stroke-width="0.75"/>
<circle cx="417.56" cy="781.45" r="1.35" fill="#000"/>
<circle cx="417.57" cy="786.2" r="1.35" fill="#000"/>
<circle cx="416.32" cy="790" r="1.35" fill="#000"/>
<circle cx="416.28" cy="793.8" r="1.35" fill="#000"/>
<circle cx="415.6" cy="799.5" r="1.35" fill="#000"/>
<line x1="428" y1="789.62" x2="428" y2="794.18" stroke="#111" stroke-width="0.75"/>
<line x1="426.1" y1="789.62" x2="429.9" y2="789.62" stroke="#111" stroke-width="0.75"/>
<line x1="426.1" y1="794.18" x2="429.9" y2="794.18" stroke="#111" stroke-width="0.75"/>
<circle cx="425.89" cy="786.2" r="1.35" fill="#000"/>
<circle cx="427.94" cy="788.1" r="1.35" fill="#000"/>
<circle cx="427.5" cy="791.9" r="1.35" fill="#000"/>
<circle cx="426.63" cy="795.7" r="1.35" fill="#000"/>
<circle cx="430.6" cy="800.45" r="1.35" fill="#000"/>
<line x1="445.72" y1="785.25" x2="445.72" y2="787.15" stroke="#111" stroke-width="0.75"/>
<line x1="443.82" y1="785.25" x2="447.62" y2="785.25" stroke="#111" stroke-width="0.75"/>
<line x1="443.82" y1="787.15" x2="447.62" y2="787.15" stroke="#111" stroke-width="0.75"/>
<circle cx="445.61" cy="783.35" r="1.35" fill="#000"/>
<circle cx="445.51" cy="785.25" r="1.35" fill="#000"/>
<circle cx="448.2" cy="786.2" r="1.35" fill="#000"/>
<circle cx="447.53" cy="787.15" r="1.35" fill="#000"/>
<circle cx="443.37" cy="788.1" r="1.35" fill="#000"/>
<line x1="456.42" y1="778.41" x2="456.42" y2="781.45" stroke="#111" stroke-width="0.75"/>
<line x1="454.52" y1="778.41" x2="458.32" y2="778.41" stroke="#111" stroke-width="0.75"/>
<line x1="454.52" y1="781.45" x2="458.32" y2="781.45" stroke="#111" stroke-width="0.75"/>
<circle cx="456.39" cy="776.7" r="1.35" fill="#000"/>
<circle cx="458.31" cy="777.65" r="1.35" fill="#000"/>
<circle cx="454.12" cy="779.55" r="1.35" fill="#000"/>
<circle cx="455.24" cy="782.4" r="1.35" fill="#000"/>
<circle cx="458.59" cy="784.3" r="1.35" fill="#000"/>
<line x1="467.12" y1="785.44" x2="467.12" y2="789.24" stroke="#111" stroke-width="0.75"/>
<line x1="465.22" y1="785.44" x2="469.02" y2="785.44" stroke="#111" stroke-width="0.75"/>
<line x1="465.22" y1="789.24" x2="469.02" y2="789.24" stroke="#111" stroke-width="0.75"/>
<circle cx="469.41" cy="778.6" r="1.35" fill="#000"/>
<circle cx="464.47" cy="786.2" r="1.35" fill="#000"/>
<circle cx="466.05" cy="788.1" r="1.35" fill="#000"/>
<circle cx="466.13" cy="790" r="1.35" fill="#000"/>
<circle cx="469.24" cy="791.9" r="1.35" fill="#000"/>
<line x1="477.82" y1="780.88" x2="477.82" y2="786.96" stroke="#111" stroke-width="0.75"/>
<line x1="475.92" y1="780.88" x2="479.72" y2="780.88" stroke="#111" stroke-width="0.75"/>
<line x1="475.92" y1="786.96" x2="479.72" y2="786.96" stroke="#111" stroke-width="0.75"/>
<circle cx="477.1" cy="773.85" r="1.35" fill="#000"/>
<circle cx="475.66" cy="780.5" r="1.35" fill="#000"/>
<circle cx="476.01" cy="782.4" r="1.35" fill="#000"/>
<circle cx="479.46" cy="786.2" r="1.35" fill="#000"/>
<circle cx="476.08" cy="788.1" r="1.35" fill="#000"/>
<line x1="495.54" y1="783.92" x2="495.54" y2="789.24" stroke="#111" stroke-width="0.75"/>
<line x1="493.64" y1="783.92" x2="497.44" y2="783.92" stroke="#111" stroke-width="0.75"/>
<line x1="493.64" y1="789.24" x2="497.44" y2="789.24" stroke="#111" stroke-width="0.75"/>
<circle cx="494.81" cy="775.75" r="1.35" fill="#000"/>
<circle cx="496.35" cy="784.3" r="1.35" fill="#000"/>
<circle cx="496.73" cy="786.2" r="1.35" fill="#000"/>
<circle cx="495.22" cy="790" r="1.35" fill="#000"/>
<circle cx="497.9" cy="791.9" r="1.35" fill="#000"/>
<line x1="506.24" y1="781.26" x2="506.24" y2="785.82" stroke="#111" stroke-width="0.75"/>
<line x1="504.34" y1="781.26" x2="508.14" y2="781.26" stroke="#111" stroke-width="0.75"/>
<line x1="504.34" y1="785.82" x2="508.14" y2="785.82" stroke="#111" stroke-width="0.75"/>
<circle cx="503.81" cy="773.85" r="1.35" fill="#000"/>
<circle cx="505.59" cy="782.4" r="1.35" fill="#000"/>
<circle cx="507.81" cy="784.3" r="1.35" fill="#000"/>
<circle cx="507.95" cy="787.15" r="1.35" fill="#000"/>
<circle cx="505.19" cy="788.1" r="1.35" fill="#000"/>
<line x1="516.94" y1="777.08" x2="516.94" y2="783.92" stroke="#111" stroke-width="0.75"/>
<line x1="515.04" y1="777.08" x2="518.84" y2="777.08" stroke="#111" stroke-width="0.75"/>
<line x1="515.04" y1="783.92" x2="518.84" y2="783.92" stroke="#111" stroke-width="0.75"/>
<circle cx="518.1" cy="771.95" r="1.35" fill="#000"/>
<circle cx="517.34" cy="776.7" r="1.35" fill="#000"/>
<circle cx="518.98" cy="780.5" r="1.35" fill="#000"/>
<circle cx="515.14" cy="784.3" r="1.35" fill="#000"/>
<circle cx="519.34" cy="788.1" r="1.35" fill="#000"/>
<line x1="527.64" y1="787.34" x2="527.64" y2="791.14" stroke="#111" stroke-width="0.75"/>
<line x1="525.74" y1="787.34" x2="529.54" y2="787.34" stroke="#111" stroke-width="0.75"/>
<line x1="525.74" y1="791.14" x2="529.54" y2="791.14" stroke="#111" stroke-width="0.75"/>
<circle cx="525.43" cy="782.4" r="1.35" fill="#000"/>
<circle cx="530.14" cy="788.1" r="1.35" fill="#000"/>
<circle cx="527.79" cy="790" r="1.35" fill="#000"/>
<circle cx="527.24" cy="791.9" r="1.35" fill="#000"/>
<circle cx="530.08" cy="793.8" r="1.35" fill="#000"/>
<line x1="545.36" y1="783.92" x2="545.36" y2="788.48" stroke="#111" stroke-width="0.75"/>
<line x1="543.46" y1="783.92" x2="547.26" y2="783.92" stroke="#111" stroke-width="0.75"/>
<line x1="543.46" y1="788.48" x2="547.26" y2="788.48" stroke="#111" stroke-width="0.75"/>
<circle cx="542.83" cy="776.7" r="1.35" fill="#000"/>
<circle cx="545.97" cy="784.3" r="1.35" fill="#000"/>
<circle cx="546.52" cy="786.2" r="1.35" fill="#000"/>
<circle cx="544.56" cy="788.1" r="1.35" fill="#000"/>
<circle cx="546.14" cy="791.9" r="1.35" fill="#000"/>
<line x1="556.06" y1="785.44" x2="556.06" y2="789.24" stroke="#111" stroke-width="0.75"/>
<line x1="554.16" y1="785.44" x2="557.96" y2="785.44" stroke="#111" stroke-width="0.75"/>
<line x1="554.16" y1="789.24" x2="557.96" y2="789.24" stroke="#111" stroke-width="0.75"/>
<circle cx="558.19" cy="780.5" r="1.35" fill="#000"/>
<circle cx="553.48" cy="782.4" r="1.35" fill="#000"/>
<circle cx="556.57" cy="786.2" r="1.35" fill="#000"/>
<circle cx="556.64" cy="788.1" r="1.35" fill="#000"/>
<circle cx="555.45" cy="791.9" r="1.35" fill="#000"/>
<line x1="566.76" y1="771.38" x2="566.76" y2="775.94" stroke="#111" stroke-width="0.75"/>
<line x1="564.86" y1="771.38" x2="568.66" y2="771.38" stroke="#111" stroke-width="0.75"/>
<line x1="564.86" y1="775.94" x2="568.66" y2="775.94" stroke="#111" stroke-width="0.75"/>
<circle cx="567.3" cy="763.4" r="1.35" fill="#000"/>
<circle cx="568.51" cy="769.1" r="1.35" fill="#000"/>
<circle cx="565.38" cy="772.9" r="1.35" fill="#000"/>
<circle cx="564.1" cy="774.8" r="1.35" fill="#000"/>
<circle cx="568.82" cy="776.7" r="1.35" fill="#000"/>
<line x1="577.46" y1="776.89" x2="577.46" y2="782.97" stroke="#111" stroke-width="0.75"/>
<line x1="575.56" y1="776.89" x2="579.36" y2="776.89" stroke="#111" stroke-width="0.75"/>
<line x1="575.56" y1="782.97" x2="579.36" y2="782.97" stroke="#111" stroke-width="0.75"/>
<circle cx="579.6" cy="769.1" r="1.35" fill="#000"/>
<circle cx="576.31" cy="770.05" r="1.35" fill="#000"/>
<circle cx="578.08" cy="778.6" r="1.35" fill="#000"/>
<circle cx="576.61" cy="782.4" r="1.35" fill="#000"/>
<circle cx="575.42" cy="790" r="1.35" fill="#000"/>
<line x1="595.18" y1="784.68" x2="595.18" y2="787.72" stroke="#111" stroke-width="0.75"/>
<line x1="593.28" y1="784.68" x2="597.08" y2="784.68" stroke="#111" stroke-width="0.75"/>
<line x1="593.28" y1="787.72" x2="597.08" y2="787.72" stroke="#111" stroke-width="0.75"/>
<circle cx="593.34" cy="782.4" r="1.35" fill="#000"/>
<circle cx="593.06" cy="784.3" r="1.35" fill="#000"/>
<circle cx="594.7" cy="786.2" r="1.35" fill="#000"/>
<circle cx="592.97" cy="788.1" r="1.35" fill="#000"/>
<circle cx="597.29" cy="789.05" r="1.35" fill="#000"/>
<line x1="605.88" y1="775.56" x2="605.88" y2="779.36" stroke="#111" stroke-width="0.75"/>
<line x1="603.98" y1="775.56" x2="607.78" y2="775.56" stroke="#111" stroke-width="0.75"/>
<line x1="603.98" y1="779.36" x2="607.78" y2="779.36" stroke="#111" stroke-width="0.75"/>
<circle cx="603.87" cy="772.9" r="1.35" fill="#000"/>
<circle cx="604.91" cy="776.7" r="1.35" fill="#000"/>
<circle cx="607.68" cy="778.6" r="1.35" fill="#000"/>
<circle cx="604.53" cy="780.5" r="1.35" fill="#000"/>
<circle cx="606.38" cy="782.4" r="1.35" fill="#000"/>
<line x1="616.58" y1="755.04" x2="616.58" y2="762.64" stroke="#111" stroke-width="0.75"/>
<line x1="614.68" y1="755.04" x2="618.48" y2="755.04" stroke="#111" stroke-width="0.75"/>
<line x1="614.68" y1="762.64" x2="618.48" y2="762.64" stroke="#111" stroke-width="0.75"/>
<circle cx="616.42" cy="746.3" r="1.35" fill="#000"/>
<circle cx="615.61" cy="752" r="1.35" fill="#000"/>
<circle cx="616.76" cy="757.7" r="1.35" fill="#000"/>
<circle cx="618.28" cy="761.5" r="1.35" fill="#000"/>
<circle cx="614.29" cy="763.4" r="1.35" fill="#000"/>
<line x1="627.28" y1="769.1" x2="627.28" y2="776.7" stroke="#111" stroke-width="0.75"/>
<line x1="625.38" y1="769.1" x2="629.18" y2="769.1" stroke="#111" stroke-width="0.75"/>
<line x1="625.38" y1="776.7" x2="629.18" y2="776.7" stroke="#111" stroke-width="0.75"/>
<circle cx="626.54" cy="764.35" r="1.35" fill="#000"/>
<circle cx="625.48" cy="767.2" r="1.35" fill="#000"/>
<circle cx="626.17" cy="772.9" r="1.35" fill="#000"/>
<circle cx="625.27" cy="778.6" r="1.35" fill="#000"/>
<circle cx="629.17" cy="780.5" r="1.35" fill="#000"/>
<line x1="645" y1="781.64" x2="645" y2="790.76" stroke="#111" stroke-width="0.75"/>
<line x1="643.1" y1="781.64" x2="646.9" y2="781.64" stroke="#111" stroke-width="0.75"/>
<line x1="643.1" y1="790.76" x2="646.9" y2="790.76" stroke="#111" stroke-width="0.75"/>
<circle cx="643.47" cy="772.9" r="1.35" fill="#000"/>
<circle cx="647.25" cy="778.6" r="1.35" fill="#000"/>
<circle cx="644.95" cy="786.2" r="1.35" fill="#000"/>
<circle cx="647.57" cy="790" r="1.35" fill="#000"/>
<circle cx="643.33" cy="793.8" r="1.35" fill="#000"/>
<line x1="655.7" y1="787.72" x2="655.7" y2="790.38" stroke="#111" stroke-width="0.75"/>
<line x1="653.8" y1="787.72" x2="657.6" y2="787.72" stroke="#111" stroke-width="0.75"/>
<line x1="653.8" y1="790.38" x2="657.6" y2="790.38" stroke="#111" stroke-width="0.75"/>
<circle cx="656.08" cy="784.3" r="1.35" fill="#000"/>
<circle cx="658.31" cy="786.2" r="1.35" fill="#000"/>
<circle cx="654.64" cy="788.1" r="1.35" fill="#000"/>
<circle cx="654.95" cy="790" r="1.35" fill="#000"/>
<circle cx="654.25" cy="791.9" r="1.35" fill="#000"/>
<line x1="666.4" y1="750.48" x2="666.4" y2="755.8" stroke="#111" stroke-width="0.75"/>
<line x1="664.5" y1="750.48" x2="668.3" y2="750.48" stroke="#111" stroke-width="0.75"/>
<line x1="664.5" y1="755.8" x2="668.3" y2="755.8" stroke="#111" stroke-width="0.75"/>
<circle cx="668.67" cy="744.4" r="1.35" fill="#000"/>
<circle cx="668.93" cy="749.15" r="1.35" fill="#000"/>
<circle cx="665.85" cy="753.9" r="1.35" fill="#000"/>
<circle cx="664.58" cy="755.8" r="1.35" fill="#000"/>
<circle cx="666.12" cy="757.7" r="1.35" fill="#000"/>
<line x1="677.1" y1="765.3" x2="677.1" y2="775.94" stroke="#111" stroke-width="0.75"/>
<line x1="675.2" y1="765.3" x2="679" y2="765.3" stroke="#111" stroke-width="0.75"/>
<line x1="675.2" y1="775.94" x2="679" y2="775.94" stroke="#111" stroke-width="0.75"/>
<circle cx="676.22" cy="755.8" r="1.35" fill="#000"/>
<circle cx="679.1" cy="763.4" r="1.35" fill="#000"/>
<circle cx="675.28" cy="771" r="1.35" fill="#000"/>
<circle cx="674.89" cy="780.5" r="1.35" fill="#000"/>
<circle cx="678.55" cy="793.8" r="1.35" fill="#000"/>
<line x1="388.1" y1="805.2" x2="683.9" y2="805.2" stroke="#333333" stroke-width="0.8"/>
<line x1="411.5" y1="805.2" x2="411.5" y2="809.8" stroke="#333333" stroke-width="0.8"/>
<line x1="461.32" y1="805.2" x2="461.32" y2="809.8" stroke="#333333" stroke-width="0.8"/>
<line x1="511.14" y1="805.2" x2="511.14" y2="809.8" stroke="#333333" stroke-width="0.8"/>
<line x1="560.96" y1="805.2" x2="560.96" y2="809.8" stroke="#333333" stroke-width="0.8"/>
<line x1="610.78" y1="805.2" x2="610.78" y2="809.8" stroke="#333333" stroke-width="0.8"/>
<line x1="660.6" y1="805.2" x2="660.6" y2="809.8" stroke="#333333" stroke-width="0.8"/>
<text x="0" y="0" font-size="9.02" text-anchor="middle" font-style="italic" transform="translate(411.5 820) scale(0.91 1)">Fasn</text>
<text x="0" y="0" font-size="9.02" text-anchor="middle" font-style="italic" transform="translate(461.32 820) scale(0.91 1)">Acca</text>
<text x="0" y="0" font-size="9.02" text-anchor="middle" font-style="italic" transform="translate(511.14 820) scale(0.91 1)">Pparg</text>
<text x="0" y="0" font-size="9.02" text-anchor="middle" font-style="italic" transform="translate(560.96 820) scale(0.91 1)">Cpt1a</text>
<text x="0" y="0" font-size="9.02" text-anchor="middle" font-style="italic" transform="translate(610.78 820) scale(0.91 1)">Fatp1</text>
<text x="0" y="0" font-size="9.02" text-anchor="middle" font-style="italic" transform="translate(660.6 820) scale(0.91 1)">Cd36</text>
<text x="0" y="0" font-size="8.58" text-anchor="middle" transform="translate(368.8 754.5) rotate(-90) scale(0.91 1)">Expression relative to <tspan font-style="italic">Gapdh</tspan></text>
<polyline points="395.5,706.8 395.5,701.2 477.4,701.2 477.4,706.8" fill="none" stroke="#333333" stroke-width="0.8"/>
<text x="0" y="0" font-size="9.02" text-anchor="middle" transform="translate(436.5 697) scale(0.91 1)">FA synthesis</text>
<polyline points="494.5,706.8 494.5,701.2 576.8,701.2 576.8,706.8" fill="none" stroke="#333333" stroke-width="0.8"/>
<text x="0" y="0" font-size="9.02" text-anchor="middle" transform="translate(535 697) scale(0.91 1)">FA oxidation</text>
<polyline points="595,706.8 595,701.2 677.8,701.2 677.8,706.8" fill="none" stroke="#333333" stroke-width="0.8"/>
<text x="0" y="0" font-size="9.02" text-anchor="middle" transform="translate(634.6 697) scale(0.91 1)">FA transport</text>
<line x1="545.4" y1="722.3" x2="566.2" y2="722.3" stroke="#666" stroke-width="0.9"/>
<text x="555.8" y="720.8" font-size="5" text-anchor="middle" fill="#3a3a3a" style="stroke:none">p=0.026</text>
<line x1="595.6" y1="722.3" x2="616" y2="722.3" stroke="#666" stroke-width="0.9"/>
<text x="605.8" y="720.8" font-size="5" text-anchor="middle" fill="#3a3a3a" style="stroke:none">p&lt;0.001</text>
<line x1="616.7" y1="729" x2="627.3" y2="729" stroke="#666" stroke-width="0.9"/>
<text x="622" y="727.5" font-size="5" text-anchor="middle" fill="#3a3a3a" style="stroke:none">p=0.023</text>
<line x1="645.4" y1="722.3" x2="665.8" y2="722.3" stroke="#666" stroke-width="0.9"/>
<text x="655.6" y="720.8" font-size="5" text-anchor="middle" fill="#3a3a3a" style="stroke:none">p&lt;0.001</text>
<line x1="656.7" y1="714.8" x2="677.5" y2="714.8" stroke="#666" stroke-width="0.9"/>
<text x="667.1" y="713.3" font-size="5" text-anchor="middle" fill="#3a3a3a" style="stroke:none">p=0.029</text>
<line x1="666.5" y1="729" x2="677.1" y2="729" stroke="#666" stroke-width="0.9"/>
<text x="671.8" y="727.5" font-size="5" text-anchor="middle" fill="#3a3a3a" style="stroke:none">p=0.053</text>
</g></svg></body></html>
